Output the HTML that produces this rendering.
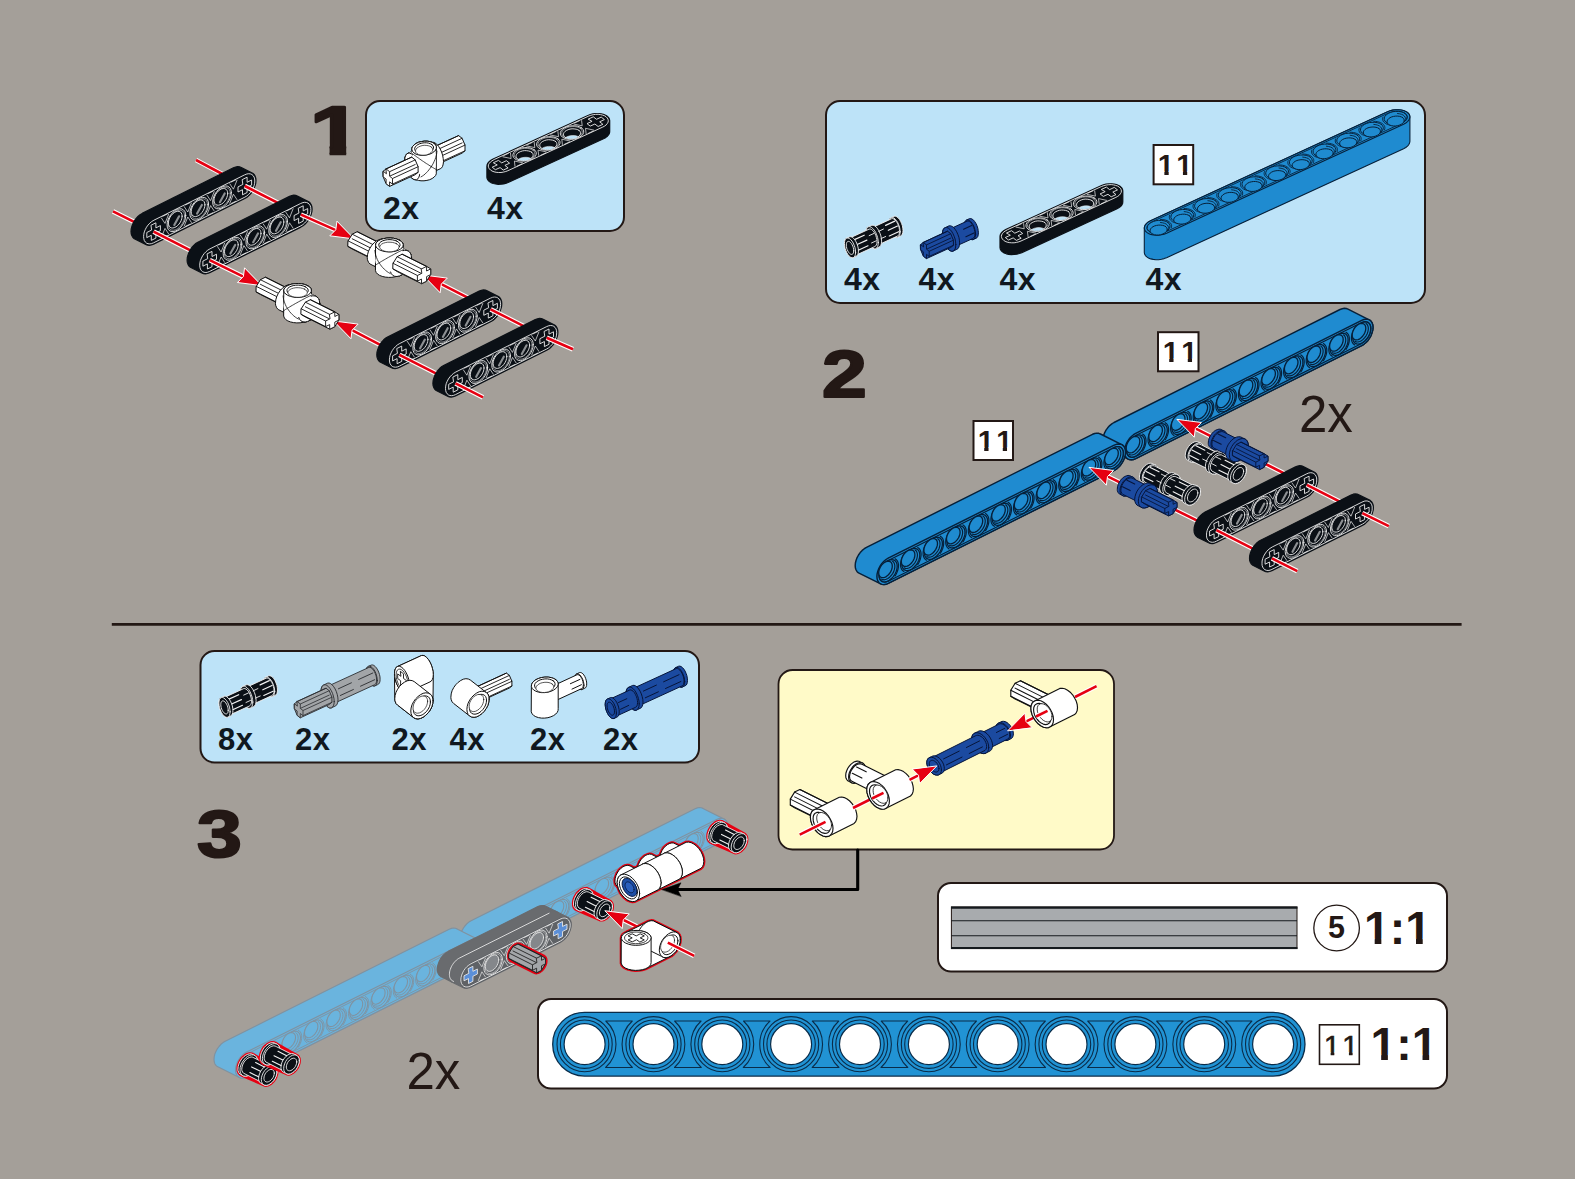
<!DOCTYPE html>
<html><head><meta charset="utf-8"><title>Building instructions</title>
<style>html,body{margin:0;padding:0;background:#a49f99;}svg{display:block}path{stroke-linejoin:round;stroke-linecap:round}</style></head>
<body><svg width="1575" height="1179" viewBox="0 0 1575 1179">
<rect width="1575" height="1179" fill="#a49f99"/>
<line x1="111.8" y1="624.4" x2="1461.6" y2="624.4" stroke="#231815" stroke-width="2.8"/>
<rect x="366" y="101" width="258" height="130" rx="14" ry="14" fill="#bde3f8" stroke="#231815" stroke-width="2"/>
<rect x="826" y="101" width="599" height="202" rx="14" ry="14" fill="#bde3f8" stroke="#231815" stroke-width="2"/>
<rect x="200.5" y="651" width="498.5" height="111.5" rx="14" ry="14" fill="#bde3f8" stroke="#231815" stroke-width="2"/>
<rect x="778.5" y="670" width="335.5" height="179.5" rx="14" ry="14" fill="#fffac8" stroke="#231815" stroke-width="1.8"/>
<rect x="938" y="883" width="509" height="88.5" rx="13" ry="13" fill="#ffffff" stroke="#231815" stroke-width="2"/>
<rect x="538" y="999" width="909" height="89.5" rx="13" ry="13" fill="#ffffff" stroke="#231815" stroke-width="2"/>
<line x1="113.0" y1="211.3" x2="153.6" y2="231.6" stroke="#fff" stroke-width="4.8"/><line x1="113.0" y1="211.3" x2="153.6" y2="231.6" stroke="#e60012" stroke-width="2.6"/>
<line x1="196.0" y1="160.0" x2="244.8" y2="186.0" stroke="#fff" stroke-width="4.8"/><line x1="196.0" y1="160.0" x2="244.8" y2="186.0" stroke="#e60012" stroke-width="2.6"/>
<path d="M131.0,231.5 L131.2,228.9 L131.9,226.3 L132.9,223.6 L134.3,221.0 L136.0,218.6 L137.9,216.5 L140.0,214.7 L142.2,213.4 L233.4,167.8 L235.6,167.0 L237.7,166.6 L239.6,166.8 L241.3,167.5 L252.7,173.2 L254.1,174.4 L255.1,176.1 L255.8,178.1 L256.0,180.4 L255.8,183.0 L255.1,185.6 L254.1,188.3 L252.7,190.9 L251.0,193.3 L249.1,195.4 L247.0,197.2 L244.8,198.5 L153.6,244.1 L151.4,244.9 L149.3,245.3 L147.4,245.1 L145.7,244.4 L134.3,238.7 L132.9,237.5 L131.9,235.8 L131.2,233.8Z" fill="#0b1016" stroke="#0b1016" stroke-width="1.2"/>
<path d="M153.6,220.4 L151.6,221.6 L149.8,223.2 L148.0,225.1 L146.5,227.2 L145.3,229.5 L144.3,231.9 L143.8,234.3 L143.6,236.6 L143.8,238.7 L144.3,240.5 L145.3,242.0 L146.5,243.1 L148.0,243.7 L149.8,243.9 L151.6,243.6 L153.6,242.8 L244.8,197.2 L246.8,196.0 L248.6,194.4 L250.4,192.5 L251.9,190.4 L253.1,188.1 L254.1,185.7 L254.6,183.3 L254.8,181.0 L254.6,178.9 L254.1,177.1 L253.1,175.6 L251.9,174.5 L250.4,173.9 L248.6,173.7 L246.8,174.0 L244.8,174.8Z" fill="none" stroke="#ececec" stroke-width="0.9"/>
<path d="M151.3,225.1 L155.9,222.8 L155.9,227.9 L160.4,225.6 L160.4,230.7 L155.9,233.0 L155.9,238.1 L151.3,240.4 L151.3,235.3 L146.8,237.6 L146.8,232.5 L151.3,230.2Z" fill="#0b1016" stroke="#ececec" stroke-width="0.9"/>
<path d="M185.7,215.5 L185.5,213.2 L184.7,211.2 L183.4,209.8 L181.7,208.9 L179.7,208.8 L177.5,209.3 L175.3,210.4 L173.1,212.1 L171.1,214.3 L169.4,216.8 L168.1,219.5 L167.3,222.2 L167.1,224.9 L167.3,227.2 L168.1,229.2 L169.4,230.6 L171.1,231.5 L173.1,231.6 L175.3,231.1 L177.5,230.0 L179.7,228.3 L181.7,226.1 L183.4,223.6 L184.7,220.9 L185.5,218.2 L185.7,215.5Z" fill="none" stroke="#ececec" stroke-width="0.9"/>
<path d="M184.6,216.1 L184.4,214.0 L183.7,212.3 L182.5,211.0 L181.1,210.3 L179.3,210.2 L177.4,210.6 L175.4,211.6 L173.5,213.1 L171.7,215.0 L170.3,217.2 L169.1,219.6 L168.4,222.0 L168.2,224.3 L168.4,226.4 L169.1,228.1 L170.3,229.4 L171.7,230.1 L173.5,230.2 L175.4,229.8 L177.4,228.8 L179.3,227.3 L181.1,225.4 L182.5,223.2 L183.7,220.8 L184.4,218.4 L184.6,216.1Z" fill="none" stroke="#ececec" stroke-width="0.54"/>
<path d="M182.1,216.2 L181.9,214.5 L181.3,213.0 L180.4,212.0 L179.1,211.4 L177.7,211.3 L176.1,211.6 L174.4,212.5 L172.8,213.7 L171.4,215.3 L170.1,217.1 L169.2,219.1 L168.6,221.1 L168.4,223.1 L168.6,224.8 L169.2,226.2 L170.1,227.3 L171.4,227.9 L172.8,228.0 L174.4,227.6 L176.1,226.8 L177.7,225.6 L179.1,224.0 L180.4,222.1 L181.3,220.2 L181.9,218.1 L182.1,216.2Z" fill="#0b1016" stroke="#ececec" stroke-width="0.9"/>
<path d="M174.3,225.0 L179.1,216.3" fill="none" stroke="#8d9093" stroke-width="2.16"/>
<path d="M208.5,204.1 L208.3,201.8 L207.5,199.8 L206.2,198.4 L204.5,197.5 L202.5,197.4 L200.3,197.9 L198.1,199.0 L195.9,200.7 L193.9,202.9 L192.2,205.4 L190.9,208.1 L190.1,210.8 L189.9,213.5 L190.1,215.8 L190.9,217.8 L192.2,219.2 L193.9,220.1 L195.9,220.2 L198.1,219.7 L200.3,218.6 L202.5,216.9 L204.5,214.7 L206.2,212.2 L207.5,209.5 L208.3,206.8 L208.5,204.1Z" fill="none" stroke="#ececec" stroke-width="0.9"/>
<path d="M207.4,204.7 L207.2,202.6 L206.5,200.9 L205.3,199.6 L203.9,198.9 L202.1,198.8 L200.2,199.2 L198.2,200.2 L196.3,201.7 L194.5,203.6 L193.1,205.8 L191.9,208.2 L191.2,210.6 L191.0,212.9 L191.2,215.0 L191.9,216.7 L193.1,218.0 L194.5,218.7 L196.3,218.8 L198.2,218.4 L200.2,217.4 L202.1,215.9 L203.9,214.0 L205.3,211.8 L206.5,209.4 L207.2,207.0 L207.4,204.7Z" fill="none" stroke="#ececec" stroke-width="0.54"/>
<path d="M204.9,204.8 L204.7,203.1 L204.1,201.6 L203.2,200.6 L201.9,200.0 L200.5,199.9 L198.9,200.2 L197.2,201.1 L195.6,202.3 L194.2,203.9 L192.9,205.7 L192.0,207.7 L191.4,209.7 L191.2,211.7 L191.4,213.4 L192.0,214.8 L192.9,215.9 L194.2,216.5 L195.6,216.6 L197.2,216.2 L198.9,215.4 L200.5,214.2 L201.9,212.6 L203.2,210.7 L204.1,208.8 L204.7,206.7 L204.9,204.8Z" fill="#0b1016" stroke="#ececec" stroke-width="0.9"/>
<path d="M197.1,213.6 L201.9,204.9" fill="none" stroke="#8d9093" stroke-width="2.16"/>
<path d="M231.3,192.7 L231.1,190.4 L230.3,188.4 L229.0,187.0 L227.3,186.1 L225.3,186.0 L223.1,186.5 L220.9,187.6 L218.7,189.3 L216.7,191.5 L215.0,194.0 L213.7,196.7 L212.9,199.4 L212.7,202.1 L212.9,204.4 L213.7,206.4 L215.0,207.8 L216.7,208.7 L218.7,208.8 L220.9,208.3 L223.1,207.2 L225.3,205.5 L227.3,203.3 L229.0,200.8 L230.3,198.1 L231.1,195.4 L231.3,192.7Z" fill="none" stroke="#ececec" stroke-width="0.9"/>
<path d="M230.2,193.3 L230.0,191.2 L229.3,189.5 L228.1,188.2 L226.7,187.5 L224.9,187.4 L223.0,187.8 L221.0,188.8 L219.1,190.3 L217.3,192.2 L215.9,194.4 L214.7,196.8 L214.0,199.2 L213.8,201.5 L214.0,203.6 L214.7,205.3 L215.9,206.6 L217.3,207.3 L219.1,207.4 L221.0,207.0 L223.0,206.0 L224.9,204.5 L226.7,202.6 L228.1,200.4 L229.3,198.0 L230.0,195.6 L230.2,193.3Z" fill="none" stroke="#ececec" stroke-width="0.54"/>
<path d="M227.7,193.4 L227.5,191.7 L226.9,190.2 L226.0,189.2 L224.7,188.6 L223.3,188.5 L221.7,188.8 L220.0,189.7 L218.4,190.9 L217.0,192.5 L215.7,194.3 L214.8,196.3 L214.2,198.3 L214.0,200.2 L214.2,202.0 L214.8,203.4 L215.7,204.5 L217.0,205.1 L218.4,205.2 L220.0,204.8 L221.7,204.0 L223.3,202.8 L224.7,201.2 L226.0,199.3 L226.9,197.4 L227.5,195.3 L227.7,193.4Z" fill="#0b1016" stroke="#ececec" stroke-width="0.9"/>
<path d="M219.9,202.2 L224.7,193.5" fill="none" stroke="#8d9093" stroke-width="2.16"/>
<path d="M242.5,179.5 L247.1,177.2 L247.1,182.3 L251.6,180.0 L251.6,185.1 L247.1,187.4 L247.1,192.5 L242.5,194.8 L242.5,189.7 L238.0,192.0 L238.0,186.9 L242.5,184.6Z" fill="#0b1016" stroke="#ececec" stroke-width="0.9"/>
<path d="M161.4,218.0 L165.0,223.4 L168.6,214.4" fill="none" stroke="#ececec" stroke-width="0.72"/>
<path d="M162.7,216.3 L167.3,214.1" fill="none" stroke="#ececec" stroke-width="0.72"/>
<path d="M161.4,237.4 L165.0,228.4 L168.6,233.8" fill="none" stroke="#ececec" stroke-width="0.72"/>
<path d="M162.7,237.7 L167.3,235.5" fill="none" stroke="#ececec" stroke-width="0.72"/>
<path d="M184.2,206.6 L187.8,212.0 L191.4,203.0" fill="none" stroke="#ececec" stroke-width="0.72"/>
<path d="M185.5,204.9 L190.1,202.7" fill="none" stroke="#ececec" stroke-width="0.72"/>
<path d="M184.2,226.0 L187.8,217.0 L191.4,222.4" fill="none" stroke="#ececec" stroke-width="0.72"/>
<path d="M185.5,226.3 L190.1,224.1" fill="none" stroke="#ececec" stroke-width="0.72"/>
<path d="M207.0,195.2 L210.6,200.6 L214.2,191.6" fill="none" stroke="#ececec" stroke-width="0.72"/>
<path d="M208.3,193.5 L212.9,191.3" fill="none" stroke="#ececec" stroke-width="0.72"/>
<path d="M207.0,214.6 L210.6,205.6 L214.2,211.0" fill="none" stroke="#ececec" stroke-width="0.72"/>
<path d="M208.3,214.9 L212.9,212.7" fill="none" stroke="#ececec" stroke-width="0.72"/>
<path d="M229.8,183.8 L233.4,189.2 L237.0,180.2" fill="none" stroke="#ececec" stroke-width="0.72"/>
<path d="M231.1,182.1 L235.7,179.9" fill="none" stroke="#ececec" stroke-width="0.72"/>
<path d="M229.8,203.2 L233.4,194.2 L237.0,199.6" fill="none" stroke="#ececec" stroke-width="0.72"/>
<path d="M231.1,203.5 L235.7,201.3" fill="none" stroke="#ececec" stroke-width="0.72"/>
<line x1="153.6" y1="231.6" x2="209.7" y2="260.2" stroke="#fff" stroke-width="4.8"/><line x1="153.6" y1="231.6" x2="209.7" y2="260.2" stroke="#e60012" stroke-width="2.6"/>
<line x1="244.8" y1="186.0" x2="300.9" y2="214.6" stroke="#fff" stroke-width="4.8"/><line x1="244.8" y1="186.0" x2="300.9" y2="214.6" stroke="#e60012" stroke-width="2.6"/>
<path d="M187.1,260.1 L187.3,257.5 L188.0,254.9 L189.0,252.2 L190.4,249.6 L192.1,247.2 L194.0,245.1 L196.1,243.3 L198.3,242.0 L289.5,196.4 L291.7,195.6 L293.8,195.2 L295.7,195.4 L297.4,196.1 L308.8,201.8 L310.2,203.0 L311.2,204.7 L311.9,206.7 L312.1,209.0 L311.9,211.6 L311.2,214.2 L310.2,216.9 L308.8,219.5 L307.1,221.9 L305.2,224.0 L303.1,225.8 L300.9,227.1 L209.7,272.7 L207.5,273.5 L205.4,273.9 L203.5,273.7 L201.8,273.0 L190.4,267.3 L189.0,266.1 L188.0,264.4 L187.3,262.4Z" fill="#0b1016" stroke="#0b1016" stroke-width="1.2"/>
<path d="M209.7,249.0 L207.7,250.2 L205.9,251.8 L204.1,253.7 L202.6,255.8 L201.4,258.1 L200.4,260.5 L199.9,262.9 L199.7,265.2 L199.9,267.3 L200.4,269.1 L201.4,270.6 L202.6,271.7 L204.1,272.3 L205.9,272.5 L207.7,272.2 L209.7,271.4 L300.9,225.8 L302.9,224.6 L304.7,223.0 L306.5,221.1 L308.0,219.0 L309.2,216.7 L310.2,214.3 L310.7,211.9 L310.9,209.6 L310.7,207.5 L310.2,205.7 L309.2,204.2 L308.0,203.1 L306.5,202.5 L304.7,202.3 L302.9,202.6 L300.9,203.4Z" fill="none" stroke="#ececec" stroke-width="0.9"/>
<path d="M207.4,253.7 L212.0,251.4 L212.0,256.5 L216.5,254.2 L216.5,259.3 L212.0,261.6 L212.0,266.7 L207.4,269.0 L207.4,263.9 L202.9,266.2 L202.9,261.1 L207.4,258.8Z" fill="#0b1016" stroke="#ececec" stroke-width="0.9"/>
<path d="M241.8,244.1 L241.6,241.8 L240.8,239.8 L239.5,238.4 L237.8,237.5 L235.8,237.4 L233.6,237.9 L231.4,239.0 L229.2,240.7 L227.2,242.9 L225.5,245.4 L224.2,248.1 L223.4,250.8 L223.2,253.5 L223.4,255.8 L224.2,257.8 L225.5,259.2 L227.2,260.1 L229.2,260.2 L231.4,259.7 L233.6,258.6 L235.8,256.9 L237.8,254.7 L239.5,252.2 L240.8,249.5 L241.6,246.8 L241.8,244.1Z" fill="none" stroke="#ececec" stroke-width="0.9"/>
<path d="M240.7,244.7 L240.5,242.6 L239.8,240.9 L238.6,239.6 L237.2,238.9 L235.4,238.8 L233.5,239.2 L231.5,240.2 L229.6,241.7 L227.8,243.6 L226.4,245.8 L225.2,248.2 L224.5,250.6 L224.3,252.9 L224.5,255.0 L225.2,256.7 L226.4,258.0 L227.8,258.7 L229.6,258.8 L231.5,258.4 L233.5,257.4 L235.4,255.9 L237.2,254.0 L238.6,251.8 L239.8,249.4 L240.5,247.0 L240.7,244.7Z" fill="none" stroke="#ececec" stroke-width="0.54"/>
<path d="M238.2,244.8 L238.0,243.1 L237.4,241.6 L236.5,240.6 L235.2,240.0 L233.8,239.9 L232.2,240.2 L230.5,241.1 L228.9,242.3 L227.5,243.9 L226.2,245.7 L225.3,247.7 L224.7,249.7 L224.5,251.6 L224.7,253.4 L225.3,254.8 L226.2,255.9 L227.5,256.5 L228.9,256.6 L230.5,256.2 L232.2,255.4 L233.8,254.2 L235.2,252.6 L236.5,250.7 L237.4,248.8 L238.0,246.7 L238.2,244.8Z" fill="#0b1016" stroke="#ececec" stroke-width="0.9"/>
<path d="M230.4,253.6 L235.2,244.9" fill="none" stroke="#8d9093" stroke-width="2.16"/>
<path d="M264.6,232.7 L264.4,230.4 L263.6,228.4 L262.3,227.0 L260.6,226.1 L258.6,226.0 L256.4,226.5 L254.2,227.6 L252.0,229.3 L250.0,231.5 L248.3,234.0 L247.0,236.7 L246.2,239.4 L246.0,242.1 L246.2,244.4 L247.0,246.4 L248.3,247.8 L250.0,248.7 L252.0,248.8 L254.2,248.3 L256.4,247.2 L258.6,245.5 L260.6,243.3 L262.3,240.8 L263.6,238.1 L264.4,235.4 L264.6,232.7Z" fill="none" stroke="#ececec" stroke-width="0.9"/>
<path d="M263.5,233.3 L263.3,231.2 L262.6,229.5 L261.4,228.2 L260.0,227.5 L258.2,227.4 L256.3,227.8 L254.3,228.8 L252.4,230.3 L250.6,232.2 L249.2,234.4 L248.0,236.8 L247.3,239.2 L247.1,241.5 L247.3,243.6 L248.0,245.3 L249.2,246.6 L250.6,247.3 L252.4,247.4 L254.3,247.0 L256.3,246.0 L258.2,244.5 L260.0,242.6 L261.4,240.4 L262.6,238.0 L263.3,235.6 L263.5,233.3Z" fill="none" stroke="#ececec" stroke-width="0.54"/>
<path d="M261.0,233.4 L260.8,231.7 L260.2,230.2 L259.3,229.2 L258.0,228.6 L256.6,228.5 L255.0,228.8 L253.3,229.7 L251.7,230.9 L250.3,232.5 L249.0,234.3 L248.1,236.3 L247.5,238.3 L247.3,240.2 L247.5,242.0 L248.1,243.4 L249.0,244.5 L250.3,245.1 L251.7,245.2 L253.3,244.8 L255.0,244.0 L256.6,242.8 L258.0,241.2 L259.3,239.3 L260.2,237.4 L260.8,235.3 L261.0,233.4Z" fill="#0b1016" stroke="#ececec" stroke-width="0.9"/>
<path d="M253.2,242.2 L258.0,233.5" fill="none" stroke="#8d9093" stroke-width="2.16"/>
<path d="M287.4,221.3 L287.2,219.0 L286.4,217.0 L285.1,215.6 L283.4,214.7 L281.4,214.6 L279.2,215.1 L277.0,216.2 L274.8,217.9 L272.8,220.1 L271.1,222.6 L269.8,225.3 L269.0,228.0 L268.8,230.7 L269.0,233.0 L269.8,235.0 L271.1,236.4 L272.8,237.3 L274.8,237.4 L277.0,236.9 L279.2,235.8 L281.4,234.1 L283.4,231.9 L285.1,229.4 L286.4,226.7 L287.2,224.0 L287.4,221.3Z" fill="none" stroke="#ececec" stroke-width="0.9"/>
<path d="M286.3,221.9 L286.1,219.8 L285.4,218.1 L284.2,216.8 L282.8,216.1 L281.0,216.0 L279.1,216.4 L277.1,217.4 L275.2,218.9 L273.4,220.8 L272.0,223.0 L270.8,225.4 L270.1,227.8 L269.9,230.1 L270.1,232.2 L270.8,233.9 L272.0,235.2 L273.4,235.9 L275.2,236.0 L277.1,235.6 L279.1,234.6 L281.0,233.1 L282.8,231.2 L284.2,229.0 L285.4,226.6 L286.1,224.2 L286.3,221.9Z" fill="none" stroke="#ececec" stroke-width="0.54"/>
<path d="M283.8,222.0 L283.6,220.3 L283.0,218.8 L282.1,217.8 L280.8,217.2 L279.4,217.1 L277.8,217.4 L276.1,218.3 L274.5,219.5 L273.1,221.1 L271.8,222.9 L270.9,224.9 L270.3,226.9 L270.1,228.8 L270.3,230.6 L270.9,232.0 L271.8,233.1 L273.1,233.7 L274.5,233.8 L276.1,233.4 L277.8,232.6 L279.4,231.4 L280.8,229.8 L282.1,227.9 L283.0,226.0 L283.6,223.9 L283.8,222.0Z" fill="#0b1016" stroke="#ececec" stroke-width="0.9"/>
<path d="M276.0,230.8 L280.8,222.1" fill="none" stroke="#8d9093" stroke-width="2.16"/>
<path d="M298.6,208.1 L303.2,205.8 L303.2,210.9 L307.7,208.6 L307.7,213.7 L303.2,216.0 L303.2,221.1 L298.6,223.4 L298.6,218.3 L294.1,220.6 L294.1,215.5 L298.6,213.2Z" fill="#0b1016" stroke="#ececec" stroke-width="0.9"/>
<path d="M217.5,246.6 L221.1,252.0 L224.7,243.0" fill="none" stroke="#ececec" stroke-width="0.72"/>
<path d="M218.8,244.9 L223.4,242.7" fill="none" stroke="#ececec" stroke-width="0.72"/>
<path d="M217.5,266.0 L221.1,257.0 L224.7,262.4" fill="none" stroke="#ececec" stroke-width="0.72"/>
<path d="M218.8,266.3 L223.4,264.1" fill="none" stroke="#ececec" stroke-width="0.72"/>
<path d="M240.3,235.2 L243.9,240.6 L247.5,231.6" fill="none" stroke="#ececec" stroke-width="0.72"/>
<path d="M241.6,233.5 L246.2,231.3" fill="none" stroke="#ececec" stroke-width="0.72"/>
<path d="M240.3,254.6 L243.9,245.6 L247.5,251.0" fill="none" stroke="#ececec" stroke-width="0.72"/>
<path d="M241.6,254.9 L246.2,252.7" fill="none" stroke="#ececec" stroke-width="0.72"/>
<path d="M263.1,223.8 L266.7,229.2 L270.3,220.2" fill="none" stroke="#ececec" stroke-width="0.72"/>
<path d="M264.4,222.1 L269.0,219.9" fill="none" stroke="#ececec" stroke-width="0.72"/>
<path d="M263.1,243.2 L266.7,234.2 L270.3,239.6" fill="none" stroke="#ececec" stroke-width="0.72"/>
<path d="M264.4,243.5 L269.0,241.3" fill="none" stroke="#ececec" stroke-width="0.72"/>
<path d="M285.9,212.4 L289.5,217.8 L293.1,208.8" fill="none" stroke="#ececec" stroke-width="0.72"/>
<path d="M287.2,210.7 L291.8,208.5" fill="none" stroke="#ececec" stroke-width="0.72"/>
<path d="M285.9,231.8 L289.5,222.8 L293.1,228.2" fill="none" stroke="#ececec" stroke-width="0.72"/>
<path d="M287.2,232.1 L291.8,229.9" fill="none" stroke="#ececec" stroke-width="0.72"/>
<line x1="300.9" y1="214.6" x2="340.2" y2="232.1" stroke="#fff" stroke-width="4.8"/><line x1="300.9" y1="214.6" x2="340.2" y2="232.1" stroke="#e60012" stroke-width="2.6"/>
<path d="M353.9,238.9 L329.8,235.8 L335.8,229.8 L336.9,221.5Z" fill="#e60012" stroke="#fff" stroke-width="1"/>
<line x1="209.7" y1="260.2" x2="247.8" y2="278.8" stroke="#fff" stroke-width="4.8"/><line x1="209.7" y1="260.2" x2="247.8" y2="278.8" stroke="#e60012" stroke-width="2.6"/>
<path d="M261.5,285.6 L237.4,282.5 L243.4,276.5 L244.5,268.2Z" fill="#e60012" stroke="#fff" stroke-width="1"/>
<line x1="436.9" y1="281.8" x2="490.6" y2="309.3" stroke="#fff" stroke-width="4.8"/><line x1="436.9" y1="281.8" x2="490.6" y2="309.3" stroke="#e60012" stroke-width="2.6"/>
<path d="M423.2,275.0 L447.3,278.1 L441.3,284.1 L440.2,292.4Z" fill="#e60012" stroke="#fff" stroke-width="1"/>
<line x1="347.7" y1="327.8" x2="399.4" y2="354.9" stroke="#fff" stroke-width="4.8"/><line x1="347.7" y1="327.8" x2="399.4" y2="354.9" stroke="#e60012" stroke-width="2.6"/>
<path d="M334.0,321.0 L358.1,324.1 L352.1,330.1 L351.0,338.4Z" fill="#e60012" stroke="#fff" stroke-width="1"/>
<path d="M348.1,240.9 L352.2,234.2 L357.2,231.7 L381.6,243.9 L385.8,246.5 L385.8,252.1 L381.6,258.7 L376.6,261.2 L352.2,249.0 L348.1,246.5Z" fill="#fff" stroke="#111" stroke-width="1"/><path d="M376.6,246.4 L352.2,234.2" fill="none" stroke="#111" stroke-width="0.9"/><path d="M381.6,243.9 L357.3,231.7" fill="none" stroke="#111" stroke-width="0.9"/><path d="M372.5,258.7 L348.1,246.5" fill="none" stroke="#111" stroke-width="0.9"/><path d="M372.5,253.1 L348.1,240.9" fill="none" stroke="#111" stroke-width="0.9"/><path d="M376.6,251.0 L352.2,238.8" fill="none" stroke="#111" stroke-width="0.9"/><path d="M376.6,246.4 L381.6,243.9 L381.6,248.5 L385.8,246.5 L385.8,252.1 L381.6,254.1 L381.6,258.7 L376.6,261.2 L376.6,256.6 L372.5,258.7 L372.5,253.1 L376.6,251.0Z" fill="#fff" stroke="#111" stroke-width="0.9"/><path d="M367.3,257.4 L367.6,254.3 L368.5,251.2 L370.0,248.1 L371.9,245.2 L374.2,242.7 L376.7,240.8 L379.3,239.5 L381.8,238.9 L384.1,239.1 L386.0,240.0 L408.8,251.4 L410.3,253.1 L411.2,255.3 L411.5,258.0 L411.2,261.1 L410.3,264.2 L408.8,267.3 L406.9,270.2 L404.6,272.7 L402.1,274.6 L399.5,275.9 L397.0,276.5 L394.7,276.3 L392.8,275.4 L370.0,264.0 L368.5,262.3 L367.6,260.1Z" fill="#fff" stroke="#111" stroke-width="1"/><path d="M411.5,258.0 L411.2,255.3 L410.3,253.1 L408.8,251.4 L406.9,250.5 L404.6,250.3 L402.1,250.9 L399.5,252.2 L397.0,254.1 L394.7,256.6 L392.8,259.5 L391.3,262.6 L390.4,265.7 L390.1,268.8 L390.4,271.5 L391.3,273.7 L392.8,275.4 L394.7,276.3 L397.0,276.5 L399.5,275.9 L402.1,274.6 L404.6,272.7 L406.9,270.2 L408.8,267.3 L410.3,264.2 L411.2,261.1 L411.5,258.0Z" fill="#fff" stroke="#111" stroke-width="1"/><path d="M375.6,245.4 L375.8,243.7 L376.8,242.1 L378.5,240.7 L380.9,239.5 L383.7,238.6 L386.9,238.1 L390.2,238.0 L393.5,238.3 L396.6,239.0 L399.2,240.1 L401.3,241.4 L402.6,242.9 L403.2,244.5 L403.2,270.0 L403.0,271.7 L402.0,273.3 L400.3,274.7 L397.9,275.9 L395.1,276.8 L391.9,277.3 L388.6,277.4 L385.3,277.1 L382.2,276.4 L379.6,275.4 L377.5,274.0 L376.2,272.5 L375.6,270.9Z" fill="#fff" stroke="#111" stroke-width="1"/><path d="M399.2,240.1 L401.3,241.4 L402.6,242.9 L403.2,244.5 L403.0,246.2 L402.0,247.8 L400.3,249.2 L398.0,250.4 L395.1,251.3 L391.9,251.8 L388.6,251.9 L385.3,251.6 L382.2,250.9 L379.6,249.9 L377.5,248.5 L376.2,247.0 L375.6,245.4 L375.8,243.7 L376.8,242.1 L378.5,240.7 L380.8,239.5 L383.7,238.6 L386.9,238.1 L390.2,238.0 L393.5,238.3 L396.6,239.0 L399.2,240.1Z" fill="#fff" stroke="#111" stroke-width="1"/><path d="M396.9,241.2 L398.5,242.2 L399.6,243.4 L400.0,244.6 L399.9,245.9 L399.1,247.1 L397.8,248.2 L396.0,249.1 L393.8,249.8 L391.3,250.2 L388.8,250.3 L386.2,250.0 L383.9,249.5 L381.9,248.7 L380.3,247.7 L379.2,246.5 L378.8,245.3 L378.9,244.0 L379.7,242.8 L381.0,241.7 L382.8,240.8 L385.0,240.1 L387.5,239.7 L390.0,239.6 L392.6,239.9 L394.9,240.4 L396.9,241.2Z" fill="#fff" stroke="#111" stroke-width="1"/><path d="M396.2,243.6 L397.7,244.5 L398.6,245.6 L399.1,246.7 L398.9,247.9 L398.2,249.0 L397.0,250.0 L395.4,250.8 L393.4,251.4 L391.1,251.8 L388.8,251.8 L386.5,251.6 L384.4,251.1 L382.6,250.4 L381.1,249.5 L380.2,248.4 L379.7,247.3 L379.9,246.1 L380.6,245.0 L381.8,244.0 L383.4,243.2 L385.4,242.6 L387.7,242.2 L390.0,242.2 L392.3,242.4 L394.4,242.9 L396.2,243.6Z" fill="#fff" stroke="#111" stroke-width="0.7"/><path d="M384.4,265.9 L384.7,262.9 L385.6,259.7 L387.1,256.6 L389.0,253.7 L391.3,251.2 L393.8,249.3 L396.4,248.0 L398.9,247.4 L401.2,247.7 L403.1,248.6 L408.8,251.4 L410.3,253.1 L411.2,255.3 L411.5,258.0 L411.2,261.1 L410.3,264.2 L408.8,267.3 L406.9,270.2 L404.6,272.7 L402.1,274.6 L399.5,275.9 L397.0,276.5 L394.7,276.3 L392.8,275.4 L387.1,272.5 L385.6,270.9 L384.7,268.6Z" fill="#fff" stroke="none" stroke-width="0"/><path d="M411.5,258.0 L411.2,255.3 L410.3,253.1 L408.8,251.4 L406.9,250.5 L404.6,250.3 L402.1,250.9 L399.5,252.2 L397.0,254.1 L394.7,256.6 L392.8,259.5 L391.3,262.6 L390.4,265.7 L390.1,268.8 L390.4,271.5 L391.3,273.7 L392.8,275.4 L394.7,276.3 L397.0,276.5 L399.5,275.9 L402.1,274.6 L404.6,272.7 L406.9,270.2 L408.8,267.3 L410.3,264.2 L411.2,261.1 L411.5,258.0Z" fill="#fff" stroke="#111" stroke-width="1"/><path d="M375.3,260.2 L375.6,257.5 L376.6,251.4 L377.5,249.9 L379.1,248.6 L383.7,245.4 L386.0,244.2 L388.2,243.8 L390.3,243.9 L398.6,248.0 L401.1,249.3 L402.4,250.8 L403.2,252.8 L403.5,255.2 L403.2,257.9 L402.2,264.0 L401.3,265.5 L399.7,266.8 L395.1,270.0 L392.8,271.1 L390.6,271.6 L388.5,271.5 L380.2,267.4 L377.7,266.1 L376.4,264.6 L375.6,262.6Z" fill="#fff" stroke="none" stroke-width="0"/><path d="M399.2,240.1 L401.3,241.4 L402.6,242.9 L403.2,244.5 L403.0,246.2 L402.0,247.8 L400.3,249.2 L398.0,250.4 L395.1,251.3 L391.9,251.8 L388.6,251.9 L385.3,251.6 L382.2,250.9 L379.6,249.9 L377.5,248.5 L376.2,247.0 L375.6,245.4 L375.8,243.7 L376.8,242.1 L378.5,240.7 L380.8,239.5 L383.7,238.6 L386.9,238.1 L390.2,238.0 L393.5,238.3 L396.6,239.0 L399.2,240.1Z" fill="#fff" stroke="#111" stroke-width="1"/><path d="M396.9,241.2 L398.5,242.2 L399.6,243.4 L400.0,244.6 L399.9,245.9 L399.1,247.1 L397.8,248.2 L396.0,249.1 L393.8,249.8 L391.3,250.2 L388.8,250.3 L386.2,250.0 L383.9,249.5 L381.9,248.7 L380.3,247.7 L379.2,246.5 L378.8,245.3 L378.9,244.0 L379.7,242.8 L381.0,241.7 L382.8,240.8 L385.0,240.1 L387.5,239.7 L390.0,239.6 L392.6,239.9 L394.9,240.4 L396.9,241.2Z" fill="#fff" stroke="#111" stroke-width="1"/><path d="M396.2,243.6 L397.7,244.5 L398.6,245.6 L399.1,246.7 L398.9,247.9 L398.2,249.0 L397.0,250.0 L395.4,250.8 L393.4,251.4 L391.1,251.8 L388.8,251.8 L386.5,251.6 L384.4,251.1 L382.6,250.4 L381.1,249.5 L380.2,248.4 L379.7,247.3 L379.9,246.1 L380.6,245.0 L381.8,244.0 L383.4,243.2 L385.4,242.6 L387.7,242.2 L390.0,242.2 L392.3,242.4 L394.4,242.9 L396.2,243.6Z" fill="#fff" stroke="#111" stroke-width="0.7"/><path d="M403.7,249.6 L403.4,249.6 L402.9,249.8 L402.3,250.1 L401.6,250.4 L400.7,250.9 L399.7,251.4 L398.5,251.9 L397.3,252.6 L396.0,253.3 L394.6,254.0 L393.2,254.8 L391.7,255.6 L390.2,256.4 L388.6,257.3 L387.1,258.1 L385.6,259.0 L384.2,259.8 L382.8,260.6 L381.5,261.4 L380.3,262.1 L379.1,262.8 L378.1,263.5 L377.2,264.0 L376.5,264.5 L375.9,265.0 L375.4,265.3 L375.1,265.6 L374.9,265.8" fill="none" stroke="#111" stroke-width="0.8"/><path d="M374.9,250.4 L375.1,252.1 L375.4,253.8 L375.9,255.6 L376.5,257.4 L377.2,259.3 L378.1,261.1 L379.1,262.8 L380.3,264.5 L381.5,266.2 L382.8,267.7 L384.2,269.1 L385.6,270.4 L387.1,271.6 L388.6,272.6 L390.2,273.5" fill="none" stroke="#111" stroke-width="0.8"/><path d="M393.1,263.3 L397.1,256.7 L402.2,254.2 L426.6,266.4 L430.7,268.9 L430.7,274.5 L426.6,281.2 L421.6,283.7 L397.1,271.5 L393.1,268.9Z" fill="#fff" stroke="#111" stroke-width="1"/><path d="M421.5,268.9 L397.2,256.7" fill="none" stroke="#111" stroke-width="0.9"/><path d="M426.6,266.4 L402.2,254.2" fill="none" stroke="#111" stroke-width="0.9"/><path d="M417.4,281.1 L393.0,268.9" fill="none" stroke="#111" stroke-width="0.9"/><path d="M417.4,275.5 L393.0,263.3" fill="none" stroke="#111" stroke-width="0.9"/><path d="M421.5,273.5 L397.2,261.3" fill="none" stroke="#111" stroke-width="0.9"/><path d="M421.5,268.9 L426.6,266.4 L426.6,271.0 L430.7,268.9 L430.7,274.5 L426.6,276.6 L426.6,281.2 L421.5,283.7 L421.5,279.1 L417.4,281.1 L417.4,275.5 L421.5,273.5Z" fill="#fff" stroke="#111" stroke-width="0.9"/>
<path d="M256.3,286.4 L260.4,279.7 L265.4,277.2 L289.9,289.4 L293.9,292.0 L293.9,297.6 L289.9,304.2 L284.8,306.7 L260.4,294.5 L256.3,292.0Z" fill="#fff" stroke="#111" stroke-width="1"/><path d="M284.8,291.9 L260.4,279.7" fill="none" stroke="#111" stroke-width="0.9"/><path d="M289.8,289.4 L265.5,277.2" fill="none" stroke="#111" stroke-width="0.9"/><path d="M280.7,304.2 L256.3,292.0" fill="none" stroke="#111" stroke-width="0.9"/><path d="M280.7,298.6 L256.3,286.4" fill="none" stroke="#111" stroke-width="0.9"/><path d="M284.8,296.5 L260.4,284.3" fill="none" stroke="#111" stroke-width="0.9"/><path d="M284.8,291.9 L289.8,289.4 L289.8,294.0 L294.0,292.0 L294.0,297.6 L289.8,299.6 L289.8,304.2 L284.8,306.7 L284.8,302.1 L280.7,304.2 L280.7,298.6 L284.8,296.5Z" fill="#fff" stroke="#111" stroke-width="0.9"/><path d="M275.5,302.9 L275.8,299.8 L276.7,296.7 L278.2,293.6 L280.1,290.7 L282.4,288.2 L284.9,286.2 L287.5,285.0 L290.0,284.4 L292.3,284.6 L294.2,285.5 L317.0,296.9 L318.5,298.6 L319.4,300.8 L319.7,303.5 L319.4,306.6 L318.5,309.7 L317.0,312.8 L315.1,315.7 L312.8,318.2 L310.3,320.1 L307.7,321.4 L305.2,322.0 L302.9,321.8 L301.0,320.9 L278.2,309.5 L276.7,307.8 L275.8,305.6Z" fill="#fff" stroke="#111" stroke-width="1"/><path d="M319.7,303.5 L319.4,300.8 L318.5,298.6 L317.0,296.9 L315.1,296.0 L312.8,295.8 L310.3,296.4 L307.7,297.7 L305.2,299.6 L302.9,302.1 L301.0,305.0 L299.5,308.1 L298.6,311.2 L298.3,314.3 L298.6,317.0 L299.5,319.2 L301.0,320.9 L302.9,321.8 L305.2,322.0 L307.7,321.4 L310.3,320.1 L312.8,318.2 L315.1,315.7 L317.0,312.8 L318.5,309.7 L319.4,306.6 L319.7,303.5Z" fill="#fff" stroke="#111" stroke-width="1"/><path d="M283.8,290.9 L284.0,289.2 L285.0,287.6 L286.7,286.2 L289.1,285.0 L291.9,284.1 L295.1,283.6 L298.4,283.5 L301.7,283.8 L304.8,284.5 L307.4,285.6 L309.5,286.9 L310.8,288.4 L311.4,290.0 L311.4,315.5 L311.2,317.2 L310.2,318.8 L308.5,320.2 L306.1,321.4 L303.3,322.3 L300.1,322.8 L296.8,322.9 L293.5,322.6 L290.4,321.9 L287.8,320.9 L285.7,319.5 L284.4,318.0 L283.8,316.4Z" fill="#fff" stroke="#111" stroke-width="1"/><path d="M307.4,285.6 L309.5,286.9 L310.8,288.4 L311.4,290.0 L311.2,291.7 L310.2,293.3 L308.5,294.7 L306.2,295.9 L303.3,296.8 L300.1,297.3 L296.8,297.4 L293.5,297.1 L290.4,296.4 L287.8,295.4 L285.7,294.0 L284.4,292.5 L283.8,290.9 L284.0,289.2 L285.0,287.6 L286.7,286.2 L289.0,285.0 L291.9,284.1 L295.1,283.6 L298.4,283.5 L301.7,283.8 L304.8,284.5 L307.4,285.6Z" fill="#fff" stroke="#111" stroke-width="1"/><path d="M305.1,286.7 L306.7,287.7 L307.8,288.9 L308.2,290.1 L308.1,291.4 L307.3,292.6 L306.0,293.7 L304.2,294.6 L302.0,295.3 L299.5,295.7 L297.0,295.8 L294.4,295.5 L292.1,295.0 L290.1,294.2 L288.5,293.2 L287.4,292.0 L287.0,290.8 L287.1,289.5 L287.9,288.3 L289.2,287.2 L291.0,286.3 L293.2,285.6 L295.7,285.2 L298.2,285.1 L300.8,285.4 L303.1,285.9 L305.1,286.7Z" fill="#fff" stroke="#111" stroke-width="1"/><path d="M304.4,289.1 L305.9,290.0 L306.8,291.1 L307.3,292.2 L307.1,293.4 L306.4,294.5 L305.2,295.5 L303.6,296.3 L301.6,296.9 L299.3,297.3 L297.0,297.3 L294.7,297.1 L292.6,296.6 L290.8,295.9 L289.3,295.0 L288.4,293.9 L287.9,292.8 L288.1,291.6 L288.8,290.5 L290.0,289.5 L291.6,288.7 L293.6,288.1 L295.9,287.7 L298.2,287.7 L300.5,287.9 L302.6,288.4 L304.4,289.1Z" fill="#fff" stroke="#111" stroke-width="0.7"/><path d="M292.6,311.4 L292.9,308.4 L293.8,305.2 L295.3,302.1 L297.2,299.2 L299.5,296.8 L302.0,294.8 L304.6,293.5 L307.1,292.9 L309.4,293.1 L311.3,294.1 L317.0,296.9 L318.5,298.6 L319.4,300.8 L319.7,303.5 L319.4,306.6 L318.5,309.7 L317.0,312.8 L315.1,315.7 L312.8,318.2 L310.3,320.1 L307.7,321.4 L305.2,322.0 L302.9,321.8 L301.0,320.9 L295.3,318.0 L293.8,316.4 L292.9,314.1Z" fill="#fff" stroke="none" stroke-width="0"/><path d="M319.7,303.5 L319.4,300.8 L318.5,298.6 L317.0,296.9 L315.1,296.0 L312.8,295.8 L310.3,296.4 L307.7,297.7 L305.2,299.6 L302.9,302.1 L301.0,305.0 L299.5,308.1 L298.6,311.2 L298.3,314.3 L298.6,317.0 L299.5,319.2 L301.0,320.9 L302.9,321.8 L305.2,322.0 L307.7,321.4 L310.3,320.1 L312.8,318.2 L315.1,315.7 L317.0,312.8 L318.5,309.7 L319.4,306.6 L319.7,303.5Z" fill="#fff" stroke="#111" stroke-width="1"/><path d="M283.5,305.7 L283.8,303.0 L284.8,296.9 L285.7,295.4 L287.3,294.1 L291.9,290.9 L294.2,289.8 L296.4,289.2 L298.5,289.4 L306.8,293.5 L309.3,294.8 L310.6,296.3 L311.4,298.3 L311.7,300.7 L311.4,303.4 L310.4,309.5 L309.5,311.0 L307.9,312.3 L303.3,315.5 L301.0,316.6 L298.8,317.1 L296.7,317.0 L288.4,312.9 L285.9,311.6 L284.6,310.1 L283.8,308.1Z" fill="#fff" stroke="none" stroke-width="0"/><path d="M307.4,285.6 L309.5,286.9 L310.8,288.4 L311.4,290.0 L311.2,291.7 L310.2,293.3 L308.5,294.7 L306.2,295.9 L303.3,296.8 L300.1,297.3 L296.8,297.4 L293.5,297.1 L290.4,296.4 L287.8,295.4 L285.7,294.0 L284.4,292.5 L283.8,290.9 L284.0,289.2 L285.0,287.6 L286.7,286.2 L289.0,285.0 L291.9,284.1 L295.1,283.6 L298.4,283.5 L301.7,283.8 L304.8,284.5 L307.4,285.6Z" fill="#fff" stroke="#111" stroke-width="1"/><path d="M305.1,286.7 L306.7,287.7 L307.8,288.9 L308.2,290.1 L308.1,291.4 L307.3,292.6 L306.0,293.7 L304.2,294.6 L302.0,295.3 L299.5,295.7 L297.0,295.8 L294.4,295.5 L292.1,295.0 L290.1,294.2 L288.5,293.2 L287.4,292.0 L287.0,290.8 L287.1,289.5 L287.9,288.3 L289.2,287.2 L291.0,286.3 L293.2,285.6 L295.7,285.2 L298.2,285.1 L300.8,285.4 L303.1,285.9 L305.1,286.7Z" fill="#fff" stroke="#111" stroke-width="1"/><path d="M304.4,289.1 L305.9,290.0 L306.8,291.1 L307.3,292.2 L307.1,293.4 L306.4,294.5 L305.2,295.5 L303.6,296.3 L301.6,296.9 L299.3,297.3 L297.0,297.3 L294.7,297.1 L292.6,296.6 L290.8,295.9 L289.3,295.0 L288.4,293.9 L287.9,292.8 L288.1,291.6 L288.8,290.5 L290.0,289.5 L291.6,288.7 L293.6,288.1 L295.9,287.7 L298.2,287.7 L300.5,287.9 L302.6,288.4 L304.4,289.1Z" fill="#fff" stroke="#111" stroke-width="0.7"/><path d="M311.9,295.1 L311.6,295.1 L311.1,295.3 L310.5,295.6 L309.8,295.9 L308.9,296.4 L307.9,296.9 L306.7,297.4 L305.5,298.1 L304.2,298.8 L302.8,299.5 L301.4,300.3 L299.9,301.1 L298.4,301.9 L296.8,302.8 L295.3,303.6 L293.8,304.5 L292.4,305.3 L291.0,306.1 L289.7,306.9 L288.5,307.6 L287.3,308.3 L286.3,309.0 L285.4,309.5 L284.7,310.0 L284.1,310.5 L283.6,310.8 L283.3,311.1 L283.1,311.3" fill="none" stroke="#111" stroke-width="0.8"/><path d="M283.1,295.9 L283.3,297.6 L283.6,299.3 L284.1,301.1 L284.7,302.9 L285.4,304.8 L286.3,306.6 L287.3,308.3 L288.5,310.0 L289.7,311.7 L291.0,313.2 L292.4,314.6 L293.8,315.9 L295.3,317.1 L296.8,318.1 L298.4,319.0" fill="none" stroke="#111" stroke-width="0.8"/><path d="M301.2,308.8 L305.4,302.2 L310.4,299.7 L334.8,311.9 L338.9,314.4 L338.9,320.0 L334.8,326.7 L329.8,329.2 L305.4,317.0 L301.2,314.4Z" fill="#fff" stroke="#111" stroke-width="1"/><path d="M329.7,314.4 L305.4,302.2" fill="none" stroke="#111" stroke-width="0.9"/><path d="M334.8,311.9 L310.4,299.7" fill="none" stroke="#111" stroke-width="0.9"/><path d="M325.6,326.6 L301.2,314.4" fill="none" stroke="#111" stroke-width="0.9"/><path d="M325.6,321.0 L301.2,308.8" fill="none" stroke="#111" stroke-width="0.9"/><path d="M329.7,319.0 L305.4,306.8" fill="none" stroke="#111" stroke-width="0.9"/><path d="M329.7,314.4 L334.8,311.9 L334.8,316.5 L338.9,314.4 L338.9,320.0 L334.8,322.1 L334.8,326.7 L329.7,329.2 L329.7,324.6 L325.6,326.6 L325.6,321.0 L329.7,319.0Z" fill="#fff" stroke="#111" stroke-width="0.9"/>
<path d="M376.8,354.8 L377.0,352.2 L377.7,349.6 L378.7,346.9 L380.1,344.3 L381.8,341.9 L383.7,339.8 L385.8,338.0 L388.0,336.7 L479.2,291.1 L481.4,290.3 L483.5,289.9 L485.4,290.1 L487.1,290.8 L498.5,296.5 L499.9,297.7 L500.9,299.4 L501.6,301.4 L501.8,303.7 L501.6,306.3 L500.9,308.9 L499.9,311.6 L498.5,314.2 L496.8,316.6 L494.9,318.7 L492.8,320.5 L490.6,321.8 L399.4,367.4 L397.2,368.2 L395.1,368.6 L393.2,368.4 L391.5,367.7 L380.1,362.0 L378.7,360.8 L377.7,359.1 L377.0,357.1Z" fill="#0b1016" stroke="#0b1016" stroke-width="1.2"/>
<path d="M399.4,343.7 L397.4,344.9 L395.6,346.5 L393.8,348.4 L392.3,350.5 L391.1,352.8 L390.1,355.2 L389.6,357.6 L389.4,359.9 L389.6,362.0 L390.1,363.8 L391.1,365.3 L392.3,366.4 L393.8,367.0 L395.6,367.2 L397.4,366.9 L399.4,366.1 L490.6,320.5 L492.6,319.3 L494.4,317.7 L496.2,315.8 L497.7,313.7 L498.9,311.4 L499.9,309.0 L500.4,306.6 L500.6,304.3 L500.4,302.2 L499.9,300.4 L498.9,298.9 L497.7,297.8 L496.2,297.2 L494.4,297.0 L492.6,297.3 L490.6,298.1Z" fill="none" stroke="#ececec" stroke-width="0.9"/>
<path d="M397.1,348.4 L401.7,346.1 L401.7,351.2 L406.2,348.9 L406.2,354.0 L401.7,356.3 L401.7,361.4 L397.1,363.7 L397.1,358.6 L392.6,360.9 L392.6,355.8 L397.1,353.5Z" fill="#0b1016" stroke="#ececec" stroke-width="0.9"/>
<path d="M431.5,338.8 L431.3,336.5 L430.5,334.5 L429.2,333.1 L427.5,332.2 L425.5,332.1 L423.3,332.6 L421.1,333.7 L418.9,335.4 L416.9,337.6 L415.2,340.1 L413.9,342.8 L413.1,345.5 L412.9,348.2 L413.1,350.5 L413.9,352.5 L415.2,353.9 L416.9,354.8 L418.9,354.9 L421.1,354.4 L423.3,353.3 L425.5,351.6 L427.5,349.4 L429.2,346.9 L430.5,344.2 L431.3,341.5 L431.5,338.8Z" fill="none" stroke="#ececec" stroke-width="0.9"/>
<path d="M430.4,339.4 L430.2,337.3 L429.5,335.6 L428.3,334.3 L426.9,333.6 L425.1,333.5 L423.2,333.9 L421.2,334.9 L419.3,336.4 L417.5,338.3 L416.1,340.5 L414.9,342.9 L414.2,345.3 L414.0,347.6 L414.2,349.7 L414.9,351.4 L416.1,352.7 L417.5,353.4 L419.3,353.5 L421.2,353.1 L423.2,352.1 L425.1,350.6 L426.9,348.7 L428.3,346.5 L429.5,344.1 L430.2,341.7 L430.4,339.4Z" fill="none" stroke="#ececec" stroke-width="0.54"/>
<path d="M427.9,339.5 L427.7,337.8 L427.1,336.3 L426.2,335.3 L424.9,334.7 L423.5,334.6 L421.9,334.9 L420.2,335.8 L418.6,337.0 L417.2,338.6 L415.9,340.4 L415.0,342.4 L414.4,344.4 L414.2,346.3 L414.4,348.1 L415.0,349.5 L415.9,350.6 L417.2,351.2 L418.6,351.3 L420.2,350.9 L421.9,350.1 L423.5,348.9 L424.9,347.3 L426.2,345.4 L427.1,343.5 L427.7,341.4 L427.9,339.5Z" fill="#0b1016" stroke="#ececec" stroke-width="0.9"/>
<path d="M420.1,348.3 L424.9,339.6" fill="none" stroke="#8d9093" stroke-width="2.16"/>
<path d="M454.3,327.4 L454.1,325.1 L453.3,323.1 L452.0,321.7 L450.3,320.8 L448.3,320.7 L446.1,321.2 L443.9,322.3 L441.7,324.0 L439.7,326.2 L438.0,328.7 L436.7,331.4 L435.9,334.1 L435.7,336.8 L435.9,339.1 L436.7,341.1 L438.0,342.5 L439.7,343.4 L441.7,343.5 L443.9,343.0 L446.1,341.9 L448.3,340.2 L450.3,338.0 L452.0,335.5 L453.3,332.8 L454.1,330.1 L454.3,327.4Z" fill="none" stroke="#ececec" stroke-width="0.9"/>
<path d="M453.2,328.0 L453.0,325.9 L452.3,324.2 L451.1,322.9 L449.7,322.2 L447.9,322.1 L446.0,322.5 L444.0,323.5 L442.1,325.0 L440.3,326.9 L438.9,329.1 L437.7,331.5 L437.0,333.9 L436.8,336.2 L437.0,338.3 L437.7,340.0 L438.9,341.3 L440.3,342.0 L442.1,342.1 L444.0,341.7 L446.0,340.7 L447.9,339.2 L449.7,337.3 L451.1,335.1 L452.3,332.7 L453.0,330.3 L453.2,328.0Z" fill="none" stroke="#ececec" stroke-width="0.54"/>
<path d="M450.7,328.1 L450.5,326.4 L449.9,324.9 L449.0,323.9 L447.7,323.3 L446.3,323.2 L444.7,323.5 L443.0,324.4 L441.4,325.6 L440.0,327.2 L438.7,329.0 L437.8,331.0 L437.2,333.0 L437.0,334.9 L437.2,336.7 L437.8,338.1 L438.7,339.2 L440.0,339.8 L441.4,339.9 L443.0,339.5 L444.7,338.7 L446.3,337.5 L447.7,335.9 L449.0,334.0 L449.9,332.1 L450.5,330.0 L450.7,328.1Z" fill="#0b1016" stroke="#ececec" stroke-width="0.9"/>
<path d="M442.9,336.9 L447.7,328.2" fill="none" stroke="#8d9093" stroke-width="2.16"/>
<path d="M477.1,316.0 L476.9,313.7 L476.1,311.7 L474.8,310.3 L473.1,309.4 L471.1,309.3 L468.9,309.8 L466.7,310.9 L464.5,312.6 L462.5,314.8 L460.8,317.3 L459.5,320.0 L458.7,322.7 L458.5,325.4 L458.7,327.7 L459.5,329.7 L460.8,331.1 L462.5,332.0 L464.5,332.1 L466.7,331.6 L468.9,330.5 L471.1,328.8 L473.1,326.6 L474.8,324.1 L476.1,321.4 L476.9,318.7 L477.1,316.0Z" fill="none" stroke="#ececec" stroke-width="0.9"/>
<path d="M476.0,316.6 L475.8,314.5 L475.1,312.8 L473.9,311.5 L472.5,310.8 L470.7,310.7 L468.8,311.1 L466.8,312.1 L464.9,313.6 L463.1,315.5 L461.7,317.7 L460.5,320.1 L459.8,322.5 L459.6,324.8 L459.8,326.9 L460.5,328.6 L461.7,329.9 L463.1,330.6 L464.9,330.7 L466.8,330.3 L468.8,329.3 L470.7,327.8 L472.5,325.9 L473.9,323.7 L475.1,321.3 L475.8,318.9 L476.0,316.6Z" fill="none" stroke="#ececec" stroke-width="0.54"/>
<path d="M473.5,316.7 L473.3,315.0 L472.7,313.5 L471.8,312.5 L470.5,311.9 L469.1,311.8 L467.5,312.1 L465.8,313.0 L464.2,314.2 L462.8,315.8 L461.5,317.6 L460.6,319.6 L460.0,321.6 L459.8,323.5 L460.0,325.3 L460.6,326.7 L461.5,327.8 L462.8,328.4 L464.2,328.5 L465.8,328.1 L467.5,327.3 L469.1,326.1 L470.5,324.5 L471.8,322.6 L472.7,320.7 L473.3,318.6 L473.5,316.7Z" fill="#0b1016" stroke="#ececec" stroke-width="0.9"/>
<path d="M465.7,325.5 L470.5,316.8" fill="none" stroke="#8d9093" stroke-width="2.16"/>
<path d="M488.3,302.8 L492.9,300.5 L492.9,305.6 L497.4,303.3 L497.4,308.4 L492.9,310.7 L492.9,315.8 L488.3,318.1 L488.3,313.0 L483.8,315.3 L483.8,310.2 L488.3,307.9Z" fill="#0b1016" stroke="#ececec" stroke-width="0.9"/>
<path d="M407.2,341.3 L410.8,346.7 L414.4,337.7" fill="none" stroke="#ececec" stroke-width="0.72"/>
<path d="M408.5,339.6 L413.1,337.4" fill="none" stroke="#ececec" stroke-width="0.72"/>
<path d="M407.2,360.7 L410.8,351.7 L414.4,357.1" fill="none" stroke="#ececec" stroke-width="0.72"/>
<path d="M408.5,361.0 L413.1,358.8" fill="none" stroke="#ececec" stroke-width="0.72"/>
<path d="M430.0,329.9 L433.6,335.3 L437.2,326.3" fill="none" stroke="#ececec" stroke-width="0.72"/>
<path d="M431.3,328.2 L435.9,326.0" fill="none" stroke="#ececec" stroke-width="0.72"/>
<path d="M430.0,349.3 L433.6,340.3 L437.2,345.7" fill="none" stroke="#ececec" stroke-width="0.72"/>
<path d="M431.3,349.6 L435.9,347.4" fill="none" stroke="#ececec" stroke-width="0.72"/>
<path d="M452.8,318.5 L456.4,323.9 L460.0,314.9" fill="none" stroke="#ececec" stroke-width="0.72"/>
<path d="M454.1,316.8 L458.7,314.6" fill="none" stroke="#ececec" stroke-width="0.72"/>
<path d="M452.8,337.9 L456.4,328.9 L460.0,334.3" fill="none" stroke="#ececec" stroke-width="0.72"/>
<path d="M454.1,338.2 L458.7,336.0" fill="none" stroke="#ececec" stroke-width="0.72"/>
<path d="M475.6,307.1 L479.2,312.5 L482.8,303.5" fill="none" stroke="#ececec" stroke-width="0.72"/>
<path d="M476.9,305.4 L481.5,303.2" fill="none" stroke="#ececec" stroke-width="0.72"/>
<path d="M475.6,326.5 L479.2,317.5 L482.8,322.9" fill="none" stroke="#ececec" stroke-width="0.72"/>
<path d="M476.9,326.8 L481.5,324.6" fill="none" stroke="#ececec" stroke-width="0.72"/>
<line x1="399.4" y1="354.9" x2="455.5" y2="383.4" stroke="#fff" stroke-width="4.8"/><line x1="399.4" y1="354.9" x2="455.5" y2="383.4" stroke="#e60012" stroke-width="2.6"/>
<line x1="490.6" y1="309.3" x2="546.7" y2="337.8" stroke="#fff" stroke-width="4.8"/><line x1="490.6" y1="309.3" x2="546.7" y2="337.8" stroke="#e60012" stroke-width="2.6"/>
<path d="M432.9,383.3 L433.1,380.7 L433.8,378.1 L434.8,375.4 L436.2,372.8 L437.9,370.4 L439.8,368.3 L441.9,366.5 L444.1,365.2 L535.3,319.6 L537.5,318.8 L539.6,318.4 L541.5,318.6 L543.2,319.3 L554.6,325.0 L556.0,326.2 L557.0,327.9 L557.7,329.9 L557.9,332.2 L557.7,334.8 L557.0,337.4 L556.0,340.1 L554.6,342.7 L552.9,345.1 L551.0,347.2 L548.9,349.0 L546.7,350.3 L455.5,395.9 L453.3,396.7 L451.2,397.1 L449.3,396.9 L447.6,396.2 L436.2,390.5 L434.8,389.3 L433.8,387.6 L433.1,385.6Z" fill="#0b1016" stroke="#0b1016" stroke-width="1.2"/>
<path d="M455.5,372.2 L453.5,373.4 L451.7,375.0 L449.9,376.9 L448.4,379.0 L447.2,381.3 L446.2,383.7 L445.7,386.1 L445.5,388.4 L445.7,390.5 L446.2,392.3 L447.2,393.8 L448.4,394.9 L449.9,395.5 L451.7,395.7 L453.5,395.4 L455.5,394.6 L546.7,349.0 L548.7,347.8 L550.5,346.2 L552.3,344.3 L553.8,342.2 L555.0,339.9 L556.0,337.5 L556.5,335.1 L556.7,332.8 L556.5,330.7 L556.0,328.9 L555.0,327.4 L553.8,326.3 L552.3,325.7 L550.5,325.5 L548.7,325.8 L546.7,326.6Z" fill="none" stroke="#ececec" stroke-width="0.9"/>
<path d="M453.2,376.9 L457.8,374.6 L457.8,379.7 L462.3,377.4 L462.3,382.5 L457.8,384.8 L457.8,389.9 L453.2,392.2 L453.2,387.1 L448.7,389.4 L448.7,384.3 L453.2,382.0Z" fill="#0b1016" stroke="#ececec" stroke-width="0.9"/>
<path d="M487.6,367.3 L487.4,365.0 L486.6,363.0 L485.3,361.6 L483.6,360.7 L481.6,360.6 L479.4,361.1 L477.2,362.2 L475.0,363.9 L473.0,366.1 L471.3,368.6 L470.0,371.3 L469.2,374.0 L469.0,376.7 L469.2,379.0 L470.0,381.0 L471.3,382.4 L473.0,383.3 L475.0,383.4 L477.2,382.9 L479.4,381.8 L481.6,380.1 L483.6,377.9 L485.3,375.4 L486.6,372.7 L487.4,370.0 L487.6,367.3Z" fill="none" stroke="#ececec" stroke-width="0.9"/>
<path d="M486.5,367.9 L486.3,365.8 L485.6,364.1 L484.4,362.8 L483.0,362.1 L481.2,362.0 L479.3,362.4 L477.3,363.4 L475.4,364.9 L473.6,366.8 L472.2,369.0 L471.0,371.4 L470.3,373.8 L470.1,376.1 L470.3,378.2 L471.0,379.9 L472.2,381.2 L473.6,381.9 L475.4,382.0 L477.3,381.6 L479.3,380.6 L481.2,379.1 L483.0,377.2 L484.4,375.0 L485.6,372.6 L486.3,370.2 L486.5,367.9Z" fill="none" stroke="#ececec" stroke-width="0.54"/>
<path d="M484.0,368.0 L483.8,366.3 L483.2,364.8 L482.3,363.8 L481.0,363.2 L479.6,363.1 L478.0,363.4 L476.3,364.3 L474.7,365.5 L473.3,367.1 L472.0,368.9 L471.1,370.9 L470.5,372.9 L470.3,374.8 L470.5,376.6 L471.1,378.0 L472.0,379.1 L473.3,379.7 L474.7,379.8 L476.3,379.4 L478.0,378.6 L479.6,377.4 L481.0,375.8 L482.3,373.9 L483.2,372.0 L483.8,369.9 L484.0,368.0Z" fill="#0b1016" stroke="#ececec" stroke-width="0.9"/>
<path d="M476.2,376.8 L481.0,368.1" fill="none" stroke="#8d9093" stroke-width="2.16"/>
<path d="M510.4,355.9 L510.2,353.6 L509.4,351.6 L508.1,350.2 L506.4,349.3 L504.4,349.2 L502.2,349.7 L500.0,350.8 L497.8,352.5 L495.8,354.7 L494.1,357.2 L492.8,359.9 L492.0,362.6 L491.8,365.3 L492.0,367.6 L492.8,369.6 L494.1,371.0 L495.8,371.9 L497.8,372.0 L500.0,371.5 L502.2,370.4 L504.4,368.7 L506.4,366.5 L508.1,364.0 L509.4,361.3 L510.2,358.6 L510.4,355.9Z" fill="none" stroke="#ececec" stroke-width="0.9"/>
<path d="M509.3,356.5 L509.1,354.4 L508.4,352.7 L507.2,351.4 L505.8,350.7 L504.0,350.6 L502.1,351.0 L500.1,352.0 L498.2,353.5 L496.4,355.4 L495.0,357.6 L493.8,360.0 L493.1,362.4 L492.9,364.7 L493.1,366.8 L493.8,368.5 L495.0,369.8 L496.4,370.5 L498.2,370.6 L500.1,370.2 L502.1,369.2 L504.0,367.7 L505.8,365.8 L507.2,363.6 L508.4,361.2 L509.1,358.8 L509.3,356.5Z" fill="none" stroke="#ececec" stroke-width="0.54"/>
<path d="M506.8,356.6 L506.6,354.9 L506.0,353.4 L505.1,352.4 L503.8,351.8 L502.4,351.7 L500.8,352.0 L499.1,352.9 L497.5,354.1 L496.1,355.7 L494.8,357.5 L493.9,359.5 L493.3,361.5 L493.1,363.4 L493.3,365.2 L493.9,366.6 L494.8,367.7 L496.1,368.3 L497.5,368.4 L499.1,368.0 L500.8,367.2 L502.4,366.0 L503.8,364.4 L505.1,362.5 L506.0,360.6 L506.6,358.5 L506.8,356.6Z" fill="#0b1016" stroke="#ececec" stroke-width="0.9"/>
<path d="M499.0,365.4 L503.8,356.7" fill="none" stroke="#8d9093" stroke-width="2.16"/>
<path d="M533.2,344.5 L533.0,342.2 L532.2,340.2 L530.9,338.8 L529.2,337.9 L527.2,337.8 L525.0,338.3 L522.8,339.4 L520.6,341.1 L518.6,343.3 L516.9,345.8 L515.6,348.5 L514.8,351.2 L514.6,353.9 L514.8,356.2 L515.6,358.2 L516.9,359.6 L518.6,360.5 L520.6,360.6 L522.8,360.1 L525.0,359.0 L527.2,357.3 L529.2,355.1 L530.9,352.6 L532.2,349.9 L533.0,347.2 L533.2,344.5Z" fill="none" stroke="#ececec" stroke-width="0.9"/>
<path d="M532.1,345.1 L531.9,343.0 L531.2,341.3 L530.0,340.0 L528.6,339.3 L526.8,339.2 L524.9,339.6 L522.9,340.6 L521.0,342.1 L519.2,344.0 L517.8,346.2 L516.6,348.6 L515.9,351.0 L515.7,353.3 L515.9,355.4 L516.6,357.1 L517.8,358.4 L519.2,359.1 L521.0,359.2 L522.9,358.8 L524.9,357.8 L526.8,356.3 L528.6,354.4 L530.0,352.2 L531.2,349.8 L531.9,347.4 L532.1,345.1Z" fill="none" stroke="#ececec" stroke-width="0.54"/>
<path d="M529.6,345.2 L529.4,343.5 L528.8,342.0 L527.9,341.0 L526.6,340.4 L525.2,340.3 L523.6,340.6 L521.9,341.5 L520.3,342.7 L518.9,344.3 L517.6,346.1 L516.7,348.1 L516.1,350.1 L515.9,352.0 L516.1,353.8 L516.7,355.2 L517.6,356.3 L518.9,356.9 L520.3,357.0 L521.9,356.6 L523.6,355.8 L525.2,354.6 L526.6,353.0 L527.9,351.1 L528.8,349.2 L529.4,347.1 L529.6,345.2Z" fill="#0b1016" stroke="#ececec" stroke-width="0.9"/>
<path d="M521.8,354.0 L526.6,345.3" fill="none" stroke="#8d9093" stroke-width="2.16"/>
<path d="M544.4,331.3 L549.0,329.0 L549.0,334.1 L553.5,331.8 L553.5,336.9 L549.0,339.2 L549.0,344.3 L544.4,346.6 L544.4,341.5 L539.9,343.8 L539.9,338.7 L544.4,336.4Z" fill="#0b1016" stroke="#ececec" stroke-width="0.9"/>
<path d="M463.3,369.8 L466.9,375.2 L470.5,366.2" fill="none" stroke="#ececec" stroke-width="0.72"/>
<path d="M464.6,368.1 L469.2,365.9" fill="none" stroke="#ececec" stroke-width="0.72"/>
<path d="M463.3,389.2 L466.9,380.2 L470.5,385.6" fill="none" stroke="#ececec" stroke-width="0.72"/>
<path d="M464.6,389.5 L469.2,387.3" fill="none" stroke="#ececec" stroke-width="0.72"/>
<path d="M486.1,358.4 L489.7,363.8 L493.3,354.8" fill="none" stroke="#ececec" stroke-width="0.72"/>
<path d="M487.4,356.7 L492.0,354.5" fill="none" stroke="#ececec" stroke-width="0.72"/>
<path d="M486.1,377.8 L489.7,368.8 L493.3,374.2" fill="none" stroke="#ececec" stroke-width="0.72"/>
<path d="M487.4,378.1 L492.0,375.9" fill="none" stroke="#ececec" stroke-width="0.72"/>
<path d="M508.9,347.0 L512.5,352.4 L516.1,343.4" fill="none" stroke="#ececec" stroke-width="0.72"/>
<path d="M510.2,345.3 L514.8,343.1" fill="none" stroke="#ececec" stroke-width="0.72"/>
<path d="M508.9,366.4 L512.5,357.4 L516.1,362.8" fill="none" stroke="#ececec" stroke-width="0.72"/>
<path d="M510.2,366.7 L514.8,364.5" fill="none" stroke="#ececec" stroke-width="0.72"/>
<path d="M531.7,335.6 L535.3,341.0 L538.9,332.0" fill="none" stroke="#ececec" stroke-width="0.72"/>
<path d="M533.0,333.9 L537.6,331.7" fill="none" stroke="#ececec" stroke-width="0.72"/>
<path d="M531.7,355.0 L535.3,346.0 L538.9,351.4" fill="none" stroke="#ececec" stroke-width="0.72"/>
<path d="M533.0,355.3 L537.6,353.1" fill="none" stroke="#ececec" stroke-width="0.72"/>
<line x1="455.5" y1="383.4" x2="483.0" y2="397.3" stroke="#fff" stroke-width="4.8"/><line x1="455.5" y1="383.4" x2="483.0" y2="397.3" stroke="#e60012" stroke-width="2.6"/>
<line x1="546.7" y1="337.8" x2="573.0" y2="349.3" stroke="#fff" stroke-width="4.8"/><line x1="546.7" y1="337.8" x2="573.0" y2="349.3" stroke="#e60012" stroke-width="2.6"/>
<path d="M1102.7,440.8 L1102.9,438.2 L1103.6,435.5 L1104.6,432.8 L1106.0,430.2 L1107.7,427.8 L1109.7,425.6 L1111.8,423.9 L1114.0,422.5 L1340.0,309.5 L1342.2,308.7 L1344.3,308.3 L1346.3,308.5 L1348.0,309.2 L1369.7,320.1 L1371.1,321.3 L1372.1,322.9 L1372.8,325.0 L1373.0,327.4 L1372.8,329.9 L1372.1,332.6 L1371.1,335.3 L1369.7,337.9 L1368.0,340.4 L1366.0,342.5 L1363.9,344.3 L1361.7,345.6 L1135.7,458.6 L1133.5,459.5 L1131.4,459.8 L1129.4,459.6 L1127.7,458.9 L1106.0,448.1 L1104.6,446.9 L1103.6,445.2 L1102.9,443.2Z" fill="#1f8bd0" stroke="#06203a" stroke-width="1.45"/>
<path d="M1135.7,433.4 L1133.5,434.7 L1131.4,436.5 L1129.4,438.6 L1127.7,441.1 L1126.3,443.7 L1125.3,446.4 L1124.6,449.1 L1124.4,451.6 L1124.6,454.0 L1125.3,456.1 L1126.3,457.7 L1127.7,458.9 L1129.4,459.6 L1131.4,459.8 L1133.5,459.5 L1135.7,458.6 L1361.7,345.6 L1363.9,344.3 L1366.0,342.5 L1368.0,340.4 L1369.7,337.9 L1371.1,335.3 L1372.1,332.6 L1372.8,329.9 L1373.0,327.4 L1372.8,325.0 L1372.1,322.9 L1371.1,321.3 L1369.7,320.1 L1368.0,319.4 L1366.0,319.2 L1363.9,319.5 L1361.7,320.4Z" fill="#1f8bd0" stroke="#06203a" stroke-width="1.45"/>
<path d="M1135.7,435.6 L1133.9,436.7 L1132.2,438.2 L1130.6,440.0 L1129.1,442.0 L1128.0,444.1 L1127.1,446.3 L1126.6,448.5 L1126.4,450.6 L1126.6,452.6 L1127.1,454.2 L1128.0,455.6 L1129.1,456.6 L1130.6,457.2 L1132.2,457.3 L1133.9,457.1 L1135.7,456.4 L1361.7,343.4 L1363.5,342.3 L1365.2,340.8 L1366.8,339.0 L1368.3,337.0 L1369.4,334.9 L1370.3,332.7 L1370.8,330.5 L1371.0,328.4 L1370.8,326.4 L1370.3,324.8 L1369.4,323.4 L1368.3,322.4 L1366.8,321.8 L1365.2,321.7 L1363.5,321.9 L1361.7,322.6Z" fill="none" stroke="#06203a" stroke-width="1.16"/>
<path d="M1142.6,451.1 L1143.6,449.5 L1144.4,447.7 L1145.1,446.0 L1145.6,444.2 L1145.9,442.5 L1146.0,440.9 L1145.9,439.3 L1145.6,437.9 L1145.1,436.6 L1144.4,435.5 L1143.6,434.7 L1142.6,434.0" fill="none" stroke="#06203a" stroke-width="1.16"/>
<path d="M1151.4,429.6 L1150.4,431.2 L1149.6,433.0 L1148.9,434.7 L1148.4,436.5 L1148.1,438.2 L1148.0,439.8 L1148.1,441.4 L1148.4,442.8 L1148.9,444.1 L1149.6,445.2 L1150.4,446.0 L1151.4,446.7" fill="none" stroke="#06203a" stroke-width="1.16"/>
<path d="M1165.2,439.8 L1166.2,438.2 L1167.0,436.4 L1167.7,434.7 L1168.2,432.9 L1168.5,431.2 L1168.6,429.6 L1168.5,428.0 L1168.2,426.6 L1167.7,425.3 L1167.0,424.2 L1166.2,423.4 L1165.2,422.7" fill="none" stroke="#06203a" stroke-width="1.16"/>
<path d="M1174.0,418.3 L1173.0,419.9 L1172.2,421.7 L1171.5,423.4 L1171.0,425.2 L1170.7,426.9 L1170.6,428.5 L1170.7,430.1 L1171.0,431.5 L1171.5,432.8 L1172.2,433.9 L1173.0,434.7 L1174.0,435.4" fill="none" stroke="#06203a" stroke-width="1.16"/>
<path d="M1187.8,428.5 L1188.8,426.9 L1189.6,425.1 L1190.3,423.4 L1190.8,421.6 L1191.1,419.9 L1191.2,418.3 L1191.1,416.7 L1190.8,415.3 L1190.3,414.0 L1189.6,412.9 L1188.8,412.1 L1187.8,411.4" fill="none" stroke="#06203a" stroke-width="1.16"/>
<path d="M1196.6,407.0 L1195.6,408.6 L1194.8,410.4 L1194.1,412.1 L1193.6,413.9 L1193.3,415.6 L1193.2,417.2 L1193.3,418.8 L1193.6,420.2 L1194.1,421.5 L1194.8,422.6 L1195.6,423.4 L1196.6,424.1" fill="none" stroke="#06203a" stroke-width="1.16"/>
<path d="M1210.4,417.2 L1211.4,415.6 L1212.2,413.8 L1212.9,412.1 L1213.4,410.3 L1213.7,408.6 L1213.8,407.0 L1213.7,405.4 L1213.4,404.0 L1212.9,402.7 L1212.2,401.6 L1211.4,400.8 L1210.4,400.1" fill="none" stroke="#06203a" stroke-width="1.16"/>
<path d="M1219.2,395.7 L1218.2,397.3 L1217.4,399.1 L1216.7,400.8 L1216.2,402.6 L1215.9,404.3 L1215.8,405.9 L1215.9,407.5 L1216.2,408.9 L1216.7,410.2 L1217.4,411.3 L1218.2,412.1 L1219.2,412.8" fill="none" stroke="#06203a" stroke-width="1.16"/>
<path d="M1233.0,405.9 L1234.0,404.3 L1234.8,402.5 L1235.5,400.8 L1236.0,399.0 L1236.3,397.3 L1236.4,395.7 L1236.3,394.1 L1236.0,392.7 L1235.5,391.4 L1234.8,390.3 L1234.0,389.5 L1233.0,388.8" fill="none" stroke="#06203a" stroke-width="1.16"/>
<path d="M1241.8,384.4 L1240.8,386.0 L1240.0,387.8 L1239.3,389.5 L1238.8,391.3 L1238.5,393.0 L1238.4,394.6 L1238.5,396.2 L1238.8,397.6 L1239.3,398.9 L1240.0,400.0 L1240.8,400.8 L1241.8,401.5" fill="none" stroke="#06203a" stroke-width="1.16"/>
<path d="M1255.6,394.6 L1256.6,393.0 L1257.4,391.2 L1258.1,389.5 L1258.6,387.7 L1258.9,386.0 L1259.0,384.4 L1258.9,382.8 L1258.6,381.4 L1258.1,380.1 L1257.4,379.0 L1256.6,378.2 L1255.6,377.5" fill="none" stroke="#06203a" stroke-width="1.16"/>
<path d="M1264.4,373.1 L1263.4,374.7 L1262.6,376.5 L1261.9,378.2 L1261.4,380.0 L1261.1,381.7 L1261.0,383.3 L1261.1,384.9 L1261.4,386.3 L1261.9,387.6 L1262.6,388.7 L1263.4,389.5 L1264.4,390.2" fill="none" stroke="#06203a" stroke-width="1.16"/>
<path d="M1278.2,383.3 L1279.2,381.7 L1280.0,379.9 L1280.7,378.2 L1281.2,376.4 L1281.5,374.7 L1281.6,373.1 L1281.5,371.5 L1281.2,370.1 L1280.7,368.8 L1280.0,367.7 L1279.2,366.9 L1278.2,366.2" fill="none" stroke="#06203a" stroke-width="1.16"/>
<path d="M1287.0,361.8 L1286.0,363.4 L1285.2,365.2 L1284.5,366.9 L1284.0,368.7 L1283.7,370.4 L1283.6,372.0 L1283.7,373.6 L1284.0,375.0 L1284.5,376.3 L1285.2,377.4 L1286.0,378.2 L1287.0,378.9" fill="none" stroke="#06203a" stroke-width="1.16"/>
<path d="M1300.8,372.0 L1301.8,370.4 L1302.6,368.6 L1303.3,366.9 L1303.8,365.1 L1304.1,363.4 L1304.2,361.8 L1304.1,360.2 L1303.8,358.8 L1303.3,357.5 L1302.6,356.4 L1301.8,355.6 L1300.8,354.9" fill="none" stroke="#06203a" stroke-width="1.16"/>
<path d="M1309.6,350.5 L1308.6,352.1 L1307.8,353.9 L1307.1,355.6 L1306.6,357.4 L1306.3,359.1 L1306.2,360.7 L1306.3,362.3 L1306.6,363.7 L1307.1,365.0 L1307.8,366.1 L1308.6,366.9 L1309.6,367.6" fill="none" stroke="#06203a" stroke-width="1.16"/>
<path d="M1323.4,360.7 L1324.4,359.1 L1325.2,357.3 L1325.9,355.6 L1326.4,353.8 L1326.7,352.1 L1326.8,350.5 L1326.7,348.9 L1326.4,347.5 L1325.9,346.2 L1325.2,345.1 L1324.4,344.3 L1323.4,343.6" fill="none" stroke="#06203a" stroke-width="1.16"/>
<path d="M1332.2,339.2 L1331.2,340.8 L1330.4,342.6 L1329.7,344.3 L1329.2,346.1 L1328.9,347.8 L1328.8,349.4 L1328.9,351.0 L1329.2,352.4 L1329.7,353.7 L1330.4,354.8 L1331.2,355.6 L1332.2,356.3" fill="none" stroke="#06203a" stroke-width="1.16"/>
<path d="M1346.0,349.4 L1347.0,347.8 L1347.8,346.0 L1348.5,344.3 L1349.0,342.5 L1349.3,340.8 L1349.4,339.2 L1349.3,337.6 L1349.0,336.2 L1348.5,334.9 L1347.8,333.8 L1347.0,333.0 L1346.0,332.3" fill="none" stroke="#06203a" stroke-width="1.16"/>
<path d="M1354.8,327.9 L1353.8,329.5 L1353.0,331.3 L1352.3,333.0 L1351.8,334.8 L1351.5,336.5 L1351.4,338.1 L1351.5,339.7 L1351.8,341.1 L1352.3,342.4 L1353.0,343.5 L1353.8,344.3 L1354.8,345.0" fill="none" stroke="#06203a" stroke-width="1.16"/>
<path d="M1144.7,441.5 L1144.5,439.2 L1143.7,437.3 L1142.5,435.9 L1140.8,435.1 L1138.9,434.9 L1136.8,435.4 L1134.6,436.5 L1132.5,438.2 L1130.6,440.2 L1128.9,442.7 L1127.7,445.3 L1126.9,448.0 L1126.7,450.5 L1126.9,452.8 L1127.7,454.7 L1128.9,456.1 L1130.6,456.9 L1132.5,457.1 L1134.6,456.6 L1136.8,455.5 L1138.9,453.8 L1140.8,451.8 L1142.5,449.3 L1143.7,446.7 L1144.5,444.0 L1144.7,441.5Z" fill="#1f8bd0" stroke="#06203a" stroke-width="1.3"/>
<path d="M1129.1,454.4 L1130.4,454.9 L1132.0,455.0 L1133.7,454.5 L1135.4,453.7 L1137.1,452.4 L1138.7,450.7 L1140.1,448.8 L1141.2,446.8 L1141.9,444.6 L1142.3,442.5 L1142.3,440.6 L1141.9,438.9 L1141.2,437.5 L1140.1,436.5" fill="none" stroke="#06203a" stroke-width="1.16"/>
<path d="M1139.8,441.3 L1139.6,439.5 L1139.0,438.1 L1138.1,437.1 L1136.8,436.5 L1135.4,436.4 L1133.8,436.7 L1132.2,437.5 L1130.6,438.8 L1129.1,440.3 L1127.9,442.2 L1127.0,444.1 L1126.4,446.1 L1126.2,448.0 L1126.4,449.7 L1127.0,451.2 L1127.9,452.2 L1129.1,452.8 L1130.6,452.9 L1132.2,452.6 L1133.8,451.8 L1135.4,450.5 L1136.8,449.0 L1138.1,447.1 L1139.0,445.2 L1139.6,443.2 L1139.8,441.3Z" fill="#1f8bd0" stroke="#06203a" stroke-width="1.3"/>
<path d="M1167.3,430.2 L1167.1,427.9 L1166.3,426.0 L1165.1,424.6 L1163.4,423.8 L1161.5,423.6 L1159.4,424.1 L1157.2,425.2 L1155.1,426.9 L1153.2,428.9 L1151.5,431.4 L1150.3,434.0 L1149.5,436.7 L1149.3,439.2 L1149.5,441.5 L1150.3,443.4 L1151.5,444.8 L1153.2,445.6 L1155.1,445.8 L1157.2,445.3 L1159.4,444.2 L1161.5,442.5 L1163.4,440.5 L1165.1,438.0 L1166.3,435.4 L1167.1,432.7 L1167.3,430.2Z" fill="#1f8bd0" stroke="#06203a" stroke-width="1.3"/>
<path d="M1151.7,443.1 L1153.0,443.6 L1154.6,443.7 L1156.3,443.2 L1158.0,442.4 L1159.7,441.1 L1161.3,439.4 L1162.7,437.5 L1163.8,435.5 L1164.5,433.3 L1164.9,431.2 L1164.9,429.3 L1164.5,427.6 L1163.8,426.2 L1162.7,425.2" fill="none" stroke="#06203a" stroke-width="1.16"/>
<path d="M1162.4,430.0 L1162.2,428.2 L1161.6,426.8 L1160.7,425.8 L1159.4,425.2 L1158.0,425.1 L1156.4,425.4 L1154.8,426.2 L1153.2,427.5 L1151.7,429.0 L1150.5,430.9 L1149.6,432.8 L1149.0,434.8 L1148.8,436.7 L1149.0,438.4 L1149.6,439.9 L1150.5,440.9 L1151.7,441.5 L1153.2,441.6 L1154.8,441.3 L1156.4,440.5 L1158.0,439.2 L1159.4,437.7 L1160.7,435.8 L1161.6,433.9 L1162.2,431.9 L1162.4,430.0Z" fill="#1f8bd0" stroke="#06203a" stroke-width="1.3"/>
<path d="M1189.9,418.9 L1189.7,416.6 L1188.9,414.7 L1187.7,413.3 L1186.0,412.5 L1184.1,412.3 L1182.0,412.8 L1179.8,413.9 L1177.7,415.6 L1175.8,417.6 L1174.1,420.1 L1172.9,422.7 L1172.1,425.4 L1171.9,427.9 L1172.1,430.2 L1172.9,432.1 L1174.1,433.5 L1175.8,434.3 L1177.7,434.5 L1179.8,434.0 L1182.0,432.9 L1184.1,431.2 L1186.0,429.2 L1187.7,426.7 L1188.9,424.1 L1189.7,421.4 L1189.9,418.9Z" fill="#1f8bd0" stroke="#06203a" stroke-width="1.3"/>
<path d="M1174.3,431.8 L1175.6,432.3 L1177.2,432.4 L1178.9,431.9 L1180.6,431.1 L1182.3,429.8 L1183.9,428.1 L1185.3,426.2 L1186.4,424.2 L1187.1,422.0 L1187.5,419.9 L1187.5,418.0 L1187.1,416.3 L1186.4,414.9 L1185.3,413.9" fill="none" stroke="#06203a" stroke-width="1.16"/>
<path d="M1185.0,418.7 L1184.8,416.9 L1184.2,415.5 L1183.3,414.5 L1182.0,413.9 L1180.6,413.8 L1179.0,414.1 L1177.4,414.9 L1175.8,416.2 L1174.3,417.7 L1173.1,419.6 L1172.2,421.5 L1171.6,423.5 L1171.4,425.4 L1171.6,427.1 L1172.2,428.6 L1173.1,429.6 L1174.3,430.2 L1175.8,430.3 L1177.4,430.0 L1179.0,429.2 L1180.6,427.9 L1182.0,426.4 L1183.3,424.5 L1184.2,422.6 L1184.8,420.6 L1185.0,418.7Z" fill="#1f8bd0" stroke="#06203a" stroke-width="1.3"/>
<path d="M1212.5,407.6 L1212.3,405.3 L1211.5,403.4 L1210.3,402.0 L1208.6,401.2 L1206.7,401.0 L1204.6,401.5 L1202.4,402.6 L1200.3,404.3 L1198.4,406.3 L1196.7,408.8 L1195.5,411.4 L1194.7,414.1 L1194.5,416.6 L1194.7,418.9 L1195.5,420.8 L1196.7,422.2 L1198.4,423.0 L1200.3,423.2 L1202.4,422.7 L1204.6,421.6 L1206.7,419.9 L1208.6,417.9 L1210.3,415.4 L1211.5,412.8 L1212.3,410.1 L1212.5,407.6Z" fill="#1f8bd0" stroke="#06203a" stroke-width="1.3"/>
<path d="M1196.9,420.5 L1198.2,421.0 L1199.8,421.1 L1201.5,420.6 L1203.2,419.8 L1204.9,418.5 L1206.5,416.8 L1207.9,414.9 L1209.0,412.9 L1209.7,410.7 L1210.1,408.6 L1210.1,406.7 L1209.7,405.0 L1209.0,403.6 L1207.9,402.6" fill="none" stroke="#06203a" stroke-width="1.16"/>
<path d="M1207.6,407.4 L1207.4,405.6 L1206.8,404.2 L1205.9,403.2 L1204.6,402.6 L1203.2,402.5 L1201.6,402.8 L1200.0,403.6 L1198.4,404.9 L1196.9,406.4 L1195.7,408.3 L1194.8,410.2 L1194.2,412.2 L1194.0,414.1 L1194.2,415.8 L1194.8,417.3 L1195.7,418.3 L1196.9,418.9 L1198.4,419.0 L1200.0,418.7 L1201.6,417.9 L1203.2,416.6 L1204.6,415.1 L1205.9,413.2 L1206.8,411.3 L1207.4,409.3 L1207.6,407.4Z" fill="#1f8bd0" stroke="#06203a" stroke-width="1.3"/>
<path d="M1235.1,396.3 L1234.9,394.0 L1234.1,392.1 L1232.9,390.7 L1231.2,389.9 L1229.3,389.7 L1227.2,390.2 L1225.0,391.3 L1222.9,393.0 L1221.0,395.0 L1219.3,397.5 L1218.1,400.1 L1217.3,402.8 L1217.1,405.3 L1217.3,407.6 L1218.1,409.5 L1219.3,410.9 L1221.0,411.7 L1222.9,411.9 L1225.0,411.4 L1227.2,410.3 L1229.3,408.6 L1231.2,406.6 L1232.9,404.1 L1234.1,401.5 L1234.9,398.8 L1235.1,396.3Z" fill="#1f8bd0" stroke="#06203a" stroke-width="1.3"/>
<path d="M1219.5,409.2 L1220.8,409.7 L1222.4,409.8 L1224.1,409.3 L1225.8,408.5 L1227.5,407.2 L1229.1,405.5 L1230.5,403.6 L1231.6,401.6 L1232.3,399.4 L1232.7,397.3 L1232.7,395.4 L1232.3,393.7 L1231.6,392.3 L1230.5,391.3" fill="none" stroke="#06203a" stroke-width="1.16"/>
<path d="M1230.2,396.1 L1230.0,394.3 L1229.4,392.9 L1228.5,391.9 L1227.2,391.3 L1225.8,391.2 L1224.2,391.5 L1222.6,392.3 L1221.0,393.6 L1219.5,395.1 L1218.3,397.0 L1217.4,398.9 L1216.8,400.9 L1216.6,402.8 L1216.8,404.5 L1217.4,406.0 L1218.3,407.0 L1219.5,407.6 L1221.0,407.7 L1222.6,407.4 L1224.2,406.6 L1225.8,405.3 L1227.2,403.8 L1228.5,401.9 L1229.4,400.0 L1230.0,398.0 L1230.2,396.1Z" fill="#1f8bd0" stroke="#06203a" stroke-width="1.3"/>
<path d="M1257.7,385.0 L1257.5,382.7 L1256.7,380.8 L1255.5,379.4 L1253.8,378.6 L1251.9,378.4 L1249.8,378.9 L1247.6,380.0 L1245.5,381.7 L1243.6,383.7 L1241.9,386.2 L1240.7,388.8 L1239.9,391.5 L1239.7,394.0 L1239.9,396.3 L1240.7,398.2 L1241.9,399.6 L1243.6,400.4 L1245.5,400.6 L1247.6,400.1 L1249.8,399.0 L1251.9,397.3 L1253.8,395.3 L1255.5,392.8 L1256.7,390.2 L1257.5,387.5 L1257.7,385.0Z" fill="#1f8bd0" stroke="#06203a" stroke-width="1.3"/>
<path d="M1242.1,397.9 L1243.4,398.4 L1245.0,398.5 L1246.7,398.0 L1248.4,397.2 L1250.1,395.9 L1251.7,394.2 L1253.1,392.3 L1254.2,390.3 L1254.9,388.1 L1255.3,386.0 L1255.3,384.1 L1254.9,382.4 L1254.2,381.0 L1253.1,380.0" fill="none" stroke="#06203a" stroke-width="1.16"/>
<path d="M1252.8,384.8 L1252.6,383.0 L1252.0,381.6 L1251.1,380.6 L1249.8,380.0 L1248.4,379.9 L1246.8,380.2 L1245.2,381.0 L1243.6,382.3 L1242.1,383.8 L1240.9,385.7 L1240.0,387.6 L1239.4,389.6 L1239.2,391.5 L1239.4,393.2 L1240.0,394.7 L1240.9,395.7 L1242.1,396.3 L1243.6,396.4 L1245.2,396.1 L1246.8,395.3 L1248.4,394.0 L1249.8,392.5 L1251.1,390.6 L1252.0,388.7 L1252.6,386.7 L1252.8,384.8Z" fill="#1f8bd0" stroke="#06203a" stroke-width="1.3"/>
<path d="M1280.3,373.7 L1280.1,371.4 L1279.3,369.5 L1278.1,368.1 L1276.4,367.3 L1274.5,367.1 L1272.4,367.6 L1270.2,368.7 L1268.1,370.4 L1266.2,372.4 L1264.5,374.9 L1263.3,377.5 L1262.5,380.2 L1262.3,382.7 L1262.5,385.0 L1263.3,386.9 L1264.5,388.3 L1266.2,389.1 L1268.1,389.3 L1270.2,388.8 L1272.4,387.7 L1274.5,386.0 L1276.4,384.0 L1278.1,381.5 L1279.3,378.9 L1280.1,376.2 L1280.3,373.7Z" fill="#1f8bd0" stroke="#06203a" stroke-width="1.3"/>
<path d="M1264.7,386.6 L1266.0,387.1 L1267.6,387.2 L1269.3,386.7 L1271.0,385.9 L1272.7,384.6 L1274.3,382.9 L1275.7,381.0 L1276.8,379.0 L1277.5,376.8 L1277.9,374.7 L1277.9,372.8 L1277.5,371.1 L1276.8,369.7 L1275.7,368.7" fill="none" stroke="#06203a" stroke-width="1.16"/>
<path d="M1275.4,373.5 L1275.2,371.7 L1274.6,370.3 L1273.7,369.3 L1272.4,368.7 L1271.0,368.6 L1269.4,368.9 L1267.8,369.7 L1266.2,371.0 L1264.7,372.5 L1263.5,374.4 L1262.6,376.3 L1262.0,378.3 L1261.8,380.2 L1262.0,381.9 L1262.6,383.4 L1263.5,384.4 L1264.7,385.0 L1266.2,385.1 L1267.8,384.8 L1269.4,384.0 L1271.0,382.7 L1272.4,381.2 L1273.7,379.3 L1274.6,377.4 L1275.2,375.4 L1275.4,373.5Z" fill="#1f8bd0" stroke="#06203a" stroke-width="1.3"/>
<path d="M1302.9,362.4 L1302.7,360.1 L1301.9,358.2 L1300.7,356.8 L1299.0,356.0 L1297.1,355.8 L1295.0,356.3 L1292.8,357.4 L1290.7,359.1 L1288.8,361.1 L1287.1,363.6 L1285.9,366.2 L1285.1,368.9 L1284.9,371.4 L1285.1,373.7 L1285.9,375.6 L1287.1,377.0 L1288.8,377.8 L1290.7,378.0 L1292.8,377.5 L1295.0,376.4 L1297.1,374.7 L1299.0,372.7 L1300.7,370.2 L1301.9,367.6 L1302.7,364.9 L1302.9,362.4Z" fill="#1f8bd0" stroke="#06203a" stroke-width="1.3"/>
<path d="M1287.3,375.3 L1288.6,375.8 L1290.2,375.9 L1291.9,375.4 L1293.6,374.6 L1295.3,373.3 L1296.9,371.6 L1298.3,369.7 L1299.4,367.7 L1300.1,365.5 L1300.5,363.4 L1300.5,361.5 L1300.1,359.8 L1299.4,358.4 L1298.3,357.4" fill="none" stroke="#06203a" stroke-width="1.16"/>
<path d="M1298.0,362.2 L1297.8,360.4 L1297.2,359.0 L1296.3,358.0 L1295.0,357.4 L1293.6,357.3 L1292.0,357.6 L1290.4,358.4 L1288.8,359.7 L1287.3,361.2 L1286.1,363.1 L1285.2,365.0 L1284.6,367.0 L1284.4,368.9 L1284.6,370.6 L1285.2,372.1 L1286.1,373.1 L1287.3,373.7 L1288.8,373.8 L1290.4,373.5 L1292.0,372.7 L1293.6,371.4 L1295.0,369.9 L1296.3,368.0 L1297.2,366.1 L1297.8,364.1 L1298.0,362.2Z" fill="#1f8bd0" stroke="#06203a" stroke-width="1.3"/>
<path d="M1325.5,351.1 L1325.3,348.8 L1324.5,346.9 L1323.3,345.5 L1321.6,344.7 L1319.7,344.5 L1317.6,345.0 L1315.4,346.1 L1313.3,347.8 L1311.4,349.8 L1309.7,352.3 L1308.5,354.9 L1307.7,357.6 L1307.5,360.1 L1307.7,362.4 L1308.5,364.3 L1309.7,365.7 L1311.4,366.5 L1313.3,366.7 L1315.4,366.2 L1317.6,365.1 L1319.7,363.4 L1321.6,361.4 L1323.3,358.9 L1324.5,356.3 L1325.3,353.6 L1325.5,351.1Z" fill="#1f8bd0" stroke="#06203a" stroke-width="1.3"/>
<path d="M1309.9,364.0 L1311.2,364.5 L1312.8,364.6 L1314.5,364.1 L1316.2,363.3 L1317.9,362.0 L1319.5,360.3 L1320.9,358.4 L1322.0,356.4 L1322.7,354.2 L1323.1,352.1 L1323.1,350.2 L1322.7,348.5 L1322.0,347.1 L1320.9,346.1" fill="none" stroke="#06203a" stroke-width="1.16"/>
<path d="M1320.6,350.9 L1320.4,349.1 L1319.8,347.7 L1318.9,346.7 L1317.6,346.1 L1316.2,346.0 L1314.6,346.3 L1313.0,347.1 L1311.4,348.4 L1309.9,349.9 L1308.7,351.8 L1307.8,353.7 L1307.2,355.7 L1307.0,357.6 L1307.2,359.3 L1307.8,360.8 L1308.7,361.8 L1309.9,362.4 L1311.4,362.5 L1313.0,362.2 L1314.6,361.4 L1316.2,360.1 L1317.6,358.6 L1318.9,356.7 L1319.8,354.8 L1320.4,352.8 L1320.6,350.9Z" fill="#1f8bd0" stroke="#06203a" stroke-width="1.3"/>
<path d="M1348.1,339.8 L1347.9,337.5 L1347.1,335.6 L1345.9,334.2 L1344.2,333.4 L1342.3,333.2 L1340.2,333.7 L1338.0,334.8 L1335.9,336.5 L1334.0,338.5 L1332.3,341.0 L1331.1,343.6 L1330.3,346.3 L1330.1,348.8 L1330.3,351.1 L1331.1,353.0 L1332.3,354.4 L1334.0,355.2 L1335.9,355.4 L1338.0,354.9 L1340.2,353.8 L1342.3,352.1 L1344.2,350.1 L1345.9,347.6 L1347.1,345.0 L1347.9,342.3 L1348.1,339.8Z" fill="#1f8bd0" stroke="#06203a" stroke-width="1.3"/>
<path d="M1332.5,352.7 L1333.8,353.2 L1335.4,353.3 L1337.1,352.8 L1338.8,352.0 L1340.5,350.7 L1342.1,349.0 L1343.5,347.1 L1344.6,345.1 L1345.3,342.9 L1345.7,340.8 L1345.7,338.9 L1345.3,337.2 L1344.6,335.8 L1343.5,334.8" fill="none" stroke="#06203a" stroke-width="1.16"/>
<path d="M1343.2,339.6 L1343.0,337.8 L1342.4,336.4 L1341.5,335.4 L1340.2,334.8 L1338.8,334.7 L1337.2,335.0 L1335.6,335.8 L1334.0,337.1 L1332.5,338.6 L1331.3,340.5 L1330.4,342.4 L1329.8,344.4 L1329.6,346.3 L1329.8,348.0 L1330.4,349.5 L1331.3,350.5 L1332.5,351.1 L1334.0,351.2 L1335.6,350.9 L1337.2,350.1 L1338.8,348.8 L1340.2,347.3 L1341.5,345.4 L1342.4,343.5 L1343.0,341.5 L1343.2,339.6Z" fill="#1f8bd0" stroke="#06203a" stroke-width="1.3"/>
<path d="M1370.7,328.5 L1370.5,326.2 L1369.7,324.3 L1368.5,322.9 L1366.8,322.1 L1364.9,321.9 L1362.8,322.4 L1360.6,323.5 L1358.5,325.2 L1356.6,327.2 L1354.9,329.7 L1353.7,332.3 L1352.9,335.0 L1352.7,337.5 L1352.9,339.8 L1353.7,341.7 L1354.9,343.1 L1356.6,343.9 L1358.5,344.1 L1360.6,343.6 L1362.8,342.5 L1364.9,340.8 L1366.8,338.8 L1368.5,336.3 L1369.7,333.7 L1370.5,331.0 L1370.7,328.5Z" fill="#1f8bd0" stroke="#06203a" stroke-width="1.3"/>
<path d="M1355.1,341.4 L1356.4,341.9 L1358.0,342.0 L1359.7,341.5 L1361.4,340.7 L1363.1,339.4 L1364.7,337.7 L1366.1,335.8 L1367.2,333.8 L1367.9,331.6 L1368.3,329.5 L1368.3,327.6 L1367.9,325.9 L1367.2,324.5 L1366.1,323.5" fill="none" stroke="#06203a" stroke-width="1.16"/>
<path d="M1365.8,328.3 L1365.6,326.5 L1365.0,325.1 L1364.1,324.1 L1362.8,323.5 L1361.4,323.4 L1359.8,323.7 L1358.2,324.5 L1356.6,325.8 L1355.1,327.3 L1353.9,329.2 L1353.0,331.1 L1352.4,333.1 L1352.2,335.0 L1352.4,336.7 L1353.0,338.2 L1353.9,339.2 L1355.1,339.8 L1356.6,339.9 L1358.2,339.6 L1359.8,338.8 L1361.4,337.5 L1362.8,336.0 L1364.1,334.1 L1365.0,332.2 L1365.6,330.2 L1365.8,328.3Z" fill="#1f8bd0" stroke="#06203a" stroke-width="1.3"/>
<path d="M855.2,565.6 L855.4,563.0 L856.1,560.3 L857.1,557.6 L858.5,555.0 L860.2,552.6 L862.2,550.4 L864.3,548.7 L866.5,547.3 L1092.5,434.3 L1094.7,433.5 L1096.8,433.1 L1098.8,433.3 L1100.5,434.0 L1122.2,444.9 L1123.6,446.1 L1124.6,447.8 L1125.3,449.8 L1125.5,452.1 L1125.3,454.7 L1124.6,457.4 L1123.6,460.1 L1122.2,462.7 L1120.5,465.2 L1118.5,467.3 L1116.4,469.1 L1114.2,470.4 L888.2,583.4 L886.0,584.3 L883.9,584.6 L881.9,584.4 L880.2,583.7 L858.5,572.9 L857.1,571.7 L856.1,570.0 L855.4,568.0Z" fill="#1f8bd0" stroke="#06203a" stroke-width="1.45"/>
<path d="M888.2,558.2 L886.0,559.5 L883.9,561.3 L881.9,563.4 L880.2,565.9 L878.8,568.5 L877.8,571.2 L877.1,573.9 L876.9,576.4 L877.1,578.8 L877.8,580.9 L878.8,582.5 L880.2,583.7 L881.9,584.4 L883.9,584.6 L886.0,584.3 L888.2,583.4 L1114.2,470.4 L1116.4,469.1 L1118.5,467.3 L1120.5,465.2 L1122.2,462.7 L1123.6,460.1 L1124.6,457.4 L1125.3,454.7 L1125.5,452.1 L1125.3,449.8 L1124.6,447.7 L1123.6,446.1 L1122.2,444.9 L1120.5,444.2 L1118.5,444.0 L1116.4,444.3 L1114.2,445.2Z" fill="#1f8bd0" stroke="#06203a" stroke-width="1.45"/>
<path d="M888.2,560.4 L886.4,561.5 L884.7,563.0 L883.1,564.8 L881.6,566.8 L880.5,568.9 L879.6,571.1 L879.1,573.3 L878.9,575.4 L879.1,577.4 L879.6,579.0 L880.5,580.4 L881.6,581.4 L883.1,582.0 L884.7,582.1 L886.4,581.9 L888.2,581.2 L1114.2,468.2 L1116.0,467.1 L1117.7,465.6 L1119.3,463.8 L1120.8,461.8 L1121.9,459.7 L1122.8,457.5 L1123.3,455.3 L1123.5,453.2 L1123.3,451.2 L1122.8,449.6 L1121.9,448.2 L1120.8,447.2 L1119.3,446.6 L1117.7,446.5 L1116.0,446.7 L1114.2,447.4Z" fill="none" stroke="#06203a" stroke-width="1.16"/>
<path d="M895.1,575.9 L896.1,574.3 L896.9,572.5 L897.6,570.8 L898.1,569.0 L898.4,567.3 L898.5,565.7 L898.4,564.1 L898.1,562.7 L897.6,561.4 L896.9,560.3 L896.1,559.5 L895.1,558.8" fill="none" stroke="#06203a" stroke-width="1.16"/>
<path d="M903.9,554.4 L902.9,556.0 L902.1,557.8 L901.4,559.5 L900.9,561.3 L900.6,563.0 L900.5,564.6 L900.6,566.2 L900.9,567.6 L901.4,568.9 L902.1,570.0 L902.9,570.8 L903.9,571.5" fill="none" stroke="#06203a" stroke-width="1.16"/>
<path d="M917.7,564.6 L918.7,563.0 L919.5,561.2 L920.2,559.5 L920.7,557.7 L921.0,556.0 L921.1,554.4 L921.0,552.8 L920.7,551.4 L920.2,550.1 L919.5,549.0 L918.7,548.2 L917.7,547.5" fill="none" stroke="#06203a" stroke-width="1.16"/>
<path d="M926.5,543.1 L925.5,544.7 L924.7,546.5 L924.0,548.2 L923.5,550.0 L923.2,551.7 L923.1,553.3 L923.2,554.9 L923.5,556.3 L924.0,557.6 L924.7,558.7 L925.5,559.5 L926.5,560.2" fill="none" stroke="#06203a" stroke-width="1.16"/>
<path d="M940.3,553.3 L941.3,551.7 L942.1,549.9 L942.8,548.2 L943.3,546.4 L943.6,544.7 L943.7,543.1 L943.6,541.5 L943.3,540.1 L942.8,538.8 L942.1,537.7 L941.3,536.9 L940.3,536.2" fill="none" stroke="#06203a" stroke-width="1.16"/>
<path d="M949.1,531.8 L948.1,533.4 L947.3,535.2 L946.6,536.9 L946.1,538.7 L945.8,540.4 L945.7,542.0 L945.8,543.6 L946.1,545.0 L946.6,546.3 L947.3,547.4 L948.1,548.2 L949.1,548.9" fill="none" stroke="#06203a" stroke-width="1.16"/>
<path d="M962.9,542.0 L963.9,540.4 L964.7,538.6 L965.4,536.9 L965.9,535.1 L966.2,533.4 L966.3,531.8 L966.2,530.2 L965.9,528.8 L965.4,527.5 L964.7,526.4 L963.9,525.6 L962.9,524.9" fill="none" stroke="#06203a" stroke-width="1.16"/>
<path d="M971.7,520.5 L970.7,522.1 L969.9,523.9 L969.2,525.6 L968.7,527.4 L968.4,529.1 L968.3,530.7 L968.4,532.3 L968.7,533.7 L969.2,535.0 L969.9,536.1 L970.7,536.9 L971.7,537.6" fill="none" stroke="#06203a" stroke-width="1.16"/>
<path d="M985.5,530.7 L986.5,529.1 L987.3,527.3 L988.0,525.6 L988.5,523.8 L988.8,522.1 L988.9,520.5 L988.8,518.9 L988.5,517.5 L988.0,516.2 L987.3,515.1 L986.5,514.3 L985.5,513.6" fill="none" stroke="#06203a" stroke-width="1.16"/>
<path d="M994.3,509.2 L993.3,510.8 L992.5,512.6 L991.8,514.3 L991.3,516.1 L991.0,517.8 L990.9,519.4 L991.0,521.0 L991.3,522.4 L991.8,523.7 L992.5,524.8 L993.3,525.6 L994.3,526.3" fill="none" stroke="#06203a" stroke-width="1.16"/>
<path d="M1008.1,519.4 L1009.1,517.8 L1009.9,516.0 L1010.6,514.3 L1011.1,512.5 L1011.4,510.8 L1011.5,509.2 L1011.4,507.6 L1011.1,506.2 L1010.6,504.9 L1009.9,503.8 L1009.1,503.0 L1008.1,502.3" fill="none" stroke="#06203a" stroke-width="1.16"/>
<path d="M1016.9,497.9 L1015.9,499.5 L1015.1,501.3 L1014.4,503.0 L1013.9,504.8 L1013.6,506.5 L1013.5,508.1 L1013.6,509.7 L1013.9,511.1 L1014.4,512.4 L1015.1,513.5 L1015.9,514.3 L1016.9,515.0" fill="none" stroke="#06203a" stroke-width="1.16"/>
<path d="M1030.7,508.1 L1031.7,506.5 L1032.5,504.7 L1033.2,503.0 L1033.7,501.2 L1034.0,499.5 L1034.1,497.9 L1034.0,496.3 L1033.7,494.9 L1033.2,493.6 L1032.5,492.5 L1031.7,491.7 L1030.7,491.0" fill="none" stroke="#06203a" stroke-width="1.16"/>
<path d="M1039.5,486.6 L1038.5,488.2 L1037.7,490.0 L1037.0,491.7 L1036.5,493.5 L1036.2,495.2 L1036.1,496.8 L1036.2,498.4 L1036.5,499.8 L1037.0,501.1 L1037.7,502.2 L1038.5,503.0 L1039.5,503.7" fill="none" stroke="#06203a" stroke-width="1.16"/>
<path d="M1053.3,496.8 L1054.3,495.2 L1055.1,493.4 L1055.8,491.7 L1056.3,489.9 L1056.6,488.2 L1056.7,486.6 L1056.6,485.0 L1056.3,483.6 L1055.8,482.3 L1055.1,481.2 L1054.3,480.4 L1053.3,479.7" fill="none" stroke="#06203a" stroke-width="1.16"/>
<path d="M1062.1,475.3 L1061.1,476.9 L1060.3,478.7 L1059.6,480.4 L1059.1,482.2 L1058.8,483.9 L1058.7,485.5 L1058.8,487.1 L1059.1,488.5 L1059.6,489.8 L1060.3,490.9 L1061.1,491.7 L1062.1,492.4" fill="none" stroke="#06203a" stroke-width="1.16"/>
<path d="M1075.9,485.5 L1076.9,483.9 L1077.7,482.1 L1078.4,480.4 L1078.9,478.6 L1079.2,476.9 L1079.3,475.3 L1079.2,473.7 L1078.9,472.3 L1078.4,471.0 L1077.7,469.9 L1076.9,469.1 L1075.9,468.4" fill="none" stroke="#06203a" stroke-width="1.16"/>
<path d="M1084.7,464.0 L1083.7,465.6 L1082.9,467.4 L1082.2,469.1 L1081.7,470.9 L1081.4,472.6 L1081.3,474.2 L1081.4,475.8 L1081.7,477.2 L1082.2,478.5 L1082.9,479.6 L1083.7,480.4 L1084.7,481.1" fill="none" stroke="#06203a" stroke-width="1.16"/>
<path d="M1098.5,474.2 L1099.5,472.6 L1100.3,470.8 L1101.0,469.1 L1101.5,467.3 L1101.8,465.6 L1101.9,464.0 L1101.8,462.4 L1101.5,461.0 L1101.0,459.7 L1100.3,458.6 L1099.5,457.8 L1098.5,457.1" fill="none" stroke="#06203a" stroke-width="1.16"/>
<path d="M1107.3,452.7 L1106.3,454.3 L1105.5,456.1 L1104.8,457.8 L1104.3,459.6 L1104.0,461.3 L1103.9,462.9 L1104.0,464.5 L1104.3,465.9 L1104.8,467.2 L1105.5,468.3 L1106.3,469.1 L1107.3,469.8" fill="none" stroke="#06203a" stroke-width="1.16"/>
<path d="M897.2,566.3 L897.0,564.0 L896.2,562.1 L895.0,560.7 L893.3,559.9 L891.4,559.7 L889.3,560.2 L887.1,561.3 L885.0,563.0 L883.1,565.0 L881.4,567.5 L880.2,570.1 L879.4,572.8 L879.2,575.3 L879.4,577.6 L880.2,579.5 L881.4,580.9 L883.1,581.7 L885.0,581.9 L887.1,581.4 L889.3,580.3 L891.4,578.6 L893.3,576.6 L895.0,574.1 L896.2,571.5 L897.0,568.8 L897.2,566.3Z" fill="#1f8bd0" stroke="#06203a" stroke-width="1.3"/>
<path d="M881.6,579.2 L882.9,579.7 L884.5,579.8 L886.2,579.3 L887.9,578.5 L889.6,577.2 L891.2,575.5 L892.6,573.6 L893.7,571.6 L894.4,569.4 L894.8,567.3 L894.8,565.4 L894.4,563.7 L893.7,562.3 L892.6,561.3" fill="none" stroke="#06203a" stroke-width="1.16"/>
<path d="M892.3,566.1 L892.1,564.3 L891.5,562.9 L890.6,561.9 L889.3,561.3 L887.9,561.2 L886.3,561.5 L884.7,562.3 L883.1,563.6 L881.6,565.1 L880.4,567.0 L879.5,568.9 L878.9,570.9 L878.7,572.8 L878.9,574.5 L879.5,576.0 L880.4,577.0 L881.6,577.6 L883.1,577.7 L884.7,577.4 L886.3,576.6 L887.9,575.3 L889.3,573.8 L890.6,571.9 L891.5,570.0 L892.1,568.0 L892.3,566.1Z" fill="#1f8bd0" stroke="#06203a" stroke-width="1.3"/>
<path d="M919.8,555.0 L919.6,552.7 L918.8,550.8 L917.6,549.4 L915.9,548.6 L914.0,548.4 L911.9,548.9 L909.7,550.0 L907.6,551.7 L905.7,553.7 L904.0,556.2 L902.8,558.8 L902.0,561.5 L901.8,564.0 L902.0,566.3 L902.8,568.2 L904.0,569.6 L905.7,570.4 L907.6,570.6 L909.7,570.1 L911.9,569.0 L914.0,567.3 L915.9,565.3 L917.6,562.8 L918.8,560.2 L919.6,557.5 L919.8,555.0Z" fill="#1f8bd0" stroke="#06203a" stroke-width="1.3"/>
<path d="M904.2,567.9 L905.5,568.4 L907.1,568.5 L908.8,568.0 L910.5,567.2 L912.2,565.9 L913.8,564.2 L915.2,562.3 L916.3,560.3 L917.0,558.1 L917.4,556.0 L917.4,554.1 L917.0,552.4 L916.3,551.0 L915.2,550.0" fill="none" stroke="#06203a" stroke-width="1.16"/>
<path d="M914.9,554.8 L914.7,553.0 L914.1,551.6 L913.2,550.6 L911.9,550.0 L910.5,549.9 L908.9,550.2 L907.3,551.0 L905.7,552.3 L904.2,553.8 L903.0,555.7 L902.1,557.6 L901.5,559.6 L901.3,561.5 L901.5,563.2 L902.1,564.7 L903.0,565.7 L904.2,566.3 L905.7,566.4 L907.3,566.1 L908.9,565.3 L910.5,564.0 L911.9,562.5 L913.2,560.6 L914.1,558.7 L914.7,556.7 L914.9,554.8Z" fill="#1f8bd0" stroke="#06203a" stroke-width="1.3"/>
<path d="M942.4,543.7 L942.2,541.4 L941.4,539.5 L940.2,538.1 L938.5,537.3 L936.6,537.1 L934.5,537.6 L932.3,538.7 L930.2,540.4 L928.3,542.4 L926.6,544.9 L925.4,547.5 L924.6,550.2 L924.4,552.7 L924.6,555.0 L925.4,556.9 L926.6,558.3 L928.3,559.1 L930.2,559.3 L932.3,558.8 L934.5,557.7 L936.6,556.0 L938.5,554.0 L940.2,551.5 L941.4,548.9 L942.2,546.2 L942.4,543.7Z" fill="#1f8bd0" stroke="#06203a" stroke-width="1.3"/>
<path d="M926.8,556.6 L928.1,557.1 L929.7,557.2 L931.4,556.7 L933.1,555.9 L934.8,554.6 L936.4,552.9 L937.8,551.0 L938.9,549.0 L939.6,546.8 L940.0,544.7 L940.0,542.8 L939.6,541.1 L938.9,539.7 L937.8,538.7" fill="none" stroke="#06203a" stroke-width="1.16"/>
<path d="M937.5,543.5 L937.3,541.7 L936.7,540.3 L935.8,539.3 L934.5,538.7 L933.1,538.6 L931.5,538.9 L929.9,539.7 L928.3,541.0 L926.8,542.5 L925.6,544.4 L924.7,546.3 L924.1,548.3 L923.9,550.2 L924.1,551.9 L924.7,553.4 L925.6,554.4 L926.8,555.0 L928.3,555.1 L929.9,554.8 L931.5,554.0 L933.1,552.7 L934.5,551.2 L935.8,549.3 L936.7,547.4 L937.3,545.4 L937.5,543.5Z" fill="#1f8bd0" stroke="#06203a" stroke-width="1.3"/>
<path d="M965.0,532.4 L964.8,530.1 L964.0,528.2 L962.8,526.8 L961.1,526.0 L959.2,525.8 L957.1,526.3 L954.9,527.4 L952.8,529.1 L950.9,531.1 L949.2,533.6 L948.0,536.2 L947.2,538.9 L947.0,541.4 L947.2,543.7 L948.0,545.6 L949.2,547.0 L950.9,547.8 L952.8,548.0 L954.9,547.5 L957.1,546.4 L959.2,544.7 L961.1,542.7 L962.8,540.2 L964.0,537.6 L964.8,534.9 L965.0,532.4Z" fill="#1f8bd0" stroke="#06203a" stroke-width="1.3"/>
<path d="M949.4,545.3 L950.7,545.8 L952.3,545.9 L954.0,545.4 L955.7,544.6 L957.4,543.3 L959.0,541.6 L960.4,539.7 L961.5,537.7 L962.2,535.5 L962.6,533.4 L962.6,531.5 L962.2,529.8 L961.5,528.4 L960.4,527.4" fill="none" stroke="#06203a" stroke-width="1.16"/>
<path d="M960.1,532.2 L959.9,530.4 L959.3,529.0 L958.4,528.0 L957.1,527.4 L955.7,527.3 L954.1,527.6 L952.5,528.4 L950.9,529.7 L949.4,531.2 L948.2,533.1 L947.3,535.0 L946.7,537.0 L946.5,538.9 L946.7,540.6 L947.3,542.1 L948.2,543.1 L949.4,543.7 L950.9,543.8 L952.5,543.5 L954.1,542.7 L955.7,541.4 L957.1,539.9 L958.4,538.0 L959.3,536.1 L959.9,534.1 L960.1,532.2Z" fill="#1f8bd0" stroke="#06203a" stroke-width="1.3"/>
<path d="M987.6,521.1 L987.4,518.8 L986.6,516.9 L985.4,515.5 L983.7,514.7 L981.8,514.5 L979.7,515.0 L977.5,516.1 L975.4,517.8 L973.5,519.8 L971.8,522.3 L970.6,524.9 L969.8,527.6 L969.6,530.1 L969.8,532.4 L970.6,534.3 L971.8,535.7 L973.5,536.5 L975.4,536.7 L977.5,536.2 L979.7,535.1 L981.8,533.4 L983.7,531.4 L985.4,528.9 L986.6,526.3 L987.4,523.6 L987.6,521.1Z" fill="#1f8bd0" stroke="#06203a" stroke-width="1.3"/>
<path d="M972.0,534.0 L973.3,534.5 L974.9,534.6 L976.6,534.1 L978.3,533.3 L980.0,532.0 L981.6,530.3 L983.0,528.4 L984.1,526.4 L984.8,524.2 L985.2,522.1 L985.2,520.2 L984.8,518.5 L984.1,517.1 L983.0,516.1" fill="none" stroke="#06203a" stroke-width="1.16"/>
<path d="M982.7,520.9 L982.5,519.1 L981.9,517.7 L981.0,516.7 L979.7,516.1 L978.3,516.0 L976.7,516.3 L975.1,517.1 L973.5,518.4 L972.0,519.9 L970.8,521.8 L969.9,523.7 L969.3,525.7 L969.1,527.6 L969.3,529.3 L969.9,530.8 L970.8,531.8 L972.0,532.4 L973.5,532.5 L975.1,532.2 L976.7,531.4 L978.3,530.1 L979.7,528.6 L981.0,526.7 L981.9,524.8 L982.5,522.8 L982.7,520.9Z" fill="#1f8bd0" stroke="#06203a" stroke-width="1.3"/>
<path d="M1010.2,509.8 L1010.0,507.5 L1009.2,505.6 L1008.0,504.2 L1006.3,503.4 L1004.4,503.2 L1002.3,503.7 L1000.1,504.8 L998.0,506.5 L996.1,508.5 L994.4,511.0 L993.2,513.6 L992.4,516.3 L992.2,518.8 L992.4,521.1 L993.2,523.0 L994.4,524.4 L996.1,525.2 L998.0,525.4 L1000.1,524.9 L1002.3,523.8 L1004.4,522.1 L1006.3,520.1 L1008.0,517.6 L1009.2,515.0 L1010.0,512.3 L1010.2,509.8Z" fill="#1f8bd0" stroke="#06203a" stroke-width="1.3"/>
<path d="M994.6,522.7 L995.9,523.2 L997.5,523.3 L999.2,522.8 L1000.9,522.0 L1002.6,520.7 L1004.2,519.0 L1005.6,517.1 L1006.7,515.1 L1007.4,512.9 L1007.8,510.8 L1007.8,508.9 L1007.4,507.2 L1006.7,505.8 L1005.6,504.8" fill="none" stroke="#06203a" stroke-width="1.16"/>
<path d="M1005.3,509.6 L1005.1,507.8 L1004.5,506.4 L1003.6,505.4 L1002.3,504.8 L1000.9,504.7 L999.3,505.0 L997.7,505.8 L996.1,507.1 L994.6,508.6 L993.4,510.5 L992.5,512.4 L991.9,514.4 L991.7,516.3 L991.9,518.0 L992.5,519.5 L993.4,520.5 L994.6,521.1 L996.1,521.2 L997.7,520.9 L999.3,520.1 L1000.9,518.8 L1002.3,517.3 L1003.6,515.4 L1004.5,513.5 L1005.1,511.5 L1005.3,509.6Z" fill="#1f8bd0" stroke="#06203a" stroke-width="1.3"/>
<path d="M1032.8,498.5 L1032.6,496.2 L1031.8,494.3 L1030.6,492.9 L1028.9,492.1 L1027.0,491.9 L1024.9,492.4 L1022.7,493.5 L1020.6,495.2 L1018.7,497.2 L1017.0,499.7 L1015.8,502.3 L1015.0,505.0 L1014.8,507.5 L1015.0,509.8 L1015.8,511.7 L1017.0,513.1 L1018.7,513.9 L1020.6,514.1 L1022.7,513.6 L1024.9,512.5 L1027.0,510.8 L1028.9,508.8 L1030.6,506.3 L1031.8,503.7 L1032.6,501.0 L1032.8,498.5Z" fill="#1f8bd0" stroke="#06203a" stroke-width="1.3"/>
<path d="M1017.2,511.4 L1018.5,511.9 L1020.1,512.0 L1021.8,511.5 L1023.5,510.7 L1025.2,509.4 L1026.8,507.7 L1028.2,505.8 L1029.3,503.8 L1030.0,501.6 L1030.4,499.5 L1030.4,497.6 L1030.0,495.9 L1029.3,494.5 L1028.2,493.5" fill="none" stroke="#06203a" stroke-width="1.16"/>
<path d="M1027.9,498.3 L1027.7,496.5 L1027.1,495.1 L1026.2,494.1 L1024.9,493.5 L1023.5,493.4 L1021.9,493.7 L1020.3,494.5 L1018.7,495.8 L1017.2,497.3 L1016.0,499.2 L1015.1,501.1 L1014.5,503.1 L1014.3,505.0 L1014.5,506.7 L1015.1,508.2 L1016.0,509.2 L1017.2,509.8 L1018.7,509.9 L1020.3,509.6 L1021.9,508.8 L1023.5,507.5 L1024.9,506.0 L1026.2,504.1 L1027.1,502.2 L1027.7,500.2 L1027.9,498.3Z" fill="#1f8bd0" stroke="#06203a" stroke-width="1.3"/>
<path d="M1055.4,487.2 L1055.2,484.9 L1054.4,483.0 L1053.2,481.6 L1051.5,480.8 L1049.6,480.6 L1047.5,481.1 L1045.3,482.2 L1043.2,483.9 L1041.3,485.9 L1039.6,488.4 L1038.4,491.0 L1037.6,493.7 L1037.4,496.2 L1037.6,498.5 L1038.4,500.4 L1039.6,501.8 L1041.3,502.6 L1043.2,502.8 L1045.3,502.3 L1047.5,501.2 L1049.6,499.5 L1051.5,497.5 L1053.2,495.0 L1054.4,492.4 L1055.2,489.7 L1055.4,487.2Z" fill="#1f8bd0" stroke="#06203a" stroke-width="1.3"/>
<path d="M1039.8,500.1 L1041.1,500.6 L1042.7,500.7 L1044.4,500.2 L1046.1,499.4 L1047.8,498.1 L1049.4,496.4 L1050.8,494.5 L1051.9,492.5 L1052.6,490.3 L1053.0,488.2 L1053.0,486.3 L1052.6,484.6 L1051.9,483.2 L1050.8,482.2" fill="none" stroke="#06203a" stroke-width="1.16"/>
<path d="M1050.5,487.0 L1050.3,485.2 L1049.7,483.8 L1048.8,482.8 L1047.5,482.2 L1046.1,482.1 L1044.5,482.4 L1042.9,483.2 L1041.3,484.5 L1039.8,486.0 L1038.6,487.9 L1037.7,489.8 L1037.1,491.8 L1036.9,493.7 L1037.1,495.4 L1037.7,496.9 L1038.6,497.9 L1039.8,498.5 L1041.3,498.6 L1042.9,498.3 L1044.5,497.5 L1046.1,496.2 L1047.5,494.7 L1048.8,492.8 L1049.7,490.9 L1050.3,488.9 L1050.5,487.0Z" fill="#1f8bd0" stroke="#06203a" stroke-width="1.3"/>
<path d="M1078.0,475.9 L1077.8,473.6 L1077.0,471.7 L1075.8,470.3 L1074.1,469.5 L1072.2,469.3 L1070.1,469.8 L1067.9,470.9 L1065.8,472.6 L1063.9,474.6 L1062.2,477.1 L1061.0,479.7 L1060.2,482.4 L1060.0,484.9 L1060.2,487.2 L1061.0,489.1 L1062.2,490.5 L1063.9,491.3 L1065.8,491.5 L1067.9,491.0 L1070.1,489.9 L1072.2,488.2 L1074.1,486.2 L1075.8,483.7 L1077.0,481.1 L1077.8,478.4 L1078.0,475.9Z" fill="#1f8bd0" stroke="#06203a" stroke-width="1.3"/>
<path d="M1062.4,488.8 L1063.7,489.3 L1065.3,489.4 L1067.0,488.9 L1068.7,488.1 L1070.4,486.8 L1072.0,485.1 L1073.4,483.2 L1074.5,481.2 L1075.2,479.0 L1075.6,476.9 L1075.6,475.0 L1075.2,473.3 L1074.5,471.9 L1073.4,470.9" fill="none" stroke="#06203a" stroke-width="1.16"/>
<path d="M1073.1,475.7 L1072.9,473.9 L1072.3,472.5 L1071.4,471.5 L1070.1,470.9 L1068.7,470.8 L1067.1,471.1 L1065.5,471.9 L1063.9,473.2 L1062.4,474.7 L1061.2,476.6 L1060.3,478.5 L1059.7,480.5 L1059.5,482.4 L1059.7,484.1 L1060.3,485.6 L1061.2,486.6 L1062.4,487.2 L1063.9,487.3 L1065.5,487.0 L1067.1,486.2 L1068.7,484.9 L1070.1,483.4 L1071.4,481.5 L1072.3,479.6 L1072.9,477.6 L1073.1,475.7Z" fill="#1f8bd0" stroke="#06203a" stroke-width="1.3"/>
<path d="M1100.6,464.6 L1100.4,462.3 L1099.6,460.4 L1098.4,459.0 L1096.7,458.2 L1094.8,458.0 L1092.7,458.5 L1090.5,459.6 L1088.4,461.3 L1086.5,463.3 L1084.8,465.8 L1083.6,468.4 L1082.8,471.1 L1082.6,473.6 L1082.8,475.9 L1083.6,477.8 L1084.8,479.2 L1086.5,480.0 L1088.4,480.2 L1090.5,479.7 L1092.7,478.6 L1094.8,476.9 L1096.7,474.9 L1098.4,472.4 L1099.6,469.8 L1100.4,467.1 L1100.6,464.6Z" fill="#1f8bd0" stroke="#06203a" stroke-width="1.3"/>
<path d="M1085.0,477.5 L1086.3,478.0 L1087.9,478.1 L1089.6,477.6 L1091.3,476.8 L1093.0,475.5 L1094.6,473.8 L1096.0,471.9 L1097.1,469.9 L1097.8,467.7 L1098.2,465.6 L1098.2,463.7 L1097.8,462.0 L1097.1,460.6 L1096.0,459.6" fill="none" stroke="#06203a" stroke-width="1.16"/>
<path d="M1095.7,464.4 L1095.5,462.6 L1094.9,461.2 L1094.0,460.2 L1092.7,459.6 L1091.3,459.5 L1089.7,459.8 L1088.1,460.6 L1086.5,461.9 L1085.0,463.4 L1083.8,465.3 L1082.9,467.2 L1082.3,469.2 L1082.1,471.1 L1082.3,472.8 L1082.9,474.3 L1083.8,475.3 L1085.0,475.9 L1086.5,476.0 L1088.1,475.7 L1089.7,474.9 L1091.3,473.6 L1092.7,472.1 L1094.0,470.2 L1094.9,468.3 L1095.5,466.3 L1095.7,464.4Z" fill="#1f8bd0" stroke="#06203a" stroke-width="1.3"/>
<path d="M1123.2,453.3 L1123.0,451.0 L1122.2,449.1 L1121.0,447.7 L1119.3,446.9 L1117.4,446.7 L1115.3,447.2 L1113.1,448.3 L1111.0,450.0 L1109.1,452.0 L1107.4,454.5 L1106.2,457.1 L1105.4,459.8 L1105.2,462.3 L1105.4,464.6 L1106.2,466.5 L1107.4,467.9 L1109.1,468.7 L1111.0,468.9 L1113.1,468.4 L1115.3,467.3 L1117.4,465.6 L1119.3,463.6 L1121.0,461.1 L1122.2,458.5 L1123.0,455.8 L1123.2,453.3Z" fill="#1f8bd0" stroke="#06203a" stroke-width="1.3"/>
<path d="M1107.6,466.2 L1108.9,466.7 L1110.5,466.8 L1112.2,466.3 L1113.9,465.5 L1115.6,464.2 L1117.2,462.5 L1118.6,460.6 L1119.7,458.6 L1120.4,456.4 L1120.8,454.3 L1120.8,452.4 L1120.4,450.7 L1119.7,449.3 L1118.6,448.3" fill="none" stroke="#06203a" stroke-width="1.16"/>
<path d="M1118.3,453.1 L1118.1,451.3 L1117.5,449.9 L1116.6,448.9 L1115.3,448.3 L1113.9,448.2 L1112.3,448.5 L1110.7,449.3 L1109.1,450.6 L1107.6,452.1 L1106.4,454.0 L1105.5,455.9 L1104.9,457.9 L1104.7,459.8 L1104.9,461.5 L1105.5,463.0 L1106.4,464.0 L1107.6,464.6 L1109.1,464.7 L1110.7,464.4 L1112.3,463.6 L1113.9,462.3 L1115.3,460.8 L1116.6,458.9 L1117.5,457.0 L1118.1,455.0 L1118.3,453.1Z" fill="#1f8bd0" stroke="#06203a" stroke-width="1.3"/>
<line x1="1190.9" y1="426.2" x2="1306.8" y2="484.9" stroke="#fff" stroke-width="4.8"/><line x1="1190.9" y1="426.2" x2="1306.8" y2="484.9" stroke="#e60012" stroke-width="2.6"/>
<path d="M1177.3,419.4 L1201.4,422.5 L1195.4,428.5 L1194.3,436.8Z" fill="#e60012" stroke="#fff" stroke-width="1"/>
<line x1="1103.0" y1="474.2" x2="1216.4" y2="530.1" stroke="#fff" stroke-width="4.8"/><line x1="1103.0" y1="474.2" x2="1216.4" y2="530.1" stroke="#e60012" stroke-width="2.6"/>
<path d="M1089.4,467.4 L1113.5,470.5 L1107.5,476.5 L1106.4,484.8Z" fill="#e60012" stroke="#fff" stroke-width="1"/>
<path d="M1185.3,455.2 L1185.5,453.0 L1186.2,450.7 L1187.3,448.4 L1188.7,446.3 L1190.4,444.4 L1192.2,443.0 L1194.2,442.0 L1196.0,441.6 L1197.7,441.8 L1199.1,442.5 L1201.8,443.8 L1202.9,445.0 L1203.6,446.7 L1203.8,448.7 L1203.6,450.9 L1202.9,453.3 L1201.8,455.6 L1200.4,457.7 L1198.7,459.5 L1196.9,461.0 L1195.0,461.9 L1193.1,462.3 L1191.4,462.2 L1190.0,461.5 L1187.3,460.1 L1186.2,458.9 L1185.5,457.3Z" fill="#0b1016" stroke="#f2f2f2" stroke-width="0.9"/>
<path d="M1203.8,448.7 L1203.6,446.7 L1202.9,445.0 L1201.8,443.8 L1200.4,443.1 L1198.7,443.0 L1196.9,443.4 L1195.0,444.4 L1193.1,445.8 L1191.4,447.6 L1190.0,449.8 L1188.9,452.0 L1188.2,454.4 L1188.0,456.6 L1188.2,458.6 L1188.9,460.3 L1190.0,461.5 L1191.4,462.2 L1193.1,462.3 L1195.0,461.9 L1196.9,461.0 L1198.7,459.5 L1200.4,457.7 L1201.8,455.6 L1202.9,453.3 L1203.6,450.9 L1203.8,448.7Z" fill="#0b1016" stroke="#f2f2f2" stroke-width="0.9"/>
<path d="M1188.9,456.2 L1189.1,454.2 L1189.7,452.1 L1190.7,450.1 L1191.9,448.2 L1193.4,446.6 L1195.1,445.3 L1196.8,444.5 L1198.4,444.1 L1199.9,444.2 L1201.2,444.8 L1219.5,454.0 L1220.4,455.1 L1221.0,456.5 L1221.2,458.3 L1221.0,460.3 L1220.4,462.4 L1219.5,464.4 L1218.2,466.3 L1216.7,467.9 L1215.1,469.2 L1213.4,470.0 L1211.7,470.4 L1210.2,470.2 L1209.0,469.6 L1190.7,460.5 L1189.7,459.4 L1189.1,457.9Z" fill="#0b1016" stroke="#f2f2f2" stroke-width="0.9"/>
<path d="M1221.2,458.3 L1221.0,456.5 L1220.4,455.1 L1219.5,454.0 L1218.2,453.4 L1216.7,453.2 L1215.1,453.6 L1213.4,454.5 L1211.7,455.7 L1210.2,457.4 L1209.0,459.2 L1208.0,461.3 L1207.4,463.3 L1207.2,465.3 L1207.4,467.1 L1208.0,468.6 L1209.0,469.6 L1210.2,470.2 L1211.7,470.4 L1213.4,470.0 L1215.1,469.2 L1216.7,467.9 L1218.2,466.3 L1219.5,464.4 L1220.4,462.3 L1221.0,460.3 L1221.2,458.3Z" fill="#0b1016" stroke="#f2f2f2" stroke-width="0.9"/>
<path d="M1205.4,466.2 L1205.7,463.7 L1206.4,461.1 L1207.6,458.6 L1209.2,456.2 L1211.1,454.2 L1213.2,452.6 L1215.3,451.5 L1217.3,451.0 L1219.2,451.2 L1220.8,452.0 L1224.0,453.6 L1225.2,454.9 L1225.9,456.8 L1226.2,459.0 L1225.9,461.5 L1225.2,464.1 L1224.0,466.6 L1222.4,469.0 L1220.5,471.0 L1218.4,472.6 L1216.3,473.7 L1214.3,474.2 L1212.4,474.0 L1210.8,473.2 L1207.6,471.6 L1206.4,470.3 L1205.7,468.4Z" fill="#0b1016" stroke="#f2f2f2" stroke-width="0.9"/>
<path d="M1226.2,459.0 L1225.9,456.8 L1225.2,454.9 L1224.0,453.6 L1222.4,452.8 L1220.5,452.6 L1218.4,453.1 L1216.3,454.1 L1214.3,455.7 L1212.4,457.8 L1210.8,460.2 L1209.6,462.7 L1208.8,465.3 L1208.6,467.8 L1208.8,470.0 L1209.6,471.9 L1210.8,473.2 L1212.4,474.0 L1214.3,474.2 L1216.3,473.7 L1218.4,472.6 L1220.5,471.0 L1222.4,469.0 L1224.0,466.6 L1225.2,464.1 L1225.9,461.5 L1226.2,459.0Z" fill="#0b1016" stroke="#f2f2f2" stroke-width="0.9"/>
<path d="M1210.4,466.9 L1210.6,464.9 L1211.2,462.9 L1212.1,460.8 L1213.4,458.9 L1214.9,457.3 L1216.5,456.0 L1218.2,455.2 L1219.9,454.8 L1221.4,454.9 L1222.6,455.6 L1240.9,464.7 L1241.9,465.8 L1242.5,467.3 L1242.7,469.0 L1242.5,471.0 L1241.9,473.1 L1240.9,475.1 L1239.7,477.0 L1238.2,478.6 L1236.5,479.9 L1234.8,480.7 L1233.2,481.1 L1231.7,481.0 L1230.4,480.4 L1212.1,471.2 L1211.2,470.1 L1210.6,468.7Z" fill="#0b1016" stroke="#f2f2f2" stroke-width="0.9"/>
<path d="M1242.7,469.0 L1242.5,467.3 L1241.9,465.8 L1240.9,464.7 L1239.7,464.1 L1238.2,464.0 L1236.5,464.3 L1234.8,465.2 L1233.2,466.5 L1231.7,468.1 L1230.4,470.0 L1229.5,472.0 L1228.9,474.1 L1228.7,476.0 L1228.9,477.8 L1229.5,479.3 L1230.4,480.4 L1231.7,481.0 L1233.2,481.1 L1234.8,480.7 L1236.5,479.9 L1238.2,478.6 L1239.7,477.0 L1240.9,475.1 L1241.9,473.1 L1242.5,471.0 L1242.7,469.0Z" fill="#0b1016" stroke="#f2f2f2" stroke-width="0.9"/>
<path d="M1227.8,476.5 L1228.0,474.3 L1228.7,471.9 L1229.8,469.6 L1231.2,467.5 L1232.9,465.7 L1234.7,464.2 L1236.6,463.3 L1238.5,462.9 L1240.2,463.0 L1241.6,463.7 L1244.3,465.1 L1245.4,466.3 L1246.1,467.9 L1246.3,469.9 L1246.1,472.2 L1245.4,474.5 L1244.3,476.8 L1242.9,478.9 L1241.2,480.8 L1239.3,482.2 L1237.5,483.2 L1235.6,483.6 L1233.9,483.4 L1232.5,482.7 L1229.8,481.4 L1228.7,480.2 L1228.0,478.5Z" fill="#0b1016" stroke="#f2f2f2" stroke-width="0.9"/>
<path d="M1246.3,469.9 L1246.1,467.9 L1245.4,466.3 L1244.3,465.1 L1242.9,464.4 L1241.2,464.2 L1239.4,464.6 L1237.4,465.6 L1235.6,467.0 L1233.9,468.9 L1232.5,471.0 L1231.4,473.3 L1230.7,475.6 L1230.5,477.9 L1230.7,479.9 L1231.4,481.5 L1232.5,482.7 L1233.9,483.4 L1235.6,483.6 L1237.4,483.2 L1239.4,482.2 L1241.2,480.8 L1242.9,478.9 L1244.3,476.8 L1245.4,474.5 L1246.1,472.2 L1246.3,469.9Z" fill="#0b1016" stroke="#f2f2f2" stroke-width="0.9"/>
<path d="M1243.6,471.3 L1243.4,470.0 L1243.0,468.9 L1242.3,468.1 L1241.4,467.6 L1240.2,467.5 L1239.0,467.8 L1237.8,468.4 L1236.6,469.4 L1235.4,470.6 L1234.5,472.0 L1233.8,473.5 L1233.4,475.0 L1233.2,476.5 L1233.4,477.8 L1233.8,478.9 L1234.5,479.7 L1235.4,480.2 L1236.6,480.3 L1237.8,480.0 L1239.0,479.4 L1240.2,478.4 L1241.4,477.2 L1242.3,475.8 L1243.0,474.3 L1243.4,472.8 L1243.6,471.3Z" fill="#0b1016" stroke="#f2f2f2" stroke-width="0.9"/>
<path d="M1204.8,450.2 L1196.0,445.8" fill="none" stroke="#f2f2f2" stroke-width="1.17"/>
<path d="M1200.7,454.5 L1191.9,450.0" fill="none" stroke="#f2f2f2" stroke-width="1.17"/>
<path d="M1198.7,460.0 L1189.9,455.6" fill="none" stroke="#f2f2f2" stroke-width="1.17"/>
<path d="M1225.1,460.3 L1233.9,464.7" fill="none" stroke="#f2f2f2" stroke-width="1.17"/>
<path d="M1221.0,464.6 L1229.8,469.0" fill="none" stroke="#f2f2f2" stroke-width="1.17"/>
<path d="M1219.0,470.2 L1227.8,474.6" fill="none" stroke="#f2f2f2" stroke-width="1.17"/>
<path d="M1207.2,452.6 L1211.7,454.8" fill="none" stroke="#f2f2f2" stroke-width="0.9"/>
<path d="M1216.2,457.1 L1220.8,459.3" fill="none" stroke="#f2f2f2" stroke-width="0.9"/>
<path d="M1202.7,459.1 L1207.2,461.3" fill="none" stroke="#f2f2f2" stroke-width="0.9"/>
<path d="M1211.7,463.6 L1216.2,465.9" fill="none" stroke="#f2f2f2" stroke-width="0.9"/>
<path d="M1139.5,476.9 L1139.7,474.6 L1140.4,472.3 L1141.5,470.0 L1142.9,467.9 L1144.6,466.0 L1146.5,464.6 L1148.3,463.6 L1150.2,463.2 L1151.9,463.4 L1153.3,464.1 L1156.0,465.4 L1157.1,466.6 L1157.8,468.3 L1158.0,470.3 L1157.8,472.5 L1157.1,474.9 L1156.0,477.2 L1154.6,479.3 L1152.9,481.1 L1151.1,482.6 L1149.2,483.5 L1147.3,483.9 L1145.6,483.8 L1144.2,483.1 L1141.5,481.7 L1140.4,480.5 L1139.7,478.9Z" fill="#0b1016" stroke="#f2f2f2" stroke-width="0.9"/>
<path d="M1158.0,470.3 L1157.8,468.3 L1157.1,466.6 L1156.0,465.4 L1154.6,464.7 L1152.9,464.6 L1151.1,465.0 L1149.2,466.0 L1147.3,467.4 L1145.6,469.2 L1144.2,471.4 L1143.1,473.6 L1142.4,476.0 L1142.2,478.2 L1142.4,480.2 L1143.1,481.9 L1144.2,483.1 L1145.6,483.8 L1147.3,483.9 L1149.2,483.5 L1151.1,482.6 L1152.9,481.1 L1154.6,479.3 L1156.0,477.2 L1157.1,474.9 L1157.8,472.5 L1158.0,470.3Z" fill="#0b1016" stroke="#f2f2f2" stroke-width="0.9"/>
<path d="M1143.1,477.8 L1143.3,475.8 L1143.9,473.7 L1144.9,471.7 L1146.1,469.8 L1147.6,468.2 L1149.3,466.9 L1151.0,466.1 L1152.6,465.7 L1154.1,465.8 L1155.4,466.4 L1173.7,475.6 L1174.6,476.7 L1175.2,478.1 L1175.4,479.9 L1175.2,481.9 L1174.6,483.9 L1173.7,486.0 L1172.4,487.9 L1170.9,489.5 L1169.3,490.8 L1167.6,491.6 L1165.9,492.0 L1164.4,491.9 L1163.2,491.2 L1144.9,482.1 L1143.9,481.0 L1143.3,479.5Z" fill="#0b1016" stroke="#f2f2f2" stroke-width="0.9"/>
<path d="M1175.4,479.9 L1175.2,478.1 L1174.6,476.7 L1173.7,475.6 L1172.4,475.0 L1170.9,474.8 L1169.3,475.2 L1167.6,476.1 L1165.9,477.3 L1164.4,479.0 L1163.2,480.8 L1162.2,482.9 L1161.6,484.9 L1161.4,486.9 L1161.6,488.7 L1162.2,490.2 L1163.2,491.2 L1164.4,491.8 L1165.9,492.0 L1167.6,491.6 L1169.3,490.8 L1170.9,489.5 L1172.4,487.9 L1173.7,486.0 L1174.6,483.9 L1175.2,481.9 L1175.4,479.9Z" fill="#0b1016" stroke="#f2f2f2" stroke-width="0.9"/>
<path d="M1159.6,487.8 L1159.9,485.3 L1160.6,482.7 L1161.8,480.2 L1163.4,477.8 L1165.3,475.8 L1167.4,474.2 L1169.5,473.1 L1171.5,472.6 L1173.4,472.8 L1175.0,473.6 L1178.2,475.2 L1179.4,476.5 L1180.1,478.4 L1180.4,480.6 L1180.1,483.1 L1179.4,485.7 L1178.2,488.2 L1176.6,490.6 L1174.7,492.6 L1172.6,494.2 L1170.5,495.3 L1168.5,495.8 L1166.6,495.6 L1165.0,494.8 L1161.8,493.2 L1160.6,491.9 L1159.9,490.1Z" fill="#0b1016" stroke="#f2f2f2" stroke-width="0.9"/>
<path d="M1180.4,480.6 L1180.1,478.4 L1179.4,476.5 L1178.2,475.2 L1176.6,474.4 L1174.7,474.2 L1172.6,474.7 L1170.5,475.7 L1168.5,477.3 L1166.6,479.4 L1165.0,481.8 L1163.8,484.3 L1163.0,486.9 L1162.8,489.4 L1163.0,491.6 L1163.8,493.5 L1165.0,494.8 L1166.6,495.6 L1168.5,495.8 L1170.5,495.3 L1172.6,494.2 L1174.7,492.6 L1176.6,490.6 L1178.2,488.2 L1179.4,485.7 L1180.1,483.1 L1180.4,480.6Z" fill="#0b1016" stroke="#f2f2f2" stroke-width="0.9"/>
<path d="M1164.6,488.5 L1164.8,486.5 L1165.4,484.4 L1166.3,482.4 L1167.6,480.5 L1169.1,478.9 L1170.7,477.6 L1172.4,476.8 L1174.1,476.4 L1175.6,476.6 L1176.8,477.2 L1195.1,486.3 L1196.1,487.4 L1196.7,488.9 L1196.9,490.6 L1196.7,492.6 L1196.1,494.7 L1195.1,496.7 L1193.9,498.6 L1192.4,500.2 L1190.7,501.5 L1189.0,502.3 L1187.4,502.7 L1185.9,502.6 L1184.6,502.0 L1166.3,492.8 L1165.4,491.7 L1164.8,490.3Z" fill="#0b1016" stroke="#f2f2f2" stroke-width="0.9"/>
<path d="M1196.9,490.6 L1196.7,488.9 L1196.1,487.4 L1195.1,486.3 L1193.9,485.7 L1192.4,485.6 L1190.7,485.9 L1189.0,486.8 L1187.4,488.1 L1185.9,489.7 L1184.6,491.6 L1183.7,493.6 L1183.1,495.7 L1182.9,497.6 L1183.1,499.4 L1183.7,500.9 L1184.6,502.0 L1185.9,502.6 L1187.4,502.7 L1189.0,502.3 L1190.7,501.5 L1192.4,500.2 L1193.9,498.6 L1195.1,496.7 L1196.1,494.7 L1196.7,492.6 L1196.9,490.6Z" fill="#0b1016" stroke="#f2f2f2" stroke-width="0.9"/>
<path d="M1182.0,498.1 L1182.2,495.9 L1182.9,493.5 L1184.0,491.2 L1185.4,489.1 L1187.1,487.3 L1188.9,485.8 L1190.8,484.9 L1192.7,484.5 L1194.4,484.6 L1195.8,485.3 L1198.5,486.7 L1199.6,487.9 L1200.3,489.5 L1200.5,491.6 L1200.3,493.8 L1199.6,496.1 L1198.5,498.4 L1197.1,500.5 L1195.4,502.4 L1193.5,503.8 L1191.7,504.8 L1189.8,505.2 L1188.1,505.0 L1186.7,504.3 L1184.0,503.0 L1182.9,501.8 L1182.2,500.1Z" fill="#0b1016" stroke="#f2f2f2" stroke-width="0.9"/>
<path d="M1200.5,491.5 L1200.3,489.5 L1199.6,487.9 L1198.5,486.7 L1197.1,486.0 L1195.4,485.8 L1193.6,486.2 L1191.6,487.2 L1189.8,488.6 L1188.1,490.5 L1186.7,492.6 L1185.6,494.9 L1184.9,497.2 L1184.7,499.5 L1184.9,501.5 L1185.6,503.1 L1186.7,504.3 L1188.1,505.0 L1189.8,505.2 L1191.6,504.8 L1193.6,503.8 L1195.4,502.4 L1197.1,500.5 L1198.5,498.4 L1199.6,496.1 L1200.3,493.8 L1200.5,491.5Z" fill="#0b1016" stroke="#f2f2f2" stroke-width="0.9"/>
<path d="M1197.8,492.9 L1197.6,491.6 L1197.2,490.5 L1196.5,489.7 L1195.6,489.2 L1194.4,489.1 L1193.2,489.4 L1192.0,490.0 L1190.8,491.0 L1189.6,492.2 L1188.7,493.6 L1188.0,495.1 L1187.6,496.6 L1187.4,498.1 L1187.6,499.4 L1188.0,500.5 L1188.7,501.3 L1189.6,501.8 L1190.8,501.9 L1192.0,501.6 L1193.2,501.0 L1194.4,500.0 L1195.6,498.8 L1196.5,497.4 L1197.2,495.9 L1197.6,494.4 L1197.8,492.9Z" fill="#0b1016" stroke="#f2f2f2" stroke-width="0.9"/>
<path d="M1159.0,471.8 L1150.2,467.4" fill="none" stroke="#f2f2f2" stroke-width="1.17"/>
<path d="M1154.9,476.1 L1146.1,471.6" fill="none" stroke="#f2f2f2" stroke-width="1.17"/>
<path d="M1152.9,481.6 L1144.1,477.2" fill="none" stroke="#f2f2f2" stroke-width="1.17"/>
<path d="M1179.3,481.9 L1188.1,486.3" fill="none" stroke="#f2f2f2" stroke-width="1.17"/>
<path d="M1175.2,486.2 L1184.0,490.6" fill="none" stroke="#f2f2f2" stroke-width="1.17"/>
<path d="M1173.2,491.8 L1182.0,496.2" fill="none" stroke="#f2f2f2" stroke-width="1.17"/>
<path d="M1161.4,474.2 L1165.9,476.4" fill="none" stroke="#f2f2f2" stroke-width="0.9"/>
<path d="M1170.4,478.7 L1175.0,480.9" fill="none" stroke="#f2f2f2" stroke-width="0.9"/>
<path d="M1156.9,480.7 L1161.4,482.9" fill="none" stroke="#f2f2f2" stroke-width="0.9"/>
<path d="M1165.9,485.2 L1170.4,487.5" fill="none" stroke="#f2f2f2" stroke-width="0.9"/>
<path d="M1208.3,442.8 L1208.5,440.5 L1209.2,438.2 L1210.3,435.9 L1211.7,433.8 L1213.4,431.9 L1215.2,430.5 L1217.2,429.6 L1219.0,429.1 L1220.7,429.3 L1222.1,430.0 L1224.8,431.3 L1225.9,432.6 L1226.6,434.2 L1226.8,436.2 L1226.6,438.4 L1225.9,440.8 L1224.8,443.1 L1223.4,445.2 L1221.7,447.0 L1219.9,448.5 L1218.0,449.4 L1216.1,449.8 L1214.4,449.7 L1213.0,449.0 L1210.3,447.6 L1209.2,446.4 L1208.5,444.8Z" fill="#1b4aa0" stroke="#06153a" stroke-width="1"/>
<path d="M1226.8,436.2 L1226.6,434.2 L1225.9,432.5 L1224.8,431.3 L1223.4,430.6 L1221.7,430.5 L1219.9,430.9 L1218.0,431.9 L1216.1,433.3 L1214.4,435.1 L1213.0,437.3 L1211.9,439.6 L1211.2,441.9 L1211.0,444.1 L1211.2,446.1 L1211.9,447.8 L1213.0,449.0 L1214.4,449.7 L1216.1,449.8 L1218.0,449.4 L1219.9,448.5 L1221.7,447.0 L1223.4,445.2 L1224.8,443.1 L1225.9,440.8 L1226.6,438.4 L1226.8,436.2Z" fill="#1b4aa0" stroke="#06153a" stroke-width="1"/>
<path d="M1211.9,443.7 L1212.1,441.7 L1212.7,439.6 L1213.7,437.6 L1214.9,435.7 L1216.4,434.1 L1218.1,432.8 L1219.8,432.0 L1221.4,431.6 L1222.9,431.7 L1224.2,432.3 L1240.4,440.5 L1241.4,441.6 L1242.0,443.0 L1242.2,444.8 L1242.0,446.8 L1241.4,448.8 L1240.4,450.9 L1239.2,452.8 L1237.7,454.4 L1236.0,455.6 L1234.3,456.5 L1232.7,456.9 L1231.2,456.7 L1230.0,456.1 L1213.7,448.0 L1212.7,446.9 L1212.1,445.4Z" fill="#1b4aa0" stroke="#06153a" stroke-width="1"/>
<path d="M1242.2,444.8 L1242.0,443.0 L1241.4,441.6 L1240.4,440.5 L1239.2,439.9 L1237.7,439.7 L1236.0,440.1 L1234.3,440.9 L1232.7,442.2 L1231.2,443.8 L1229.9,445.7 L1229.0,447.8 L1228.4,449.8 L1228.2,451.8 L1228.4,453.6 L1229.0,455.0 L1229.9,456.1 L1231.2,456.7 L1232.7,456.9 L1234.3,456.5 L1236.0,455.6 L1237.7,454.4 L1239.2,452.8 L1240.4,450.9 L1241.4,448.8 L1242.0,446.8 L1242.2,444.8Z" fill="#1b4aa0" stroke="#06153a" stroke-width="1"/>
<path d="M1225.7,453.0 L1226.0,450.4 L1226.8,447.6 L1228.1,444.8 L1229.8,442.3 L1231.8,440.1 L1234.0,438.3 L1236.3,437.2 L1238.6,436.7 L1240.6,436.9 L1242.3,437.7 L1245.9,439.5 L1247.2,441.0 L1248.0,443.0 L1248.3,445.4 L1248.0,448.0 L1247.2,450.8 L1245.9,453.6 L1244.2,456.1 L1242.2,458.3 L1240.0,460.1 L1237.7,461.2 L1235.4,461.7 L1233.4,461.5 L1231.7,460.7 L1228.1,458.9 L1226.8,457.4 L1226.0,455.4Z" fill="#1b4aa0" stroke="#06153a" stroke-width="1"/>
<path d="M1248.3,445.4 L1248.0,443.0 L1247.2,441.0 L1245.9,439.5 L1244.2,438.7 L1242.2,438.5 L1240.0,439.0 L1237.7,440.1 L1235.4,441.9 L1233.4,444.1 L1231.7,446.6 L1230.4,449.4 L1229.6,452.2 L1229.3,454.8 L1229.6,457.3 L1230.4,459.2 L1231.7,460.7 L1233.4,461.5 L1235.4,461.7 L1237.7,461.2 L1240.0,460.1 L1242.2,458.3 L1244.2,456.1 L1245.9,453.6 L1247.2,450.8 L1248.0,448.0 L1248.3,445.4Z" fill="#1b4aa0" stroke="#06153a" stroke-width="1"/><path d="M1218.0,434.0 L1225.7,437.8" fill="none" stroke="#06153a" stroke-width="1.1"/><path d="M1213.5,440.5 L1221.2,444.3" fill="none" stroke="#06153a" stroke-width="1.1"/>
<path d="M1232.7,450.6 L1236.5,444.4 L1241.1,442.1 L1264.1,453.7 L1268.0,456.1 L1268.0,461.1 L1264.1,467.3 L1259.6,469.6 L1236.5,458.1 L1232.7,455.7Z" fill="#1b4aa0" stroke="#06153a" stroke-width="1"/><path d="M1259.6,455.9 L1236.5,444.4" fill="none" stroke="#06153a" stroke-width="0.9"/><path d="M1264.1,453.7 L1241.1,442.2" fill="none" stroke="#06153a" stroke-width="0.9"/><path d="M1255.8,467.2 L1232.7,455.7" fill="none" stroke="#06153a" stroke-width="0.9"/><path d="M1255.8,462.2 L1232.7,450.6" fill="none" stroke="#06153a" stroke-width="0.9"/><path d="M1259.6,460.2 L1236.5,448.7" fill="none" stroke="#06153a" stroke-width="0.9"/><path d="M1259.6,455.9 L1264.1,453.7 L1264.1,458.0 L1268.0,456.1 L1268.0,461.1 L1264.1,463.0 L1264.1,467.3 L1259.6,469.6 L1259.6,465.3 L1255.8,467.2 L1255.8,462.2 L1259.6,460.2Z" fill="#1b4aa0" stroke="#06153a" stroke-width="0.9"/>
<path d="M1117.3,489.1 L1117.5,486.8 L1118.2,484.5 L1119.3,482.2 L1120.7,480.1 L1122.4,478.2 L1124.2,476.8 L1126.2,475.9 L1128.0,475.4 L1129.7,475.6 L1131.1,476.3 L1133.8,477.6 L1134.9,478.9 L1135.6,480.5 L1135.8,482.5 L1135.6,484.7 L1134.9,487.1 L1133.8,489.4 L1132.4,491.5 L1130.7,493.3 L1128.9,494.8 L1127.0,495.7 L1125.1,496.1 L1123.4,496.0 L1122.0,495.3 L1119.3,493.9 L1118.2,492.7 L1117.5,491.1Z" fill="#1b4aa0" stroke="#06153a" stroke-width="1"/>
<path d="M1135.8,482.5 L1135.6,480.5 L1134.9,478.8 L1133.8,477.6 L1132.4,476.9 L1130.7,476.8 L1128.9,477.2 L1127.0,478.2 L1125.1,479.6 L1123.4,481.4 L1122.0,483.6 L1120.9,485.9 L1120.2,488.2 L1120.0,490.4 L1120.2,492.4 L1120.9,494.1 L1122.0,495.3 L1123.4,496.0 L1125.1,496.1 L1127.0,495.7 L1128.9,494.8 L1130.7,493.3 L1132.4,491.5 L1133.8,489.4 L1134.9,487.1 L1135.6,484.7 L1135.8,482.5Z" fill="#1b4aa0" stroke="#06153a" stroke-width="1"/>
<path d="M1120.9,490.0 L1121.1,488.0 L1121.7,485.9 L1122.7,483.9 L1123.9,482.0 L1125.4,480.4 L1127.1,479.1 L1128.8,478.3 L1130.4,477.9 L1131.9,478.0 L1133.2,478.6 L1149.4,486.8 L1150.4,487.9 L1151.0,489.3 L1151.2,491.1 L1151.0,493.1 L1150.4,495.1 L1149.4,497.2 L1148.2,499.1 L1146.7,500.7 L1145.0,501.9 L1143.3,502.8 L1141.7,503.2 L1140.2,503.0 L1139.0,502.4 L1122.7,494.3 L1121.7,493.2 L1121.1,491.7Z" fill="#1b4aa0" stroke="#06153a" stroke-width="1"/>
<path d="M1151.2,491.1 L1151.0,489.3 L1150.4,487.9 L1149.4,486.8 L1148.2,486.2 L1146.7,486.0 L1145.0,486.4 L1143.3,487.2 L1141.7,488.5 L1140.2,490.1 L1138.9,492.0 L1138.0,494.1 L1137.4,496.1 L1137.2,498.1 L1137.4,499.9 L1138.0,501.3 L1138.9,502.4 L1140.2,503.0 L1141.7,503.2 L1143.3,502.8 L1145.0,501.9 L1146.7,500.7 L1148.2,499.1 L1149.4,497.2 L1150.4,495.1 L1151.0,493.1 L1151.2,491.1Z" fill="#1b4aa0" stroke="#06153a" stroke-width="1"/>
<path d="M1134.7,499.3 L1135.0,496.7 L1135.8,493.9 L1137.1,491.1 L1138.8,488.6 L1140.8,486.4 L1143.0,484.6 L1145.3,483.5 L1147.6,483.0 L1149.6,483.2 L1151.3,484.0 L1154.9,485.8 L1156.2,487.3 L1157.0,489.3 L1157.3,491.7 L1157.0,494.3 L1156.2,497.1 L1154.9,499.9 L1153.2,502.4 L1151.2,504.6 L1149.0,506.4 L1146.7,507.5 L1144.4,508.0 L1142.4,507.8 L1140.7,507.0 L1137.1,505.2 L1135.8,503.7 L1135.0,501.7Z" fill="#1b4aa0" stroke="#06153a" stroke-width="1"/>
<path d="M1157.3,491.7 L1157.0,489.3 L1156.2,487.3 L1154.9,485.8 L1153.2,485.0 L1151.2,484.8 L1149.0,485.3 L1146.7,486.4 L1144.4,488.2 L1142.4,490.4 L1140.7,492.9 L1139.4,495.7 L1138.6,498.5 L1138.3,501.1 L1138.6,503.6 L1139.4,505.5 L1140.7,507.0 L1142.4,507.8 L1144.4,508.0 L1146.7,507.5 L1149.0,506.4 L1151.2,504.6 L1153.2,502.4 L1154.9,499.9 L1156.2,497.1 L1157.0,494.3 L1157.3,491.7Z" fill="#1b4aa0" stroke="#06153a" stroke-width="1"/><path d="M1127.0,480.3 L1134.7,484.1" fill="none" stroke="#06153a" stroke-width="1.1"/><path d="M1122.5,486.8 L1130.2,490.6" fill="none" stroke="#06153a" stroke-width="1.1"/>
<path d="M1141.7,496.9 L1145.5,490.7 L1150.1,488.4 L1173.1,500.0 L1177.0,502.4 L1177.0,507.4 L1173.1,513.6 L1168.6,515.9 L1145.5,504.4 L1141.7,502.0Z" fill="#1b4aa0" stroke="#06153a" stroke-width="1"/><path d="M1168.6,502.2 L1145.5,490.7" fill="none" stroke="#06153a" stroke-width="0.9"/><path d="M1173.1,500.0 L1150.1,488.5" fill="none" stroke="#06153a" stroke-width="0.9"/><path d="M1164.8,513.5 L1141.7,502.0" fill="none" stroke="#06153a" stroke-width="0.9"/><path d="M1164.8,508.5 L1141.7,496.9" fill="none" stroke="#06153a" stroke-width="0.9"/><path d="M1168.6,506.5 L1145.5,495.0" fill="none" stroke="#06153a" stroke-width="0.9"/><path d="M1168.6,502.2 L1173.1,500.0 L1173.1,504.3 L1177.0,502.4 L1177.0,507.4 L1173.1,509.3 L1173.1,513.6 L1168.6,515.9 L1168.6,511.6 L1164.8,513.5 L1164.8,508.5 L1168.6,506.5Z" fill="#1b4aa0" stroke="#06153a" stroke-width="0.9"/>
<path d="M1194.0,530.0 L1194.2,527.5 L1194.9,524.8 L1195.9,522.2 L1197.3,519.6 L1199.0,517.2 L1200.9,515.1 L1202.9,513.4 L1205.1,512.1 L1295.5,466.9 L1297.7,466.0 L1299.7,465.7 L1301.7,465.9 L1303.3,466.6 L1314.6,472.2 L1316.0,473.4 L1317.0,475.1 L1317.7,477.1 L1317.9,479.4 L1317.7,481.9 L1317.0,484.5 L1316.0,487.2 L1314.6,489.7 L1313.0,492.1 L1311.0,494.2 L1309.0,496.0 L1306.8,497.3 L1216.4,542.5 L1214.2,543.3 L1212.2,543.7 L1210.2,543.5 L1208.6,542.8 L1197.3,537.1 L1195.9,535.9 L1194.9,534.3 L1194.2,532.3Z" fill="#0b1016" stroke="#0b1016" stroke-width="1.2"/>
<path d="M1216.4,519.0 L1214.5,520.2 L1212.6,521.7 L1210.9,523.6 L1209.4,525.8 L1208.1,528.1 L1207.2,530.4 L1206.6,532.8 L1206.5,535.1 L1206.6,537.1 L1207.2,538.9 L1208.1,540.4 L1209.4,541.5 L1210.9,542.1 L1212.6,542.3 L1214.5,542.0 L1216.4,541.2 L1306.8,496.0 L1308.7,494.8 L1310.6,493.3 L1312.3,491.4 L1313.8,489.2 L1315.1,486.9 L1316.0,484.6 L1316.6,482.2 L1316.7,479.9 L1316.6,477.9 L1316.0,476.1 L1315.1,474.6 L1313.8,473.5 L1312.3,472.9 L1310.6,472.7 L1308.7,473.0 L1306.8,473.8Z" fill="none" stroke="#ececec" stroke-width="0.9"/>
<path d="M1214.1,523.6 L1218.7,521.4 L1218.7,526.4 L1223.2,524.2 L1223.2,529.2 L1218.7,531.5 L1218.7,536.6 L1214.1,538.8 L1214.1,533.8 L1209.6,536.0 L1209.6,531.0 L1214.1,528.7Z" fill="#0b1016" stroke="#ececec" stroke-width="0.9"/>
<path d="M1248.3,514.2 L1248.0,511.8 L1247.2,509.9 L1245.9,508.5 L1244.3,507.6 L1242.3,507.5 L1240.1,508.0 L1237.9,509.1 L1235.7,510.8 L1233.7,512.9 L1232.1,515.4 L1230.8,518.1 L1230.0,520.8 L1229.7,523.4 L1230.0,525.8 L1230.8,527.7 L1232.1,529.1 L1233.7,530.0 L1235.7,530.1 L1237.9,529.6 L1240.1,528.5 L1242.3,526.8 L1244.3,524.7 L1245.9,522.2 L1247.2,519.5 L1248.0,516.8 L1248.3,514.2Z" fill="none" stroke="#ececec" stroke-width="0.9"/>
<path d="M1247.1,514.7 L1246.9,512.7 L1246.2,511.0 L1245.1,509.7 L1243.6,509.0 L1241.9,508.9 L1240.0,509.3 L1238.0,510.3 L1236.1,511.7 L1234.4,513.6 L1232.9,515.8 L1231.8,518.2 L1231.1,520.6 L1230.9,522.9 L1231.1,524.9 L1231.8,526.6 L1232.9,527.9 L1234.4,528.6 L1236.1,528.7 L1238.0,528.3 L1240.0,527.3 L1241.9,525.9 L1243.6,524.0 L1245.1,521.8 L1246.2,519.4 L1246.9,517.0 L1247.1,514.7Z" fill="none" stroke="#ececec" stroke-width="0.54"/>
<path d="M1244.7,514.8 L1244.5,513.1 L1243.9,511.7 L1242.9,510.7 L1241.7,510.1 L1240.3,509.9 L1238.7,510.3 L1237.1,511.1 L1235.5,512.3 L1234.0,513.9 L1232.8,515.7 L1231.9,517.7 L1231.3,519.7 L1231.1,521.6 L1231.3,523.3 L1231.9,524.8 L1232.8,525.8 L1234.0,526.4 L1235.5,526.5 L1237.1,526.2 L1238.7,525.4 L1240.3,524.1 L1241.7,522.5 L1242.9,520.7 L1243.9,518.8 L1244.5,516.8 L1244.7,514.8Z" fill="#0b1016" stroke="#ececec" stroke-width="0.9"/>
<path d="M1237.0,523.6 L1241.7,514.9" fill="none" stroke="#8d9093" stroke-width="2.16"/>
<path d="M1270.9,502.9 L1270.6,500.5 L1269.8,498.6 L1268.5,497.2 L1266.9,496.3 L1264.9,496.2 L1262.7,496.7 L1260.5,497.8 L1258.3,499.5 L1256.3,501.6 L1254.7,504.1 L1253.4,506.8 L1252.6,509.5 L1252.3,512.1 L1252.6,514.5 L1253.4,516.4 L1254.7,517.8 L1256.3,518.7 L1258.3,518.8 L1260.5,518.3 L1262.7,517.2 L1264.9,515.5 L1266.9,513.4 L1268.5,510.9 L1269.8,508.2 L1270.6,505.5 L1270.9,502.9Z" fill="none" stroke="#ececec" stroke-width="0.9"/>
<path d="M1269.7,503.4 L1269.5,501.4 L1268.8,499.7 L1267.7,498.4 L1266.2,497.7 L1264.5,497.6 L1262.6,498.0 L1260.6,499.0 L1258.7,500.4 L1257.0,502.3 L1255.5,504.5 L1254.4,506.9 L1253.7,509.3 L1253.5,511.6 L1253.7,513.6 L1254.4,515.3 L1255.5,516.6 L1257.0,517.3 L1258.7,517.4 L1260.6,517.0 L1262.6,516.0 L1264.5,514.6 L1266.2,512.7 L1267.7,510.5 L1268.8,508.1 L1269.5,505.7 L1269.7,503.4Z" fill="none" stroke="#ececec" stroke-width="0.54"/>
<path d="M1267.2,503.5 L1267.1,501.8 L1266.5,500.4 L1265.5,499.4 L1264.3,498.8 L1262.9,498.6 L1261.3,499.0 L1259.7,499.8 L1258.1,501.0 L1256.6,502.6 L1255.4,504.4 L1254.5,506.4 L1253.9,508.4 L1253.7,510.3 L1253.9,512.0 L1254.5,513.5 L1255.4,514.5 L1256.6,515.1 L1258.1,515.2 L1259.7,514.9 L1261.3,514.1 L1262.9,512.8 L1264.3,511.2 L1265.5,509.4 L1266.5,507.5 L1267.1,505.5 L1267.2,503.5Z" fill="#0b1016" stroke="#ececec" stroke-width="0.9"/>
<path d="M1259.6,512.3 L1264.3,503.6" fill="none" stroke="#8d9093" stroke-width="2.16"/>
<path d="M1293.5,491.6 L1293.2,489.2 L1292.4,487.3 L1291.1,485.9 L1289.5,485.0 L1287.5,484.9 L1285.3,485.4 L1283.1,486.5 L1280.9,488.2 L1278.9,490.3 L1277.3,492.8 L1276.0,495.5 L1275.2,498.2 L1274.9,500.8 L1275.2,503.2 L1276.0,505.1 L1277.3,506.5 L1278.9,507.4 L1280.9,507.5 L1283.1,507.0 L1285.3,505.9 L1287.5,504.2 L1289.5,502.1 L1291.1,499.6 L1292.4,496.9 L1293.2,494.2 L1293.5,491.6Z" fill="none" stroke="#ececec" stroke-width="0.9"/>
<path d="M1292.3,492.1 L1292.1,490.1 L1291.4,488.4 L1290.3,487.1 L1288.8,486.4 L1287.1,486.3 L1285.2,486.7 L1283.2,487.7 L1281.3,489.1 L1279.6,491.0 L1278.1,493.2 L1277.0,495.6 L1276.3,498.0 L1276.1,500.3 L1276.3,502.3 L1277.0,504.0 L1278.1,505.3 L1279.6,506.0 L1281.3,506.1 L1283.2,505.7 L1285.2,504.7 L1287.1,503.3 L1288.8,501.4 L1290.3,499.2 L1291.4,496.8 L1292.1,494.4 L1292.3,492.1Z" fill="none" stroke="#ececec" stroke-width="0.54"/>
<path d="M1289.8,492.2 L1289.7,490.5 L1289.1,489.1 L1288.1,488.1 L1286.9,487.5 L1285.5,487.3 L1283.9,487.7 L1282.3,488.5 L1280.7,489.7 L1279.2,491.3 L1278.0,493.1 L1277.1,495.1 L1276.5,497.1 L1276.3,499.0 L1276.5,500.7 L1277.1,502.2 L1278.0,503.2 L1279.2,503.8 L1280.7,503.9 L1282.3,503.6 L1283.9,502.8 L1285.5,501.5 L1286.9,499.9 L1288.1,498.1 L1289.1,496.2 L1289.7,494.2 L1289.8,492.2Z" fill="#0b1016" stroke="#ececec" stroke-width="0.9"/>
<path d="M1282.2,501.0 L1286.9,492.3" fill="none" stroke="#8d9093" stroke-width="2.16"/>
<path d="M1304.5,478.4 L1309.1,476.2 L1309.1,481.2 L1313.6,479.0 L1313.6,484.0 L1309.1,486.3 L1309.1,491.4 L1304.5,493.6 L1304.5,488.6 L1300.0,490.8 L1300.0,485.8 L1304.5,483.5Z" fill="#0b1016" stroke="#ececec" stroke-width="0.9"/>
<path d="M1224.1,516.7 L1227.7,521.9 L1231.3,513.0" fill="none" stroke="#ececec" stroke-width="0.72"/>
<path d="M1225.4,515.0 L1230.0,512.7" fill="none" stroke="#ececec" stroke-width="0.72"/>
<path d="M1224.1,535.9 L1227.7,527.0 L1231.3,532.2" fill="none" stroke="#ececec" stroke-width="0.72"/>
<path d="M1225.4,536.2 L1230.0,533.9" fill="none" stroke="#ececec" stroke-width="0.72"/>
<path d="M1246.7,505.4 L1250.3,510.6 L1253.9,501.7" fill="none" stroke="#ececec" stroke-width="0.72"/>
<path d="M1248.0,503.7 L1252.6,501.4" fill="none" stroke="#ececec" stroke-width="0.72"/>
<path d="M1246.7,524.6 L1250.3,515.7 L1253.9,520.9" fill="none" stroke="#ececec" stroke-width="0.72"/>
<path d="M1248.0,524.9 L1252.6,522.6" fill="none" stroke="#ececec" stroke-width="0.72"/>
<path d="M1269.3,494.1 L1272.9,499.3 L1276.5,490.4" fill="none" stroke="#ececec" stroke-width="0.72"/>
<path d="M1270.6,492.4 L1275.2,490.1" fill="none" stroke="#ececec" stroke-width="0.72"/>
<path d="M1269.3,513.3 L1272.9,504.4 L1276.5,509.6" fill="none" stroke="#ececec" stroke-width="0.72"/>
<path d="M1270.6,513.6 L1275.2,511.3" fill="none" stroke="#ececec" stroke-width="0.72"/>
<path d="M1291.9,482.8 L1295.5,488.0 L1299.1,479.1" fill="none" stroke="#ececec" stroke-width="0.72"/>
<path d="M1293.2,481.1 L1297.8,478.8" fill="none" stroke="#ececec" stroke-width="0.72"/>
<path d="M1291.9,502.0 L1295.5,493.1 L1299.1,498.3" fill="none" stroke="#ececec" stroke-width="0.72"/>
<path d="M1293.2,502.3 L1297.8,500.0" fill="none" stroke="#ececec" stroke-width="0.72"/>
<line x1="1216.4" y1="530.1" x2="1271.9" y2="558.3" stroke="#fff" stroke-width="4.8"/><line x1="1216.4" y1="530.1" x2="1271.9" y2="558.3" stroke="#e60012" stroke-width="2.6"/>
<line x1="1306.8" y1="484.9" x2="1362.3" y2="513.1" stroke="#fff" stroke-width="4.8"/><line x1="1306.8" y1="484.9" x2="1362.3" y2="513.1" stroke="#e60012" stroke-width="2.6"/>
<path d="M1249.5,558.2 L1249.7,555.7 L1250.4,553.0 L1251.4,550.4 L1252.8,547.8 L1254.5,545.4 L1256.4,543.3 L1258.4,541.6 L1260.6,540.3 L1351.0,495.1 L1353.2,494.2 L1355.2,493.9 L1357.2,494.1 L1358.8,494.8 L1370.1,500.4 L1371.5,501.6 L1372.5,503.2 L1373.2,505.2 L1373.4,507.6 L1373.2,510.1 L1372.5,512.7 L1371.5,515.4 L1370.1,517.9 L1368.5,520.3 L1366.5,522.4 L1364.5,524.2 L1362.3,525.5 L1271.9,570.7 L1269.7,571.5 L1267.7,571.9 L1265.8,571.7 L1264.1,571.0 L1252.8,565.3 L1251.4,564.1 L1250.4,562.5 L1249.7,560.5Z" fill="#0b1016" stroke="#0b1016" stroke-width="1.2"/>
<path d="M1271.9,547.2 L1270.0,548.4 L1268.1,549.9 L1266.4,551.8 L1264.9,554.0 L1263.6,556.3 L1262.7,558.6 L1262.1,561.0 L1262.0,563.3 L1262.1,565.3 L1262.7,567.1 L1263.6,568.6 L1264.9,569.7 L1266.4,570.3 L1268.1,570.5 L1270.0,570.2 L1271.9,569.4 L1362.3,524.2 L1364.2,523.0 L1366.1,521.5 L1367.8,519.6 L1369.3,517.4 L1370.6,515.1 L1371.5,512.8 L1372.1,510.4 L1372.2,508.1 L1372.1,506.1 L1371.5,504.3 L1370.6,502.8 L1369.3,501.7 L1367.8,501.1 L1366.1,500.9 L1364.2,501.2 L1362.3,502.0Z" fill="none" stroke="#ececec" stroke-width="0.9"/>
<path d="M1269.6,551.8 L1274.2,549.6 L1274.2,554.6 L1278.7,552.4 L1278.7,557.4 L1274.2,559.7 L1274.2,564.8 L1269.6,567.0 L1269.6,562.0 L1265.1,564.2 L1265.1,559.2 L1269.6,556.9Z" fill="#0b1016" stroke="#ececec" stroke-width="0.9"/>
<path d="M1303.8,542.4 L1303.5,540.0 L1302.7,538.1 L1301.4,536.7 L1299.8,535.8 L1297.8,535.7 L1295.6,536.2 L1293.4,537.3 L1291.2,539.0 L1289.2,541.1 L1287.6,543.6 L1286.3,546.3 L1285.5,549.0 L1285.2,551.6 L1285.5,554.0 L1286.3,555.9 L1287.6,557.3 L1289.2,558.2 L1291.2,558.3 L1293.4,557.8 L1295.6,556.7 L1297.8,555.0 L1299.8,552.9 L1301.4,550.4 L1302.7,547.7 L1303.5,545.0 L1303.8,542.4Z" fill="none" stroke="#ececec" stroke-width="0.9"/>
<path d="M1302.6,542.9 L1302.4,540.9 L1301.7,539.2 L1300.6,537.9 L1299.1,537.2 L1297.4,537.1 L1295.5,537.5 L1293.5,538.5 L1291.6,539.9 L1289.9,541.8 L1288.4,544.0 L1287.3,546.4 L1286.6,548.8 L1286.4,551.1 L1286.6,553.1 L1287.3,554.8 L1288.4,556.1 L1289.9,556.8 L1291.6,556.9 L1293.5,556.5 L1295.5,555.5 L1297.4,554.1 L1299.1,552.2 L1300.6,550.0 L1301.7,547.6 L1302.4,545.2 L1302.6,542.9Z" fill="none" stroke="#ececec" stroke-width="0.54"/>
<path d="M1300.2,543.0 L1300.0,541.3 L1299.4,539.9 L1298.4,538.9 L1297.2,538.3 L1295.8,538.1 L1294.2,538.5 L1292.6,539.3 L1291.0,540.5 L1289.5,542.1 L1288.3,543.9 L1287.4,545.9 L1286.8,547.9 L1286.6,549.8 L1286.8,551.5 L1287.4,553.0 L1288.3,554.0 L1289.5,554.6 L1291.0,554.7 L1292.6,554.4 L1294.2,553.6 L1295.8,552.3 L1297.2,550.7 L1298.4,548.9 L1299.4,547.0 L1300.0,545.0 L1300.2,543.0Z" fill="#0b1016" stroke="#ececec" stroke-width="0.9"/>
<path d="M1292.5,551.8 L1297.2,543.1" fill="none" stroke="#8d9093" stroke-width="2.16"/>
<path d="M1326.4,531.1 L1326.1,528.7 L1325.3,526.8 L1324.0,525.4 L1322.4,524.5 L1320.4,524.4 L1318.2,524.9 L1316.0,526.0 L1313.8,527.7 L1311.8,529.8 L1310.2,532.3 L1308.9,535.0 L1308.1,537.7 L1307.8,540.3 L1308.1,542.7 L1308.9,544.6 L1310.2,546.0 L1311.8,546.9 L1313.8,547.0 L1316.0,546.5 L1318.2,545.4 L1320.4,543.7 L1322.4,541.6 L1324.0,539.1 L1325.3,536.4 L1326.1,533.7 L1326.4,531.1Z" fill="none" stroke="#ececec" stroke-width="0.9"/>
<path d="M1325.2,531.6 L1325.0,529.6 L1324.3,527.9 L1323.2,526.6 L1321.7,525.9 L1320.0,525.8 L1318.1,526.2 L1316.1,527.2 L1314.2,528.6 L1312.5,530.5 L1311.0,532.7 L1309.9,535.1 L1309.2,537.5 L1309.0,539.8 L1309.2,541.8 L1309.9,543.5 L1311.0,544.8 L1312.5,545.5 L1314.2,545.6 L1316.1,545.2 L1318.1,544.2 L1320.0,542.8 L1321.7,540.9 L1323.2,538.7 L1324.3,536.3 L1325.0,533.9 L1325.2,531.6Z" fill="none" stroke="#ececec" stroke-width="0.54"/>
<path d="M1322.8,531.7 L1322.6,530.0 L1322.0,528.6 L1321.0,527.6 L1319.8,527.0 L1318.4,526.8 L1316.8,527.2 L1315.2,528.0 L1313.6,529.2 L1312.1,530.8 L1310.9,532.6 L1310.0,534.6 L1309.4,536.6 L1309.2,538.5 L1309.4,540.2 L1310.0,541.7 L1310.9,542.7 L1312.1,543.3 L1313.6,543.4 L1315.2,543.1 L1316.8,542.3 L1318.4,541.0 L1319.8,539.4 L1321.0,537.6 L1322.0,535.7 L1322.6,533.7 L1322.8,531.7Z" fill="#0b1016" stroke="#ececec" stroke-width="0.9"/>
<path d="M1315.1,540.5 L1319.8,531.8" fill="none" stroke="#8d9093" stroke-width="2.16"/>
<path d="M1349.0,519.8 L1348.7,517.4 L1347.9,515.5 L1346.6,514.1 L1345.0,513.2 L1343.0,513.1 L1340.8,513.6 L1338.6,514.7 L1336.4,516.4 L1334.4,518.5 L1332.8,521.0 L1331.5,523.7 L1330.7,526.4 L1330.4,529.0 L1330.7,531.4 L1331.5,533.3 L1332.8,534.7 L1334.4,535.6 L1336.4,535.7 L1338.6,535.2 L1340.8,534.1 L1343.0,532.4 L1345.0,530.3 L1346.6,527.8 L1347.9,525.1 L1348.7,522.4 L1349.0,519.8Z" fill="none" stroke="#ececec" stroke-width="0.9"/>
<path d="M1347.8,520.3 L1347.6,518.3 L1346.9,516.6 L1345.8,515.3 L1344.3,514.6 L1342.6,514.5 L1340.7,514.9 L1338.7,515.9 L1336.8,517.3 L1335.1,519.2 L1333.6,521.4 L1332.5,523.8 L1331.8,526.2 L1331.6,528.5 L1331.8,530.5 L1332.5,532.2 L1333.6,533.5 L1335.1,534.2 L1336.8,534.3 L1338.7,533.9 L1340.7,532.9 L1342.6,531.5 L1344.3,529.6 L1345.8,527.4 L1346.9,525.0 L1347.6,522.6 L1347.8,520.3Z" fill="none" stroke="#ececec" stroke-width="0.54"/>
<path d="M1345.3,520.4 L1345.2,518.7 L1344.6,517.3 L1343.6,516.3 L1342.4,515.7 L1341.0,515.5 L1339.4,515.9 L1337.8,516.7 L1336.2,517.9 L1334.7,519.5 L1333.5,521.3 L1332.6,523.3 L1332.0,525.3 L1331.8,527.2 L1332.0,528.9 L1332.6,530.4 L1333.5,531.4 L1334.7,532.0 L1336.2,532.1 L1337.8,531.8 L1339.4,531.0 L1341.0,529.7 L1342.4,528.1 L1343.6,526.3 L1344.6,524.4 L1345.2,522.4 L1345.3,520.4Z" fill="#0b1016" stroke="#ececec" stroke-width="0.9"/>
<path d="M1337.7,529.2 L1342.4,520.5" fill="none" stroke="#8d9093" stroke-width="2.16"/>
<path d="M1360.0,506.6 L1364.6,504.4 L1364.6,509.4 L1369.1,507.2 L1369.1,512.2 L1364.6,514.5 L1364.6,519.6 L1360.0,521.8 L1360.0,516.8 L1355.5,519.0 L1355.5,514.0 L1360.0,511.7Z" fill="#0b1016" stroke="#ececec" stroke-width="0.9"/>
<path d="M1279.6,544.9 L1283.2,550.1 L1286.8,541.2" fill="none" stroke="#ececec" stroke-width="0.72"/>
<path d="M1280.9,543.2 L1285.5,540.9" fill="none" stroke="#ececec" stroke-width="0.72"/>
<path d="M1279.6,564.1 L1283.2,555.2 L1286.8,560.4" fill="none" stroke="#ececec" stroke-width="0.72"/>
<path d="M1280.9,564.4 L1285.5,562.1" fill="none" stroke="#ececec" stroke-width="0.72"/>
<path d="M1302.2,533.6 L1305.8,538.8 L1309.4,529.9" fill="none" stroke="#ececec" stroke-width="0.72"/>
<path d="M1303.5,531.9 L1308.1,529.6" fill="none" stroke="#ececec" stroke-width="0.72"/>
<path d="M1302.2,552.8 L1305.8,543.9 L1309.4,549.1" fill="none" stroke="#ececec" stroke-width="0.72"/>
<path d="M1303.5,553.1 L1308.1,550.8" fill="none" stroke="#ececec" stroke-width="0.72"/>
<path d="M1324.8,522.3 L1328.4,527.5 L1332.0,518.6" fill="none" stroke="#ececec" stroke-width="0.72"/>
<path d="M1326.1,520.6 L1330.7,518.3" fill="none" stroke="#ececec" stroke-width="0.72"/>
<path d="M1324.8,541.5 L1328.4,532.6 L1332.0,537.8" fill="none" stroke="#ececec" stroke-width="0.72"/>
<path d="M1326.1,541.8 L1330.7,539.5" fill="none" stroke="#ececec" stroke-width="0.72"/>
<path d="M1347.4,511.0 L1351.0,516.2 L1354.6,507.3" fill="none" stroke="#ececec" stroke-width="0.72"/>
<path d="M1348.7,509.3 L1353.3,507.0" fill="none" stroke="#ececec" stroke-width="0.72"/>
<path d="M1347.4,530.2 L1351.0,521.3 L1354.6,526.5" fill="none" stroke="#ececec" stroke-width="0.72"/>
<path d="M1348.7,530.5 L1353.3,528.2" fill="none" stroke="#ececec" stroke-width="0.72"/>
<line x1="1271.9" y1="558.3" x2="1297.3" y2="571.2" stroke="#fff" stroke-width="4.8"/><line x1="1271.9" y1="558.3" x2="1297.3" y2="571.2" stroke="#e60012" stroke-width="2.6"/>
<line x1="1362.3" y1="513.1" x2="1388.8" y2="526.2" stroke="#fff" stroke-width="4.8"/><line x1="1362.3" y1="513.1" x2="1388.8" y2="526.2" stroke="#e60012" stroke-width="2.6"/>
<text x="383" y="218.5" font-family='"Liberation Sans", sans-serif' font-size="32" font-weight="bold" fill="#10181f" text-anchor="start" letter-spacing="0.4">2x</text>
<text x="487" y="218.5" font-family='"Liberation Sans", sans-serif' font-size="32" font-weight="bold" fill="#10181f" text-anchor="start" letter-spacing="0.4">4x</text>
<text x="844" y="290.3" font-family='"Liberation Sans", sans-serif' font-size="32" font-weight="bold" fill="#10181f" text-anchor="start" letter-spacing="0.4">4x</text>
<text x="918.5" y="290.3" font-family='"Liberation Sans", sans-serif' font-size="32" font-weight="bold" fill="#10181f" text-anchor="start" letter-spacing="0.4">4x</text>
<text x="999.5" y="290.3" font-family='"Liberation Sans", sans-serif' font-size="32" font-weight="bold" fill="#10181f" text-anchor="start" letter-spacing="0.4">4x</text>
<text x="1145.5" y="290.3" font-family='"Liberation Sans", sans-serif' font-size="32" font-weight="bold" fill="#10181f" text-anchor="start" letter-spacing="0.4">4x</text>
<rect x="951.4" y="907" width="345.6" height="41.6" fill="#a8abae" stroke="#231815" stroke-width="1"/>
<line x1="951" y1="907.6" x2="1297.4" y2="907.6" stroke="#14191d" stroke-width="2.2"/>
<line x1="951" y1="948" x2="1297.4" y2="948" stroke="#14191d" stroke-width="2.2"/>
<line x1="951.4" y1="920.8" x2="1297" y2="920.8" stroke="#14191d" stroke-width="1.1"/>
<line x1="951.4" y1="935.8" x2="1297" y2="935.8" stroke="#14191d" stroke-width="1.1"/>
<circle cx="1336.6" cy="928" r="22.8" fill="#fff" stroke="#231815" stroke-width="1.3"/>
<text x="1336.6" y="938.3" font-family='"Liberation Sans", sans-serif' font-size="30.5" font-weight="bold" fill="#231815" text-anchor="middle" >5</text>
<clipPath id="t1"><path d="M1358.00,897.80h79.21v40.86h-79.21zM1374.68,938.06H1381.36V946.30H1374.68zM1389.86,938.06h15.49v18.60h-15.49zM1416.03,938.06H1422.70V946.30H1416.03z"/></clipPath><text x="1364.00" y="944.3" clip-path="url(#t1)" font-family='"Liberation Sans", sans-serif' font-size="46.5" font-weight="bold" fill="#231815" style="font-kerning:none" >1:1</text>
<rect x="552.7" y="1012.3" width="752.3" height="63.8" rx="31.9" ry="31.9" fill="#2193d4" stroke="#0a2c49" stroke-width="1.3"/>
<path d="M605.8,1021.0 L632.3,1021.0 A31.4,31.4 0 0 0 632.4,1067.5 L605.6,1067.5 A31.4,31.4 0 0 0 605.8,1021.0Z" fill="#2193d4" stroke="#0a2c49" stroke-width="1.1"/>
<path d="M674.6,1021.0 L701.1,1021.0 A31.4,31.4 0 0 0 701.3,1067.5 L674.5,1067.5 A31.4,31.4 0 0 0 674.6,1021.0Z" fill="#2193d4" stroke="#0a2c49" stroke-width="1.1"/>
<path d="M743.5,1021.0 L770.0,1021.0 A31.4,31.4 0 0 0 770.1,1067.5 L743.3,1067.5 A31.4,31.4 0 0 0 743.5,1021.0Z" fill="#2193d4" stroke="#0a2c49" stroke-width="1.1"/>
<path d="M812.3,1021.0 L838.8,1021.0 A31.4,31.4 0 0 0 839.0,1067.5 L812.2,1067.5 A31.4,31.4 0 0 0 812.3,1021.0Z" fill="#2193d4" stroke="#0a2c49" stroke-width="1.1"/>
<path d="M881.2,1021.0 L907.7,1021.0 A31.4,31.4 0 0 0 907.8,1067.5 L881.0,1067.5 A31.4,31.4 0 0 0 881.2,1021.0Z" fill="#2193d4" stroke="#0a2c49" stroke-width="1.1"/>
<path d="M950.0,1021.0 L976.5,1021.0 A31.4,31.4 0 0 0 976.7,1067.5 L949.9,1067.5 A31.4,31.4 0 0 0 950.0,1021.0Z" fill="#2193d4" stroke="#0a2c49" stroke-width="1.1"/>
<path d="M1018.9,1021.0 L1045.4,1021.0 A31.4,31.4 0 0 0 1045.5,1067.5 L1018.7,1067.5 A31.4,31.4 0 0 0 1018.9,1021.0Z" fill="#2193d4" stroke="#0a2c49" stroke-width="1.1"/>
<path d="M1087.7,1021.0 L1114.2,1021.0 A31.4,31.4 0 0 0 1114.4,1067.5 L1087.6,1067.5 A31.4,31.4 0 0 0 1087.7,1021.0Z" fill="#2193d4" stroke="#0a2c49" stroke-width="1.1"/>
<path d="M1156.6,1021.0 L1183.1,1021.0 A31.4,31.4 0 0 0 1183.2,1067.5 L1156.4,1067.5 A31.4,31.4 0 0 0 1156.6,1021.0Z" fill="#2193d4" stroke="#0a2c49" stroke-width="1.1"/>
<path d="M1225.4,1021.0 L1251.9,1021.0 A31.4,31.4 0 0 0 1252.1,1067.5 L1225.3,1067.5 A31.4,31.4 0 0 0 1225.4,1021.0Z" fill="#2193d4" stroke="#0a2c49" stroke-width="1.1"/>
<circle cx="584.6" cy="1044.2" r="27.6" fill="#2193d4" stroke="#0a2c49" stroke-width="1.1"/>
<circle cx="584.6" cy="1044.2" r="24.2" fill="none" stroke="#0a2c49" stroke-width="1.1"/>
<circle cx="584.6" cy="1044.2" r="20.5" fill="#fff" stroke="#0a2c49" stroke-width="1.2"/>
<circle cx="653.5" cy="1044.2" r="27.6" fill="#2193d4" stroke="#0a2c49" stroke-width="1.1"/>
<circle cx="653.5" cy="1044.2" r="24.2" fill="none" stroke="#0a2c49" stroke-width="1.1"/>
<circle cx="653.5" cy="1044.2" r="20.5" fill="#fff" stroke="#0a2c49" stroke-width="1.2"/>
<circle cx="722.3" cy="1044.2" r="27.6" fill="#2193d4" stroke="#0a2c49" stroke-width="1.1"/>
<circle cx="722.3" cy="1044.2" r="24.2" fill="none" stroke="#0a2c49" stroke-width="1.1"/>
<circle cx="722.3" cy="1044.2" r="20.5" fill="#fff" stroke="#0a2c49" stroke-width="1.2"/>
<circle cx="791.1" cy="1044.2" r="27.6" fill="#2193d4" stroke="#0a2c49" stroke-width="1.1"/>
<circle cx="791.1" cy="1044.2" r="24.2" fill="none" stroke="#0a2c49" stroke-width="1.1"/>
<circle cx="791.1" cy="1044.2" r="20.5" fill="#fff" stroke="#0a2c49" stroke-width="1.2"/>
<circle cx="860.0" cy="1044.2" r="27.6" fill="#2193d4" stroke="#0a2c49" stroke-width="1.1"/>
<circle cx="860.0" cy="1044.2" r="24.2" fill="none" stroke="#0a2c49" stroke-width="1.1"/>
<circle cx="860.0" cy="1044.2" r="20.5" fill="#fff" stroke="#0a2c49" stroke-width="1.2"/>
<circle cx="928.9" cy="1044.2" r="27.6" fill="#2193d4" stroke="#0a2c49" stroke-width="1.1"/>
<circle cx="928.9" cy="1044.2" r="24.2" fill="none" stroke="#0a2c49" stroke-width="1.1"/>
<circle cx="928.9" cy="1044.2" r="20.5" fill="#fff" stroke="#0a2c49" stroke-width="1.2"/>
<circle cx="997.7" cy="1044.2" r="27.6" fill="#2193d4" stroke="#0a2c49" stroke-width="1.1"/>
<circle cx="997.7" cy="1044.2" r="24.2" fill="none" stroke="#0a2c49" stroke-width="1.1"/>
<circle cx="997.7" cy="1044.2" r="20.5" fill="#fff" stroke="#0a2c49" stroke-width="1.2"/>
<circle cx="1066.5" cy="1044.2" r="27.6" fill="#2193d4" stroke="#0a2c49" stroke-width="1.1"/>
<circle cx="1066.5" cy="1044.2" r="24.2" fill="none" stroke="#0a2c49" stroke-width="1.1"/>
<circle cx="1066.5" cy="1044.2" r="20.5" fill="#fff" stroke="#0a2c49" stroke-width="1.2"/>
<circle cx="1135.4" cy="1044.2" r="27.6" fill="#2193d4" stroke="#0a2c49" stroke-width="1.1"/>
<circle cx="1135.4" cy="1044.2" r="24.2" fill="none" stroke="#0a2c49" stroke-width="1.1"/>
<circle cx="1135.4" cy="1044.2" r="20.5" fill="#fff" stroke="#0a2c49" stroke-width="1.2"/>
<circle cx="1204.2" cy="1044.2" r="27.6" fill="#2193d4" stroke="#0a2c49" stroke-width="1.1"/>
<circle cx="1204.2" cy="1044.2" r="24.2" fill="none" stroke="#0a2c49" stroke-width="1.1"/>
<circle cx="1204.2" cy="1044.2" r="20.5" fill="#fff" stroke="#0a2c49" stroke-width="1.2"/>
<circle cx="1273.1" cy="1044.2" r="27.6" fill="#2193d4" stroke="#0a2c49" stroke-width="1.1"/>
<circle cx="1273.1" cy="1044.2" r="24.2" fill="none" stroke="#0a2c49" stroke-width="1.1"/>
<circle cx="1273.1" cy="1044.2" r="20.5" fill="#fff" stroke="#0a2c49" stroke-width="1.2"/>
<rect x="1319.5" y="1024.8" width="39.799999999999955" height="39.5" fill="#fff" stroke="#231815" stroke-width="1.6"/>
<clipPath id="t2"><path d="M1318.08,1026.90h48.50v25.09h-48.50zM1330.68,1051.39H1334.29V1057.80H1330.68zM1348.93,1051.39H1352.54V1057.80H1348.93z"/></clipPath><text x="1324.08" y="1055.4" clip-path="url(#t2)" font-family='"Liberation Sans", sans-serif' font-size="28.5" font-weight="normal" fill="#231815" letter-spacing="2.4" style="font-kerning:none" stroke="#231815" stroke-width="0.7">11</text>
<clipPath id="t3"><path d="M1364.50,1013.80h79.21v40.86h-79.21zM1381.18,1054.06H1387.86V1062.30H1381.18zM1396.36,1054.06h15.49v18.60h-15.49zM1422.53,1054.06H1429.20V1062.30H1422.53z"/></clipPath><text x="1370.50" y="1060.3" clip-path="url(#t3)" font-family='"Liberation Sans", sans-serif' font-size="46.5" font-weight="bold" fill="#231815" style="font-kerning:none" >1:1</text>
<rect x="1153.6" y="145" width="39.600000000000136" height="39.30000000000001" fill="#fff" stroke="#231815" stroke-width="2"/>
<clipPath id="t4"><path d="M1151.79,146.20h49.06v25.14h-49.06zM1164.39,170.74H1168.67V177.20H1164.39zM1182.92,170.74H1187.20V177.20H1182.92z"/></clipPath><text x="1157.79" y="175.2" clip-path="url(#t4)" font-family='"Liberation Sans", sans-serif' font-size="29" font-weight="bold" fill="#231815" letter-spacing="2.4" style="font-kerning:none" >11</text>
<rect x="1158" y="332.2" width="40.5" height="39.10000000000002" fill="#fff" stroke="#231815" stroke-width="2"/>
<clipPath id="t5"><path d="M1156.64,333.40h49.06v25.14h-49.06zM1169.24,357.94H1173.52V364.40H1169.24zM1187.77,357.94H1192.05V364.40H1187.77z"/></clipPath><text x="1162.64" y="362.4" clip-path="url(#t5)" font-family='"Liberation Sans", sans-serif' font-size="29" font-weight="bold" fill="#231815" letter-spacing="2.4" style="font-kerning:none" >11</text>
<rect x="973.5" y="421" width="39.5" height="39" fill="#fff" stroke="#231815" stroke-width="2"/>
<clipPath id="t6"><path d="M971.64,422.00h49.06v25.14h-49.06zM984.24,446.54H988.52V453.00H984.24zM1002.77,446.54H1007.05V453.00H1002.77z"/></clipPath><text x="977.64" y="451" clip-path="url(#t6)" font-family='"Liberation Sans", sans-serif' font-size="29" font-weight="bold" fill="#231815" letter-spacing="2.4" style="font-kerning:none" >11</text>
<text x="1299" y="432.4" font-family='"Liberation Sans", sans-serif' font-size="51" font-weight="normal" fill="#231815" text-anchor="start" >2x</text>
<text x="406.5" y="1089" font-family='"Liberation Sans", sans-serif' font-size="51" font-weight="normal" fill="#231815" text-anchor="start" >2x</text>
<text transform="translate(822,397.2) scale(1.22,1)" font-family='"Liberation Sans", sans-serif' font-size="66" font-weight="bold" fill="#231815" stroke="#231815" stroke-width="2.2" stroke-linejoin="round">2</text>
<text transform="translate(197,856.8) scale(1.22,1)" font-family='"Liberation Sans", sans-serif' font-size="66" font-weight="bold" fill="#231815" stroke="#231815" stroke-width="2.2" stroke-linejoin="round">3</text>
<text x="218" y="750" font-family='"Liberation Sans", sans-serif' font-size="31" font-weight="bold" fill="#10181f" text-anchor="start" letter-spacing="0.4">8x</text>
<text x="295" y="750" font-family='"Liberation Sans", sans-serif' font-size="31" font-weight="bold" fill="#10181f" text-anchor="start" letter-spacing="0.4">2x</text>
<text x="391.5" y="750" font-family='"Liberation Sans", sans-serif' font-size="31" font-weight="bold" fill="#10181f" text-anchor="start" letter-spacing="0.4">2x</text>
<text x="449.5" y="750" font-family='"Liberation Sans", sans-serif' font-size="31" font-weight="bold" fill="#10181f" text-anchor="start" letter-spacing="0.4">4x</text>
<text x="530" y="750" font-family='"Liberation Sans", sans-serif' font-size="31" font-weight="bold" fill="#10181f" text-anchor="start" letter-spacing="0.4">2x</text>
<text x="603" y="750" font-family='"Liberation Sans", sans-serif' font-size="31" font-weight="bold" fill="#10181f" text-anchor="start" letter-spacing="0.4">2x</text>
<path d="M430.1,149.7 L433.0,147.3 L458.6,135.6 L462.1,138.3 L465.0,145.1 L465.0,150.8 L462.1,153.1 L436.5,164.9 L433.0,162.1 L430.1,155.3Z" fill="#fff" stroke="#111" stroke-width="1"/><path d="M433.0,147.3 L458.6,135.6" fill="none" stroke="#111" stroke-width="0.9"/><path d="M436.5,150.1 L462.1,138.3" fill="none" stroke="#111" stroke-width="0.9"/><path d="M436.5,154.7 L462.1,142.9" fill="none" stroke="#111" stroke-width="0.9"/><path d="M439.4,156.9 L465.0,145.1" fill="none" stroke="#111" stroke-width="0.9"/><path d="M439.4,162.5 L465.0,150.8" fill="none" stroke="#111" stroke-width="0.9"/><path d="M433.0,147.3 L436.5,150.1 L436.5,154.7 L439.4,156.9 L439.4,162.5 L436.5,160.3 L436.5,164.9 L433.0,162.1 L433.0,157.5 L430.1,155.3 L430.1,149.7 L433.0,151.9Z" fill="#fff" stroke="#111" stroke-width="0.9"/><path d="M404.7,160.6 L404.9,157.9 L405.6,155.7 L406.6,154.1 L408.0,153.2 L431.7,142.3 L433.3,142.3 L435.0,142.9 L436.9,144.4 L438.6,146.4 L440.2,149.0 L441.6,152.0 L442.6,155.2 L443.2,158.4 L443.5,161.4 L443.2,164.1 L442.6,166.3 L441.6,167.9 L440.2,168.8 L416.5,179.7 L414.9,179.7 L413.2,179.1 L411.3,177.6 L409.6,175.6 L408.0,173.0 L406.6,170.0 L405.6,166.8 L404.9,163.6Z" fill="#fff" stroke="#111" stroke-width="1"/><path d="M419.8,172.3 L419.6,169.3 L418.9,166.1 L417.9,162.9 L416.5,159.9 L414.9,157.3 L413.2,155.3 L411.3,153.8 L409.6,153.2 L408.0,153.2 L406.6,154.1 L405.6,155.7 L404.9,157.9 L404.7,160.6 L404.9,163.6 L405.6,166.8 L406.6,170.0 L408.0,173.0 L409.6,175.6 L411.3,177.6 L413.2,179.1 L414.9,179.7 L416.5,179.7 L417.9,178.8 L418.9,177.2 L419.6,175.0 L419.8,172.3Z" fill="#fff" stroke="#111" stroke-width="1"/><path d="M411.9,149.9 L411.9,148.2 L412.6,146.5 L414.1,144.9 L416.0,143.5 L418.5,142.3 L421.3,141.6 L424.2,141.2 L427.2,141.2 L429.9,141.6 L432.4,142.4 L434.3,143.6 L435.6,145.0 L436.3,146.6 L436.3,172.1 L436.3,173.8 L435.6,175.5 L434.1,177.1 L432.2,178.5 L429.7,179.7 L426.9,180.4 L424.0,180.8 L421.0,180.8 L418.3,180.4 L415.9,179.6 L413.9,178.4 L412.6,177.0 L411.9,175.4Z" fill="#fff" stroke="#111" stroke-width="1"/><path d="M434.3,143.6 L435.6,145.0 L436.3,146.6 L436.3,148.3 L435.6,150.0 L434.1,151.6 L432.2,153.0 L429.7,154.2 L426.9,154.9 L424.0,155.3 L421.0,155.3 L418.3,154.9 L415.9,154.1 L413.9,152.9 L412.6,151.5 L411.9,149.9 L411.9,148.2 L412.6,146.5 L414.1,144.9 L416.0,143.5 L418.5,142.3 L421.3,141.6 L424.2,141.2 L427.2,141.2 L429.9,141.6 L432.3,142.4 L434.3,143.6Z" fill="#fff" stroke="#111" stroke-width="1"/><path d="M431.9,144.7 L433.0,145.7 L433.5,147.0 L433.5,148.3 L432.9,149.6 L431.8,150.8 L430.3,151.9 L428.4,152.8 L426.3,153.4 L424.0,153.7 L421.7,153.7 L419.6,153.4 L417.8,152.7 L416.3,151.8 L415.2,150.8 L414.7,149.5 L414.7,148.2 L415.3,146.9 L416.4,145.7 L417.9,144.6 L419.8,143.7 L421.9,143.1 L424.2,142.8 L426.5,142.8 L428.6,143.1 L430.4,143.8 L431.9,144.7Z" fill="#fff" stroke="#111" stroke-width="1"/><path d="M431.2,147.0 L432.2,148.0 L432.6,149.1 L432.6,150.3 L432.1,151.5 L431.1,152.6 L429.7,153.6 L428.0,154.4 L426.1,155.0 L424.0,155.2 L422.0,155.2 L420.0,154.9 L418.3,154.4 L417.0,153.6 L416.0,152.6 L415.6,151.4 L415.6,150.3 L416.1,149.1 L417.1,147.9 L418.5,147.0 L420.2,146.2 L422.1,145.6 L424.2,145.3 L426.2,145.4 L428.2,145.7 L429.9,146.2 L431.2,147.0Z" fill="#fff" stroke="#111" stroke-width="0.7"/><path d="M404.7,160.6 L404.9,157.9 L405.6,155.7 L406.6,154.1 L408.0,153.2 L413.9,150.5 L415.5,150.4 L417.3,151.1 L419.1,152.5 L420.8,154.6 L422.4,157.2 L423.8,160.2 L424.8,163.4 L425.5,166.6 L425.7,169.6 L425.5,172.3 L424.8,174.5 L423.8,176.1 L422.4,176.9 L416.5,179.7 L414.9,179.7 L413.2,179.1 L411.3,177.6 L409.6,175.6 L408.0,173.0 L406.6,170.0 L405.6,166.8 L404.9,163.6Z" fill="#fff" stroke="none" stroke-width="0"/><path d="M419.8,172.3 L419.6,169.3 L418.9,166.1 L417.9,162.9 L416.5,159.9 L414.9,157.3 L413.2,155.3 L411.3,153.8 L409.6,153.2 L408.0,153.2 L406.6,154.1 L405.6,155.7 L404.9,157.9 L404.7,160.6 L404.9,163.6 L405.6,166.8 L406.6,170.0 L408.0,173.0 L409.6,175.6 L411.3,177.6 L413.2,179.1 L414.9,179.7 L416.5,179.7 L417.9,178.8 L418.9,177.2 L419.6,175.0 L419.8,172.3Z" fill="#fff" stroke="#111" stroke-width="1"/><path d="M412.6,157.5 L412.6,155.8 L413.4,153.6 L414.4,152.2 L415.6,151.4 L425.0,147.1 L426.5,147.0 L428.0,147.6 L433.7,151.5 L435.0,152.8 L435.6,154.3 L435.6,164.5 L435.6,166.2 L434.8,168.4 L433.9,169.8 L432.6,170.6 L423.2,174.9 L421.7,175.0 L420.2,174.4 L414.5,170.5 L413.2,169.2 L412.6,167.7Z" fill="#fff" stroke="none" stroke-width="0"/><path d="M434.3,143.6 L435.6,145.0 L436.3,146.6 L436.3,148.3 L435.6,150.0 L434.1,151.6 L432.2,153.0 L429.7,154.2 L426.9,154.9 L424.0,155.3 L421.0,155.3 L418.3,154.9 L415.9,154.1 L413.9,152.9 L412.6,151.5 L411.9,149.9 L411.9,148.2 L412.6,146.5 L414.1,144.9 L416.0,143.5 L418.5,142.3 L421.3,141.6 L424.2,141.2 L427.2,141.2 L429.9,141.6 L432.3,142.4 L434.3,143.6Z" fill="#fff" stroke="#111" stroke-width="1"/><path d="M431.9,144.7 L433.0,145.7 L433.5,147.0 L433.5,148.3 L432.9,149.6 L431.8,150.8 L430.3,151.9 L428.4,152.8 L426.3,153.4 L424.0,153.7 L421.7,153.7 L419.6,153.4 L417.8,152.7 L416.3,151.8 L415.2,150.8 L414.7,149.5 L414.7,148.2 L415.3,146.9 L416.4,145.7 L417.9,144.6 L419.8,143.7 L421.9,143.1 L424.2,142.8 L426.5,142.8 L428.6,143.1 L430.4,143.8 L431.9,144.7Z" fill="#fff" stroke="#111" stroke-width="1"/><path d="M431.2,147.0 L432.2,148.0 L432.6,149.1 L432.6,150.3 L432.1,151.5 L431.1,152.6 L429.7,153.6 L428.0,154.4 L426.1,155.0 L424.0,155.2 L422.0,155.2 L420.0,154.9 L418.3,154.4 L417.0,153.6 L416.0,152.6 L415.6,151.4 L415.6,150.3 L416.1,149.1 L417.1,147.9 L418.5,147.0 L420.2,146.2 L422.1,145.6 L424.2,145.3 L426.2,145.4 L428.2,145.7 L429.9,146.2 L431.2,147.0Z" fill="#fff" stroke="#111" stroke-width="0.7"/><path d="M431.3,166.6 L432.4,164.9 L433.4,163.1 L434.2,161.3 L435.0,159.5 L435.7,157.7 L436.2,155.9 L436.6,154.2 L436.8,152.6 L437.0,151.1" fill="none" stroke="#111" stroke-width="0.8"/><path d="M421.0,176.9 L422.3,176.1 L423.7,175.2 L425.0,174.1 L426.3,172.8 L427.7,171.4 L428.9,169.9 L430.1,168.3 L431.3,166.6" fill="none" stroke="#111" stroke-width="0.8"/><path d="M431.3,166.6 L430.1,165.9 L428.9,165.1 L427.7,164.3 L426.3,163.5 L425.0,162.6 L423.7,161.7 L422.3,160.8 L421.0,159.9 L419.7,159.0 L418.5,158.1 L417.3,157.3 L416.2,156.5 L415.2,155.7 L414.2,155.1 L413.4,154.4 L412.7,153.9 L412.2,153.4 L411.7,153.0 L411.4,152.7 L411.3,152.5" fill="none" stroke="#111" stroke-width="0.8"/><path d="M436.8,169.6 L436.6,169.6 L436.2,169.4 L435.7,169.2 L435.0,168.8 L434.2,168.4 L433.4,167.9 L432.4,167.3 L431.3,166.6" fill="none" stroke="#111" stroke-width="0.8"/><path d="M383.2,171.2 L386.1,168.9 L411.7,157.1 L415.2,159.9 L418.1,166.7 L418.1,172.3 L415.2,174.7 L389.6,186.4 L386.1,183.7 L383.2,176.9Z" fill="#fff" stroke="#111" stroke-width="1"/><path d="M386.1,168.9 L411.7,157.1" fill="none" stroke="#111" stroke-width="0.9"/><path d="M389.6,171.7 L415.2,159.9" fill="none" stroke="#111" stroke-width="0.9"/><path d="M389.6,176.2 L415.2,164.5" fill="none" stroke="#111" stroke-width="0.9"/><path d="M392.5,178.5 L418.1,166.7" fill="none" stroke="#111" stroke-width="0.9"/><path d="M392.5,184.1 L418.1,172.3" fill="none" stroke="#111" stroke-width="0.9"/><path d="M386.1,168.9 L389.6,171.7 L389.6,176.2 L392.5,178.5 L392.5,184.1 L389.6,181.9 L389.6,186.4 L386.1,183.7 L386.1,179.1 L383.2,176.9 L383.2,171.2 L386.1,173.5Z" fill="#fff" stroke="#111" stroke-width="0.9"/>
<path d="M486.9,166.3 L487.1,164.7 L487.9,163.1 L489.2,161.6 L490.9,160.2 L493.1,159.1 L587.9,115.5 L590.3,114.6 L592.9,113.9 L595.6,113.6 L598.4,113.5 L601.0,113.8 L603.4,114.3 L605.6,115.2 L607.3,116.3 L608.6,117.6 L609.4,119.0 L609.7,120.6 L609.7,131.5 L609.5,133.1 L608.7,134.7 L607.4,136.2 L605.6,137.6 L603.5,138.7 L508.7,182.3 L506.3,183.2 L503.7,183.9 L501.0,184.2 L498.2,184.3 L495.6,184.0 L493.2,183.5 L491.0,182.6 L489.3,181.5 L488.0,180.2 L487.2,178.8 L486.9,177.2Z" fill="#0b1016" stroke="#0b1016" stroke-width="1.2"/>
<path d="M493.9,159.7 L492.0,160.8 L490.4,162.0 L489.3,163.3 L488.5,164.7 L488.3,166.1 L488.6,167.5 L489.3,168.8 L490.5,170.0 L492.0,171.0 L494.0,171.8 L496.1,172.3 L498.5,172.5 L501.0,172.5 L503.4,172.1 L505.8,171.5 L507.9,170.7 L602.7,127.1 L604.6,126.1 L606.2,124.9 L607.3,123.5 L608.1,122.1 L608.3,120.7 L608.0,119.3 L607.3,118.0 L606.1,116.8 L604.6,115.8 L602.6,115.1 L600.5,114.6 L598.1,114.3 L595.6,114.4 L593.2,114.7 L590.8,115.3 L588.7,116.1Z" fill="none" stroke="#ececec" stroke-width="0.9"/>
<path d="M493.7,162.6 L498.5,160.4 L501.7,162.9 L506.4,160.7 L509.6,163.2 L504.9,165.4 L508.1,167.9 L503.3,170.1 L500.1,167.6 L495.4,169.7 L492.2,167.2 L496.9,165.1Z" fill="#0b1016" stroke="#ececec" stroke-width="0.9"/>
<path d="M534.3,149.8 L532.5,148.8 L530.2,148.0 L527.5,147.6 L524.7,147.6 L521.9,147.9 L519.3,148.7 L516.9,149.8 L515.0,151.1 L513.7,152.6 L513.0,154.3 L512.9,155.9 L513.6,157.4 L514.9,158.8 L516.7,159.9 L519.0,160.7 L521.7,161.1 L524.5,161.1 L527.3,160.7 L529.9,159.9 L532.3,158.9 L534.2,157.5 L535.5,156.0 L536.2,154.4 L536.3,152.7 L535.6,151.2 L534.3,149.8Z" fill="none" stroke="#ececec" stroke-width="0.9"/>
<path d="M533.1,150.4 L531.5,149.4 L529.5,148.8 L527.2,148.4 L524.7,148.4 L522.2,148.7 L519.9,149.4 L517.9,150.3 L516.2,151.5 L515.0,152.8 L514.4,154.3 L514.4,155.7 L514.9,157.1 L516.1,158.2 L517.7,159.2 L519.7,159.9 L522.0,160.2 L524.5,160.3 L527.0,159.9 L529.3,159.3 L531.3,158.3 L533.0,157.1 L534.2,155.8 L534.8,154.4 L534.8,152.9 L534.3,151.6 L533.1,150.4Z" fill="none" stroke="#ececec" stroke-width="0.54"/>
<path d="M531.7,152.3 L530.4,151.5 L528.7,151.0 L526.7,150.7 L524.7,150.6 L522.6,150.9 L520.7,151.5 L519.0,152.3 L517.6,153.2 L516.6,154.4 L516.1,155.6 L516.1,156.7 L516.5,157.9 L517.5,158.9 L518.8,159.7 L520.5,160.2 L522.5,160.5 L524.5,160.5 L526.6,160.3 L528.5,159.7 L530.2,158.9 L531.6,157.9 L532.6,156.8 L533.1,155.6 L533.1,154.4 L532.7,153.3 L531.7,152.3Z" fill="#0b1016" stroke="#ececec" stroke-width="0.9"/>
<clipPath id="c1"><path d="M531.7,152.3 L530.4,151.5 L528.7,151.0 L526.7,150.7 L524.7,150.6 L522.6,150.9 L520.7,151.5 L519.0,152.3 L517.6,153.2 L516.6,154.4 L516.1,155.6 L516.1,156.7 L516.5,157.9 L517.5,158.9 L518.8,159.7 L520.5,160.2 L522.5,160.5 L524.5,160.5 L526.6,160.3 L528.5,159.7 L530.2,158.9 L531.6,157.9 L532.6,156.8 L533.1,155.6 L533.1,154.4 L532.7,153.3 L531.7,152.3Z"/></clipPath><g clip-path="url(#c1)"><path d="M531.7,159.0 L530.4,158.2 L528.7,157.6 L526.7,157.3 L524.7,157.3 L522.6,157.6 L520.7,158.1 L519.0,158.9 L517.6,159.9 L516.6,161.0 L516.1,162.2 L516.1,163.4 L516.5,164.5 L517.5,165.5 L518.8,166.3 L520.5,166.9 L522.5,167.2 L524.5,167.2 L526.6,166.9 L528.5,166.3 L530.2,165.6 L531.6,164.6 L532.6,163.5 L533.1,162.3 L533.1,161.1 L532.7,159.9 L531.7,159.0Z" fill="#bde3f8" stroke="#ececec" stroke-width="0.54"/></g>
<path d="M558.0,138.9 L556.2,137.9 L553.9,137.1 L551.2,136.7 L548.4,136.7 L545.6,137.0 L543.0,137.8 L540.6,138.9 L538.7,140.2 L537.4,141.7 L536.7,143.4 L536.6,145.0 L537.3,146.5 L538.6,147.9 L540.4,149.0 L542.7,149.8 L545.4,150.2 L548.2,150.2 L551.0,149.8 L553.6,149.0 L556.0,148.0 L557.9,146.6 L559.2,145.1 L559.9,143.5 L560.0,141.8 L559.3,140.3 L558.0,138.9Z" fill="none" stroke="#ececec" stroke-width="0.9"/>
<path d="M556.8,139.5 L555.2,138.5 L553.2,137.9 L550.9,137.5 L548.4,137.5 L545.9,137.8 L543.6,138.5 L541.6,139.4 L539.9,140.6 L538.7,141.9 L538.1,143.4 L538.1,144.8 L538.6,146.2 L539.8,147.3 L541.4,148.3 L543.4,149.0 L545.7,149.3 L548.2,149.4 L550.7,149.0 L553.0,148.4 L555.0,147.4 L556.7,146.2 L557.9,144.9 L558.5,143.5 L558.5,142.0 L558.0,140.7 L556.8,139.5Z" fill="none" stroke="#ececec" stroke-width="0.54"/>
<path d="M555.4,141.4 L554.1,140.6 L552.4,140.1 L550.4,139.8 L548.4,139.7 L546.3,140.0 L544.4,140.6 L542.7,141.4 L541.3,142.3 L540.3,143.5 L539.8,144.7 L539.8,145.8 L540.2,147.0 L541.2,148.0 L542.5,148.8 L544.2,149.3 L546.2,149.6 L548.2,149.6 L550.3,149.4 L552.2,148.8 L553.9,148.0 L555.3,147.0 L556.3,145.9 L556.8,144.7 L556.8,143.5 L556.4,142.4 L555.4,141.4Z" fill="#0b1016" stroke="#ececec" stroke-width="0.9"/>
<clipPath id="c2"><path d="M555.4,141.4 L554.1,140.6 L552.4,140.1 L550.4,139.8 L548.4,139.7 L546.3,140.0 L544.4,140.6 L542.7,141.4 L541.3,142.3 L540.3,143.5 L539.8,144.7 L539.8,145.8 L540.2,147.0 L541.2,148.0 L542.5,148.8 L544.2,149.3 L546.2,149.6 L548.2,149.6 L550.3,149.4 L552.2,148.8 L553.9,148.0 L555.3,147.0 L556.3,145.9 L556.8,144.7 L556.8,143.5 L556.4,142.4 L555.4,141.4Z"/></clipPath><g clip-path="url(#c2)"><path d="M555.4,148.1 L554.1,147.3 L552.4,146.7 L550.4,146.4 L548.4,146.4 L546.3,146.7 L544.4,147.2 L542.7,148.0 L541.3,149.0 L540.3,150.1 L539.8,151.3 L539.8,152.5 L540.2,153.6 L541.2,154.6 L542.5,155.4 L544.2,156.0 L546.2,156.3 L548.2,156.3 L550.3,156.0 L552.2,155.4 L553.9,154.7 L555.3,153.7 L556.3,152.6 L556.8,151.4 L556.8,150.2 L556.4,149.0 L555.4,148.1Z" fill="#bde3f8" stroke="#ececec" stroke-width="0.54"/></g>
<path d="M581.7,128.0 L579.9,127.0 L577.6,126.2 L574.9,125.8 L572.1,125.8 L569.3,126.1 L566.7,126.9 L564.3,128.0 L562.4,129.3 L561.1,130.8 L560.4,132.5 L560.3,134.1 L561.0,135.6 L562.3,137.0 L564.1,138.1 L566.4,138.9 L569.1,139.3 L571.9,139.3 L574.7,138.9 L577.3,138.1 L579.7,137.1 L581.6,135.7 L582.9,134.2 L583.6,132.6 L583.7,130.9 L583.0,129.4 L581.7,128.0Z" fill="none" stroke="#ececec" stroke-width="0.9"/>
<path d="M580.5,128.6 L578.9,127.6 L576.9,127.0 L574.6,126.6 L572.1,126.6 L569.6,126.9 L567.3,127.6 L565.3,128.5 L563.6,129.7 L562.4,131.0 L561.8,132.5 L561.8,133.9 L562.3,135.3 L563.5,136.4 L565.1,137.4 L567.1,138.1 L569.4,138.4 L571.9,138.5 L574.4,138.1 L576.7,137.5 L578.7,136.5 L580.4,135.3 L581.6,134.0 L582.2,132.6 L582.2,131.1 L581.7,129.8 L580.5,128.6Z" fill="none" stroke="#ececec" stroke-width="0.54"/>
<path d="M579.1,130.5 L577.8,129.7 L576.1,129.2 L574.1,128.9 L572.1,128.8 L570.0,129.1 L568.1,129.7 L566.4,130.5 L565.0,131.4 L564.0,132.6 L563.5,133.8 L563.5,134.9 L563.9,136.1 L564.9,137.1 L566.2,137.9 L567.9,138.4 L569.9,138.7 L571.9,138.7 L574.0,138.5 L575.9,137.9 L577.6,137.1 L579.0,136.1 L580.0,135.0 L580.5,133.8 L580.5,132.6 L580.1,131.5 L579.1,130.5Z" fill="#0b1016" stroke="#ececec" stroke-width="0.9"/>
<clipPath id="c3"><path d="M579.1,130.5 L577.8,129.7 L576.1,129.2 L574.1,128.9 L572.1,128.8 L570.0,129.1 L568.1,129.7 L566.4,130.5 L565.0,131.4 L564.0,132.6 L563.5,133.8 L563.5,134.9 L563.9,136.1 L564.9,137.1 L566.2,137.9 L567.9,138.4 L569.9,138.7 L571.9,138.7 L574.0,138.5 L575.9,137.9 L577.6,137.1 L579.0,136.1 L580.0,135.0 L580.5,133.8 L580.5,132.6 L580.1,131.5 L579.1,130.5Z"/></clipPath><g clip-path="url(#c3)"><path d="M579.1,137.2 L577.8,136.4 L576.1,135.8 L574.1,135.5 L572.1,135.5 L570.0,135.8 L568.1,136.3 L566.4,137.1 L565.0,138.1 L564.0,139.2 L563.5,140.4 L563.5,141.6 L563.9,142.7 L564.9,143.7 L566.2,144.5 L567.9,145.1 L569.9,145.4 L571.9,145.4 L574.0,145.1 L575.9,144.5 L577.6,143.8 L579.0,142.8 L580.0,141.7 L580.5,140.5 L580.5,139.3 L580.1,138.1 L579.1,137.2Z" fill="#bde3f8" stroke="#ececec" stroke-width="0.54"/></g>
<path d="M588.5,119.0 L593.3,116.8 L596.5,119.3 L601.2,117.1 L604.4,119.6 L599.7,121.8 L602.9,124.3 L598.1,126.5 L594.9,124.0 L590.2,126.1 L587.0,123.6 L591.7,121.5Z" fill="#0b1016" stroke="#ececec" stroke-width="0.9"/>
<path d="M502.9,156.8 L511.1,158.5 L510.5,153.3" fill="none" stroke="#ececec" stroke-width="0.72"/>
<path d="M503.7,155.6 L508.4,153.4" fill="none" stroke="#ececec" stroke-width="0.72"/>
<path d="M515.0,166.3 L514.4,161.0 L522.6,162.8" fill="none" stroke="#ececec" stroke-width="0.72"/>
<path d="M517.1,166.1 L521.8,163.9" fill="none" stroke="#ececec" stroke-width="0.72"/>
<path d="M526.6,145.9 L534.8,147.6 L534.2,142.4" fill="none" stroke="#ececec" stroke-width="0.72"/>
<path d="M527.4,144.7 L532.1,142.5" fill="none" stroke="#ececec" stroke-width="0.72"/>
<path d="M538.7,155.4 L538.0,150.1 L546.3,151.9" fill="none" stroke="#ececec" stroke-width="0.72"/>
<path d="M540.8,155.2 L545.5,153.0" fill="none" stroke="#ececec" stroke-width="0.72"/>
<path d="M550.3,135.0 L558.5,136.7 L557.9,131.5" fill="none" stroke="#ececec" stroke-width="0.72"/>
<path d="M551.1,133.8 L555.8,131.6" fill="none" stroke="#ececec" stroke-width="0.72"/>
<path d="M562.4,144.5 L561.8,139.2 L570.0,141.0" fill="none" stroke="#ececec" stroke-width="0.72"/>
<path d="M564.5,144.3 L569.2,142.1" fill="none" stroke="#ececec" stroke-width="0.72"/>
<path d="M574.0,124.1 L582.2,125.8 L581.6,120.6" fill="none" stroke="#ececec" stroke-width="0.72"/>
<path d="M574.8,122.9 L579.5,120.7" fill="none" stroke="#ececec" stroke-width="0.72"/>
<path d="M586.1,133.6 L585.5,128.3 L593.7,130.1" fill="none" stroke="#ececec" stroke-width="0.72"/>
<path d="M588.2,133.4 L592.9,131.2" fill="none" stroke="#ececec" stroke-width="0.72"/>
<path d="M889.0,223.0 L889.1,221.0 L889.6,219.4 L890.4,218.2 L891.4,217.6 L894.2,216.3 L895.4,216.2 L896.7,216.7 L898.1,217.8 L899.4,219.3 L900.6,221.2 L901.6,223.5 L902.4,225.8 L902.8,228.2 L903.0,230.5 L902.8,232.5 L902.4,234.1 L901.6,235.3 L900.6,235.9 L897.7,237.2 L896.5,237.3 L895.2,236.8 L893.9,235.7 L892.6,234.2 L891.4,232.3 L890.4,230.1 L889.6,227.7 L889.1,225.3Z" fill="#0b1016" stroke="#f2f2f2" stroke-width="0.9"/>
<path d="M900.2,231.8 L900.0,229.5 L899.5,227.1 L898.7,224.8 L897.7,222.5 L896.5,220.6 L895.2,219.1 L893.9,218.0 L892.6,217.5 L891.4,217.6 L890.4,218.2 L889.6,219.4 L889.1,221.0 L889.0,223.0 L889.1,225.3 L889.6,227.7 L890.4,230.1 L891.4,232.3 L892.6,234.2 L893.9,235.7 L895.2,236.8 L896.5,237.3 L897.7,237.2 L898.7,236.6 L899.5,235.4 L900.0,233.8 L900.2,231.8Z" fill="#0b1016" stroke="#f2f2f2" stroke-width="0.9"/>
<path d="M870.4,232.4 L870.5,230.6 L871.0,229.1 L871.6,228.1 L872.5,227.5 L891.7,218.7 L892.8,218.6 L894.0,219.1 L895.1,220.0 L896.3,221.4 L897.4,223.1 L898.3,225.1 L899.0,227.2 L899.4,229.3 L899.5,231.3 L899.4,233.1 L899.0,234.5 L898.3,235.6 L897.4,236.1 L878.2,244.9 L877.1,245.0 L876.0,244.6 L874.8,243.6 L873.6,242.2 L872.5,240.5 L871.6,238.6 L871.0,236.5 L870.5,234.4Z" fill="#0b1016" stroke="#f2f2f2" stroke-width="0.9"/>
<path d="M880.3,240.1 L880.2,238.1 L879.8,236.0 L879.1,233.9 L878.2,231.9 L877.1,230.2 L876.0,228.9 L874.8,227.9 L873.6,227.5 L872.5,227.5 L871.6,228.1 L871.0,229.1 L870.5,230.6 L870.4,232.4 L870.5,234.4 L871.0,236.5 L871.6,238.6 L872.5,240.5 L873.6,242.3 L874.8,243.6 L876.0,244.6 L877.1,245.0 L878.2,244.9 L879.1,244.4 L879.8,243.3 L880.2,241.9 L880.3,240.1Z" fill="#0b1016" stroke="#f2f2f2" stroke-width="0.9"/>
<path d="M865.8,232.9 L866.0,230.7 L866.5,228.8 L867.4,227.5 L868.5,226.8 L871.8,225.3 L873.1,225.2 L874.6,225.8 L876.1,226.9 L877.6,228.7 L878.9,230.8 L880.0,233.3 L880.9,235.9 L881.4,238.6 L881.6,241.1 L881.4,243.3 L880.9,245.2 L880.0,246.5 L878.9,247.2 L875.6,248.7 L874.2,248.8 L872.8,248.2 L871.3,247.1 L869.8,245.3 L868.5,243.2 L867.4,240.7 L866.5,238.1 L866.0,235.4Z" fill="#0b1016" stroke="#f2f2f2" stroke-width="0.9"/>
<path d="M878.3,242.6 L878.1,240.1 L877.6,237.5 L876.7,234.8 L875.6,232.3 L874.3,230.2 L872.8,228.5 L871.3,227.3 L869.8,226.7 L868.5,226.8 L867.4,227.5 L866.5,228.8 L866.0,230.6 L865.8,232.9 L866.0,235.4 L866.5,238.1 L867.4,240.7 L868.5,243.2 L869.8,245.3 L871.3,247.0 L872.8,248.2 L874.3,248.8 L875.6,248.7 L876.7,248.0 L877.6,246.7 L878.1,244.9 L878.3,242.6Z" fill="#0b1016" stroke="#f2f2f2" stroke-width="0.9"/>
<path d="M847.9,242.7 L848.0,240.9 L848.5,239.5 L849.1,238.4 L850.0,237.9 L869.2,229.1 L870.3,229.0 L871.4,229.4 L872.6,230.4 L873.8,231.8 L874.9,233.5 L875.8,235.4 L876.4,237.5 L876.9,239.6 L877.0,241.6 L876.9,243.4 L876.4,244.9 L875.8,245.9 L874.9,246.5 L855.7,255.3 L854.6,255.4 L853.4,254.9 L852.2,254.0 L851.1,252.6 L850.0,250.9 L849.1,248.9 L848.5,246.8 L848.0,244.7Z" fill="#0b1016" stroke="#f2f2f2" stroke-width="0.9"/>
<path d="M857.8,250.5 L857.7,248.5 L857.2,246.3 L856.6,244.3 L855.7,242.3 L854.6,240.6 L853.4,239.2 L852.2,238.3 L851.1,237.8 L850.0,237.9 L849.1,238.4 L848.5,239.5 L848.0,240.9 L847.9,242.7 L848.0,244.7 L848.5,246.8 L849.1,248.9 L850.0,250.9 L851.1,252.6 L852.2,254.0 L853.4,254.9 L854.6,255.4 L855.7,255.3 L856.6,254.7 L857.2,253.7 L857.7,252.2 L857.8,250.5Z" fill="#0b1016" stroke="#f2f2f2" stroke-width="0.9"/>
<path d="M844.4,243.5 L844.6,241.5 L845.0,239.9 L845.8,238.7 L846.8,238.1 L849.7,236.8 L850.9,236.7 L852.2,237.2 L853.5,238.3 L854.8,239.8 L856.0,241.7 L857.0,243.9 L857.8,246.3 L858.3,248.7 L858.4,251.0 L858.3,253.0 L857.8,254.6 L857.0,255.8 L856.0,256.4 L853.2,257.7 L852.0,257.8 L850.7,257.3 L849.3,256.2 L848.0,254.7 L846.8,252.8 L845.8,250.5 L845.0,248.2 L844.6,245.8Z" fill="#0b1016" stroke="#f2f2f2" stroke-width="0.9"/>
<path d="M855.6,252.3 L855.4,250.0 L855.0,247.6 L854.2,245.3 L853.2,243.0 L852.0,241.1 L850.7,239.6 L849.3,238.5 L848.0,238.0 L846.8,238.1 L845.8,238.7 L845.0,239.9 L844.6,241.5 L844.4,243.5 L844.6,245.8 L845.0,248.2 L845.8,250.5 L846.8,252.8 L848.0,254.7 L849.3,256.2 L850.7,257.3 L852.0,257.8 L853.2,257.7 L854.2,257.1 L855.0,255.9 L855.4,254.3 L855.6,252.3Z" fill="#0b1016" stroke="#f2f2f2" stroke-width="0.9"/>
<path d="M853.7,250.8 L853.6,249.3 L853.3,247.7 L852.8,246.2 L852.1,244.7 L851.3,243.4 L850.4,242.4 L849.6,241.7 L848.7,241.4 L847.9,241.4 L847.2,241.9 L846.7,242.6 L846.4,243.7 L846.3,245.0 L846.4,246.5 L846.7,248.1 L847.2,249.6 L847.9,251.1 L848.7,252.4 L849.6,253.4 L850.4,254.1 L851.3,254.4 L852.1,254.4 L852.8,253.9 L853.3,253.2 L853.6,252.1 L853.7,250.8Z" fill="#0b1016" stroke="#f2f2f2" stroke-width="0.9"/>
<path d="M868.0,245.8 L858.8,250.0" fill="none" stroke="#f2f2f2" stroke-width="1.17"/>
<path d="M866.9,240.1 L857.7,244.3" fill="none" stroke="#f2f2f2" stroke-width="1.17"/>
<path d="M864.2,235.2 L855.0,239.4" fill="none" stroke="#f2f2f2" stroke-width="1.17"/>
<path d="M889.3,236.0 L898.6,231.7" fill="none" stroke="#f2f2f2" stroke-width="1.17"/>
<path d="M888.3,230.3 L897.5,226.0" fill="none" stroke="#f2f2f2" stroke-width="1.17"/>
<path d="M885.6,225.4 L894.8,221.1" fill="none" stroke="#f2f2f2" stroke-width="1.17"/>
<path d="M871.5,243.0 L876.2,240.8" fill="none" stroke="#f2f2f2" stroke-width="0.9"/>
<path d="M881.0,238.6 L885.7,236.5" fill="none" stroke="#f2f2f2" stroke-width="0.9"/>
<path d="M869.2,235.6 L874.0,233.4" fill="none" stroke="#f2f2f2" stroke-width="0.9"/>
<path d="M878.7,231.3 L883.4,229.1" fill="none" stroke="#f2f2f2" stroke-width="0.9"/>
<path d="M964.4,225.4 L964.5,223.4 L965.0,221.8 L965.8,220.6 L966.8,219.9 L969.6,218.6 L970.8,218.6 L972.1,219.1 L973.5,220.1 L974.8,221.7 L976.0,223.6 L977.0,225.8 L977.8,228.2 L978.2,230.6 L978.4,232.8 L978.2,234.9 L977.8,236.5 L977.0,237.7 L976.0,238.3 L973.1,239.6 L972.0,239.7 L970.6,239.2 L969.3,238.1 L968.0,236.6 L966.8,234.6 L965.8,232.4 L965.0,230.1 L964.5,227.7Z" fill="#1b4aa0" stroke="#06153a" stroke-width="1"/>
<path d="M975.6,234.2 L975.4,231.9 L974.9,229.5 L974.2,227.1 L973.1,224.9 L971.9,223.0 L970.6,221.4 L969.3,220.4 L968.0,219.9 L966.8,219.9 L965.8,220.6 L965.0,221.8 L964.5,223.4 L964.4,225.4 L964.5,227.7 L965.0,230.1 L965.8,232.4 L966.8,234.6 L968.0,236.6 L969.3,238.1 L970.6,239.2 L971.9,239.7 L973.1,239.6 L974.2,239.0 L974.9,237.8 L975.4,236.2 L975.6,234.2Z" fill="#1b4aa0" stroke="#06153a" stroke-width="1"/>
<path d="M947.9,233.8 L948.1,232.0 L948.5,230.5 L949.2,229.5 L950.1,228.9 L967.1,221.1 L968.2,221.0 L969.4,221.5 L970.6,222.4 L971.7,223.8 L972.8,225.5 L973.7,227.4 L974.4,229.5 L974.8,231.7 L974.9,233.7 L974.8,235.4 L974.4,236.9 L973.7,237.9 L972.8,238.5 L955.7,246.3 L954.6,246.4 L953.5,245.9 L952.3,245.0 L951.1,243.7 L950.1,241.9 L949.2,240.0 L948.5,237.9 L948.1,235.8Z" fill="#1b4aa0" stroke="#06153a" stroke-width="1"/>
<path d="M957.9,241.5 L957.7,239.5 L957.3,237.4 L956.6,235.3 L955.7,233.3 L954.7,231.6 L953.5,230.2 L952.3,229.3 L951.1,228.9 L950.1,228.9 L949.2,229.5 L948.5,230.5 L948.1,232.0 L947.9,233.8 L948.1,235.8 L948.5,237.9 L949.2,240.0 L950.1,241.9 L951.1,243.6 L952.3,245.0 L953.5,245.9 L954.7,246.4 L955.7,246.3 L956.6,245.8 L957.3,244.7 L957.7,243.3 L957.9,241.5Z" fill="#1b4aa0" stroke="#06153a" stroke-width="1"/>
<path d="M942.4,234.1 L942.6,231.7 L943.1,229.8 L944.1,228.3 L945.3,227.6 L949.1,225.8 L950.5,225.8 L952.1,226.4 L953.7,227.6 L955.3,229.5 L956.7,231.8 L957.9,234.5 L958.9,237.3 L959.4,240.2 L959.6,242.9 L959.4,245.3 L958.9,247.2 L957.9,248.7 L956.7,249.4 L952.9,251.2 L951.5,251.2 L949.9,250.6 L948.3,249.4 L946.7,247.5 L945.3,245.2 L944.1,242.5 L943.1,239.7 L942.6,236.8Z" fill="#1b4aa0" stroke="#06153a" stroke-width="1"/>
<path d="M955.8,244.6 L955.6,241.9 L955.1,239.0 L954.1,236.2 L952.9,233.5 L951.5,231.2 L949.9,229.4 L948.3,228.1 L946.7,227.5 L945.3,227.6 L944.1,228.3 L943.2,229.7 L942.6,231.7 L942.4,234.1 L942.6,236.8 L943.2,239.7 L944.1,242.5 L945.3,245.2 L946.7,247.5 L948.3,249.4 L949.9,250.6 L951.5,251.2 L952.9,251.2 L954.1,250.4 L955.1,249.0 L955.6,247.0 L955.8,244.6Z" fill="#1b4aa0" stroke="#06153a" stroke-width="1"/><path d="M965.9,236.7 L973.9,233.0" fill="none" stroke="#06153a" stroke-width="1.1"/><path d="M963.6,229.3 L971.6,225.6" fill="none" stroke="#06153a" stroke-width="1.1"/>
<path d="M920.6,244.6 L923.3,242.4 L947.5,231.2 L950.7,233.7 L953.4,240.2 L953.4,245.3 L950.7,247.5 L926.5,258.6 L923.3,256.1 L920.6,249.7Z" fill="#1b4aa0" stroke="#06153a" stroke-width="1"/><path d="M923.3,242.4 L947.5,231.2" fill="none" stroke="#06153a" stroke-width="0.9"/><path d="M926.5,244.9 L950.7,233.7" fill="none" stroke="#06153a" stroke-width="0.9"/><path d="M926.5,249.2 L950.7,238.1" fill="none" stroke="#06153a" stroke-width="0.9"/><path d="M929.2,251.3 L953.4,240.2" fill="none" stroke="#06153a" stroke-width="0.9"/><path d="M929.2,256.4 L953.4,245.3" fill="none" stroke="#06153a" stroke-width="0.9"/><path d="M923.3,242.4 L926.5,244.9 L926.5,249.2 L929.2,251.3 L929.2,256.4 L926.5,254.3 L926.5,258.6 L923.3,256.1 L923.3,251.8 L920.6,249.7 L920.6,244.6 L923.3,246.7Z" fill="#1b4aa0" stroke="#06153a" stroke-width="0.9"/>
<path d="M1000.0,236.6 L1000.2,235.0 L1001.0,233.4 L1002.3,231.9 L1004.0,230.6 L1006.2,229.4 L1101.0,185.8 L1103.4,184.9 L1106.0,184.2 L1108.7,183.9 L1111.5,183.8 L1114.1,184.1 L1116.5,184.6 L1118.7,185.5 L1120.4,186.6 L1121.7,187.9 L1122.5,189.3 L1122.8,190.9 L1122.8,201.8 L1122.6,203.4 L1121.8,205.0 L1120.5,206.5 L1118.8,207.8 L1116.6,209.0 L1021.8,252.6 L1019.4,253.5 L1016.8,254.2 L1014.1,254.5 L1011.3,254.6 L1008.7,254.3 L1006.3,253.8 L1004.1,252.9 L1002.4,251.8 L1001.1,250.5 L1000.3,249.1 L1000.0,247.5Z" fill="#0b1016" stroke="#0b1016" stroke-width="1.2"/>
<path d="M1007.0,230.0 L1005.1,231.1 L1003.5,232.3 L1002.4,233.6 L1001.6,235.0 L1001.4,236.4 L1001.7,237.8 L1002.4,239.1 L1003.6,240.3 L1005.1,241.3 L1007.1,242.1 L1009.2,242.6 L1011.6,242.8 L1014.1,242.8 L1016.5,242.4 L1018.9,241.8 L1021.0,241.0 L1115.8,197.4 L1117.7,196.4 L1119.3,195.2 L1120.4,193.8 L1121.2,192.4 L1121.4,191.0 L1121.1,189.6 L1120.4,188.3 L1119.2,187.1 L1117.7,186.1 L1115.7,185.4 L1113.6,184.9 L1111.2,184.6 L1108.7,184.7 L1106.3,185.0 L1103.9,185.6 L1101.8,186.4Z" fill="none" stroke="#ececec" stroke-width="0.9"/>
<path d="M1006.8,232.9 L1011.6,230.7 L1014.8,233.2 L1019.5,231.0 L1022.7,233.5 L1018.0,235.7 L1021.2,238.2 L1016.4,240.4 L1013.2,237.9 L1008.5,240.0 L1005.3,237.5 L1010.0,235.4Z" fill="#0b1016" stroke="#ececec" stroke-width="0.9"/>
<path d="M1047.4,220.1 L1045.6,219.1 L1043.3,218.3 L1040.6,217.9 L1037.8,217.9 L1035.0,218.2 L1032.4,219.0 L1030.0,220.1 L1028.1,221.4 L1026.8,222.9 L1026.1,224.6 L1026.0,226.2 L1026.7,227.7 L1028.0,229.1 L1029.8,230.2 L1032.1,231.0 L1034.8,231.4 L1037.6,231.4 L1040.4,231.0 L1043.0,230.2 L1045.4,229.2 L1047.3,227.8 L1048.6,226.3 L1049.3,224.7 L1049.4,223.0 L1048.7,221.5 L1047.4,220.1Z" fill="none" stroke="#ececec" stroke-width="0.9"/>
<path d="M1046.2,220.7 L1044.6,219.7 L1042.6,219.1 L1040.3,218.7 L1037.8,218.7 L1035.3,219.0 L1033.0,219.7 L1031.0,220.6 L1029.3,221.8 L1028.1,223.1 L1027.5,224.6 L1027.5,226.0 L1028.0,227.4 L1029.2,228.5 L1030.8,229.5 L1032.8,230.2 L1035.1,230.5 L1037.6,230.6 L1040.1,230.2 L1042.4,229.6 L1044.4,228.6 L1046.1,227.4 L1047.3,226.1 L1047.9,224.7 L1047.9,223.2 L1047.4,221.9 L1046.2,220.7Z" fill="none" stroke="#ececec" stroke-width="0.54"/>
<path d="M1044.8,222.6 L1043.5,221.8 L1041.8,221.3 L1039.8,221.0 L1037.8,220.9 L1035.7,221.2 L1033.8,221.8 L1032.1,222.6 L1030.7,223.5 L1029.7,224.7 L1029.2,225.9 L1029.2,227.0 L1029.6,228.2 L1030.6,229.2 L1031.9,230.0 L1033.6,230.5 L1035.6,230.8 L1037.6,230.8 L1039.7,230.6 L1041.6,230.0 L1043.3,229.2 L1044.7,228.2 L1045.7,227.1 L1046.2,225.9 L1046.2,224.7 L1045.8,223.6 L1044.8,222.6Z" fill="#0b1016" stroke="#ececec" stroke-width="0.9"/>
<clipPath id="c4"><path d="M1044.8,222.6 L1043.5,221.8 L1041.8,221.3 L1039.8,221.0 L1037.8,220.9 L1035.7,221.2 L1033.8,221.8 L1032.1,222.6 L1030.7,223.5 L1029.7,224.7 L1029.2,225.9 L1029.2,227.0 L1029.6,228.2 L1030.6,229.2 L1031.9,230.0 L1033.6,230.5 L1035.6,230.8 L1037.6,230.8 L1039.7,230.6 L1041.6,230.0 L1043.3,229.2 L1044.7,228.2 L1045.7,227.1 L1046.2,225.9 L1046.2,224.7 L1045.8,223.6 L1044.8,222.6Z"/></clipPath><g clip-path="url(#c4)"><path d="M1044.8,229.3 L1043.5,228.5 L1041.8,227.9 L1039.8,227.6 L1037.8,227.6 L1035.7,227.9 L1033.8,228.4 L1032.1,229.2 L1030.7,230.2 L1029.7,231.3 L1029.2,232.5 L1029.2,233.7 L1029.6,234.8 L1030.6,235.8 L1031.9,236.6 L1033.6,237.2 L1035.6,237.5 L1037.6,237.5 L1039.7,237.2 L1041.6,236.6 L1043.3,235.9 L1044.7,234.9 L1045.7,233.8 L1046.2,232.6 L1046.2,231.4 L1045.8,230.2 L1044.8,229.3Z" fill="#bde3f8" stroke="#ececec" stroke-width="0.54"/></g>
<path d="M1071.1,209.2 L1069.3,208.2 L1067.0,207.4 L1064.3,207.0 L1061.5,207.0 L1058.7,207.3 L1056.1,208.1 L1053.7,209.2 L1051.8,210.5 L1050.5,212.0 L1049.8,213.7 L1049.7,215.3 L1050.4,216.8 L1051.7,218.2 L1053.5,219.3 L1055.8,220.1 L1058.5,220.5 L1061.3,220.5 L1064.1,220.1 L1066.7,219.3 L1069.1,218.3 L1071.0,216.9 L1072.3,215.4 L1073.0,213.8 L1073.1,212.1 L1072.4,210.6 L1071.1,209.2Z" fill="none" stroke="#ececec" stroke-width="0.9"/>
<path d="M1069.9,209.8 L1068.3,208.8 L1066.3,208.2 L1064.0,207.8 L1061.5,207.8 L1059.0,208.1 L1056.7,208.8 L1054.7,209.7 L1053.0,210.9 L1051.8,212.2 L1051.2,213.7 L1051.2,215.1 L1051.7,216.5 L1052.9,217.6 L1054.5,218.6 L1056.5,219.3 L1058.8,219.6 L1061.3,219.7 L1063.8,219.3 L1066.1,218.7 L1068.1,217.7 L1069.8,216.5 L1071.0,215.2 L1071.6,213.8 L1071.6,212.3 L1071.1,211.0 L1069.9,209.8Z" fill="none" stroke="#ececec" stroke-width="0.54"/>
<path d="M1068.5,211.7 L1067.2,210.9 L1065.5,210.4 L1063.5,210.1 L1061.5,210.0 L1059.4,210.3 L1057.5,210.9 L1055.8,211.7 L1054.4,212.6 L1053.4,213.8 L1052.9,215.0 L1052.9,216.1 L1053.3,217.3 L1054.3,218.3 L1055.6,219.1 L1057.3,219.6 L1059.3,219.9 L1061.3,219.9 L1063.4,219.7 L1065.3,219.1 L1067.0,218.3 L1068.4,217.3 L1069.4,216.2 L1069.9,215.0 L1069.9,213.8 L1069.5,212.7 L1068.5,211.7Z" fill="#0b1016" stroke="#ececec" stroke-width="0.9"/>
<clipPath id="c5"><path d="M1068.5,211.7 L1067.2,210.9 L1065.5,210.4 L1063.5,210.1 L1061.5,210.0 L1059.4,210.3 L1057.5,210.9 L1055.8,211.7 L1054.4,212.6 L1053.4,213.8 L1052.9,215.0 L1052.9,216.1 L1053.3,217.3 L1054.3,218.3 L1055.6,219.1 L1057.3,219.6 L1059.3,219.9 L1061.3,219.9 L1063.4,219.7 L1065.3,219.1 L1067.0,218.3 L1068.4,217.3 L1069.4,216.2 L1069.9,215.0 L1069.9,213.8 L1069.5,212.7 L1068.5,211.7Z"/></clipPath><g clip-path="url(#c5)"><path d="M1068.5,218.4 L1067.2,217.6 L1065.5,217.0 L1063.5,216.7 L1061.5,216.7 L1059.4,217.0 L1057.5,217.5 L1055.8,218.3 L1054.4,219.3 L1053.4,220.4 L1052.9,221.6 L1052.9,222.8 L1053.3,223.9 L1054.3,224.9 L1055.6,225.7 L1057.3,226.3 L1059.3,226.6 L1061.3,226.6 L1063.4,226.3 L1065.3,225.7 L1067.0,225.0 L1068.4,224.0 L1069.4,222.9 L1069.9,221.7 L1069.9,220.5 L1069.5,219.3 L1068.5,218.4Z" fill="#bde3f8" stroke="#ececec" stroke-width="0.54"/></g>
<path d="M1094.8,198.3 L1093.0,197.3 L1090.7,196.5 L1088.0,196.1 L1085.2,196.1 L1082.4,196.4 L1079.8,197.2 L1077.4,198.3 L1075.5,199.6 L1074.2,201.1 L1073.5,202.8 L1073.4,204.4 L1074.1,205.9 L1075.4,207.3 L1077.2,208.4 L1079.5,209.2 L1082.2,209.6 L1085.0,209.6 L1087.8,209.2 L1090.4,208.4 L1092.8,207.4 L1094.7,206.0 L1096.0,204.5 L1096.7,202.9 L1096.8,201.2 L1096.1,199.7 L1094.8,198.3Z" fill="none" stroke="#ececec" stroke-width="0.9"/>
<path d="M1093.6,198.9 L1092.0,197.9 L1090.0,197.3 L1087.7,196.9 L1085.2,196.9 L1082.7,197.2 L1080.4,197.9 L1078.4,198.8 L1076.7,200.0 L1075.5,201.3 L1074.9,202.8 L1074.9,204.2 L1075.4,205.6 L1076.6,206.7 L1078.2,207.7 L1080.2,208.4 L1082.5,208.7 L1085.0,208.8 L1087.5,208.4 L1089.8,207.8 L1091.8,206.8 L1093.5,205.6 L1094.7,204.3 L1095.3,202.9 L1095.3,201.4 L1094.8,200.1 L1093.6,198.9Z" fill="none" stroke="#ececec" stroke-width="0.54"/>
<path d="M1092.2,200.8 L1090.9,200.0 L1089.2,199.5 L1087.2,199.2 L1085.2,199.1 L1083.1,199.4 L1081.2,200.0 L1079.5,200.8 L1078.1,201.7 L1077.1,202.9 L1076.6,204.1 L1076.6,205.2 L1077.0,206.4 L1078.0,207.4 L1079.3,208.2 L1081.0,208.7 L1083.0,209.0 L1085.0,209.0 L1087.1,208.8 L1089.0,208.2 L1090.7,207.4 L1092.1,206.4 L1093.1,205.3 L1093.6,204.1 L1093.6,202.9 L1093.2,201.8 L1092.2,200.8Z" fill="#0b1016" stroke="#ececec" stroke-width="0.9"/>
<clipPath id="c6"><path d="M1092.2,200.8 L1090.9,200.0 L1089.2,199.5 L1087.2,199.2 L1085.2,199.1 L1083.1,199.4 L1081.2,200.0 L1079.5,200.8 L1078.1,201.7 L1077.1,202.9 L1076.6,204.1 L1076.6,205.2 L1077.0,206.4 L1078.0,207.4 L1079.3,208.2 L1081.0,208.7 L1083.0,209.0 L1085.0,209.0 L1087.1,208.8 L1089.0,208.2 L1090.7,207.4 L1092.1,206.4 L1093.1,205.3 L1093.6,204.1 L1093.6,202.9 L1093.2,201.8 L1092.2,200.8Z"/></clipPath><g clip-path="url(#c6)"><path d="M1092.2,207.5 L1090.9,206.7 L1089.2,206.1 L1087.2,205.8 L1085.2,205.8 L1083.1,206.1 L1081.2,206.6 L1079.5,207.4 L1078.1,208.4 L1077.1,209.5 L1076.6,210.7 L1076.6,211.9 L1077.0,213.0 L1078.0,214.0 L1079.3,214.8 L1081.0,215.4 L1083.0,215.7 L1085.0,215.7 L1087.1,215.4 L1089.0,214.8 L1090.7,214.1 L1092.1,213.1 L1093.1,212.0 L1093.6,210.8 L1093.6,209.6 L1093.2,208.4 L1092.2,207.5Z" fill="#bde3f8" stroke="#ececec" stroke-width="0.54"/></g>
<path d="M1101.6,189.3 L1106.4,187.1 L1109.6,189.6 L1114.3,187.4 L1117.5,189.9 L1112.8,192.1 L1116.0,194.6 L1111.2,196.8 L1108.0,194.3 L1103.3,196.4 L1100.1,193.9 L1104.8,191.8Z" fill="#0b1016" stroke="#ececec" stroke-width="0.9"/>
<path d="M1016.0,227.1 L1024.2,228.8 L1023.6,223.6" fill="none" stroke="#ececec" stroke-width="0.72"/>
<path d="M1016.8,225.9 L1021.5,223.7" fill="none" stroke="#ececec" stroke-width="0.72"/>
<path d="M1028.1,236.6 L1027.4,231.3 L1035.7,233.1" fill="none" stroke="#ececec" stroke-width="0.72"/>
<path d="M1030.2,236.4 L1034.9,234.2" fill="none" stroke="#ececec" stroke-width="0.72"/>
<path d="M1039.7,216.2 L1048.0,217.9 L1047.3,212.7" fill="none" stroke="#ececec" stroke-width="0.72"/>
<path d="M1040.5,215.0 L1045.2,212.8" fill="none" stroke="#ececec" stroke-width="0.72"/>
<path d="M1051.8,225.7 L1051.1,220.4 L1059.4,222.2" fill="none" stroke="#ececec" stroke-width="0.72"/>
<path d="M1053.9,225.5 L1058.6,223.3" fill="none" stroke="#ececec" stroke-width="0.72"/>
<path d="M1063.4,205.3 L1071.7,207.0 L1071.0,201.8" fill="none" stroke="#ececec" stroke-width="0.72"/>
<path d="M1064.2,204.1 L1068.9,201.9" fill="none" stroke="#ececec" stroke-width="0.72"/>
<path d="M1075.5,214.8 L1074.8,209.5 L1083.1,211.3" fill="none" stroke="#ececec" stroke-width="0.72"/>
<path d="M1077.6,214.6 L1082.3,212.4" fill="none" stroke="#ececec" stroke-width="0.72"/>
<path d="M1087.1,194.4 L1095.4,196.1 L1094.7,190.9" fill="none" stroke="#ececec" stroke-width="0.72"/>
<path d="M1087.9,193.2 L1092.6,191.0" fill="none" stroke="#ececec" stroke-width="0.72"/>
<path d="M1099.2,203.9 L1098.5,198.6 L1106.8,200.4" fill="none" stroke="#ececec" stroke-width="0.72"/>
<path d="M1101.3,203.7 L1106.0,201.5" fill="none" stroke="#ececec" stroke-width="0.72"/>
<path d="M1144.3,228.0 L1144.6,226.4 L1145.4,224.8 L1146.7,223.3 L1148.4,221.9 L1150.6,220.7 L1387.6,111.7 L1390.1,110.8 L1392.7,110.1 L1395.5,109.7 L1398.3,109.7 L1401.0,110.0 L1403.5,110.5 L1405.7,111.4 L1407.5,112.5 L1408.8,113.8 L1409.6,115.3 L1409.9,116.9 L1409.9,141.4 L1409.6,143.0 L1408.8,144.6 L1407.5,146.1 L1405.8,147.5 L1403.6,148.7 L1166.6,257.7 L1164.1,258.6 L1161.5,259.3 L1158.7,259.7 L1155.9,259.7 L1153.2,259.4 L1150.7,258.9 L1148.5,258.0 L1146.8,256.9 L1145.4,255.6 L1144.6,254.1 L1144.3,252.5Z" fill="#1f8bd0" stroke="#06203a" stroke-width="1.1"/>
<path d="M1150.6,220.7 L1148.4,221.9 L1146.7,223.3 L1145.4,224.8 L1144.6,226.4 L1144.3,228.0 L1144.6,229.6 L1145.4,231.1 L1146.8,232.4 L1148.5,233.5 L1150.7,234.4 L1153.2,235.0 L1155.9,235.2 L1158.7,235.2 L1161.5,234.8 L1164.1,234.2 L1166.6,233.2 L1403.6,124.2 L1405.8,123.0 L1407.5,121.6 L1408.8,120.1 L1409.6,118.5 L1409.9,116.9 L1409.6,115.3 L1408.8,113.8 L1407.4,112.5 L1405.7,111.4 L1403.5,110.5 L1401.0,110.0 L1398.3,109.7 L1395.5,109.7 L1392.7,110.1 L1390.1,110.8 L1387.6,111.7Z" fill="#1f8bd0" stroke="#06203a" stroke-width="1.1"/>
<path d="M1152.0,221.8 L1150.3,222.8 L1148.8,223.9 L1147.7,225.2 L1147.1,226.5 L1146.9,227.8 L1147.1,229.1 L1147.8,230.3 L1148.9,231.4 L1150.3,232.3 L1152.1,233.1 L1154.2,233.5 L1156.4,233.7 L1158.7,233.7 L1160.9,233.4 L1163.1,232.9 L1165.2,232.1 L1402.2,123.1 L1403.9,122.1 L1405.4,121.0 L1406.5,119.7 L1407.1,118.4 L1407.3,117.1 L1407.1,115.8 L1406.4,114.6 L1405.3,113.5 L1403.9,112.6 L1402.1,111.9 L1400.0,111.4 L1397.8,111.2 L1395.5,111.2 L1393.3,111.5 L1391.1,112.1 L1389.0,112.8Z" fill="none" stroke="#06203a" stroke-width="0.88"/>
<path d="M1171.2,227.9 L1171.5,226.8 L1171.6,225.8 L1171.4,224.7 L1171.0,223.8 L1170.3,222.8 L1169.4,222.0 L1168.3,221.3 L1167.0,220.6 L1165.5,220.1 L1163.9,219.7 L1162.2,219.5 L1160.4,219.4" fill="none" stroke="#06203a" stroke-width="0.88"/>
<path d="M1169.7,215.2 L1169.4,216.2 L1169.3,217.3 L1169.5,218.3 L1169.9,219.3 L1170.6,220.2 L1171.5,221.0 L1172.6,221.8 L1173.9,222.4 L1175.4,222.9 L1177.0,223.3 L1178.7,223.5 L1180.5,223.6" fill="none" stroke="#06203a" stroke-width="0.88"/>
<path d="M1194.9,217.0 L1195.2,215.9 L1195.3,214.9 L1195.1,213.8 L1194.7,212.9 L1194.0,211.9 L1193.1,211.1 L1192.0,210.4 L1190.7,209.7 L1189.2,209.2 L1187.6,208.8 L1185.9,208.6 L1184.1,208.5" fill="none" stroke="#06203a" stroke-width="0.88"/>
<path d="M1193.4,204.3 L1193.1,205.3 L1193.0,206.4 L1193.2,207.4 L1193.6,208.4 L1194.3,209.3 L1195.2,210.1 L1196.3,210.9 L1197.6,211.5 L1199.1,212.0 L1200.7,212.4 L1202.4,212.6 L1204.2,212.7" fill="none" stroke="#06203a" stroke-width="0.88"/>
<path d="M1218.6,206.1 L1218.9,205.0 L1219.0,204.0 L1218.8,202.9 L1218.4,202.0 L1217.7,201.0 L1216.8,200.2 L1215.7,199.5 L1214.4,198.8 L1212.9,198.3 L1211.3,197.9 L1209.6,197.7 L1207.8,197.6" fill="none" stroke="#06203a" stroke-width="0.88"/>
<path d="M1217.1,193.4 L1216.8,194.4 L1216.7,195.5 L1216.9,196.5 L1217.3,197.5 L1218.0,198.4 L1218.9,199.2 L1220.0,200.0 L1221.3,200.6 L1222.8,201.1 L1224.4,201.5 L1226.1,201.7 L1227.9,201.8" fill="none" stroke="#06203a" stroke-width="0.88"/>
<path d="M1242.3,195.2 L1242.6,194.1 L1242.7,193.1 L1242.5,192.0 L1242.1,191.1 L1241.4,190.1 L1240.5,189.3 L1239.4,188.6 L1238.1,187.9 L1236.6,187.4 L1235.0,187.0 L1233.3,186.8 L1231.5,186.7" fill="none" stroke="#06203a" stroke-width="0.88"/>
<path d="M1240.8,182.5 L1240.5,183.5 L1240.4,184.6 L1240.6,185.6 L1241.0,186.6 L1241.7,187.5 L1242.6,188.3 L1243.7,189.1 L1245.0,189.7 L1246.5,190.2 L1248.1,190.6 L1249.8,190.8 L1251.6,190.9" fill="none" stroke="#06203a" stroke-width="0.88"/>
<path d="M1266.0,184.3 L1266.3,183.2 L1266.4,182.2 L1266.2,181.1 L1265.8,180.2 L1265.1,179.2 L1264.2,178.4 L1263.1,177.7 L1261.8,177.0 L1260.3,176.5 L1258.7,176.1 L1257.0,175.9 L1255.2,175.8" fill="none" stroke="#06203a" stroke-width="0.88"/>
<path d="M1264.5,171.6 L1264.2,172.6 L1264.1,173.7 L1264.3,174.7 L1264.7,175.7 L1265.4,176.6 L1266.3,177.4 L1267.4,178.2 L1268.7,178.8 L1270.2,179.3 L1271.8,179.7 L1273.5,179.9 L1275.3,180.0" fill="none" stroke="#06203a" stroke-width="0.88"/>
<path d="M1289.7,173.4 L1290.0,172.3 L1290.1,171.3 L1289.9,170.2 L1289.5,169.3 L1288.8,168.3 L1287.9,167.5 L1286.8,166.8 L1285.5,166.1 L1284.0,165.6 L1282.4,165.2 L1280.7,165.0 L1278.9,164.9" fill="none" stroke="#06203a" stroke-width="0.88"/>
<path d="M1288.2,160.7 L1287.9,161.7 L1287.8,162.8 L1288.0,163.8 L1288.4,164.8 L1289.1,165.7 L1290.0,166.5 L1291.1,167.3 L1292.4,167.9 L1293.9,168.4 L1295.5,168.8 L1297.2,169.0 L1299.0,169.1" fill="none" stroke="#06203a" stroke-width="0.88"/>
<path d="M1313.4,162.5 L1313.7,161.4 L1313.8,160.4 L1313.6,159.3 L1313.2,158.4 L1312.5,157.4 L1311.6,156.6 L1310.5,155.9 L1309.2,155.2 L1307.7,154.7 L1306.1,154.3 L1304.4,154.1 L1302.6,154.0" fill="none" stroke="#06203a" stroke-width="0.88"/>
<path d="M1311.9,149.8 L1311.6,150.8 L1311.5,151.9 L1311.7,152.9 L1312.1,153.9 L1312.8,154.8 L1313.7,155.6 L1314.8,156.4 L1316.1,157.0 L1317.6,157.5 L1319.2,157.9 L1320.9,158.1 L1322.7,158.2" fill="none" stroke="#06203a" stroke-width="0.88"/>
<path d="M1337.1,151.6 L1337.4,150.5 L1337.5,149.5 L1337.3,148.4 L1336.9,147.5 L1336.2,146.5 L1335.3,145.7 L1334.2,145.0 L1332.9,144.3 L1331.4,143.8 L1329.8,143.4 L1328.1,143.2 L1326.3,143.1" fill="none" stroke="#06203a" stroke-width="0.88"/>
<path d="M1335.6,138.9 L1335.3,139.9 L1335.2,141.0 L1335.4,142.0 L1335.8,143.0 L1336.5,143.9 L1337.4,144.7 L1338.5,145.5 L1339.8,146.1 L1341.3,146.6 L1342.9,147.0 L1344.6,147.2 L1346.4,147.3" fill="none" stroke="#06203a" stroke-width="0.88"/>
<path d="M1360.8,140.7 L1361.1,139.6 L1361.2,138.6 L1361.0,137.5 L1360.6,136.6 L1359.9,135.6 L1359.0,134.8 L1357.9,134.1 L1356.6,133.4 L1355.1,132.9 L1353.5,132.5 L1351.8,132.3 L1350.0,132.2" fill="none" stroke="#06203a" stroke-width="0.88"/>
<path d="M1359.3,128.0 L1359.0,129.0 L1358.9,130.1 L1359.1,131.1 L1359.5,132.1 L1360.2,133.0 L1361.1,133.8 L1362.2,134.6 L1363.5,135.2 L1365.0,135.7 L1366.6,136.1 L1368.3,136.3 L1370.1,136.4" fill="none" stroke="#06203a" stroke-width="0.88"/>
<path d="M1384.5,129.8 L1384.8,128.7 L1384.9,127.7 L1384.7,126.6 L1384.3,125.7 L1383.6,124.7 L1382.7,123.9 L1381.6,123.2 L1380.3,122.5 L1378.8,122.0 L1377.2,121.6 L1375.5,121.4 L1373.7,121.3" fill="none" stroke="#06203a" stroke-width="0.88"/>
<path d="M1383.0,117.1 L1382.7,118.1 L1382.6,119.2 L1382.8,120.2 L1383.2,121.2 L1383.9,122.1 L1384.8,122.9 L1385.9,123.7 L1387.2,124.3 L1388.7,124.8 L1390.3,125.2 L1392.0,125.4 L1393.8,125.5" fill="none" stroke="#06203a" stroke-width="0.88"/>
<path d="M1168.1,222.6 L1166.3,221.5 L1164.0,220.8 L1161.5,220.4 L1158.7,220.4 L1156.0,220.7 L1153.4,221.5 L1151.1,222.5 L1149.3,223.8 L1147.9,225.3 L1147.3,226.9 L1147.2,228.5 L1147.9,230.0 L1149.1,231.3 L1150.9,232.4 L1153.2,233.1 L1155.7,233.5 L1158.5,233.6 L1161.2,233.2 L1163.8,232.4 L1166.1,231.4 L1167.9,230.1 L1169.3,228.6 L1169.9,227.0 L1170.0,225.4 L1169.3,223.9 L1168.1,222.6Z" fill="#1f8bd0" stroke="#06203a" stroke-width="0.99"/>
<path d="M1156.7,233.9 L1158.9,233.9 L1161.1,233.5 L1163.2,232.9 L1165.0,232.1 L1166.5,231.1 L1167.6,229.9 L1168.3,228.6 L1168.5,227.3 L1168.1,226.1 L1167.3,225.0 L1166.1,224.0 L1164.5,223.3 L1162.6,222.8 L1160.5,222.5" fill="none" stroke="#06203a" stroke-width="0.88"/>
<path d="M1165.7,226.7 L1164.4,225.9 L1162.7,225.4 L1160.7,225.1 L1158.7,225.1 L1156.6,225.4 L1154.7,225.9 L1153.0,226.7 L1151.6,227.7 L1150.6,228.8 L1150.1,230.0 L1150.1,231.2 L1150.5,232.3 L1151.5,233.3 L1152.8,234.1 L1154.5,234.7 L1156.5,235.0 L1158.5,235.0 L1160.6,234.7 L1162.5,234.1 L1164.2,233.3 L1165.6,232.4 L1166.6,231.2 L1167.1,230.1 L1167.1,228.9 L1166.7,227.7 L1165.7,226.7Z" fill="#1f8bd0" stroke="#06203a" stroke-width="0.99"/>
<path d="M1191.8,211.7 L1190.0,210.6 L1187.7,209.9 L1185.2,209.5 L1182.4,209.5 L1179.7,209.8 L1177.1,210.6 L1174.8,211.6 L1173.0,212.9 L1171.6,214.4 L1171.0,216.0 L1170.9,217.6 L1171.6,219.1 L1172.8,220.4 L1174.6,221.5 L1176.9,222.2 L1179.4,222.6 L1182.2,222.7 L1184.9,222.3 L1187.5,221.5 L1189.8,220.5 L1191.6,219.2 L1193.0,217.7 L1193.6,216.1 L1193.7,214.5 L1193.0,213.0 L1191.8,211.7Z" fill="#1f8bd0" stroke="#06203a" stroke-width="0.99"/>
<path d="M1180.4,223.0 L1182.6,223.0 L1184.8,222.6 L1186.9,222.0 L1188.7,221.2 L1190.2,220.2 L1191.3,219.0 L1192.0,217.7 L1192.2,216.4 L1191.8,215.2 L1191.0,214.1 L1189.8,213.1 L1188.2,212.4 L1186.3,211.9 L1184.2,211.6" fill="none" stroke="#06203a" stroke-width="0.88"/>
<path d="M1189.4,215.8 L1188.1,215.0 L1186.4,214.5 L1184.4,214.2 L1182.4,214.2 L1180.3,214.5 L1178.4,215.0 L1176.7,215.8 L1175.3,216.8 L1174.3,217.9 L1173.8,219.1 L1173.8,220.3 L1174.2,221.4 L1175.2,222.4 L1176.5,223.2 L1178.2,223.8 L1180.2,224.1 L1182.2,224.1 L1184.3,223.8 L1186.2,223.2 L1187.9,222.4 L1189.3,221.5 L1190.3,220.3 L1190.8,219.2 L1190.8,218.0 L1190.4,216.8 L1189.4,215.8Z" fill="#1f8bd0" stroke="#06203a" stroke-width="0.99"/>
<path d="M1215.5,200.8 L1213.7,199.7 L1211.4,199.0 L1208.9,198.6 L1206.1,198.6 L1203.4,198.9 L1200.8,199.7 L1198.5,200.7 L1196.7,202.0 L1195.3,203.5 L1194.7,205.1 L1194.6,206.7 L1195.3,208.2 L1196.5,209.5 L1198.3,210.6 L1200.6,211.3 L1203.1,211.7 L1205.9,211.8 L1208.6,211.4 L1211.2,210.6 L1213.5,209.6 L1215.3,208.3 L1216.7,206.8 L1217.3,205.2 L1217.4,203.6 L1216.7,202.1 L1215.5,200.8Z" fill="#1f8bd0" stroke="#06203a" stroke-width="0.99"/>
<path d="M1204.1,212.1 L1206.3,212.1 L1208.5,211.7 L1210.6,211.1 L1212.4,210.3 L1213.9,209.3 L1215.0,208.1 L1215.7,206.8 L1215.9,205.5 L1215.5,204.3 L1214.7,203.2 L1213.5,202.2 L1211.9,201.5 L1210.0,201.0 L1207.9,200.7" fill="none" stroke="#06203a" stroke-width="0.88"/>
<path d="M1213.1,204.9 L1211.8,204.1 L1210.1,203.6 L1208.1,203.3 L1206.1,203.3 L1204.0,203.6 L1202.1,204.1 L1200.4,204.9 L1199.0,205.9 L1198.0,207.0 L1197.5,208.2 L1197.5,209.4 L1197.9,210.5 L1198.9,211.5 L1200.2,212.3 L1201.9,212.9 L1203.9,213.2 L1205.9,213.2 L1208.0,212.9 L1209.9,212.3 L1211.6,211.5 L1213.0,210.6 L1214.0,209.4 L1214.5,208.3 L1214.5,207.1 L1214.1,205.9 L1213.1,204.9Z" fill="#1f8bd0" stroke="#06203a" stroke-width="0.99"/>
<path d="M1239.2,189.9 L1237.4,188.8 L1235.1,188.1 L1232.6,187.7 L1229.8,187.7 L1227.1,188.0 L1224.5,188.8 L1222.2,189.8 L1220.4,191.1 L1219.0,192.6 L1218.4,194.2 L1218.3,195.8 L1219.0,197.3 L1220.2,198.6 L1222.0,199.7 L1224.3,200.4 L1226.8,200.8 L1229.6,200.9 L1232.3,200.5 L1234.9,199.7 L1237.2,198.7 L1239.0,197.4 L1240.4,195.9 L1241.0,194.3 L1241.1,192.7 L1240.4,191.2 L1239.2,189.9Z" fill="#1f8bd0" stroke="#06203a" stroke-width="0.99"/>
<path d="M1227.8,201.2 L1230.0,201.2 L1232.2,200.8 L1234.3,200.2 L1236.1,199.4 L1237.6,198.4 L1238.7,197.2 L1239.4,195.9 L1239.6,194.6 L1239.2,193.4 L1238.4,192.3 L1237.2,191.3 L1235.6,190.6 L1233.7,190.1 L1231.6,189.8" fill="none" stroke="#06203a" stroke-width="0.88"/>
<path d="M1236.8,194.0 L1235.5,193.2 L1233.8,192.7 L1231.8,192.4 L1229.8,192.4 L1227.7,192.7 L1225.8,193.2 L1224.1,194.0 L1222.7,195.0 L1221.7,196.1 L1221.2,197.3 L1221.2,198.5 L1221.6,199.6 L1222.6,200.6 L1223.9,201.4 L1225.6,202.0 L1227.6,202.3 L1229.6,202.3 L1231.7,202.0 L1233.6,201.4 L1235.3,200.6 L1236.7,199.7 L1237.7,198.5 L1238.2,197.4 L1238.2,196.2 L1237.8,195.0 L1236.8,194.0Z" fill="#1f8bd0" stroke="#06203a" stroke-width="0.99"/>
<path d="M1262.9,179.0 L1261.1,177.9 L1258.8,177.2 L1256.3,176.8 L1253.5,176.8 L1250.8,177.1 L1248.2,177.9 L1245.9,178.9 L1244.1,180.2 L1242.7,181.7 L1242.1,183.3 L1242.0,184.9 L1242.7,186.4 L1243.9,187.7 L1245.7,188.8 L1248.0,189.5 L1250.5,189.9 L1253.3,190.0 L1256.0,189.6 L1258.6,188.8 L1260.9,187.8 L1262.7,186.5 L1264.1,185.0 L1264.7,183.4 L1264.8,181.8 L1264.1,180.3 L1262.9,179.0Z" fill="#1f8bd0" stroke="#06203a" stroke-width="0.99"/>
<path d="M1251.5,190.3 L1253.7,190.3 L1255.9,189.9 L1258.0,189.3 L1259.8,188.5 L1261.3,187.5 L1262.4,186.3 L1263.1,185.0 L1263.3,183.7 L1262.9,182.5 L1262.1,181.4 L1260.9,180.4 L1259.3,179.7 L1257.4,179.2 L1255.3,178.9" fill="none" stroke="#06203a" stroke-width="0.88"/>
<path d="M1260.5,183.1 L1259.2,182.3 L1257.5,181.8 L1255.5,181.5 L1253.5,181.5 L1251.4,181.8 L1249.5,182.3 L1247.8,183.1 L1246.4,184.1 L1245.4,185.2 L1244.9,186.4 L1244.9,187.6 L1245.3,188.7 L1246.3,189.7 L1247.6,190.5 L1249.3,191.1 L1251.3,191.4 L1253.3,191.4 L1255.4,191.1 L1257.3,190.5 L1259.0,189.7 L1260.4,188.8 L1261.4,187.6 L1261.9,186.5 L1261.9,185.3 L1261.5,184.1 L1260.5,183.1Z" fill="#1f8bd0" stroke="#06203a" stroke-width="0.99"/>
<path d="M1286.6,168.1 L1284.8,167.0 L1282.5,166.3 L1280.0,165.9 L1277.2,165.9 L1274.5,166.2 L1271.9,167.0 L1269.6,168.0 L1267.8,169.3 L1266.4,170.8 L1265.8,172.4 L1265.7,174.0 L1266.4,175.5 L1267.6,176.8 L1269.4,177.9 L1271.7,178.6 L1274.2,179.0 L1277.0,179.1 L1279.7,178.7 L1282.3,177.9 L1284.6,176.9 L1286.4,175.6 L1287.8,174.1 L1288.4,172.5 L1288.5,170.9 L1287.8,169.4 L1286.6,168.1Z" fill="#1f8bd0" stroke="#06203a" stroke-width="0.99"/>
<path d="M1275.2,179.4 L1277.4,179.4 L1279.6,179.0 L1281.7,178.4 L1283.5,177.6 L1285.0,176.6 L1286.1,175.4 L1286.8,174.1 L1287.0,172.8 L1286.6,171.6 L1285.8,170.5 L1284.6,169.5 L1283.0,168.8 L1281.1,168.3 L1279.0,168.0" fill="none" stroke="#06203a" stroke-width="0.88"/>
<path d="M1284.2,172.2 L1282.9,171.4 L1281.2,170.9 L1279.2,170.6 L1277.2,170.6 L1275.1,170.9 L1273.2,171.4 L1271.5,172.2 L1270.1,173.2 L1269.1,174.3 L1268.6,175.5 L1268.6,176.7 L1269.0,177.8 L1270.0,178.8 L1271.3,179.6 L1273.0,180.2 L1275.0,180.5 L1277.0,180.5 L1279.1,180.2 L1281.0,179.6 L1282.7,178.8 L1284.1,177.9 L1285.1,176.7 L1285.6,175.6 L1285.6,174.4 L1285.2,173.2 L1284.2,172.2Z" fill="#1f8bd0" stroke="#06203a" stroke-width="0.99"/>
<path d="M1310.3,157.2 L1308.5,156.1 L1306.2,155.4 L1303.7,155.0 L1300.9,155.0 L1298.2,155.3 L1295.6,156.1 L1293.3,157.1 L1291.5,158.4 L1290.1,159.9 L1289.5,161.5 L1289.4,163.1 L1290.1,164.6 L1291.3,165.9 L1293.1,167.0 L1295.4,167.7 L1297.9,168.1 L1300.7,168.2 L1303.4,167.8 L1306.0,167.0 L1308.3,166.0 L1310.1,164.7 L1311.5,163.2 L1312.1,161.6 L1312.2,160.0 L1311.5,158.5 L1310.3,157.2Z" fill="#1f8bd0" stroke="#06203a" stroke-width="0.99"/>
<path d="M1298.9,168.5 L1301.1,168.5 L1303.3,168.1 L1305.4,167.5 L1307.2,166.7 L1308.7,165.7 L1309.8,164.5 L1310.5,163.2 L1310.7,161.9 L1310.3,160.7 L1309.5,159.6 L1308.3,158.6 L1306.7,157.9 L1304.8,157.4 L1302.7,157.1" fill="none" stroke="#06203a" stroke-width="0.88"/>
<path d="M1307.9,161.3 L1306.6,160.5 L1304.9,160.0 L1302.9,159.7 L1300.9,159.7 L1298.8,160.0 L1296.9,160.5 L1295.2,161.3 L1293.8,162.3 L1292.8,163.4 L1292.3,164.6 L1292.3,165.8 L1292.7,166.9 L1293.7,167.9 L1295.0,168.7 L1296.7,169.3 L1298.7,169.6 L1300.7,169.6 L1302.8,169.3 L1304.7,168.7 L1306.4,167.9 L1307.8,167.0 L1308.8,165.8 L1309.3,164.7 L1309.3,163.5 L1308.9,162.3 L1307.9,161.3Z" fill="#1f8bd0" stroke="#06203a" stroke-width="0.99"/>
<path d="M1334.0,146.3 L1332.2,145.2 L1329.9,144.5 L1327.4,144.1 L1324.6,144.1 L1321.9,144.4 L1319.3,145.2 L1317.0,146.2 L1315.2,147.5 L1313.8,149.0 L1313.2,150.6 L1313.1,152.2 L1313.8,153.7 L1315.0,155.0 L1316.8,156.1 L1319.1,156.8 L1321.6,157.2 L1324.4,157.3 L1327.1,156.9 L1329.7,156.1 L1332.0,155.1 L1333.8,153.8 L1335.2,152.3 L1335.8,150.7 L1335.9,149.1 L1335.2,147.6 L1334.0,146.3Z" fill="#1f8bd0" stroke="#06203a" stroke-width="0.99"/>
<path d="M1322.6,157.6 L1324.8,157.6 L1327.0,157.2 L1329.1,156.6 L1330.9,155.8 L1332.4,154.8 L1333.5,153.6 L1334.2,152.3 L1334.4,151.0 L1334.0,149.8 L1333.2,148.7 L1332.0,147.7 L1330.4,147.0 L1328.5,146.5 L1326.4,146.2" fill="none" stroke="#06203a" stroke-width="0.88"/>
<path d="M1331.6,150.4 L1330.3,149.6 L1328.6,149.1 L1326.6,148.8 L1324.6,148.8 L1322.5,149.1 L1320.6,149.6 L1318.9,150.4 L1317.5,151.4 L1316.5,152.5 L1316.0,153.7 L1316.0,154.9 L1316.4,156.0 L1317.4,157.0 L1318.7,157.8 L1320.4,158.4 L1322.4,158.7 L1324.4,158.7 L1326.5,158.4 L1328.4,157.8 L1330.1,157.0 L1331.5,156.1 L1332.5,154.9 L1333.0,153.8 L1333.0,152.6 L1332.6,151.4 L1331.6,150.4Z" fill="#1f8bd0" stroke="#06203a" stroke-width="0.99"/>
<path d="M1357.7,135.4 L1355.9,134.3 L1353.6,133.6 L1351.1,133.2 L1348.3,133.2 L1345.6,133.5 L1343.0,134.3 L1340.7,135.3 L1338.9,136.6 L1337.5,138.1 L1336.9,139.7 L1336.8,141.3 L1337.5,142.8 L1338.7,144.1 L1340.5,145.2 L1342.8,145.9 L1345.3,146.3 L1348.1,146.4 L1350.8,146.0 L1353.4,145.2 L1355.7,144.2 L1357.5,142.9 L1358.9,141.4 L1359.5,139.8 L1359.6,138.2 L1358.9,136.7 L1357.7,135.4Z" fill="#1f8bd0" stroke="#06203a" stroke-width="0.99"/>
<path d="M1346.3,146.7 L1348.5,146.7 L1350.7,146.3 L1352.8,145.7 L1354.6,144.9 L1356.1,143.9 L1357.2,142.7 L1357.9,141.4 L1358.1,140.1 L1357.7,138.9 L1356.9,137.8 L1355.7,136.8 L1354.1,136.1 L1352.2,135.6 L1350.1,135.3" fill="none" stroke="#06203a" stroke-width="0.88"/>
<path d="M1355.3,139.5 L1354.0,138.7 L1352.3,138.2 L1350.3,137.9 L1348.3,137.9 L1346.2,138.2 L1344.3,138.7 L1342.6,139.5 L1341.2,140.5 L1340.2,141.6 L1339.7,142.8 L1339.7,144.0 L1340.1,145.1 L1341.1,146.1 L1342.4,146.9 L1344.1,147.5 L1346.1,147.8 L1348.1,147.8 L1350.2,147.5 L1352.1,146.9 L1353.8,146.1 L1355.2,145.2 L1356.2,144.0 L1356.7,142.9 L1356.7,141.7 L1356.3,140.5 L1355.3,139.5Z" fill="#1f8bd0" stroke="#06203a" stroke-width="0.99"/>
<path d="M1381.4,124.5 L1379.6,123.4 L1377.3,122.7 L1374.8,122.3 L1372.0,122.3 L1369.3,122.6 L1366.7,123.4 L1364.4,124.4 L1362.6,125.7 L1361.2,127.2 L1360.6,128.8 L1360.5,130.4 L1361.2,131.9 L1362.4,133.2 L1364.2,134.3 L1366.5,135.0 L1369.0,135.4 L1371.8,135.5 L1374.5,135.1 L1377.1,134.3 L1379.4,133.3 L1381.2,132.0 L1382.6,130.5 L1383.2,128.9 L1383.3,127.3 L1382.6,125.8 L1381.4,124.5Z" fill="#1f8bd0" stroke="#06203a" stroke-width="0.99"/>
<path d="M1370.0,135.8 L1372.2,135.8 L1374.4,135.4 L1376.5,134.8 L1378.3,134.0 L1379.8,133.0 L1380.9,131.8 L1381.6,130.5 L1381.8,129.2 L1381.4,128.0 L1380.6,126.9 L1379.4,125.9 L1377.8,125.2 L1375.9,124.7 L1373.8,124.4" fill="none" stroke="#06203a" stroke-width="0.88"/>
<path d="M1379.0,128.6 L1377.7,127.8 L1376.0,127.3 L1374.0,127.0 L1372.0,127.0 L1369.9,127.3 L1368.0,127.8 L1366.3,128.6 L1364.9,129.6 L1363.9,130.7 L1363.4,131.9 L1363.4,133.1 L1363.8,134.2 L1364.8,135.2 L1366.1,136.0 L1367.8,136.6 L1369.8,136.9 L1371.8,136.9 L1373.9,136.6 L1375.8,136.0 L1377.5,135.2 L1378.9,134.3 L1379.9,133.1 L1380.4,132.0 L1380.4,130.8 L1380.0,129.6 L1379.0,128.6Z" fill="#1f8bd0" stroke="#06203a" stroke-width="0.99"/>
<path d="M1405.1,113.6 L1403.3,112.5 L1401.0,111.8 L1398.5,111.4 L1395.7,111.4 L1393.0,111.7 L1390.4,112.5 L1388.1,113.5 L1386.3,114.8 L1384.9,116.3 L1384.3,117.9 L1384.2,119.5 L1384.9,121.0 L1386.1,122.3 L1387.9,123.4 L1390.2,124.1 L1392.7,124.5 L1395.5,124.6 L1398.2,124.2 L1400.8,123.4 L1403.1,122.4 L1404.9,121.1 L1406.3,119.6 L1406.9,118.0 L1407.0,116.4 L1406.3,114.9 L1405.1,113.6Z" fill="#1f8bd0" stroke="#06203a" stroke-width="0.99"/>
<path d="M1393.7,124.9 L1395.9,124.9 L1398.1,124.5 L1400.2,123.9 L1402.0,123.1 L1403.5,122.1 L1404.6,120.9 L1405.3,119.6 L1405.5,118.3 L1405.1,117.1 L1404.3,116.0 L1403.1,115.0 L1401.5,114.3 L1399.6,113.8 L1397.5,113.5" fill="none" stroke="#06203a" stroke-width="0.88"/>
<path d="M1402.7,117.7 L1401.4,116.9 L1399.7,116.4 L1397.7,116.1 L1395.7,116.1 L1393.6,116.4 L1391.7,116.9 L1390.0,117.7 L1388.6,118.7 L1387.6,119.8 L1387.1,121.0 L1387.1,122.2 L1387.5,123.3 L1388.5,124.3 L1389.8,125.1 L1391.5,125.7 L1393.5,126.0 L1395.5,126.0 L1397.6,125.7 L1399.5,125.1 L1401.2,124.3 L1402.6,123.4 L1403.6,122.2 L1404.1,121.1 L1404.1,119.9 L1403.7,118.7 L1402.7,117.7Z" fill="#1f8bd0" stroke="#06203a" stroke-width="0.99"/>
<path d="M263.5,682.5 L263.6,680.5 L264.1,678.9 L264.9,677.7 L265.9,677.1 L268.7,675.8 L269.9,675.7 L271.2,676.2 L272.6,677.3 L273.9,678.8 L275.1,680.7 L276.1,683.0 L276.9,685.3 L277.3,687.7 L277.5,690.0 L277.3,692.0 L276.9,693.6 L276.1,694.8 L275.1,695.4 L272.2,696.7 L271.0,696.8 L269.7,696.3 L268.4,695.2 L267.1,693.7 L265.9,691.8 L264.9,689.5 L264.1,687.2 L263.6,684.8Z" fill="#0b1016" stroke="#f2f2f2" stroke-width="0.9"/>
<path d="M274.7,691.3 L274.5,689.0 L274.0,686.6 L273.2,684.3 L272.2,682.0 L271.0,680.1 L269.7,678.6 L268.4,677.5 L267.1,677.0 L265.9,677.1 L264.9,677.7 L264.1,678.9 L263.6,680.5 L263.5,682.5 L263.6,684.8 L264.1,687.2 L264.9,689.6 L265.9,691.8 L267.1,693.7 L268.4,695.2 L269.7,696.3 L271.0,696.8 L272.2,696.7 L273.2,696.1 L274.0,694.9 L274.5,693.3 L274.7,691.3Z" fill="#0b1016" stroke="#f2f2f2" stroke-width="0.9"/>
<path d="M244.9,691.9 L245.0,690.1 L245.5,688.6 L246.2,687.6 L247.0,687.0 L266.2,678.2 L267.3,678.1 L268.5,678.6 L269.6,679.5 L270.8,680.9 L271.9,682.6 L272.8,684.6 L273.4,686.7 L273.9,688.8 L274.0,690.8 L273.9,692.6 L273.4,694.0 L272.8,695.0 L271.9,695.6 L252.7,704.4 L251.6,704.5 L250.5,704.0 L249.3,703.1 L248.1,701.8 L247.0,700.0 L246.2,698.1 L245.5,696.0 L245.0,693.9Z" fill="#0b1016" stroke="#f2f2f2" stroke-width="0.9"/>
<path d="M254.8,699.6 L254.7,697.6 L254.3,695.5 L253.6,693.4 L252.7,691.4 L251.6,689.7 L250.5,688.4 L249.3,687.4 L248.1,687.0 L247.0,687.0 L246.1,687.6 L245.5,688.6 L245.0,690.1 L244.9,691.9 L245.0,693.9 L245.5,696.0 L246.1,698.1 L247.0,700.0 L248.1,701.8 L249.3,703.1 L250.5,704.1 L251.6,704.5 L252.7,704.4 L253.6,703.9 L254.3,702.8 L254.7,701.4 L254.8,699.6Z" fill="#0b1016" stroke="#f2f2f2" stroke-width="0.9"/>
<path d="M240.3,692.4 L240.5,690.1 L241.0,688.3 L241.9,687.0 L243.0,686.3 L246.3,684.8 L247.7,684.7 L249.1,685.3 L250.6,686.5 L252.1,688.2 L253.4,690.3 L254.5,692.8 L255.4,695.4 L255.9,698.1 L256.1,700.6 L255.9,702.9 L255.4,704.7 L254.5,706.0 L253.4,706.7 L250.1,708.2 L248.8,708.3 L247.3,707.7 L245.8,706.5 L244.3,704.8 L243.0,702.7 L241.9,700.2 L241.0,697.6 L240.5,694.9Z" fill="#0b1016" stroke="#f2f2f2" stroke-width="0.9"/>
<path d="M252.8,702.1 L252.6,699.6 L252.1,697.0 L251.2,694.3 L250.1,691.8 L248.8,689.7 L247.3,688.0 L245.8,686.8 L244.3,686.2 L243.0,686.3 L241.9,687.0 L241.0,688.3 L240.5,690.1 L240.3,692.4 L240.5,694.9 L241.0,697.6 L241.9,700.2 L243.0,702.7 L244.3,704.8 L245.8,706.5 L247.3,707.7 L248.8,708.3 L250.1,708.2 L251.2,707.5 L252.1,706.2 L252.6,704.4 L252.8,702.1Z" fill="#0b1016" stroke="#f2f2f2" stroke-width="0.9"/>
<path d="M222.4,702.2 L222.5,700.4 L222.9,699.0 L223.6,698.0 L224.5,697.4 L243.7,688.6 L244.8,688.5 L245.9,689.0 L247.1,689.9 L248.3,691.2 L249.4,693.0 L250.2,694.9 L250.9,697.0 L251.4,699.1 L251.5,701.1 L251.4,702.9 L250.9,704.4 L250.2,705.4 L249.4,706.0 L230.2,714.8 L229.1,714.9 L227.9,714.4 L226.8,713.5 L225.6,712.1 L224.5,710.4 L223.6,708.4 L222.9,706.3 L222.5,704.2Z" fill="#0b1016" stroke="#f2f2f2" stroke-width="0.9"/>
<path d="M232.3,710.0 L232.2,708.0 L231.7,705.8 L231.1,703.8 L230.2,701.8 L229.1,700.1 L227.9,698.7 L226.7,697.8 L225.6,697.3 L224.5,697.4 L223.6,697.9 L223.0,699.0 L222.5,700.4 L222.4,702.2 L222.5,704.2 L223.0,706.3 L223.6,708.4 L224.5,710.4 L225.6,712.1 L226.7,713.5 L227.9,714.4 L229.1,714.9 L230.2,714.8 L231.1,714.2 L231.7,713.2 L232.2,711.7 L232.3,710.0Z" fill="#0b1016" stroke="#f2f2f2" stroke-width="0.9"/>
<path d="M218.9,703.0 L219.1,701.0 L219.5,699.4 L220.3,698.2 L221.3,697.6 L224.2,696.3 L225.4,696.2 L226.7,696.7 L228.0,697.8 L229.3,699.3 L230.5,701.2 L231.5,703.5 L232.3,705.8 L232.8,708.2 L232.9,710.5 L232.8,712.5 L232.3,714.1 L231.5,715.3 L230.5,715.9 L227.7,717.2 L226.5,717.3 L225.2,716.8 L223.8,715.7 L222.5,714.2 L221.3,712.3 L220.3,710.0 L219.5,707.7 L219.1,705.3Z" fill="#0b1016" stroke="#f2f2f2" stroke-width="0.9"/>
<path d="M230.1,711.8 L229.9,709.5 L229.5,707.1 L228.7,704.8 L227.7,702.5 L226.5,700.6 L225.2,699.1 L223.8,698.0 L222.5,697.5 L221.3,697.6 L220.3,698.2 L219.5,699.4 L219.1,701.0 L218.9,703.0 L219.1,705.3 L219.5,707.7 L220.3,710.0 L221.3,712.3 L222.5,714.2 L223.8,715.7 L225.2,716.8 L226.5,717.3 L227.7,717.2 L228.7,716.6 L229.5,715.4 L229.9,713.8 L230.1,711.8Z" fill="#0b1016" stroke="#f2f2f2" stroke-width="0.9"/>
<path d="M228.2,710.3 L228.1,708.8 L227.8,707.2 L227.3,705.7 L226.6,704.2 L225.8,702.9 L224.9,701.9 L224.1,701.2 L223.2,700.9 L222.4,700.9 L221.7,701.4 L221.2,702.1 L220.9,703.2 L220.8,704.5 L220.9,706.0 L221.2,707.6 L221.7,709.1 L222.4,710.6 L223.2,711.9 L224.1,712.9 L224.9,713.6 L225.8,713.9 L226.6,713.9 L227.3,713.4 L227.8,712.7 L228.1,711.6 L228.2,710.3Z" fill="#0b1016" stroke="#f2f2f2" stroke-width="0.9"/>
<path d="M242.5,705.3 L233.3,709.5" fill="none" stroke="#f2f2f2" stroke-width="1.17"/>
<path d="M241.4,699.6 L232.2,703.8" fill="none" stroke="#f2f2f2" stroke-width="1.17"/>
<path d="M238.7,694.7 L229.5,698.9" fill="none" stroke="#f2f2f2" stroke-width="1.17"/>
<path d="M263.8,695.5 L273.1,691.2" fill="none" stroke="#f2f2f2" stroke-width="1.17"/>
<path d="M262.8,689.8 L272.0,685.5" fill="none" stroke="#f2f2f2" stroke-width="1.17"/>
<path d="M260.1,684.9 L269.3,680.6" fill="none" stroke="#f2f2f2" stroke-width="1.17"/>
<path d="M246.0,702.5 L250.7,700.3" fill="none" stroke="#f2f2f2" stroke-width="0.9"/>
<path d="M255.5,698.1 L260.2,696.0" fill="none" stroke="#f2f2f2" stroke-width="0.9"/>
<path d="M243.7,695.1 L248.5,692.9" fill="none" stroke="#f2f2f2" stroke-width="0.9"/>
<path d="M253.2,690.8 L257.9,688.6" fill="none" stroke="#f2f2f2" stroke-width="0.9"/>
<path d="M366.1,671.7 L366.2,669.7 L366.7,668.1 L367.5,666.9 L368.5,666.3 L371.4,665.0 L372.5,664.9 L373.9,665.4 L375.2,666.5 L376.5,668.0 L377.7,669.9 L378.7,672.1 L379.5,674.5 L380.0,676.9 L380.1,679.2 L380.0,681.2 L379.5,682.8 L378.7,684.0 L377.7,684.6 L374.9,685.9 L373.7,686.0 L372.4,685.5 L371.0,684.4 L369.7,682.9 L368.5,681.0 L367.5,678.7 L366.7,676.4 L366.2,674.0Z" fill="#a2a5a8" stroke="#2a2d30" stroke-width="0.9"/>
<path d="M377.3,680.5 L377.1,678.2 L376.6,675.8 L375.9,673.5 L374.9,671.2 L373.7,669.3 L372.4,667.8 L371.0,666.7 L369.7,666.2 L368.5,666.3 L367.5,666.9 L366.7,668.1 L366.2,669.7 L366.1,671.7 L366.2,674.0 L366.7,676.4 L367.5,678.7 L368.5,681.0 L369.7,682.9 L371.0,684.4 L372.4,685.5 L373.7,686.0 L374.9,685.9 L375.9,685.3 L376.6,684.1 L377.1,682.5 L377.3,680.5Z" fill="#a2a5a8" stroke="#2a2d30" stroke-width="0.9"/>
<path d="M326.4,690.8 L326.6,689.0 L327.0,687.5 L327.7,686.5 L328.6,685.9 L368.9,667.4 L369.9,667.3 L371.1,667.8 L372.3,668.7 L373.4,670.1 L374.5,671.8 L375.4,673.8 L376.1,675.9 L376.5,678.0 L376.6,680.0 L376.5,681.8 L376.1,683.2 L375.4,684.2 L374.5,684.8 L334.2,703.3 L333.1,703.4 L332.0,702.9 L330.8,702.0 L329.6,700.6 L328.6,698.9 L327.7,697.0 L327.0,694.9 L326.6,692.8Z" fill="#a2a5a8" stroke="#2a2d30" stroke-width="0.9"/>
<path d="M336.4,698.5 L336.2,696.5 L335.8,694.4 L335.1,692.3 L334.2,690.3 L333.2,688.6 L332.0,687.2 L330.8,686.3 L329.6,685.9 L328.6,685.9 L327.7,686.5 L327.0,687.5 L326.6,689.0 L326.4,690.8 L326.6,692.8 L327.0,694.9 L327.7,697.0 L328.6,698.9 L329.6,700.6 L330.8,702.0 L332.0,702.9 L333.2,703.4 L334.2,703.3 L335.1,702.8 L335.8,701.7 L336.2,700.3 L336.4,698.5Z" fill="#a2a5a8" stroke="#2a2d30" stroke-width="0.9"/>
<path d="M321.0,691.2 L321.2,688.9 L321.8,687.0 L322.7,685.6 L323.9,684.9 L327.7,683.1 L329.1,683.0 L330.6,683.6 L332.2,684.9 L333.7,686.7 L335.1,688.9 L336.3,691.5 L337.2,694.3 L337.8,697.1 L338.0,699.8 L337.8,702.1 L337.2,704.0 L336.3,705.4 L335.1,706.1 L331.3,707.9 L329.9,708.0 L328.4,707.4 L326.8,706.1 L325.3,704.3 L323.9,702.1 L322.7,699.5 L321.8,696.7 L321.2,693.9Z" fill="#a2a5a8" stroke="#2a2d30" stroke-width="0.9"/>
<path d="M334.2,701.5 L334.0,698.8 L333.4,696.1 L332.5,693.3 L331.3,690.7 L329.9,688.4 L328.4,686.6 L326.8,685.4 L325.3,684.8 L323.9,684.9 L322.7,685.6 L321.8,687.0 L321.2,688.9 L321.0,691.2 L321.2,693.9 L321.8,696.7 L322.7,699.5 L323.9,702.1 L325.3,704.3 L326.8,706.1 L328.4,707.4 L329.9,708.0 L331.3,707.9 L332.5,707.1 L333.4,705.8 L334.0,703.9 L334.2,701.5Z" fill="#a2a5a8" stroke="#2a2d30" stroke-width="0.9"/><path d="M340.3,695.5 L353.4,689.5" fill="none" stroke="#2a2d30" stroke-width="0.9"/><path d="M338.4,688.8 L351.4,682.8" fill="none" stroke="#2a2d30" stroke-width="0.9"/><path d="M360.5,686.2 L374.7,679.7" fill="none" stroke="#2a2d30" stroke-width="0.9"/><path d="M358.6,679.5 L372.8,673.0" fill="none" stroke="#2a2d30" stroke-width="0.9"/><path d="M294.4,703.8 L297.1,701.5 L326.0,688.2 L329.2,690.7 L331.9,697.2 L331.9,702.3 L329.2,704.5 L300.3,717.8 L297.1,715.3 L294.4,708.8Z" fill="#a2a5a8" stroke="#2a2d30" stroke-width="0.9"/><path d="M297.1,701.5 L326.0,688.2" fill="none" stroke="#2a2d30" stroke-width="0.81"/><path d="M300.3,704.0 L329.2,690.7" fill="none" stroke="#2a2d30" stroke-width="0.81"/><path d="M300.3,708.4 L329.2,695.1" fill="none" stroke="#2a2d30" stroke-width="0.81"/><path d="M303.0,710.5 L331.9,697.2" fill="none" stroke="#2a2d30" stroke-width="0.81"/><path d="M303.0,715.6 L331.9,702.3" fill="none" stroke="#2a2d30" stroke-width="0.81"/><path d="M297.1,701.5 L300.3,704.0 L300.3,708.4 L303.0,710.5 L303.0,715.6 L300.3,713.5 L300.3,717.8 L297.1,715.3 L297.1,711.0 L294.4,708.8 L294.4,703.7 L297.1,705.9Z" fill="#a2a5a8" stroke="#2a2d30" stroke-width="0.81"/>
<path d="M394.5,673.7 L394.8,671.0 L395.4,668.8 L396.4,667.2 L397.8,666.4 L421.5,655.5 L423.1,655.4 L424.8,656.0 L426.7,657.5 L428.4,659.5 L430.0,662.1 L431.4,665.1 L432.4,668.3 L433.1,671.5 L433.3,674.5 L433.0,700.7 L432.7,703.7 L431.8,706.9 L430.2,710.0 L428.2,712.8 L425.9,715.2 L423.2,717.1 L420.6,718.4 L417.9,718.9 L415.6,718.6 L413.6,717.6 L397.6,705.1 L396.0,703.5 L395.1,701.2 L394.8,698.5Z" fill="#fff" stroke="#111" stroke-width="1"/><path d="M394.5,673.7 L394.8,671.0 L395.4,668.8 L396.4,667.2 L397.8,666.4 L421.5,655.5 L423.1,655.4 L424.8,656.0 L426.7,657.5 L428.4,659.5 L430.0,662.1 L431.4,665.1 L432.4,668.3 L433.1,671.5 L433.3,674.5 L433.1,677.2 L432.4,679.4 L431.4,681.0 L430.0,681.9 L406.3,692.8 L404.7,692.8 L403.0,692.2 L401.1,690.7 L399.4,688.7 L397.8,686.1 L396.4,683.1 L395.4,679.9 L394.8,676.7Z" fill="#fff" stroke="#111" stroke-width="1"/><path d="M409.6,685.4 L409.4,682.4 L408.7,679.2 L407.7,676.0 L406.3,673.0 L404.7,670.4 L403.0,668.4 L401.1,666.9 L399.4,666.3 L397.8,666.3 L396.4,667.2 L395.4,668.8 L394.7,671.0 L394.5,673.7 L394.7,676.7 L395.4,679.9 L396.4,683.1 L397.8,686.1 L399.4,688.7 L401.1,690.7 L403.0,692.2 L404.7,692.8 L406.3,692.8 L407.7,691.9 L408.7,690.3 L409.4,688.1 L409.6,685.4Z" fill="#fff" stroke="#111" stroke-width="1"/><path d="M408.0,684.2 L407.8,681.8 L407.3,679.3 L406.5,676.8 L405.4,674.4 L404.1,672.4 L402.8,670.7 L401.3,669.6 L400.0,669.1 L398.7,669.2 L397.6,669.8 L396.8,671.1 L396.3,672.8 L396.1,674.9 L396.3,677.3 L396.8,679.8 L397.6,682.3 L398.7,684.7 L400.0,686.7 L401.3,688.4 L402.8,689.5 L404.1,690.0 L405.4,689.9 L406.5,689.3 L407.3,688.0 L407.8,686.3 L408.0,684.2Z" fill="#fff" stroke="#111" stroke-width="0.8"/><path d="M400.6,671.5 L403.5,673.8 L403.5,678.4 L406.4,680.6 L406.4,685.2 L403.5,683.0 L403.5,687.6 L400.6,685.3 L400.6,680.7 L397.7,678.5 L397.7,673.9 L400.6,676.1Z" fill="#fff" stroke="#111" stroke-width="0.9"/><path d="M394.8,698.5 L395.1,695.5 L396.0,692.3 L397.6,689.2 L399.6,686.4 L401.9,684.0 L404.6,682.1 L407.2,680.8 L409.9,680.3 L412.2,680.6 L414.2,681.6 L430.2,694.1 L431.8,695.7 L432.7,698.0 L433.0,700.7 L432.7,703.7 L431.8,706.9 L430.2,710.0 L428.2,712.8 L425.9,715.2 L423.2,717.1 L420.6,718.4 L417.9,718.9 L415.6,718.6 L413.6,717.6 L397.6,705.1 L396.0,703.5 L395.1,701.2Z" fill="#fff" stroke="#111" stroke-width="1"/><path d="M433.0,700.7 L432.7,698.0 L431.8,695.7 L430.2,694.1 L428.2,693.1 L425.8,692.8 L423.2,693.3 L420.6,694.6 L418.0,696.5 L415.6,698.9 L413.6,701.7 L412.0,704.8 L411.1,708.0 L410.8,711.0 L411.1,713.7 L412.0,716.0 L413.6,717.6 L415.6,718.6 L418.0,718.9 L420.6,718.4 L423.2,717.1 L425.8,715.2 L428.2,712.8 L430.2,710.0 L431.8,706.9 L432.7,703.7 L433.0,700.7Z" fill="#fff" stroke="#111" stroke-width="1"/><path d="M430.4,701.9 L430.2,699.8 L429.5,698.1 L428.3,696.8 L426.7,696.1 L424.9,695.9 L422.9,696.3 L420.9,697.2 L418.9,698.7 L417.1,700.5 L415.5,702.7 L414.3,705.1 L413.6,707.5 L413.4,709.8 L413.6,711.9 L414.3,713.6 L415.5,714.9 L417.1,715.6 L418.9,715.8 L420.9,715.4 L422.9,714.5 L424.9,713.0 L426.7,711.2 L428.3,709.0 L429.5,706.6 L430.2,704.2 L430.4,701.9Z" fill="#fff" stroke="#111" stroke-width="1"/><path d="M427.6,701.2 L427.4,699.4 L426.8,697.9 L425.8,696.8 L424.5,696.2 L422.9,696.0 L421.2,696.3 L419.4,697.2 L417.7,698.4 L416.1,700.0 L414.8,701.9 L413.8,703.9 L413.2,706.0 L413.0,708.0 L413.2,709.8 L413.8,711.3 L414.8,712.4 L416.1,713.0 L417.7,713.2 L419.4,712.9 L421.2,712.0 L422.9,710.8 L424.5,709.2 L425.8,707.3 L426.8,705.3 L427.4,703.2 L427.6,701.2Z" fill="#fff" stroke="#111" stroke-width="0.7"/>
<path d="M473.2,689.3 L475.6,687.3 L506.4,673.1 L509.4,675.4 L511.9,681.3 L511.9,686.0 L509.4,688.0 L478.6,702.2 L475.6,699.9 L473.2,694.0Z" fill="#fff" stroke="#111" stroke-width="1"/><path d="M475.6,687.3 L506.4,673.1" fill="none" stroke="#111" stroke-width="0.9"/><path d="M478.6,689.6 L509.4,675.4" fill="none" stroke="#111" stroke-width="0.9"/><path d="M478.6,693.5 L509.4,679.3" fill="none" stroke="#111" stroke-width="0.9"/><path d="M481.1,695.4 L511.9,681.3" fill="none" stroke="#111" stroke-width="0.9"/><path d="M481.1,700.2 L511.9,686.0" fill="none" stroke="#111" stroke-width="0.9"/><path d="M475.6,687.3 L478.6,689.6 L478.6,693.5 L481.1,695.4 L481.1,700.2 L478.6,698.3 L478.6,702.2 L475.6,699.8 L475.6,695.9 L473.2,694.0 L473.2,689.3 L475.6,691.2Z" fill="#fff" stroke="#111" stroke-width="0.9"/><path d="M450.9,696.9 L451.2,693.9 L452.1,690.7 L453.7,687.6 L455.7,684.8 L458.1,682.4 L460.7,680.5 L463.3,679.2 L465.9,678.7 L468.3,679.0 L470.3,680.0 L486.3,692.5 L487.9,694.1 L488.8,696.4 L489.1,699.1 L488.8,702.1 L487.9,705.3 L486.3,708.4 L484.3,711.2 L481.9,713.6 L479.3,715.5 L476.7,716.8 L474.1,717.3 L471.7,717.0 L469.7,716.0 L453.7,703.5 L452.1,701.9 L451.2,699.6Z" fill="#fff" stroke="#111" stroke-width="1"/><path d="M489.1,699.1 L488.8,696.4 L487.9,694.1 L486.3,692.5 L484.3,691.5 L481.9,691.2 L479.3,691.7 L476.7,693.0 L474.1,694.9 L471.7,697.3 L469.7,700.1 L468.1,703.2 L467.2,706.4 L466.9,709.4 L467.2,712.1 L468.1,714.4 L469.7,716.0 L471.7,717.0 L474.1,717.3 L476.7,716.8 L479.3,715.5 L481.9,713.6 L484.3,711.2 L486.3,708.4 L487.9,705.3 L488.8,702.1 L489.1,699.1Z" fill="#fff" stroke="#111" stroke-width="1"/><path d="M486.5,700.3 L486.3,698.2 L485.6,696.5 L484.4,695.2 L482.8,694.5 L481.0,694.3 L479.0,694.7 L477.0,695.6 L475.0,697.1 L473.2,698.9 L471.6,701.1 L470.4,703.5 L469.7,705.9 L469.5,708.2 L469.7,710.3 L470.4,712.0 L471.6,713.3 L473.2,714.0 L475.0,714.2 L477.0,713.8 L479.0,712.9 L481.0,711.4 L482.8,709.6 L484.4,707.4 L485.6,705.0 L486.3,702.6 L486.5,700.3Z" fill="#fff" stroke="#111" stroke-width="1"/><path d="M483.7,699.6 L483.5,697.8 L482.9,696.3 L481.9,695.2 L480.6,694.6 L479.0,694.4 L477.3,694.7 L475.5,695.6 L473.8,696.8 L472.2,698.4 L470.9,700.3 L469.9,702.3 L469.3,704.4 L469.1,706.4 L469.3,708.2 L469.9,709.7 L470.9,710.8 L472.2,711.4 L473.8,711.6 L475.5,711.3 L477.3,710.4 L479.0,709.2 L480.6,707.6 L481.9,705.7 L482.9,703.7 L483.5,701.6 L483.7,699.6Z" fill="#fff" stroke="#111" stroke-width="0.7"/>
<path d="M574.9,678.2 L575.0,676.6 L575.4,675.3 L576.0,674.3 L576.9,673.8 L579.7,672.5 L580.7,672.5 L581.7,672.9 L582.8,673.7 L583.8,674.9 L584.8,676.5 L585.6,678.3 L586.2,680.2 L586.6,682.1 L586.7,683.9 L586.6,685.5 L586.2,686.8 L585.6,687.7 L584.8,688.2 L582.0,689.5 L581.0,689.6 L579.9,689.2 L578.9,688.4 L577.8,687.1 L576.9,685.6 L576.0,683.8 L575.4,681.9 L575.0,680.0Z" fill="#fff" stroke="#111" stroke-width="1"/><path d="M583.9,685.2 L583.8,683.4 L583.4,681.5 L582.8,679.6 L581.9,677.8 L581.0,676.3 L579.9,675.0 L578.9,674.2 L577.8,673.8 L576.9,673.8 L576.0,674.3 L575.4,675.3 L575.1,676.6 L574.9,678.2 L575.1,680.0 L575.4,681.9 L576.0,683.8 L576.9,685.6 L577.8,687.1 L578.9,688.4 L579.9,689.2 L581.0,689.6 L581.9,689.6 L582.8,689.0 L583.4,688.1 L583.8,686.8 L583.9,685.2Z" fill="#fff" stroke="#111" stroke-width="1"/><path d="M547.9,691.2 L548.1,689.8 L548.4,688.6 L548.9,687.8 L549.7,687.4 L577.1,674.7 L578.0,674.7 L578.9,675.0 L579.9,675.8 L580.8,676.9 L581.7,678.2 L582.4,679.8 L582.9,681.5 L583.2,683.2 L583.4,684.8 L583.2,686.2 L582.9,687.4 L582.4,688.2 L581.7,688.6 L554.2,701.3 L553.3,701.3 L552.4,701.0 L551.4,700.2 L550.5,699.1 L549.7,697.8 L548.9,696.2 L548.4,694.5 L548.1,692.8Z" fill="#fff" stroke="#111" stroke-width="1"/><path d="M555.9,697.4 L555.8,695.8 L555.4,694.1 L554.9,692.5 L554.2,690.9 L553.3,689.5 L552.4,688.4 L551.4,687.7 L550.5,687.3 L549.7,687.4 L548.9,687.8 L548.4,688.6 L548.1,689.8 L547.9,691.2 L548.1,692.8 L548.4,694.5 L548.9,696.2 L549.7,697.8 L550.5,699.1 L551.4,700.2 L552.4,701.0 L553.3,701.3 L554.2,701.3 L554.9,700.8 L555.4,700.0 L555.8,698.9 L555.9,697.4Z" fill="#fff" stroke="#111" stroke-width="1"/><path d="M572.0,689.1 L581.4,684.7" fill="none" stroke="#111" stroke-width="1"/><path d="M570.4,683.7 L579.9,679.4" fill="none" stroke="#111" stroke-width="1"/><path d="M531.4,686.7 L531.5,684.8 L532.3,682.9 L533.8,681.2 L536.0,679.6 L538.7,678.4 L541.7,677.5 L544.9,677.1 L548.1,677.1 L551.2,677.6 L553.8,678.5 L555.9,679.7 L557.4,681.3 L558.2,683.0 L558.2,708.5 L558.1,710.4 L557.3,712.3 L555.8,714.0 L553.6,715.6 L550.9,716.8 L547.9,717.7 L544.7,718.1 L541.5,718.1 L538.4,717.6 L535.8,716.7 L533.7,715.5 L532.2,713.9 L531.4,712.2Z" fill="#fff" stroke="#111" stroke-width="1"/><path d="M555.9,679.7 L557.4,681.3 L558.2,683.0 L558.1,684.9 L557.3,686.8 L555.8,688.5 L553.6,690.1 L550.9,691.3 L547.9,692.2 L544.7,692.6 L541.4,692.6 L538.4,692.1 L535.8,691.2 L533.7,690.0 L532.2,688.4 L531.4,686.7 L531.5,684.8 L532.3,682.9 L533.8,681.2 L536.0,679.6 L538.7,678.4 L541.7,677.5 L544.9,677.1 L548.2,677.1 L551.2,677.6 L553.8,678.5 L555.9,679.7Z" fill="#fff" stroke="#111" stroke-width="1"/><path d="M553.3,680.9 L554.5,682.1 L555.0,683.5 L555.0,684.9 L554.4,686.3 L553.2,687.7 L551.5,688.8 L549.5,689.8 L547.2,690.4 L544.7,690.8 L542.2,690.8 L539.9,690.4 L537.9,689.7 L536.3,688.8 L535.1,687.6 L534.6,686.2 L534.6,684.8 L535.2,683.4 L536.4,682.0 L538.1,680.9 L540.1,679.9 L542.4,679.3 L544.9,678.9 L547.4,678.9 L549.7,679.3 L551.7,680.0 L553.3,680.9Z" fill="#fff" stroke="#111" stroke-width="1"/><path d="M552.1,684.0 L553.1,685.0 L553.6,686.2 L553.6,687.4 L553.1,688.7 L552.0,689.8 L550.6,690.8 L548.8,691.7 L546.8,692.2 L544.7,692.5 L542.6,692.5 L540.6,692.2 L538.9,691.6 L537.5,690.8 L536.5,689.8 L536.0,688.6 L536.0,687.4 L536.5,686.1 L537.6,685.0 L539.0,684.0 L540.8,683.1 L542.8,682.6 L544.9,682.3 L547.0,682.3 L549.0,682.6 L550.7,683.2 L552.1,684.0Z" fill="#fff" stroke="#111" stroke-width="0.7"/>
<path d="M673.5,672.9 L673.6,670.9 L674.1,669.3 L674.9,668.1 L675.9,667.5 L678.7,666.2 L679.9,666.1 L681.2,666.6 L682.6,667.7 L683.9,669.2 L685.1,671.1 L686.1,673.4 L686.9,675.7 L687.3,678.1 L687.5,680.4 L687.3,682.4 L686.9,684.0 L686.1,685.2 L685.1,685.8 L682.2,687.1 L681.0,687.2 L679.7,686.7 L678.4,685.6 L677.1,684.1 L675.9,682.2 L674.9,680.0 L674.1,677.6 L673.6,675.2Z" fill="#1b4aa0" stroke="#06153a" stroke-width="1"/>
<path d="M684.7,681.7 L684.5,679.4 L684.0,677.0 L683.2,674.7 L682.2,672.4 L681.0,670.5 L679.7,669.0 L678.4,667.9 L677.1,667.4 L675.9,667.5 L674.9,668.1 L674.1,669.3 L673.6,670.9 L673.5,672.9 L673.6,675.2 L674.1,677.6 L674.9,680.0 L675.9,682.2 L677.1,684.1 L678.4,685.6 L679.7,686.7 L681.0,687.2 L682.2,687.1 L683.2,686.5 L684.0,685.3 L684.5,683.7 L684.7,681.7Z" fill="#1b4aa0" stroke="#06153a" stroke-width="1"/>
<path d="M631.4,693.0 L631.6,691.3 L632.0,689.8 L632.7,688.8 L633.6,688.2 L676.2,668.6 L677.3,668.5 L678.5,669.0 L679.6,669.9 L680.8,671.3 L681.9,673.0 L682.8,675.0 L683.5,677.1 L683.9,679.2 L684.0,681.2 L683.9,683.0 L683.5,684.4 L682.8,685.5 L681.9,686.0 L639.2,705.6 L638.1,705.7 L637.0,705.2 L635.8,704.3 L634.6,703.0 L633.6,701.2 L632.7,699.3 L632.0,697.2 L631.6,695.1Z" fill="#1b4aa0" stroke="#06153a" stroke-width="1"/>
<path d="M641.4,700.8 L641.2,698.8 L640.8,696.7 L640.1,694.6 L639.2,692.6 L638.2,690.9 L637.0,689.5 L635.8,688.6 L634.6,688.2 L633.6,688.2 L632.7,688.8 L632.0,689.8 L631.6,691.3 L631.4,693.1 L631.6,695.1 L632.0,697.2 L632.7,699.3 L633.6,701.2 L634.6,702.9 L635.8,704.3 L637.0,705.2 L638.2,705.7 L639.2,705.6 L640.1,705.1 L640.8,704.0 L641.2,702.6 L641.4,700.8Z" fill="#1b4aa0" stroke="#06153a" stroke-width="1"/>
<path d="M626.0,693.5 L626.2,691.2 L626.8,689.3 L627.7,687.9 L628.9,687.2 L632.7,685.4 L634.1,685.3 L635.6,685.9 L637.2,687.2 L638.7,689.0 L640.1,691.2 L641.3,693.8 L642.2,696.6 L642.8,699.4 L643.0,702.0 L642.8,704.4 L642.2,706.3 L641.3,707.7 L640.1,708.4 L636.3,710.2 L634.9,710.3 L633.4,709.7 L631.8,708.4 L630.3,706.6 L628.9,704.4 L627.7,701.8 L626.8,699.0 L626.2,696.2Z" fill="#1b4aa0" stroke="#06153a" stroke-width="1"/>
<path d="M639.2,703.8 L639.0,701.1 L638.4,698.4 L637.5,695.6 L636.3,693.0 L634.9,690.7 L633.4,688.9 L631.8,687.7 L630.3,687.1 L628.9,687.2 L627.7,687.9 L626.8,689.3 L626.2,691.2 L626.0,693.5 L626.2,696.2 L626.8,699.0 L627.7,701.8 L628.9,704.4 L630.3,706.6 L631.8,708.4 L633.4,709.7 L634.9,710.3 L636.3,710.2 L637.5,709.4 L638.4,708.1 L639.0,706.2 L639.2,703.8Z" fill="#1b4aa0" stroke="#06153a" stroke-width="1"/>
<path d="M608.7,703.5 L608.8,701.7 L609.2,700.3 L609.9,699.2 L610.8,698.7 L629.8,690.0 L630.9,689.9 L632.0,690.4 L633.2,691.3 L634.4,692.6 L635.4,694.4 L636.3,696.3 L637.0,698.4 L637.4,700.5 L637.6,702.5 L637.4,704.3 L637.0,705.8 L636.3,706.8 L635.4,707.4 L616.5,716.1 L615.4,716.2 L614.2,715.7 L613.0,714.8 L611.9,713.4 L610.8,711.7 L609.9,709.7 L609.2,707.6 L608.8,705.5Z" fill="#1b4aa0" stroke="#06153a" stroke-width="1"/>
<path d="M618.6,711.3 L618.5,709.3 L618.0,707.1 L617.4,705.1 L616.5,703.1 L615.4,701.4 L614.2,700.0 L613.0,699.1 L611.9,698.6 L610.8,698.7 L609.9,699.2 L609.3,700.3 L608.8,701.7 L608.7,703.5 L608.8,705.5 L609.3,707.6 L609.9,709.7 L610.8,711.7 L611.9,713.4 L613.0,714.8 L614.2,715.7 L615.4,716.2 L616.5,716.1 L617.4,715.5 L618.0,714.5 L618.5,713.0 L618.6,711.3Z" fill="#1b4aa0" stroke="#06153a" stroke-width="1"/>
<path d="M605.2,704.3 L605.4,702.3 L605.8,700.7 L606.6,699.5 L607.6,698.9 L610.5,697.6 L611.7,697.5 L613.0,698.0 L614.3,699.1 L615.6,700.6 L616.8,702.5 L617.8,704.8 L618.6,707.1 L619.1,709.5 L619.2,711.8 L619.1,713.8 L618.6,715.4 L617.8,716.6 L616.8,717.2 L614.0,718.5 L612.8,718.6 L611.5,718.1 L610.1,717.0 L608.8,715.5 L607.6,713.6 L606.6,711.3 L605.8,709.0 L605.4,706.6Z" fill="#1b4aa0" stroke="#06153a" stroke-width="1"/>
<path d="M616.4,713.1 L616.2,710.8 L615.8,708.4 L615.0,706.1 L614.0,703.8 L612.8,701.9 L611.5,700.4 L610.1,699.3 L608.8,698.8 L607.6,698.9 L606.6,699.5 L605.8,700.7 L605.4,702.3 L605.2,704.3 L605.4,706.6 L605.8,709.0 L606.6,711.3 L607.6,713.6 L608.8,715.5 L610.1,717.0 L611.5,718.1 L612.8,718.6 L614.0,718.5 L615.0,717.9 L615.8,716.7 L616.2,715.1 L616.4,713.1Z" fill="#1b4aa0" stroke="#06153a" stroke-width="1"/><path d="M614.5,711.6 L614.4,710.1 L614.1,708.5 L613.6,707.0 L612.9,705.5 L612.1,704.2 L611.2,703.2 L610.4,702.5 L609.5,702.2 L608.7,702.2 L608.0,702.7 L607.5,703.4 L607.2,704.5 L607.1,705.8 L607.2,707.3 L607.5,708.9 L608.0,710.4 L608.7,711.9 L609.5,713.2 L610.4,714.2 L611.2,714.9 L612.1,715.2 L612.9,715.2 L613.6,714.7 L614.1,714.0 L614.4,712.9 L614.5,711.6Z" fill="#1b4aa0" stroke="#06153a" stroke-width="1"/><path d="M620.5,709.3 L628.7,705.4" fill="none" stroke="#06153a" stroke-width="1"/><path d="M618.5,702.5 L626.8,698.7" fill="none" stroke="#06153a" stroke-width="1"/><path d="M645.3,697.8 L658.4,691.8" fill="none" stroke="#06153a" stroke-width="1"/><path d="M643.4,691.1 L656.4,685.1" fill="none" stroke="#06153a" stroke-width="1"/><path d="M665.5,688.5 L680.9,681.5" fill="none" stroke="#06153a" stroke-width="1"/><path d="M663.6,681.8 L679.0,674.7" fill="none" stroke="#06153a" stroke-width="1"/>
<path d="M459.9,938.9 L460.1,936.3 L460.8,933.6 L461.8,931.0 L463.2,928.4 L464.9,926.0 L466.8,923.8 L468.9,922.1 L471.1,920.7 L695.1,808.7 L697.3,807.9 L699.4,807.5 L701.3,807.7 L703.0,808.4 L724.5,819.2 L725.9,820.4 L727.0,822.0 L727.6,824.1 L727.8,826.4 L727.6,829.0 L727.0,831.6 L725.9,834.3 L724.5,836.9 L722.8,839.3 L720.9,841.4 L718.8,843.2 L716.6,844.5 L492.6,956.5 L490.4,957.4 L488.3,957.7 L486.4,957.5 L484.7,956.8 L463.2,946.1 L461.8,944.9 L460.8,943.2 L460.1,941.2Z" fill="#6ab4de" stroke="#8092a0" stroke-width="1.15"/>
<path d="M492.6,931.5 L490.4,932.8 L488.3,934.6 L486.4,936.7 L484.7,939.1 L483.3,941.7 L482.3,944.4 L481.6,947.0 L481.4,949.6 L481.6,951.9 L482.3,954.0 L483.3,955.6 L484.7,956.8 L486.4,957.5 L488.3,957.7 L490.4,957.4 L492.6,956.5 L716.6,844.5 L718.8,843.2 L720.9,841.4 L722.8,839.3 L724.5,836.9 L725.9,834.3 L726.9,831.6 L727.6,829.0 L727.8,826.4 L727.6,824.1 L726.9,822.0 L725.9,820.4 L724.5,819.2 L722.8,818.5 L720.9,818.3 L718.8,818.6 L716.6,819.5Z" fill="#6ab4de" stroke="#8092a0" stroke-width="1.15"/>
<path d="M492.6,933.7 L490.8,934.8 L489.1,936.3 L487.5,938.0 L486.1,940.0 L485.0,942.1 L484.1,944.3 L483.6,946.5 L483.4,948.6 L483.6,950.5 L484.1,952.2 L485.0,953.5 L486.1,954.5 L487.5,955.1 L489.1,955.2 L490.8,955.0 L492.6,954.3 L716.6,842.3 L718.4,841.2 L720.1,839.7 L721.7,838.0 L723.1,836.0 L724.2,833.9 L725.1,831.7 L725.6,829.5 L725.8,827.4 L725.6,825.5 L725.1,823.8 L724.2,822.5 L723.1,821.5 L721.7,820.9 L720.1,820.8 L718.4,821.0 L716.6,821.7Z" fill="none" stroke="#8092a0" stroke-width="0.92"/>
<path d="M499.4,949.1 L500.4,947.4 L501.2,945.7 L501.9,944.0 L502.4,942.2 L502.7,940.5 L502.8,938.9 L502.7,937.4 L502.4,936.0 L501.9,934.7 L501.2,933.6 L500.4,932.8 L499.4,932.1" fill="none" stroke="#8092a0" stroke-width="0.92"/>
<path d="M508.2,927.7 L507.2,929.4 L506.4,931.1 L505.7,932.8 L505.2,934.6 L504.9,936.3 L504.8,937.9 L504.9,939.4 L505.2,940.8 L505.7,942.1 L506.4,943.2 L507.2,944.0 L508.2,944.7" fill="none" stroke="#8092a0" stroke-width="0.92"/>
<path d="M521.8,937.9 L522.8,936.2 L523.6,934.5 L524.3,932.8 L524.8,931.0 L525.1,929.3 L525.2,927.7 L525.1,926.2 L524.8,924.8 L524.3,923.5 L523.6,922.4 L522.8,921.6 L521.8,920.9" fill="none" stroke="#8092a0" stroke-width="0.92"/>
<path d="M530.6,916.5 L529.6,918.2 L528.8,919.9 L528.1,921.6 L527.6,923.4 L527.3,925.1 L527.2,926.7 L527.3,928.2 L527.6,929.6 L528.1,930.9 L528.8,932.0 L529.6,932.8 L530.6,933.5" fill="none" stroke="#8092a0" stroke-width="0.92"/>
<path d="M544.2,926.7 L545.2,925.0 L546.0,923.3 L546.7,921.6 L547.2,919.8 L547.5,918.1 L547.6,916.5 L547.5,915.0 L547.2,913.6 L546.7,912.3 L546.0,911.2 L545.2,910.4 L544.2,909.7" fill="none" stroke="#8092a0" stroke-width="0.92"/>
<path d="M553.0,905.3 L552.0,907.0 L551.2,908.7 L550.5,910.4 L550.0,912.2 L549.7,913.9 L549.6,915.5 L549.7,917.0 L550.0,918.4 L550.5,919.7 L551.2,920.8 L552.0,921.6 L553.0,922.3" fill="none" stroke="#8092a0" stroke-width="0.92"/>
<path d="M566.6,915.5 L567.6,913.8 L568.4,912.1 L569.1,910.4 L569.6,908.6 L569.9,906.9 L570.0,905.3 L569.9,903.8 L569.6,902.4 L569.1,901.1 L568.4,900.0 L567.6,899.2 L566.6,898.5" fill="none" stroke="#8092a0" stroke-width="0.92"/>
<path d="M575.4,894.1 L574.4,895.8 L573.6,897.5 L572.9,899.2 L572.4,901.0 L572.1,902.7 L572.0,904.3 L572.1,905.8 L572.4,907.2 L572.9,908.5 L573.6,909.6 L574.4,910.4 L575.4,911.1" fill="none" stroke="#8092a0" stroke-width="0.92"/>
<path d="M589.0,904.3 L590.0,902.6 L590.8,900.9 L591.5,899.2 L592.0,897.4 L592.3,895.7 L592.4,894.1 L592.3,892.6 L592.0,891.2 L591.5,889.9 L590.8,888.8 L590.0,888.0 L589.0,887.3" fill="none" stroke="#8092a0" stroke-width="0.92"/>
<path d="M597.8,882.9 L596.8,884.6 L596.0,886.3 L595.3,888.0 L594.8,889.8 L594.5,891.5 L594.4,893.1 L594.5,894.6 L594.8,896.0 L595.3,897.3 L596.0,898.4 L596.8,899.2 L597.8,899.9" fill="none" stroke="#8092a0" stroke-width="0.92"/>
<path d="M611.4,893.1 L612.4,891.4 L613.2,889.7 L613.9,888.0 L614.4,886.2 L614.7,884.5 L614.8,882.9 L614.7,881.4 L614.4,880.0 L613.9,878.7 L613.2,877.6 L612.4,876.8 L611.4,876.1" fill="none" stroke="#8092a0" stroke-width="0.92"/>
<path d="M620.2,871.7 L619.2,873.4 L618.4,875.1 L617.7,876.8 L617.2,878.6 L616.9,880.3 L616.8,881.9 L616.9,883.4 L617.2,884.8 L617.7,886.1 L618.4,887.2 L619.2,888.0 L620.2,888.7" fill="none" stroke="#8092a0" stroke-width="0.92"/>
<path d="M633.8,881.9 L634.8,880.2 L635.6,878.5 L636.3,876.8 L636.8,875.0 L637.1,873.3 L637.2,871.7 L637.1,870.2 L636.8,868.8 L636.3,867.5 L635.6,866.4 L634.8,865.6 L633.8,864.9" fill="none" stroke="#8092a0" stroke-width="0.92"/>
<path d="M642.6,860.5 L641.6,862.2 L640.8,863.9 L640.1,865.6 L639.6,867.4 L639.3,869.1 L639.2,870.7 L639.3,872.2 L639.6,873.6 L640.1,874.9 L640.8,876.0 L641.6,876.8 L642.6,877.5" fill="none" stroke="#8092a0" stroke-width="0.92"/>
<path d="M656.2,870.7 L657.2,869.0 L658.0,867.3 L658.7,865.6 L659.2,863.8 L659.5,862.1 L659.6,860.5 L659.5,859.0 L659.2,857.6 L658.7,856.3 L658.0,855.2 L657.2,854.4 L656.2,853.7" fill="none" stroke="#8092a0" stroke-width="0.92"/>
<path d="M665.0,849.3 L664.0,851.0 L663.2,852.7 L662.5,854.4 L662.0,856.2 L661.7,857.9 L661.6,859.5 L661.7,861.0 L662.0,862.4 L662.5,863.7 L663.2,864.8 L664.0,865.6 L665.0,866.3" fill="none" stroke="#8092a0" stroke-width="0.92"/>
<path d="M678.6,859.5 L679.6,857.8 L680.4,856.1 L681.1,854.4 L681.6,852.6 L681.9,850.9 L682.0,849.3 L681.9,847.8 L681.6,846.4 L681.1,845.1 L680.4,844.0 L679.6,843.2 L678.6,842.5" fill="none" stroke="#8092a0" stroke-width="0.92"/>
<path d="M687.4,838.1 L686.4,839.8 L685.6,841.5 L684.9,843.2 L684.4,845.0 L684.1,846.7 L684.0,848.3 L684.1,849.8 L684.4,851.2 L684.9,852.5 L685.6,853.6 L686.4,854.4 L687.4,855.1" fill="none" stroke="#8092a0" stroke-width="0.92"/>
<path d="M701.0,848.3 L702.0,846.6 L702.8,844.9 L703.5,843.2 L704.0,841.4 L704.3,839.7 L704.4,838.1 L704.3,836.6 L704.0,835.2 L703.5,833.9 L702.8,832.8 L702.0,832.0 L701.0,831.3" fill="none" stroke="#8092a0" stroke-width="0.92"/>
<path d="M709.8,826.9 L708.8,828.6 L708.0,830.3 L707.3,832.0 L706.8,833.8 L706.5,835.5 L706.4,837.1 L706.5,838.6 L706.8,840.0 L707.3,841.3 L708.0,842.4 L708.8,843.2 L709.8,843.9" fill="none" stroke="#8092a0" stroke-width="0.92"/>
<path d="M501.6,939.5 L501.3,937.3 L500.5,935.4 L499.3,934.0 L497.7,933.2 L495.8,933.0 L493.7,933.5 L491.5,934.6 L489.4,936.2 L487.5,938.3 L485.9,940.7 L484.7,943.3 L483.9,946.0 L483.6,948.5 L483.9,950.7 L484.7,952.6 L485.9,954.0 L487.5,954.8 L489.4,955.0 L491.5,954.5 L493.7,953.4 L495.8,951.8 L497.7,949.7 L499.3,947.3 L500.5,944.7 L501.3,942.0 L501.6,939.5Z" fill="#6ab4de" stroke="#8092a0" stroke-width="1.03"/>
<path d="M486.0,952.3 L487.4,952.8 L488.9,952.9 L490.6,952.5 L492.3,951.6 L494.0,950.3 L495.6,948.7 L496.9,946.8 L498.0,944.8 L498.8,942.6 L499.2,940.6 L499.2,938.6 L498.8,936.9 L498.0,935.6 L496.9,934.6" fill="none" stroke="#8092a0" stroke-width="0.92"/>
<path d="M496.6,939.3 L496.4,937.6 L495.9,936.2 L494.9,935.2 L493.7,934.6 L492.3,934.4 L490.7,934.8 L489.1,935.6 L487.5,936.8 L486.1,938.4 L484.9,940.2 L484.0,942.1 L483.4,944.1 L483.2,946.0 L483.4,947.7 L484.0,949.1 L484.9,950.2 L486.1,950.7 L487.5,950.9 L489.1,950.5 L490.7,949.7 L492.3,948.5 L493.7,946.9 L494.9,945.1 L495.9,943.2 L496.4,941.2 L496.6,939.3Z" fill="#6ab4de" stroke="#8092a0" stroke-width="1.03"/>
<path d="M524.0,928.3 L523.7,926.1 L522.9,924.2 L521.7,922.8 L520.1,922.0 L518.2,921.8 L516.1,922.3 L513.9,923.4 L511.8,925.0 L509.9,927.1 L508.3,929.5 L507.1,932.1 L506.3,934.8 L506.0,937.3 L506.3,939.5 L507.1,941.4 L508.3,942.8 L509.9,943.6 L511.8,943.8 L513.9,943.3 L516.1,942.2 L518.2,940.6 L520.1,938.5 L521.7,936.1 L522.9,933.5 L523.7,930.8 L524.0,928.3Z" fill="#6ab4de" stroke="#8092a0" stroke-width="1.03"/>
<path d="M508.4,941.1 L509.8,941.6 L511.3,941.7 L513.0,941.3 L514.7,940.4 L516.4,939.1 L518.0,937.5 L519.3,935.6 L520.4,933.6 L521.2,931.4 L521.6,929.4 L521.6,927.4 L521.2,925.7 L520.4,924.4 L519.3,923.4" fill="none" stroke="#8092a0" stroke-width="0.92"/>
<path d="M519.0,928.1 L518.8,926.4 L518.3,925.0 L517.3,924.0 L516.1,923.4 L514.7,923.2 L513.1,923.6 L511.5,924.4 L509.9,925.6 L508.5,927.2 L507.3,929.0 L506.4,930.9 L505.8,932.9 L505.6,934.8 L505.8,936.5 L506.4,937.9 L507.3,939.0 L508.5,939.5 L509.9,939.7 L511.5,939.3 L513.1,938.5 L514.7,937.3 L516.1,935.7 L517.3,933.9 L518.3,932.0 L518.8,930.0 L519.0,928.1Z" fill="#6ab4de" stroke="#8092a0" stroke-width="1.03"/>
<path d="M546.4,917.1 L546.1,914.9 L545.3,913.0 L544.1,911.6 L542.5,910.8 L540.6,910.6 L538.5,911.1 L536.3,912.2 L534.2,913.8 L532.3,915.9 L530.7,918.3 L529.5,920.9 L528.7,923.6 L528.4,926.1 L528.7,928.3 L529.5,930.2 L530.7,931.6 L532.3,932.4 L534.2,932.6 L536.3,932.1 L538.5,931.0 L540.6,929.4 L542.5,927.3 L544.1,924.9 L545.3,922.3 L546.1,919.6 L546.4,917.1Z" fill="#6ab4de" stroke="#8092a0" stroke-width="1.03"/>
<path d="M530.8,929.9 L532.2,930.4 L533.7,930.5 L535.4,930.1 L537.1,929.2 L538.8,927.9 L540.4,926.3 L541.7,924.4 L542.8,922.4 L543.6,920.2 L544.0,918.2 L544.0,916.2 L543.6,914.5 L542.8,913.2 L541.7,912.2" fill="none" stroke="#8092a0" stroke-width="0.92"/>
<path d="M541.4,916.9 L541.2,915.2 L540.7,913.8 L539.7,912.8 L538.5,912.2 L537.1,912.0 L535.5,912.4 L533.9,913.2 L532.3,914.4 L530.9,916.0 L529.7,917.8 L528.8,919.7 L528.2,921.7 L528.0,923.6 L528.2,925.3 L528.8,926.7 L529.7,927.8 L530.9,928.3 L532.3,928.5 L533.9,928.1 L535.5,927.3 L537.1,926.1 L538.5,924.5 L539.7,922.7 L540.7,920.8 L541.2,918.8 L541.4,916.9Z" fill="#6ab4de" stroke="#8092a0" stroke-width="1.03"/>
<path d="M568.8,905.9 L568.5,903.7 L567.7,901.8 L566.5,900.4 L564.9,899.6 L563.0,899.4 L560.9,899.9 L558.7,901.0 L556.6,902.6 L554.7,904.7 L553.1,907.1 L551.9,909.7 L551.1,912.4 L550.8,914.9 L551.1,917.1 L551.9,919.0 L553.1,920.4 L554.7,921.2 L556.6,921.4 L558.7,920.9 L560.9,919.8 L563.0,918.2 L564.9,916.1 L566.5,913.7 L567.7,911.1 L568.5,908.4 L568.8,905.9Z" fill="#6ab4de" stroke="#8092a0" stroke-width="1.03"/>
<path d="M553.2,918.7 L554.6,919.2 L556.1,919.3 L557.8,918.9 L559.5,918.0 L561.2,916.7 L562.8,915.1 L564.1,913.2 L565.2,911.2 L566.0,909.0 L566.4,907.0 L566.4,905.0 L566.0,903.3 L565.2,902.0 L564.1,901.0" fill="none" stroke="#8092a0" stroke-width="0.92"/>
<path d="M563.8,905.7 L563.6,904.0 L563.1,902.6 L562.1,901.6 L560.9,901.0 L559.5,900.8 L557.9,901.2 L556.3,902.0 L554.7,903.2 L553.3,904.8 L552.1,906.6 L551.2,908.5 L550.6,910.5 L550.4,912.4 L550.6,914.1 L551.2,915.5 L552.1,916.6 L553.3,917.1 L554.7,917.3 L556.3,916.9 L557.9,916.1 L559.5,914.9 L560.9,913.3 L562.1,911.5 L563.1,909.6 L563.6,907.6 L563.8,905.7Z" fill="#6ab4de" stroke="#8092a0" stroke-width="1.03"/>
<path d="M591.2,894.7 L590.9,892.5 L590.1,890.6 L588.9,889.2 L587.3,888.4 L585.4,888.2 L583.3,888.7 L581.1,889.8 L579.0,891.4 L577.1,893.5 L575.5,895.9 L574.3,898.5 L573.5,901.2 L573.2,903.7 L573.5,905.9 L574.3,907.8 L575.5,909.2 L577.1,910.0 L579.0,910.2 L581.1,909.7 L583.3,908.6 L585.4,907.0 L587.3,904.9 L588.9,902.5 L590.1,899.9 L590.9,897.2 L591.2,894.7Z" fill="#6ab4de" stroke="#8092a0" stroke-width="1.03"/>
<path d="M575.6,907.5 L577.0,908.0 L578.5,908.1 L580.2,907.7 L581.9,906.8 L583.6,905.5 L585.2,903.9 L586.5,902.0 L587.6,900.0 L588.4,897.8 L588.8,895.8 L588.8,893.8 L588.4,892.1 L587.6,890.8 L586.5,889.8" fill="none" stroke="#8092a0" stroke-width="0.92"/>
<path d="M586.2,894.5 L586.0,892.8 L585.5,891.4 L584.5,890.4 L583.3,889.8 L581.9,889.6 L580.3,890.0 L578.7,890.8 L577.1,892.0 L575.7,893.6 L574.5,895.4 L573.6,897.3 L573.0,899.3 L572.8,901.2 L573.0,902.9 L573.6,904.3 L574.5,905.4 L575.7,905.9 L577.1,906.1 L578.7,905.7 L580.3,904.9 L581.9,903.7 L583.3,902.1 L584.5,900.3 L585.5,898.4 L586.0,896.4 L586.2,894.5Z" fill="#6ab4de" stroke="#8092a0" stroke-width="1.03"/>
<path d="M613.6,883.5 L613.3,881.3 L612.5,879.4 L611.3,878.0 L609.7,877.2 L607.8,877.0 L605.7,877.5 L603.5,878.6 L601.4,880.2 L599.5,882.3 L597.9,884.7 L596.7,887.3 L595.9,890.0 L595.6,892.5 L595.9,894.7 L596.7,896.6 L597.9,898.0 L599.5,898.8 L601.4,899.0 L603.5,898.5 L605.7,897.4 L607.8,895.8 L609.7,893.7 L611.3,891.3 L612.5,888.7 L613.3,886.0 L613.6,883.5Z" fill="#6ab4de" stroke="#8092a0" stroke-width="1.03"/>
<path d="M598.0,896.3 L599.4,896.8 L600.9,896.9 L602.6,896.5 L604.3,895.6 L606.0,894.3 L607.6,892.7 L608.9,890.8 L610.0,888.8 L610.8,886.6 L611.2,884.6 L611.2,882.6 L610.8,880.9 L610.0,879.6 L608.9,878.6" fill="none" stroke="#8092a0" stroke-width="0.92"/>
<path d="M608.6,883.3 L608.4,881.6 L607.9,880.2 L606.9,879.2 L605.7,878.6 L604.3,878.4 L602.7,878.8 L601.1,879.6 L599.5,880.8 L598.1,882.4 L596.9,884.2 L596.0,886.1 L595.4,888.1 L595.2,890.0 L595.4,891.7 L596.0,893.1 L596.9,894.2 L598.1,894.7 L599.5,894.9 L601.1,894.5 L602.7,893.7 L604.3,892.5 L605.7,890.9 L606.9,889.1 L607.9,887.2 L608.4,885.2 L608.6,883.3Z" fill="#6ab4de" stroke="#8092a0" stroke-width="1.03"/>
<path d="M636.0,872.3 L635.7,870.1 L634.9,868.2 L633.7,866.8 L632.1,866.0 L630.2,865.8 L628.1,866.3 L625.9,867.4 L623.8,869.0 L621.9,871.1 L620.3,873.5 L619.1,876.1 L618.3,878.8 L618.0,881.3 L618.3,883.5 L619.1,885.4 L620.3,886.8 L621.9,887.6 L623.8,887.8 L625.9,887.3 L628.1,886.2 L630.2,884.6 L632.1,882.5 L633.7,880.1 L634.9,877.5 L635.7,874.8 L636.0,872.3Z" fill="#6ab4de" stroke="#8092a0" stroke-width="1.03"/>
<path d="M620.4,885.1 L621.8,885.6 L623.3,885.7 L625.0,885.3 L626.7,884.4 L628.4,883.1 L630.0,881.5 L631.3,879.6 L632.4,877.6 L633.2,875.4 L633.6,873.4 L633.6,871.4 L633.2,869.7 L632.4,868.4 L631.3,867.4" fill="none" stroke="#8092a0" stroke-width="0.92"/>
<path d="M631.0,872.1 L630.8,870.4 L630.3,869.0 L629.3,868.0 L628.1,867.4 L626.7,867.2 L625.1,867.6 L623.5,868.4 L621.9,869.6 L620.5,871.2 L619.3,873.0 L618.4,874.9 L617.8,876.9 L617.6,878.8 L617.8,880.5 L618.4,881.9 L619.3,883.0 L620.5,883.5 L621.9,883.7 L623.5,883.3 L625.1,882.5 L626.7,881.3 L628.1,879.7 L629.3,877.9 L630.3,876.0 L630.8,874.0 L631.0,872.1Z" fill="#6ab4de" stroke="#8092a0" stroke-width="1.03"/>
<path d="M658.4,861.1 L658.1,858.9 L657.3,857.0 L656.1,855.6 L654.5,854.8 L652.6,854.6 L650.5,855.1 L648.3,856.2 L646.2,857.8 L644.3,859.9 L642.7,862.3 L641.5,864.9 L640.7,867.6 L640.4,870.1 L640.7,872.3 L641.5,874.2 L642.7,875.6 L644.3,876.4 L646.2,876.6 L648.3,876.1 L650.5,875.0 L652.6,873.4 L654.5,871.3 L656.1,868.9 L657.3,866.3 L658.1,863.6 L658.4,861.1Z" fill="#6ab4de" stroke="#8092a0" stroke-width="1.03"/>
<path d="M642.8,873.9 L644.2,874.4 L645.7,874.5 L647.4,874.1 L649.1,873.2 L650.8,871.9 L652.4,870.3 L653.7,868.4 L654.8,866.4 L655.6,864.2 L656.0,862.2 L656.0,860.2 L655.6,858.5 L654.8,857.2 L653.7,856.2" fill="none" stroke="#8092a0" stroke-width="0.92"/>
<path d="M653.4,860.9 L653.2,859.2 L652.7,857.8 L651.7,856.8 L650.5,856.2 L649.1,856.0 L647.5,856.4 L645.9,857.2 L644.3,858.4 L642.9,860.0 L641.7,861.8 L640.8,863.7 L640.2,865.7 L640.0,867.6 L640.2,869.3 L640.8,870.7 L641.7,871.8 L642.9,872.3 L644.3,872.5 L645.9,872.1 L647.5,871.3 L649.1,870.1 L650.5,868.5 L651.7,866.7 L652.7,864.8 L653.2,862.8 L653.4,860.9Z" fill="#6ab4de" stroke="#8092a0" stroke-width="1.03"/>
<path d="M680.8,849.9 L680.5,847.7 L679.7,845.8 L678.5,844.4 L676.9,843.6 L675.0,843.4 L672.9,843.9 L670.7,845.0 L668.6,846.6 L666.7,848.7 L665.1,851.1 L663.9,853.7 L663.1,856.4 L662.8,858.9 L663.1,861.1 L663.9,863.0 L665.1,864.4 L666.7,865.2 L668.6,865.4 L670.7,864.9 L672.9,863.8 L675.0,862.2 L676.9,860.1 L678.5,857.7 L679.7,855.1 L680.5,852.4 L680.8,849.9Z" fill="#6ab4de" stroke="#8092a0" stroke-width="1.03"/>
<path d="M665.2,862.7 L666.6,863.2 L668.1,863.3 L669.8,862.9 L671.5,862.0 L673.2,860.7 L674.8,859.1 L676.1,857.2 L677.2,855.2 L678.0,853.0 L678.4,851.0 L678.4,849.0 L678.0,847.3 L677.2,846.0 L676.1,845.0" fill="none" stroke="#8092a0" stroke-width="0.92"/>
<path d="M675.8,849.7 L675.6,848.0 L675.1,846.6 L674.1,845.6 L672.9,845.0 L671.5,844.8 L669.9,845.2 L668.3,846.0 L666.7,847.2 L665.3,848.8 L664.1,850.6 L663.2,852.5 L662.6,854.5 L662.4,856.4 L662.6,858.1 L663.2,859.5 L664.1,860.6 L665.3,861.1 L666.7,861.3 L668.3,860.9 L669.9,860.1 L671.5,858.9 L672.9,857.3 L674.1,855.5 L675.1,853.6 L675.6,851.6 L675.8,849.7Z" fill="#6ab4de" stroke="#8092a0" stroke-width="1.03"/>
<path d="M703.2,838.7 L702.9,836.5 L702.1,834.6 L700.9,833.2 L699.3,832.4 L697.4,832.2 L695.3,832.7 L693.1,833.8 L691.0,835.4 L689.1,837.5 L687.5,839.9 L686.3,842.5 L685.5,845.2 L685.2,847.7 L685.5,849.9 L686.3,851.8 L687.5,853.2 L689.1,854.0 L691.0,854.2 L693.1,853.7 L695.3,852.6 L697.4,851.0 L699.3,848.9 L700.9,846.5 L702.1,843.9 L702.9,841.2 L703.2,838.7Z" fill="#6ab4de" stroke="#8092a0" stroke-width="1.03"/>
<path d="M687.6,851.5 L689.0,852.0 L690.5,852.1 L692.2,851.7 L693.9,850.8 L695.6,849.5 L697.2,847.9 L698.5,846.0 L699.6,844.0 L700.4,841.8 L700.8,839.8 L700.8,837.8 L700.4,836.1 L699.6,834.8 L698.5,833.8" fill="none" stroke="#8092a0" stroke-width="0.92"/>
<path d="M698.2,838.5 L698.0,836.8 L697.5,835.4 L696.5,834.4 L695.3,833.8 L693.9,833.6 L692.3,834.0 L690.7,834.8 L689.1,836.0 L687.7,837.6 L686.5,839.4 L685.6,841.3 L685.0,843.3 L684.8,845.2 L685.0,846.9 L685.6,848.3 L686.5,849.4 L687.7,849.9 L689.1,850.1 L690.7,849.7 L692.3,848.9 L693.9,847.7 L695.3,846.1 L696.5,844.3 L697.5,842.4 L698.0,840.4 L698.2,838.5Z" fill="#6ab4de" stroke="#8092a0" stroke-width="1.03"/>
<path d="M725.6,827.5 L725.3,825.3 L724.5,823.4 L723.3,822.0 L721.7,821.2 L719.8,821.0 L717.7,821.5 L715.5,822.6 L713.4,824.2 L711.5,826.3 L709.9,828.7 L708.7,831.3 L707.9,834.0 L707.6,836.5 L707.9,838.7 L708.7,840.6 L709.9,842.0 L711.5,842.8 L713.4,843.0 L715.5,842.5 L717.7,841.4 L719.8,839.8 L721.7,837.7 L723.3,835.3 L724.5,832.7 L725.3,830.0 L725.6,827.5Z" fill="#6ab4de" stroke="#8092a0" stroke-width="1.03"/>
<path d="M710.0,840.3 L711.4,840.8 L712.9,840.9 L714.6,840.5 L716.3,839.6 L718.0,838.3 L719.6,836.7 L720.9,834.8 L722.0,832.8 L722.8,830.6 L723.2,828.6 L723.2,826.6 L722.8,824.9 L722.0,823.6 L720.9,822.6" fill="none" stroke="#8092a0" stroke-width="0.92"/>
<path d="M720.6,827.3 L720.4,825.6 L719.9,824.2 L718.9,823.2 L717.7,822.6 L716.3,822.4 L714.7,822.8 L713.1,823.6 L711.5,824.8 L710.1,826.4 L708.9,828.2 L708.0,830.1 L707.4,832.1 L707.2,834.0 L707.4,835.7 L708.0,837.1 L708.9,838.2 L710.1,838.7 L711.5,838.9 L713.1,838.5 L714.7,837.7 L716.3,836.5 L717.7,834.9 L718.9,833.1 L719.9,831.2 L720.4,829.2 L720.6,827.3Z" fill="#6ab4de" stroke="#8092a0" stroke-width="1.03"/>
<path d="M214.0,1059.3 L214.2,1056.8 L214.8,1054.1 L215.9,1051.5 L217.3,1048.8 L219.0,1046.5 L220.9,1044.3 L223.0,1042.6 L225.2,1041.2 L449.2,929.2 L451.4,928.4 L453.5,928.0 L455.4,928.2 L457.1,928.9 L478.6,939.7 L480.0,940.9 L481.1,942.5 L481.7,944.6 L481.9,946.9 L481.7,949.5 L481.1,952.1 L480.0,954.8 L478.6,957.4 L476.9,959.8 L475.0,961.9 L472.9,963.7 L470.7,965.0 L246.7,1077.0 L244.5,1077.9 L242.4,1078.2 L240.5,1078.0 L238.8,1077.3 L217.3,1066.6 L215.9,1065.4 L214.8,1063.7 L214.2,1061.7Z" fill="#6ab4de" stroke="#8092a0" stroke-width="1.15"/>
<path d="M246.7,1052.0 L244.5,1053.3 L242.4,1055.1 L240.5,1057.2 L238.8,1059.6 L237.4,1062.2 L236.4,1064.9 L235.7,1067.5 L235.5,1070.1 L235.7,1072.4 L236.4,1074.5 L237.4,1076.1 L238.8,1077.3 L240.5,1078.0 L242.4,1078.2 L244.5,1077.9 L246.7,1077.0 L470.7,965.0 L472.9,963.7 L475.0,961.9 L476.9,959.8 L478.6,957.4 L480.0,954.8 L481.0,952.1 L481.7,949.5 L481.9,946.9 L481.7,944.6 L481.0,942.5 L480.0,940.9 L478.6,939.7 L476.9,939.0 L475.0,938.8 L472.9,939.1 L470.7,940.0Z" fill="#6ab4de" stroke="#8092a0" stroke-width="1.15"/>
<path d="M246.7,1054.2 L244.9,1055.3 L243.2,1056.8 L241.6,1058.5 L240.2,1060.5 L239.1,1062.6 L238.2,1064.8 L237.7,1067.0 L237.5,1069.1 L237.7,1071.0 L238.2,1072.7 L239.1,1074.0 L240.2,1075.0 L241.6,1075.6 L243.2,1075.7 L244.9,1075.5 L246.7,1074.8 L470.7,962.8 L472.5,961.7 L474.2,960.2 L475.8,958.5 L477.2,956.5 L478.3,954.4 L479.2,952.2 L479.7,950.0 L479.9,947.9 L479.7,946.0 L479.2,944.3 L478.3,943.0 L477.2,942.0 L475.8,941.4 L474.2,941.3 L472.5,941.5 L470.7,942.2Z" fill="none" stroke="#8092a0" stroke-width="0.92"/>
<path d="M253.5,1069.6 L254.5,1067.9 L255.3,1066.2 L256.0,1064.5 L256.5,1062.7 L256.8,1061.0 L256.9,1059.4 L256.8,1057.9 L256.5,1056.5 L256.0,1055.2 L255.3,1054.1 L254.5,1053.3 L253.5,1052.6" fill="none" stroke="#8092a0" stroke-width="0.92"/>
<path d="M262.3,1048.2 L261.3,1049.9 L260.5,1051.6 L259.8,1053.3 L259.3,1055.1 L259.0,1056.8 L258.9,1058.4 L259.0,1059.9 L259.3,1061.3 L259.8,1062.6 L260.5,1063.7 L261.3,1064.5 L262.3,1065.2" fill="none" stroke="#8092a0" stroke-width="0.92"/>
<path d="M275.9,1058.4 L276.9,1056.7 L277.7,1055.0 L278.4,1053.3 L278.9,1051.5 L279.2,1049.8 L279.3,1048.2 L279.2,1046.7 L278.9,1045.3 L278.4,1044.0 L277.7,1042.9 L276.9,1042.1 L275.9,1041.4" fill="none" stroke="#8092a0" stroke-width="0.92"/>
<path d="M284.7,1037.0 L283.7,1038.7 L282.9,1040.4 L282.2,1042.1 L281.7,1043.9 L281.4,1045.6 L281.3,1047.2 L281.4,1048.7 L281.7,1050.1 L282.2,1051.4 L282.9,1052.5 L283.7,1053.3 L284.7,1054.0" fill="none" stroke="#8092a0" stroke-width="0.92"/>
<path d="M298.3,1047.2 L299.3,1045.5 L300.1,1043.8 L300.8,1042.1 L301.3,1040.3 L301.6,1038.6 L301.7,1037.0 L301.6,1035.5 L301.3,1034.1 L300.8,1032.8 L300.1,1031.7 L299.3,1030.9 L298.3,1030.2" fill="none" stroke="#8092a0" stroke-width="0.92"/>
<path d="M307.1,1025.8 L306.1,1027.5 L305.3,1029.2 L304.6,1030.9 L304.1,1032.7 L303.8,1034.4 L303.7,1036.0 L303.8,1037.5 L304.1,1038.9 L304.6,1040.2 L305.3,1041.3 L306.1,1042.1 L307.1,1042.8" fill="none" stroke="#8092a0" stroke-width="0.92"/>
<path d="M320.7,1036.0 L321.7,1034.3 L322.5,1032.6 L323.2,1030.9 L323.7,1029.1 L324.0,1027.4 L324.1,1025.8 L324.0,1024.3 L323.7,1022.9 L323.2,1021.6 L322.5,1020.5 L321.7,1019.7 L320.7,1019.0" fill="none" stroke="#8092a0" stroke-width="0.92"/>
<path d="M329.5,1014.6 L328.5,1016.3 L327.7,1018.0 L327.0,1019.7 L326.5,1021.5 L326.2,1023.2 L326.1,1024.8 L326.2,1026.3 L326.5,1027.7 L327.0,1029.0 L327.7,1030.1 L328.5,1030.9 L329.5,1031.6" fill="none" stroke="#8092a0" stroke-width="0.92"/>
<path d="M343.1,1024.8 L344.1,1023.1 L344.9,1021.4 L345.6,1019.7 L346.1,1017.9 L346.4,1016.2 L346.5,1014.6 L346.4,1013.1 L346.1,1011.7 L345.6,1010.4 L344.9,1009.3 L344.1,1008.5 L343.1,1007.8" fill="none" stroke="#8092a0" stroke-width="0.92"/>
<path d="M351.9,1003.4 L350.9,1005.1 L350.1,1006.8 L349.4,1008.5 L348.9,1010.3 L348.6,1012.0 L348.5,1013.6 L348.6,1015.1 L348.9,1016.5 L349.4,1017.8 L350.1,1018.9 L350.9,1019.7 L351.9,1020.4" fill="none" stroke="#8092a0" stroke-width="0.92"/>
<path d="M365.5,1013.6 L366.5,1011.9 L367.3,1010.2 L368.0,1008.5 L368.5,1006.7 L368.8,1005.0 L368.9,1003.4 L368.8,1001.9 L368.5,1000.5 L368.0,999.2 L367.3,998.1 L366.5,997.3 L365.5,996.6" fill="none" stroke="#8092a0" stroke-width="0.92"/>
<path d="M374.3,992.2 L373.3,993.9 L372.5,995.6 L371.8,997.3 L371.3,999.1 L371.0,1000.8 L370.9,1002.4 L371.0,1003.9 L371.3,1005.3 L371.8,1006.6 L372.5,1007.7 L373.3,1008.5 L374.3,1009.2" fill="none" stroke="#8092a0" stroke-width="0.92"/>
<path d="M387.9,1002.4 L388.9,1000.7 L389.7,999.0 L390.4,997.3 L390.9,995.5 L391.2,993.8 L391.3,992.2 L391.2,990.7 L390.9,989.3 L390.4,988.0 L389.7,986.9 L388.9,986.1 L387.9,985.4" fill="none" stroke="#8092a0" stroke-width="0.92"/>
<path d="M396.7,981.0 L395.7,982.7 L394.9,984.4 L394.2,986.1 L393.7,987.9 L393.4,989.6 L393.3,991.2 L393.4,992.7 L393.7,994.1 L394.2,995.4 L394.9,996.5 L395.7,997.3 L396.7,998.0" fill="none" stroke="#8092a0" stroke-width="0.92"/>
<path d="M410.3,991.2 L411.3,989.5 L412.1,987.8 L412.8,986.1 L413.3,984.3 L413.6,982.6 L413.7,981.0 L413.6,979.5 L413.3,978.1 L412.8,976.8 L412.1,975.7 L411.3,974.9 L410.3,974.2" fill="none" stroke="#8092a0" stroke-width="0.92"/>
<path d="M419.1,969.8 L418.1,971.5 L417.3,973.2 L416.6,974.9 L416.1,976.7 L415.8,978.4 L415.7,980.0 L415.8,981.5 L416.1,982.9 L416.6,984.2 L417.3,985.3 L418.1,986.1 L419.1,986.8" fill="none" stroke="#8092a0" stroke-width="0.92"/>
<path d="M432.7,980.0 L433.7,978.3 L434.5,976.6 L435.2,974.9 L435.7,973.1 L436.0,971.4 L436.1,969.8 L436.0,968.3 L435.7,966.9 L435.2,965.6 L434.5,964.5 L433.7,963.7 L432.7,963.0" fill="none" stroke="#8092a0" stroke-width="0.92"/>
<path d="M441.5,958.6 L440.5,960.3 L439.7,962.0 L439.0,963.7 L438.5,965.5 L438.2,967.2 L438.1,968.8 L438.2,970.3 L438.5,971.7 L439.0,973.0 L439.7,974.1 L440.5,974.9 L441.5,975.6" fill="none" stroke="#8092a0" stroke-width="0.92"/>
<path d="M455.1,968.8 L456.1,967.1 L456.9,965.4 L457.6,963.7 L458.1,961.9 L458.4,960.2 L458.5,958.6 L458.4,957.1 L458.1,955.7 L457.6,954.4 L456.9,953.3 L456.1,952.5 L455.1,951.8" fill="none" stroke="#8092a0" stroke-width="0.92"/>
<path d="M463.9,947.4 L462.9,949.1 L462.1,950.8 L461.4,952.5 L460.9,954.3 L460.6,956.0 L460.5,957.6 L460.6,959.1 L460.9,960.5 L461.4,961.8 L462.1,962.9 L462.9,963.7 L463.9,964.4" fill="none" stroke="#8092a0" stroke-width="0.92"/>
<path d="M255.7,1060.0 L255.4,1057.8 L254.6,1055.9 L253.4,1054.5 L251.8,1053.7 L249.9,1053.5 L247.8,1054.0 L245.6,1055.1 L243.5,1056.7 L241.6,1058.8 L240.0,1061.2 L238.8,1063.8 L238.0,1066.5 L237.7,1069.0 L238.0,1071.2 L238.8,1073.1 L240.0,1074.5 L241.6,1075.3 L243.5,1075.5 L245.6,1075.0 L247.8,1073.9 L249.9,1072.3 L251.8,1070.2 L253.4,1067.8 L254.6,1065.2 L255.4,1062.5 L255.7,1060.0Z" fill="#6ab4de" stroke="#8092a0" stroke-width="1.03"/>
<path d="M240.1,1072.8 L241.5,1073.3 L243.0,1073.4 L244.7,1073.0 L246.4,1072.1 L248.1,1070.8 L249.7,1069.2 L251.0,1067.3 L252.1,1065.3 L252.9,1063.1 L253.3,1061.1 L253.3,1059.1 L252.9,1057.4 L252.1,1056.1 L251.0,1055.1" fill="none" stroke="#8092a0" stroke-width="0.92"/>
<path d="M250.7,1059.8 L250.5,1058.1 L250.0,1056.7 L249.0,1055.7 L247.8,1055.1 L246.4,1054.9 L244.8,1055.3 L243.2,1056.1 L241.6,1057.3 L240.2,1058.9 L239.0,1060.7 L238.1,1062.6 L237.5,1064.6 L237.3,1066.5 L237.5,1068.2 L238.1,1069.6 L239.0,1070.7 L240.2,1071.2 L241.6,1071.4 L243.2,1071.0 L244.8,1070.2 L246.4,1069.0 L247.8,1067.4 L249.0,1065.6 L250.0,1063.7 L250.5,1061.7 L250.7,1059.8Z" fill="#6ab4de" stroke="#8092a0" stroke-width="1.03"/>
<path d="M278.1,1048.8 L277.8,1046.6 L277.0,1044.7 L275.8,1043.3 L274.2,1042.5 L272.3,1042.3 L270.2,1042.8 L268.0,1043.9 L265.9,1045.5 L264.0,1047.6 L262.4,1050.0 L261.2,1052.6 L260.4,1055.3 L260.1,1057.8 L260.4,1060.0 L261.2,1061.9 L262.4,1063.3 L264.0,1064.1 L265.9,1064.3 L268.0,1063.8 L270.2,1062.7 L272.3,1061.1 L274.2,1059.0 L275.8,1056.6 L277.0,1054.0 L277.8,1051.3 L278.1,1048.8Z" fill="#6ab4de" stroke="#8092a0" stroke-width="1.03"/>
<path d="M262.5,1061.6 L263.9,1062.1 L265.4,1062.2 L267.1,1061.8 L268.8,1060.9 L270.5,1059.6 L272.1,1058.0 L273.4,1056.1 L274.5,1054.1 L275.3,1051.9 L275.7,1049.9 L275.7,1047.9 L275.3,1046.2 L274.5,1044.9 L273.4,1043.9" fill="none" stroke="#8092a0" stroke-width="0.92"/>
<path d="M273.1,1048.6 L272.9,1046.9 L272.4,1045.5 L271.4,1044.5 L270.2,1043.9 L268.8,1043.7 L267.2,1044.1 L265.6,1044.9 L264.0,1046.1 L262.6,1047.7 L261.4,1049.5 L260.5,1051.4 L259.9,1053.4 L259.7,1055.3 L259.9,1057.0 L260.5,1058.4 L261.4,1059.5 L262.6,1060.0 L264.0,1060.2 L265.6,1059.8 L267.2,1059.0 L268.8,1057.8 L270.2,1056.2 L271.4,1054.4 L272.4,1052.5 L272.9,1050.5 L273.1,1048.6Z" fill="#6ab4de" stroke="#8092a0" stroke-width="1.03"/>
<path d="M300.5,1037.6 L300.2,1035.4 L299.4,1033.5 L298.2,1032.1 L296.6,1031.3 L294.7,1031.1 L292.6,1031.6 L290.4,1032.7 L288.3,1034.3 L286.4,1036.4 L284.8,1038.8 L283.6,1041.4 L282.8,1044.1 L282.5,1046.6 L282.8,1048.8 L283.6,1050.7 L284.8,1052.1 L286.4,1052.9 L288.3,1053.1 L290.4,1052.6 L292.6,1051.5 L294.7,1049.9 L296.6,1047.8 L298.2,1045.4 L299.4,1042.8 L300.2,1040.1 L300.5,1037.6Z" fill="#6ab4de" stroke="#8092a0" stroke-width="1.03"/>
<path d="M284.9,1050.4 L286.3,1050.9 L287.8,1051.0 L289.5,1050.6 L291.2,1049.7 L292.9,1048.4 L294.5,1046.8 L295.8,1044.9 L296.9,1042.9 L297.7,1040.7 L298.1,1038.7 L298.1,1036.7 L297.7,1035.0 L296.9,1033.7 L295.8,1032.7" fill="none" stroke="#8092a0" stroke-width="0.92"/>
<path d="M295.5,1037.4 L295.3,1035.7 L294.8,1034.3 L293.8,1033.3 L292.6,1032.7 L291.2,1032.5 L289.6,1032.9 L288.0,1033.7 L286.4,1034.9 L285.0,1036.5 L283.8,1038.3 L282.9,1040.2 L282.3,1042.2 L282.1,1044.1 L282.3,1045.8 L282.9,1047.2 L283.8,1048.3 L285.0,1048.8 L286.4,1049.0 L288.0,1048.6 L289.6,1047.8 L291.2,1046.6 L292.6,1045.0 L293.8,1043.2 L294.8,1041.3 L295.3,1039.3 L295.5,1037.4Z" fill="#6ab4de" stroke="#8092a0" stroke-width="1.03"/>
<path d="M322.9,1026.4 L322.6,1024.2 L321.8,1022.3 L320.6,1020.9 L319.0,1020.1 L317.1,1019.9 L315.0,1020.4 L312.8,1021.5 L310.7,1023.1 L308.8,1025.2 L307.2,1027.6 L306.0,1030.2 L305.2,1032.9 L304.9,1035.4 L305.2,1037.6 L306.0,1039.5 L307.2,1040.9 L308.8,1041.7 L310.7,1041.9 L312.8,1041.4 L315.0,1040.3 L317.1,1038.7 L319.0,1036.6 L320.6,1034.2 L321.8,1031.6 L322.6,1028.9 L322.9,1026.4Z" fill="#6ab4de" stroke="#8092a0" stroke-width="1.03"/>
<path d="M307.3,1039.2 L308.7,1039.7 L310.2,1039.8 L311.9,1039.4 L313.6,1038.5 L315.3,1037.2 L316.9,1035.6 L318.2,1033.7 L319.3,1031.7 L320.1,1029.5 L320.5,1027.5 L320.5,1025.5 L320.1,1023.8 L319.3,1022.5 L318.2,1021.5" fill="none" stroke="#8092a0" stroke-width="0.92"/>
<path d="M317.9,1026.2 L317.7,1024.5 L317.2,1023.1 L316.2,1022.1 L315.0,1021.5 L313.6,1021.3 L312.0,1021.7 L310.4,1022.5 L308.8,1023.7 L307.4,1025.3 L306.2,1027.1 L305.3,1029.0 L304.7,1031.0 L304.5,1032.9 L304.7,1034.6 L305.3,1036.0 L306.2,1037.1 L307.4,1037.6 L308.8,1037.8 L310.4,1037.4 L312.0,1036.6 L313.6,1035.4 L315.0,1033.8 L316.2,1032.0 L317.2,1030.1 L317.7,1028.1 L317.9,1026.2Z" fill="#6ab4de" stroke="#8092a0" stroke-width="1.03"/>
<path d="M345.3,1015.2 L345.0,1013.0 L344.2,1011.1 L343.0,1009.7 L341.4,1008.9 L339.5,1008.7 L337.4,1009.2 L335.2,1010.3 L333.1,1011.9 L331.2,1014.0 L329.6,1016.4 L328.4,1019.0 L327.6,1021.7 L327.3,1024.2 L327.6,1026.4 L328.4,1028.3 L329.6,1029.7 L331.2,1030.5 L333.1,1030.7 L335.2,1030.2 L337.4,1029.1 L339.5,1027.5 L341.4,1025.4 L343.0,1023.0 L344.2,1020.4 L345.0,1017.7 L345.3,1015.2Z" fill="#6ab4de" stroke="#8092a0" stroke-width="1.03"/>
<path d="M329.7,1028.0 L331.1,1028.5 L332.6,1028.6 L334.3,1028.2 L336.0,1027.3 L337.7,1026.0 L339.3,1024.4 L340.6,1022.5 L341.7,1020.5 L342.5,1018.3 L342.9,1016.3 L342.9,1014.3 L342.5,1012.6 L341.7,1011.3 L340.6,1010.3" fill="none" stroke="#8092a0" stroke-width="0.92"/>
<path d="M340.3,1015.0 L340.1,1013.3 L339.6,1011.9 L338.6,1010.9 L337.4,1010.3 L336.0,1010.1 L334.4,1010.5 L332.8,1011.3 L331.2,1012.5 L329.8,1014.1 L328.6,1015.9 L327.7,1017.8 L327.1,1019.8 L326.9,1021.7 L327.1,1023.4 L327.7,1024.8 L328.6,1025.9 L329.8,1026.4 L331.2,1026.6 L332.8,1026.2 L334.4,1025.4 L336.0,1024.2 L337.4,1022.6 L338.6,1020.8 L339.6,1018.9 L340.1,1016.9 L340.3,1015.0Z" fill="#6ab4de" stroke="#8092a0" stroke-width="1.03"/>
<path d="M367.7,1004.0 L367.4,1001.8 L366.6,999.9 L365.4,998.5 L363.8,997.7 L361.9,997.5 L359.8,998.0 L357.6,999.1 L355.5,1000.7 L353.6,1002.8 L352.0,1005.2 L350.8,1007.8 L350.0,1010.5 L349.7,1013.0 L350.0,1015.2 L350.8,1017.1 L352.0,1018.5 L353.6,1019.3 L355.5,1019.5 L357.6,1019.0 L359.8,1017.9 L361.9,1016.3 L363.8,1014.2 L365.4,1011.8 L366.6,1009.2 L367.4,1006.5 L367.7,1004.0Z" fill="#6ab4de" stroke="#8092a0" stroke-width="1.03"/>
<path d="M352.1,1016.8 L353.5,1017.3 L355.0,1017.4 L356.7,1017.0 L358.4,1016.1 L360.1,1014.8 L361.7,1013.2 L363.0,1011.3 L364.1,1009.3 L364.9,1007.1 L365.3,1005.1 L365.3,1003.1 L364.9,1001.4 L364.1,1000.1 L363.0,999.1" fill="none" stroke="#8092a0" stroke-width="0.92"/>
<path d="M362.7,1003.8 L362.5,1002.1 L362.0,1000.7 L361.0,999.7 L359.8,999.1 L358.4,998.9 L356.8,999.3 L355.2,1000.1 L353.6,1001.3 L352.2,1002.9 L351.0,1004.7 L350.1,1006.6 L349.5,1008.6 L349.3,1010.5 L349.5,1012.2 L350.1,1013.6 L351.0,1014.7 L352.2,1015.2 L353.6,1015.4 L355.2,1015.0 L356.8,1014.2 L358.4,1013.0 L359.8,1011.4 L361.0,1009.6 L362.0,1007.7 L362.5,1005.7 L362.7,1003.8Z" fill="#6ab4de" stroke="#8092a0" stroke-width="1.03"/>
<path d="M390.1,992.8 L389.8,990.6 L389.0,988.7 L387.8,987.3 L386.2,986.5 L384.3,986.3 L382.2,986.8 L380.0,987.9 L377.9,989.5 L376.0,991.6 L374.4,994.0 L373.2,996.6 L372.4,999.3 L372.1,1001.8 L372.4,1004.0 L373.2,1005.9 L374.4,1007.3 L376.0,1008.1 L377.9,1008.3 L380.0,1007.8 L382.2,1006.7 L384.3,1005.1 L386.2,1003.0 L387.8,1000.6 L389.0,998.0 L389.8,995.3 L390.1,992.8Z" fill="#6ab4de" stroke="#8092a0" stroke-width="1.03"/>
<path d="M374.5,1005.6 L375.9,1006.1 L377.4,1006.2 L379.1,1005.8 L380.8,1004.9 L382.5,1003.6 L384.1,1002.0 L385.4,1000.1 L386.5,998.1 L387.3,995.9 L387.7,993.9 L387.7,991.9 L387.3,990.2 L386.5,988.9 L385.4,987.9" fill="none" stroke="#8092a0" stroke-width="0.92"/>
<path d="M385.1,992.6 L384.9,990.9 L384.4,989.5 L383.4,988.5 L382.2,987.9 L380.8,987.7 L379.2,988.1 L377.6,988.9 L376.0,990.1 L374.6,991.7 L373.4,993.5 L372.5,995.4 L371.9,997.4 L371.7,999.3 L371.9,1001.0 L372.5,1002.4 L373.4,1003.5 L374.6,1004.0 L376.0,1004.2 L377.6,1003.8 L379.2,1003.0 L380.8,1001.8 L382.2,1000.2 L383.4,998.4 L384.4,996.5 L384.9,994.5 L385.1,992.6Z" fill="#6ab4de" stroke="#8092a0" stroke-width="1.03"/>
<path d="M412.5,981.6 L412.2,979.4 L411.4,977.5 L410.2,976.1 L408.6,975.3 L406.7,975.1 L404.6,975.6 L402.4,976.7 L400.3,978.3 L398.4,980.4 L396.8,982.8 L395.6,985.4 L394.8,988.1 L394.5,990.6 L394.8,992.8 L395.6,994.7 L396.8,996.1 L398.4,996.9 L400.3,997.1 L402.4,996.6 L404.6,995.5 L406.7,993.9 L408.6,991.8 L410.2,989.4 L411.4,986.8 L412.2,984.1 L412.5,981.6Z" fill="#6ab4de" stroke="#8092a0" stroke-width="1.03"/>
<path d="M396.9,994.4 L398.3,994.9 L399.8,995.0 L401.5,994.6 L403.2,993.7 L404.9,992.4 L406.5,990.8 L407.8,988.9 L408.9,986.9 L409.7,984.7 L410.1,982.7 L410.1,980.7 L409.7,979.0 L408.9,977.7 L407.8,976.7" fill="none" stroke="#8092a0" stroke-width="0.92"/>
<path d="M407.5,981.4 L407.3,979.7 L406.8,978.3 L405.8,977.3 L404.6,976.7 L403.2,976.5 L401.6,976.9 L400.0,977.7 L398.4,978.9 L397.0,980.5 L395.8,982.3 L394.9,984.2 L394.3,986.2 L394.1,988.1 L394.3,989.8 L394.9,991.2 L395.8,992.3 L397.0,992.8 L398.4,993.0 L400.0,992.6 L401.6,991.8 L403.2,990.6 L404.6,989.0 L405.8,987.2 L406.8,985.3 L407.3,983.3 L407.5,981.4Z" fill="#6ab4de" stroke="#8092a0" stroke-width="1.03"/>
<path d="M434.9,970.4 L434.6,968.2 L433.8,966.3 L432.6,964.9 L431.0,964.1 L429.1,963.9 L427.0,964.4 L424.8,965.5 L422.7,967.1 L420.8,969.2 L419.2,971.6 L418.0,974.2 L417.2,976.9 L416.9,979.4 L417.2,981.6 L418.0,983.5 L419.2,984.9 L420.8,985.7 L422.7,985.9 L424.8,985.4 L427.0,984.3 L429.1,982.7 L431.0,980.6 L432.6,978.2 L433.8,975.6 L434.6,972.9 L434.9,970.4Z" fill="#6ab4de" stroke="#8092a0" stroke-width="1.03"/>
<path d="M419.3,983.2 L420.7,983.7 L422.2,983.8 L423.9,983.4 L425.6,982.5 L427.3,981.2 L428.9,979.6 L430.2,977.7 L431.3,975.7 L432.1,973.5 L432.5,971.5 L432.5,969.5 L432.1,967.8 L431.3,966.5 L430.2,965.5" fill="none" stroke="#8092a0" stroke-width="0.92"/>
<path d="M429.9,970.2 L429.7,968.5 L429.2,967.1 L428.2,966.1 L427.0,965.5 L425.6,965.3 L424.0,965.7 L422.4,966.5 L420.8,967.7 L419.4,969.3 L418.2,971.1 L417.3,973.0 L416.7,975.0 L416.5,976.9 L416.7,978.6 L417.3,980.0 L418.2,981.1 L419.4,981.6 L420.8,981.8 L422.4,981.4 L424.0,980.6 L425.6,979.4 L427.0,977.8 L428.2,976.0 L429.2,974.1 L429.7,972.1 L429.9,970.2Z" fill="#6ab4de" stroke="#8092a0" stroke-width="1.03"/>
<path d="M457.3,959.2 L457.0,957.0 L456.2,955.1 L455.0,953.7 L453.4,952.9 L451.5,952.7 L449.4,953.2 L447.2,954.3 L445.1,955.9 L443.2,958.0 L441.6,960.4 L440.4,963.0 L439.6,965.7 L439.3,968.2 L439.6,970.4 L440.4,972.3 L441.6,973.7 L443.2,974.5 L445.1,974.7 L447.2,974.2 L449.4,973.1 L451.5,971.5 L453.4,969.4 L455.0,967.0 L456.2,964.4 L457.0,961.7 L457.3,959.2Z" fill="#6ab4de" stroke="#8092a0" stroke-width="1.03"/>
<path d="M441.7,972.0 L443.1,972.5 L444.6,972.6 L446.3,972.2 L448.0,971.3 L449.7,970.0 L451.3,968.4 L452.6,966.5 L453.7,964.5 L454.5,962.3 L454.9,960.3 L454.9,958.3 L454.5,956.6 L453.7,955.3 L452.6,954.3" fill="none" stroke="#8092a0" stroke-width="0.92"/>
<path d="M452.3,959.0 L452.1,957.3 L451.6,955.9 L450.6,954.9 L449.4,954.3 L448.0,954.1 L446.4,954.5 L444.8,955.3 L443.2,956.5 L441.8,958.1 L440.6,959.9 L439.7,961.8 L439.1,963.8 L438.9,965.7 L439.1,967.4 L439.7,968.8 L440.6,969.9 L441.8,970.4 L443.2,970.6 L444.8,970.2 L446.4,969.4 L448.0,968.2 L449.4,966.6 L450.6,964.8 L451.6,962.9 L452.1,960.9 L452.3,959.0Z" fill="#6ab4de" stroke="#8092a0" stroke-width="1.03"/>
<path d="M479.7,948.0 L479.4,945.8 L478.6,943.9 L477.4,942.5 L475.8,941.7 L473.9,941.5 L471.8,942.0 L469.6,943.1 L467.5,944.7 L465.6,946.8 L464.0,949.2 L462.8,951.8 L462.0,954.5 L461.7,957.0 L462.0,959.2 L462.8,961.1 L464.0,962.5 L465.6,963.3 L467.5,963.5 L469.6,963.0 L471.8,961.9 L473.9,960.3 L475.8,958.2 L477.4,955.8 L478.6,953.2 L479.4,950.5 L479.7,948.0Z" fill="#6ab4de" stroke="#8092a0" stroke-width="1.03"/>
<path d="M464.1,960.8 L465.5,961.3 L467.0,961.4 L468.7,961.0 L470.4,960.1 L472.1,958.8 L473.7,957.2 L475.0,955.3 L476.1,953.3 L476.9,951.1 L477.3,949.1 L477.3,947.1 L476.9,945.4 L476.1,944.1 L475.0,943.1" fill="none" stroke="#8092a0" stroke-width="0.92"/>
<path d="M474.7,947.8 L474.5,946.1 L474.0,944.7 L473.0,943.7 L471.8,943.1 L470.4,942.9 L468.8,943.3 L467.2,944.1 L465.6,945.3 L464.2,946.9 L463.0,948.7 L462.1,950.6 L461.5,952.6 L461.3,954.5 L461.5,956.2 L462.1,957.6 L463.0,958.7 L464.2,959.2 L465.6,959.4 L467.2,959.0 L468.8,958.2 L470.4,957.0 L471.8,955.4 L473.0,953.6 L474.0,951.7 L474.5,949.7 L474.7,947.8Z" fill="#6ab4de" stroke="#8092a0" stroke-width="1.03"/>
<path d="M437.3,969.2 L437.5,966.7 L438.2,964.1 L439.2,961.5 L440.5,958.9 L442.2,956.5 L444.1,954.5 L446.2,952.7 L448.3,951.4 L537.9,906.6 L540.0,905.8 L542.1,905.5 L544.0,905.6 L545.7,906.3 L556.9,911.9 L558.2,913.1 L559.2,914.7 L559.9,916.7 L560.1,919.0 L559.9,921.5 L559.2,924.1 L558.2,926.8 L556.9,929.3 L555.2,931.6 L553.3,933.7 L551.2,935.5 L549.1,936.8 L459.5,981.6 L457.4,982.4 L455.3,982.7 L453.4,982.5 L451.7,981.9 L440.5,976.3 L439.2,975.1 L438.2,973.5 L437.5,971.5Z" fill="#696b6e" stroke="#696b6e" stroke-width="1.2"/>
<path d="M459.5,957.0 L457.4,958.3 L455.3,960.1 L453.4,962.1 L451.7,964.5 L450.4,967.0 L449.4,969.7 L448.7,972.3 L448.5,974.8 L448.7,977.1 L449.4,979.1 L450.4,980.7 L451.7,981.9 L453.4,982.6 L455.3,982.7 L457.4,982.4 L459.5,981.6 L549.1,936.8 L551.2,935.5 L553.3,933.7 L555.2,931.7 L556.9,929.3 L558.2,926.8 L559.2,924.1 L559.9,921.5 L560.1,919.0 L559.9,916.7 L559.2,914.7 L558.2,913.1 L556.9,911.9 L555.2,911.2 L553.3,911.1 L551.2,911.4 L549.1,912.2Z" fill="#5f6266" stroke="none" stroke-width="0"/>
<path d="M459.5,958.3 L457.6,959.5 L455.7,961.0 L454.0,962.9 L452.5,965.0 L451.3,967.3 L450.4,969.6 L449.8,972.0 L449.6,974.2 L449.8,976.3 L450.4,978.1 L451.3,979.5 L452.5,980.6 L454.0,981.2 L455.7,981.4 L457.6,981.1 L459.5,980.3 L549.1,935.5 L551.0,934.3 L552.9,932.8 L554.6,930.9 L556.1,928.8 L557.3,926.5 L558.2,924.2 L558.8,921.8 L559.0,919.6 L558.8,917.5 L558.2,915.7 L557.3,914.3 L556.1,913.2 L554.6,912.6 L552.9,912.4 L551.0,912.7 L549.1,913.5Z" fill="none" stroke="#e4e4e4" stroke-width="0.9"/>
<path d="M457.3,962.9 L461.7,960.7 L461.7,965.7 L466.2,963.4 L466.2,968.4 L461.7,970.7 L461.7,975.7 L457.3,977.9 L457.3,972.9 L452.8,975.2 L452.8,970.2 L457.3,967.9Z" fill="#5f6266" stroke="#e4e4e4" stroke-width="0.9"/>
<path d="M491.1,953.5 L490.8,951.2 L490.0,949.3 L488.8,947.9 L487.1,947.0 L485.2,946.9 L483.0,947.4 L480.8,948.5 L478.6,950.1 L476.7,952.3 L475.0,954.7 L473.8,957.4 L473.0,960.1 L472.7,962.7 L473.0,965.0 L473.8,966.9 L475.0,968.3 L476.7,969.2 L478.6,969.3 L480.8,968.8 L483.0,967.7 L485.2,966.1 L487.1,963.9 L488.8,961.5 L490.0,958.8 L490.8,956.1 L491.1,953.5Z" fill="none" stroke="#e4e4e4" stroke-width="0.9"/>
<path d="M490.0,954.1 L489.7,952.0 L489.0,950.3 L487.9,949.1 L486.5,948.4 L484.8,948.2 L482.9,948.7 L480.9,949.6 L479.0,951.1 L477.3,953.0 L475.9,955.1 L474.8,957.5 L474.1,959.9 L473.8,962.1 L474.1,964.2 L474.8,965.9 L475.9,967.1 L477.3,967.8 L479.0,968.0 L480.9,967.5 L482.9,966.6 L484.8,965.1 L486.5,963.2 L487.9,961.1 L489.0,958.7 L489.7,956.3 L490.0,954.1Z" fill="none" stroke="#e4e4e4" stroke-width="0.54"/>
<path d="M487.5,954.2 L487.3,952.5 L486.7,951.1 L485.8,950.0 L484.6,949.4 L483.2,949.3 L481.6,949.7 L480.0,950.5 L478.4,951.7 L477.0,953.3 L475.8,955.1 L474.8,957.0 L474.3,959.0 L474.1,960.9 L474.3,962.6 L474.8,964.0 L475.8,965.0 L477.0,965.6 L478.4,965.8 L480.0,965.4 L481.6,964.6 L483.2,963.4 L484.6,961.8 L485.8,960.0 L486.7,958.1 L487.3,956.1 L487.5,954.2Z" fill="#696b6e" stroke="#e4e4e4" stroke-width="0.9"/>
<path d="M513.5,942.3 L513.2,940.0 L512.4,938.1 L511.2,936.7 L509.5,935.8 L507.6,935.7 L505.4,936.2 L503.2,937.3 L501.0,938.9 L499.1,941.1 L497.4,943.5 L496.2,946.2 L495.4,948.9 L495.1,951.5 L495.4,953.8 L496.2,955.7 L497.4,957.1 L499.1,958.0 L501.0,958.1 L503.2,957.6 L505.4,956.5 L507.6,954.9 L509.5,952.7 L511.2,950.3 L512.4,947.6 L513.2,944.9 L513.5,942.3Z" fill="none" stroke="#e4e4e4" stroke-width="0.9"/>
<path d="M512.4,942.9 L512.1,940.8 L511.4,939.1 L510.3,937.9 L508.9,937.2 L507.2,937.0 L505.3,937.5 L503.3,938.4 L501.4,939.9 L499.7,941.8 L498.3,943.9 L497.2,946.3 L496.5,948.7 L496.2,950.9 L496.5,953.0 L497.2,954.7 L498.3,955.9 L499.7,956.6 L501.4,956.8 L503.3,956.3 L505.3,955.4 L507.2,953.9 L508.9,952.0 L510.3,949.9 L511.4,947.5 L512.1,945.1 L512.4,942.9Z" fill="none" stroke="#e4e4e4" stroke-width="0.54"/>
<path d="M509.9,943.0 L509.7,941.3 L509.1,939.9 L508.2,938.8 L507.0,938.2 L505.6,938.1 L504.0,938.5 L502.4,939.3 L500.8,940.5 L499.4,942.1 L498.2,943.9 L497.2,945.8 L496.7,947.8 L496.5,949.7 L496.7,951.4 L497.2,952.8 L498.2,953.8 L499.4,954.4 L500.8,954.6 L502.4,954.2 L504.0,953.4 L505.6,952.2 L507.0,950.6 L508.2,948.8 L509.1,946.9 L509.7,944.9 L509.9,943.0Z" fill="#696b6e" stroke="#e4e4e4" stroke-width="0.9"/>
<path d="M535.9,931.1 L535.6,928.8 L534.8,926.9 L533.6,925.5 L531.9,924.6 L530.0,924.5 L527.8,925.0 L525.6,926.1 L523.4,927.7 L521.5,929.9 L519.8,932.3 L518.6,935.0 L517.8,937.7 L517.5,940.3 L517.8,942.6 L518.6,944.5 L519.8,945.9 L521.5,946.8 L523.4,946.9 L525.6,946.4 L527.8,945.3 L530.0,943.7 L531.9,941.5 L533.6,939.1 L534.8,936.4 L535.6,933.7 L535.9,931.1Z" fill="none" stroke="#e4e4e4" stroke-width="0.9"/>
<path d="M534.8,931.7 L534.5,929.6 L533.8,927.9 L532.7,926.7 L531.3,926.0 L529.6,925.8 L527.7,926.3 L525.7,927.2 L523.8,928.7 L522.1,930.6 L520.7,932.7 L519.6,935.1 L518.9,937.5 L518.6,939.7 L518.9,941.8 L519.6,943.5 L520.7,944.7 L522.1,945.4 L523.8,945.6 L525.7,945.1 L527.7,944.2 L529.6,942.7 L531.3,940.8 L532.7,938.7 L533.8,936.3 L534.5,933.9 L534.8,931.7Z" fill="none" stroke="#e4e4e4" stroke-width="0.54"/>
<path d="M532.3,931.8 L532.1,930.1 L531.5,928.7 L530.6,927.6 L529.4,927.0 L528.0,926.9 L526.4,927.3 L524.8,928.1 L523.2,929.3 L521.8,930.9 L520.6,932.7 L519.6,934.6 L519.1,936.6 L518.9,938.5 L519.1,940.2 L519.6,941.6 L520.6,942.6 L521.8,943.2 L523.2,943.4 L524.8,943.0 L526.4,942.2 L528.0,941.0 L529.4,939.4 L530.6,937.6 L531.5,935.7 L532.1,933.7 L532.3,931.8Z" fill="#696b6e" stroke="#e4e4e4" stroke-width="0.9"/>
<path d="M546.9,918.1 L551.3,915.9 L551.3,920.9 L555.8,918.6 L555.8,923.6 L551.3,925.9 L551.3,930.9 L546.9,933.1 L546.9,928.1 L542.4,930.4 L542.4,925.4 L546.9,923.1Z" fill="#5f6266" stroke="#e4e4e4" stroke-width="0.9"/>
<path d="M467.1,956.0 L470.7,961.2 L474.3,952.4" fill="none" stroke="#e4e4e4" stroke-width="0.72"/>
<path d="M468.5,954.3 L472.9,952.1" fill="none" stroke="#e4e4e4" stroke-width="0.72"/>
<path d="M467.1,975.0 L470.7,966.2 L474.3,971.4" fill="none" stroke="#e4e4e4" stroke-width="0.72"/>
<path d="M468.5,975.3 L472.9,973.1" fill="none" stroke="#e4e4e4" stroke-width="0.72"/>
<path d="M489.5,944.8 L493.1,950.0 L496.7,941.2" fill="none" stroke="#e4e4e4" stroke-width="0.72"/>
<path d="M490.9,943.1 L495.3,940.9" fill="none" stroke="#e4e4e4" stroke-width="0.72"/>
<path d="M489.5,963.8 L493.1,955.0 L496.7,960.2" fill="none" stroke="#e4e4e4" stroke-width="0.72"/>
<path d="M490.9,964.1 L495.3,961.9" fill="none" stroke="#e4e4e4" stroke-width="0.72"/>
<path d="M511.9,933.6 L515.5,938.8 L519.1,930.0" fill="none" stroke="#e4e4e4" stroke-width="0.72"/>
<path d="M513.3,931.9 L517.7,929.7" fill="none" stroke="#e4e4e4" stroke-width="0.72"/>
<path d="M511.9,952.6 L515.5,943.8 L519.1,949.0" fill="none" stroke="#e4e4e4" stroke-width="0.72"/>
<path d="M513.3,952.9 L517.7,950.7" fill="none" stroke="#e4e4e4" stroke-width="0.72"/>
<path d="M534.3,922.4 L537.9,927.6 L541.5,918.8" fill="none" stroke="#e4e4e4" stroke-width="0.72"/>
<path d="M535.7,920.7 L540.1,918.5" fill="none" stroke="#e4e4e4" stroke-width="0.72"/>
<path d="M534.3,941.4 L537.9,932.6 L541.5,937.8" fill="none" stroke="#e4e4e4" stroke-width="0.72"/>
<path d="M535.7,941.7 L540.1,939.5" fill="none" stroke="#e4e4e4" stroke-width="0.72"/>
<path d="M448.5,974.8 L448.7,972.3 L449.4,969.7 L450.4,967.0 L451.7,964.5 L453.4,962.1 L455.3,960.1 L457.4,958.3 L459.5,957.0 L549.1,912.2 L551.2,911.4 L553.3,911.1 L555.2,911.2 L556.9,911.9 L568.1,917.5 L569.4,918.7 L570.4,920.3 L571.1,922.3 L571.3,924.6 L571.1,927.1 L570.4,929.7 L569.4,932.4 L568.1,934.9 L566.4,937.2 L564.5,939.3 L562.4,941.1 L560.3,942.4 L470.7,987.2 L468.6,988.0 L466.5,988.3 L464.6,988.1 L462.9,987.5 L451.7,981.9 L450.4,980.7 L449.4,979.1 L448.7,977.1Z" fill="#696b6e" stroke="#696b6e" stroke-width="1.2"/>
<path d="M470.7,962.6 L468.6,963.9 L466.5,965.7 L464.6,967.7 L462.9,970.1 L461.6,972.6 L460.6,975.3 L459.9,977.9 L459.7,980.4 L459.9,982.7 L460.6,984.7 L461.6,986.3 L462.9,987.5 L464.6,988.2 L466.5,988.3 L468.6,988.0 L470.7,987.2 L560.3,942.4 L562.4,941.1 L564.5,939.3 L566.4,937.3 L568.1,934.9 L569.4,932.4 L570.4,929.7 L571.1,927.1 L571.3,924.6 L571.1,922.3 L570.4,920.3 L569.4,918.7 L568.1,917.5 L566.4,916.8 L564.5,916.7 L562.4,917.0 L560.3,917.8Z" fill="#5f6266" stroke="none" stroke-width="0"/>
<path d="M549.1,913.2 L459.5,958.0 L458.4,958.6 L457.4,959.3 L456.4,960.1 L455.4,961.1 L454.5,962.1 L453.6,963.1 L452.8,964.3 L452.0,965.5 L451.3,966.8 L450.8,968.0 L450.3,969.3 L449.9,970.6 L449.6,971.9 L449.5,973.1 L449.4,974.3 L449.5,975.5 L449.6,976.6 L449.9,977.6 L450.3,978.5 L450.8,979.3 L451.3,980.0 L452.0,980.6 L452.8,981.0 L453.6,981.4" fill="none" stroke="#e4e4e4" stroke-width="0.9"/>
<path d="M470.7,963.9 L468.8,965.1 L466.9,966.6 L465.2,968.5 L463.7,970.6 L462.5,972.9 L461.6,975.2 L461.0,977.6 L460.8,979.8 L461.0,981.9 L461.6,983.7 L462.5,985.1 L463.7,986.2 L465.2,986.8 L466.9,987.0 L468.8,986.7 L470.7,985.9 L560.3,941.1 L562.2,939.9 L564.1,938.4 L565.8,936.5 L567.3,934.4 L568.5,932.1 L569.4,929.8 L570.0,927.4 L570.2,925.2 L570.0,923.1 L569.4,921.3 L568.5,919.9 L567.3,918.8 L565.8,918.2 L564.1,918.0 L562.2,918.3 L560.3,919.1Z" fill="none" stroke="#e4e4e4" stroke-width="0.9"/>
<path d="M468.5,968.5 L472.9,966.3 L472.9,971.3 L477.4,969.0 L477.4,974.0 L472.9,976.3 L472.9,981.3 L468.5,983.5 L468.5,978.5 L464.0,980.8 L464.0,975.8 L468.5,973.5Z" fill="#5b8fd8" stroke="#e4e4e4" stroke-width="0.9"/>
<path d="M502.3,959.1 L502.0,956.8 L501.2,954.9 L500.0,953.5 L498.3,952.6 L496.4,952.5 L494.2,953.0 L492.0,954.1 L489.8,955.7 L487.9,957.9 L486.2,960.3 L485.0,963.0 L484.2,965.7 L483.9,968.3 L484.2,970.6 L485.0,972.5 L486.2,973.9 L487.9,974.8 L489.8,974.9 L492.0,974.4 L494.2,973.3 L496.4,971.7 L498.3,969.5 L500.0,967.1 L501.2,964.4 L502.0,961.7 L502.3,959.1Z" fill="none" stroke="#e4e4e4" stroke-width="0.9"/>
<path d="M501.2,959.7 L500.9,957.6 L500.2,955.9 L499.1,954.7 L497.7,954.0 L496.0,953.8 L494.1,954.3 L492.1,955.2 L490.2,956.7 L488.5,958.6 L487.1,960.7 L486.0,963.1 L485.3,965.5 L485.0,967.7 L485.3,969.8 L486.0,971.5 L487.1,972.7 L488.5,973.4 L490.2,973.6 L492.1,973.1 L494.1,972.2 L496.0,970.7 L497.7,968.8 L499.1,966.7 L500.2,964.3 L500.9,961.9 L501.2,959.7Z" fill="none" stroke="#e4e4e4" stroke-width="0.54"/>
<path d="M498.7,959.8 L498.5,958.1 L497.9,956.7 L497.0,955.6 L495.8,955.0 L494.4,954.9 L492.8,955.3 L491.2,956.1 L489.6,957.3 L488.2,958.9 L487.0,960.7 L486.0,962.6 L485.5,964.6 L485.3,966.5 L485.5,968.2 L486.0,969.6 L487.0,970.6 L488.2,971.2 L489.6,971.4 L491.2,971.0 L492.8,970.2 L494.4,969.0 L495.8,967.4 L497.0,965.6 L497.9,963.7 L498.5,961.7 L498.7,959.8Z" fill="#84878b" stroke="#e4e4e4" stroke-width="0.9"/>
<path d="M524.7,947.9 L524.4,945.6 L523.6,943.7 L522.4,942.3 L520.7,941.4 L518.8,941.3 L516.6,941.8 L514.4,942.9 L512.2,944.5 L510.3,946.7 L508.6,949.1 L507.4,951.8 L506.6,954.5 L506.3,957.1 L506.6,959.4 L507.4,961.3 L508.6,962.7 L510.3,963.6 L512.2,963.7 L514.4,963.2 L516.6,962.1 L518.8,960.5 L520.7,958.3 L522.4,955.9 L523.6,953.2 L524.4,950.5 L524.7,947.9Z" fill="none" stroke="#e4e4e4" stroke-width="0.9"/>
<path d="M523.6,948.5 L523.3,946.4 L522.6,944.7 L521.5,943.5 L520.1,942.8 L518.4,942.6 L516.5,943.1 L514.5,944.0 L512.6,945.5 L510.9,947.4 L509.5,949.5 L508.4,951.9 L507.7,954.3 L507.4,956.5 L507.7,958.6 L508.4,960.3 L509.5,961.5 L510.9,962.2 L512.6,962.4 L514.5,961.9 L516.5,961.0 L518.4,959.5 L520.1,957.6 L521.5,955.5 L522.6,953.1 L523.3,950.7 L523.6,948.5Z" fill="none" stroke="#e4e4e4" stroke-width="0.54"/>
<path d="M521.1,948.6 L520.9,946.9 L520.3,945.5 L519.4,944.4 L518.2,943.8 L516.8,943.7 L515.2,944.1 L513.6,944.9 L512.0,946.1 L510.6,947.7 L509.4,949.5 L508.4,951.4 L507.9,953.4 L507.7,955.3 L507.9,957.0 L508.4,958.4 L509.4,959.4 L510.6,960.0 L512.0,960.2 L513.6,959.8 L515.2,959.0 L516.8,957.8 L518.2,956.2 L519.4,954.4 L520.3,952.5 L520.9,950.5 L521.1,948.6Z" fill="#84878b" stroke="#e4e4e4" stroke-width="0.9"/>
<path d="M547.1,936.7 L546.8,934.4 L546.0,932.5 L544.8,931.1 L543.1,930.2 L541.2,930.1 L539.0,930.6 L536.8,931.7 L534.6,933.3 L532.7,935.5 L531.0,937.9 L529.8,940.6 L529.0,943.3 L528.7,945.9 L529.0,948.2 L529.8,950.1 L531.0,951.5 L532.7,952.4 L534.6,952.5 L536.8,952.0 L539.0,950.9 L541.2,949.3 L543.1,947.1 L544.8,944.7 L546.0,942.0 L546.8,939.3 L547.1,936.7Z" fill="none" stroke="#e4e4e4" stroke-width="0.9"/>
<path d="M546.0,937.3 L545.7,935.2 L545.0,933.5 L543.9,932.3 L542.5,931.6 L540.8,931.4 L538.9,931.9 L536.9,932.8 L535.0,934.3 L533.3,936.2 L531.9,938.3 L530.8,940.7 L530.1,943.1 L529.8,945.3 L530.1,947.4 L530.8,949.1 L531.9,950.3 L533.3,951.0 L535.0,951.2 L536.9,950.7 L538.9,949.8 L540.8,948.3 L542.5,946.4 L543.9,944.3 L545.0,941.9 L545.7,939.5 L546.0,937.3Z" fill="none" stroke="#e4e4e4" stroke-width="0.54"/>
<path d="M543.5,937.4 L543.3,935.7 L542.7,934.3 L541.8,933.2 L540.6,932.6 L539.2,932.5 L537.6,932.9 L536.0,933.7 L534.4,934.9 L533.0,936.5 L531.8,938.3 L530.8,940.2 L530.3,942.2 L530.1,944.1 L530.3,945.8 L530.8,947.2 L531.8,948.2 L533.0,948.8 L534.4,949.0 L536.0,948.6 L537.6,947.8 L539.2,946.6 L540.6,945.0 L541.8,943.2 L542.7,941.3 L543.3,939.3 L543.5,937.4Z" fill="#84878b" stroke="#e4e4e4" stroke-width="0.9"/>
<path d="M558.1,923.7 L562.5,921.5 L562.5,926.5 L567.0,924.2 L567.0,929.2 L562.5,931.5 L562.5,936.5 L558.1,938.7 L558.1,933.7 L553.6,936.0 L553.6,931.0 L558.1,928.7Z" fill="#5b8fd8" stroke="#e4e4e4" stroke-width="0.9"/>
<path d="M478.3,961.6 L481.9,966.8 L485.5,958.0" fill="none" stroke="#e4e4e4" stroke-width="0.72"/>
<path d="M479.7,959.9 L484.1,957.7" fill="none" stroke="#e4e4e4" stroke-width="0.72"/>
<path d="M478.3,980.6 L481.9,971.8 L485.5,977.0" fill="none" stroke="#e4e4e4" stroke-width="0.72"/>
<path d="M479.7,980.9 L484.1,978.7" fill="none" stroke="#e4e4e4" stroke-width="0.72"/>
<path d="M500.7,950.4 L504.3,955.6 L507.9,946.8" fill="none" stroke="#e4e4e4" stroke-width="0.72"/>
<path d="M502.1,948.7 L506.5,946.5" fill="none" stroke="#e4e4e4" stroke-width="0.72"/>
<path d="M500.7,969.4 L504.3,960.6 L507.9,965.8" fill="none" stroke="#e4e4e4" stroke-width="0.72"/>
<path d="M502.1,969.7 L506.5,967.5" fill="none" stroke="#e4e4e4" stroke-width="0.72"/>
<path d="M523.1,939.2 L526.7,944.4 L530.3,935.6" fill="none" stroke="#e4e4e4" stroke-width="0.72"/>
<path d="M524.5,937.5 L528.9,935.3" fill="none" stroke="#e4e4e4" stroke-width="0.72"/>
<path d="M523.1,958.2 L526.7,949.4 L530.3,954.6" fill="none" stroke="#e4e4e4" stroke-width="0.72"/>
<path d="M524.5,958.5 L528.9,956.3" fill="none" stroke="#e4e4e4" stroke-width="0.72"/>
<path d="M545.5,928.0 L549.1,933.2 L552.7,924.4" fill="none" stroke="#e4e4e4" stroke-width="0.72"/>
<path d="M546.9,926.3 L551.3,924.1" fill="none" stroke="#e4e4e4" stroke-width="0.72"/>
<path d="M545.5,947.0 L549.1,938.2 L552.7,943.4" fill="none" stroke="#e4e4e4" stroke-width="0.72"/>
<path d="M546.9,947.3 L551.3,945.1" fill="none" stroke="#e4e4e4" stroke-width="0.72"/>
<path d="M508.6,956.0 L508.8,954.0 L509.4,952.0 L510.3,950.0 L511.6,948.1 L513.0,946.5 L514.7,945.2 L516.3,944.4 L518.0,944.0 L519.4,944.1 L520.7,944.8 L544.2,956.5 L545.2,957.6 L545.8,959.0 L546.0,960.8 L545.8,962.8 L545.2,964.8 L544.2,966.8 L543.0,968.7 L541.5,970.3 L539.9,971.5 L538.2,972.4 L536.6,972.8 L535.1,972.6 L533.8,972.0 L510.3,960.2 L509.4,959.2 L508.8,957.7Z" fill="#e60012" stroke="#e60012" stroke-width="3.2"/>
<path d="M509.0,953.0 L513.0,946.5 L518.0,944.0 L541.5,955.8 L545.5,958.3 L545.5,963.8 L541.5,970.3 L536.6,972.8 L513.0,961.0 L509.0,958.5Z" fill="#a3a6a9" stroke="#222" stroke-width="1"/><path d="M536.6,958.2 L513.0,946.5" fill="none" stroke="#222" stroke-width="0.9"/><path d="M541.5,955.8 L518.0,944.0" fill="none" stroke="#222" stroke-width="0.9"/><path d="M532.5,970.3 L509.0,958.5" fill="none" stroke="#222" stroke-width="0.9"/><path d="M532.5,964.8 L509.0,953.0" fill="none" stroke="#222" stroke-width="0.9"/><path d="M536.6,962.7 L513.0,951.0" fill="none" stroke="#222" stroke-width="0.9"/><path d="M536.6,958.2 L541.5,955.8 L541.5,960.3 L545.5,958.3 L545.5,963.8 L541.5,965.8 L541.5,970.3 L536.6,972.8 L536.6,968.2 L532.5,970.3 L532.5,964.8 L536.6,962.7Z" fill="#a3a6a9" stroke="#222" stroke-width="0.9"/>
<path d="M238.0,1068.9 L238.2,1066.4 L239.0,1063.8 L240.2,1061.3 L241.7,1058.9 L243.6,1056.9 L245.7,1055.3 L247.8,1054.3 L249.8,1053.8 L251.7,1054.0 L253.2,1054.8 L255.2,1055.8 L275.0,1067.0 L276.0,1068.2 L276.7,1069.8 L276.9,1071.8 L276.7,1074.0 L276.0,1076.3 L275.0,1078.6 L273.6,1080.7 L271.9,1082.5 L270.1,1083.9 L268.1,1084.9 L266.3,1085.3 L264.6,1085.1 L243.8,1076.0 L240.2,1074.2 L239.0,1072.9 L238.2,1071.1Z" fill="#e60012" stroke="#e60012" stroke-width="3.2"/>
<path d="M238.0,1068.9 L238.2,1066.4 L239.0,1063.8 L240.2,1061.3 L241.7,1058.9 L243.6,1056.9 L245.7,1055.3 L247.8,1054.3 L249.8,1053.8 L251.7,1054.0 L253.2,1054.8 L255.2,1055.8 L256.4,1057.1 L257.2,1058.9 L257.4,1061.1 L257.2,1063.6 L256.4,1066.2 L255.2,1068.7 L253.7,1071.1 L251.8,1073.1 L249.8,1074.7 L247.7,1075.7 L245.6,1076.2 L243.8,1076.0 L240.2,1074.2 L239.0,1072.9 L238.2,1071.1Z" fill="#0b1016" stroke="#f2f2f2" stroke-width="0.9"/>
<path d="M257.5,1061.1 L257.2,1058.9 L256.5,1057.1 L255.3,1055.8 L253.7,1055.0 L251.8,1054.8 L249.8,1055.3 L247.7,1056.3 L245.6,1057.9 L243.8,1060.0 L242.2,1062.3 L241.0,1064.8 L240.2,1067.4 L240.0,1069.9 L240.2,1072.1 L241.0,1073.9 L242.2,1075.3 L243.8,1076.0 L245.6,1076.2 L247.7,1075.7 L249.8,1074.7 L251.8,1073.1 L253.7,1071.1 L255.3,1068.7 L256.5,1066.2 L257.2,1063.6 L257.5,1061.1Z" fill="#0b1016" stroke="#f2f2f2" stroke-width="0.9"/>
<path d="M241.8,1069.0 L242.0,1067.0 L242.6,1065.0 L243.5,1063.0 L244.8,1061.1 L246.2,1059.5 L247.9,1058.2 L249.6,1057.4 L251.2,1057.0 L252.7,1057.2 L253.9,1057.8 L271.6,1066.6 L272.6,1067.7 L273.1,1069.1 L273.4,1070.9 L273.1,1072.8 L272.6,1074.9 L271.6,1076.9 L270.4,1078.8 L268.9,1080.4 L267.2,1081.6 L265.6,1082.5 L263.9,1082.8 L262.5,1082.7 L261.2,1082.1 L243.5,1073.2 L242.6,1072.2 L242.0,1070.7Z" fill="#0b1016" stroke="#f2f2f2" stroke-width="0.9"/>
<path d="M273.4,1070.9 L273.2,1069.1 L272.6,1067.7 L271.6,1066.6 L270.4,1066.0 L268.9,1065.9 L267.2,1066.2 L265.6,1067.1 L263.9,1068.3 L262.5,1069.9 L261.2,1071.8 L260.3,1073.8 L259.7,1075.9 L259.5,1077.8 L259.7,1079.6 L260.3,1081.0 L261.2,1082.1 L262.5,1082.7 L263.9,1082.8 L265.6,1082.5 L267.2,1081.6 L268.9,1080.4 L270.4,1078.8 L271.6,1076.9 L272.6,1074.9 L273.2,1072.8 L273.4,1070.9Z" fill="#0b1016" stroke="#f2f2f2" stroke-width="0.9"/>
<path d="M258.6,1078.3 L258.8,1076.1 L259.5,1073.8 L260.5,1071.5 L262.0,1069.4 L263.6,1067.5 L265.5,1066.1 L267.4,1065.2 L269.2,1064.8 L270.9,1064.9 L272.3,1065.6 L275.0,1067.0 L276.0,1068.2 L276.7,1069.8 L276.9,1071.8 L276.7,1074.0 L276.0,1076.3 L275.0,1078.6 L273.6,1080.7 L271.9,1082.5 L270.1,1083.9 L268.1,1084.9 L266.3,1085.3 L264.6,1085.1 L263.2,1084.5 L260.5,1083.1 L259.5,1081.9 L258.8,1080.3Z" fill="#0b1016" stroke="#f2f2f2" stroke-width="0.9"/>
<path d="M276.9,1071.8 L276.7,1069.8 L276.0,1068.2 L275.0,1067.0 L273.6,1066.3 L271.9,1066.1 L270.0,1066.5 L268.2,1067.5 L266.3,1068.9 L264.6,1070.7 L263.2,1072.8 L262.2,1075.1 L261.5,1077.4 L261.3,1079.6 L261.5,1081.6 L262.2,1083.2 L263.2,1084.4 L264.6,1085.1 L266.3,1085.3 L268.2,1084.9 L270.0,1083.9 L271.9,1082.5 L273.6,1080.7 L275.0,1078.6 L276.0,1076.3 L276.7,1074.0 L276.9,1071.8Z" fill="#0b1016" stroke="#f2f2f2" stroke-width="0.9"/><path d="M274.3,1073.1 L274.1,1071.8 L273.7,1070.7 L273.0,1070.0 L272.0,1069.5 L270.9,1069.4 L269.7,1069.7 L268.5,1070.3 L267.3,1071.2 L266.2,1072.4 L265.2,1073.8 L264.5,1075.3 L264.1,1076.8 L263.9,1078.3 L264.1,1079.6 L264.5,1080.7 L265.2,1081.4 L266.2,1081.9 L267.3,1082.0 L268.5,1081.7 L269.7,1081.1 L270.9,1080.2 L272.0,1079.0 L273.0,1077.6 L273.7,1076.1 L274.1,1074.6 L274.3,1073.1Z" fill="#0b1016" stroke="#f2f2f2" stroke-width="0.9"/><path d="M255.6,1062.5 L264.3,1066.9" fill="none" stroke="#f2f2f2" stroke-width="1.1"/><path d="M251.6,1066.9 L260.4,1071.3" fill="none" stroke="#f2f2f2" stroke-width="1.1"/><path d="M249.9,1072.5 L258.6,1076.8" fill="none" stroke="#f2f2f2" stroke-width="1.1"/>
<path d="M260.4,1057.7 L260.6,1055.2 L261.4,1052.6 L262.6,1050.1 L264.1,1047.7 L266.0,1045.7 L268.1,1044.1 L270.1,1043.1 L272.2,1042.6 L274.1,1042.8 L275.6,1043.5 L277.6,1044.6 L297.4,1055.8 L298.4,1057.0 L299.1,1058.6 L299.3,1060.6 L299.1,1062.8 L298.4,1065.1 L297.4,1067.4 L295.9,1069.5 L294.3,1071.3 L292.4,1072.7 L290.6,1073.7 L288.7,1074.1 L287.1,1073.9 L266.1,1064.8 L262.6,1063.0 L261.4,1061.7 L260.6,1059.9Z" fill="#e60012" stroke="#e60012" stroke-width="3.2"/>
<path d="M260.4,1057.7 L260.6,1055.2 L261.4,1052.6 L262.6,1050.1 L264.1,1047.7 L266.0,1045.7 L268.1,1044.1 L270.1,1043.1 L272.2,1042.6 L274.1,1042.8 L275.6,1043.5 L277.6,1044.6 L278.9,1045.9 L279.6,1047.7 L279.9,1049.9 L279.6,1052.4 L278.9,1055.0 L277.6,1057.5 L276.1,1059.9 L274.2,1061.9 L272.2,1063.5 L270.1,1064.5 L268.0,1065.0 L266.1,1064.8 L262.6,1063.0 L261.4,1061.7 L260.6,1059.9Z" fill="#0b1016" stroke="#f2f2f2" stroke-width="0.9"/>
<path d="M279.9,1049.9 L279.6,1047.7 L278.9,1045.9 L277.7,1044.6 L276.1,1043.8 L274.2,1043.6 L272.2,1044.1 L270.1,1045.1 L268.0,1046.7 L266.2,1048.8 L264.6,1051.1 L263.4,1053.6 L262.6,1056.2 L262.4,1058.7 L262.6,1060.9 L263.4,1062.7 L264.6,1064.1 L266.2,1064.8 L268.0,1065.0 L270.1,1064.5 L272.2,1063.5 L274.2,1061.9 L276.1,1059.9 L277.7,1057.5 L278.9,1055.0 L279.6,1052.4 L279.9,1049.9Z" fill="#0b1016" stroke="#f2f2f2" stroke-width="0.9"/>
<path d="M264.2,1057.8 L264.4,1055.8 L265.0,1053.8 L265.9,1051.8 L267.2,1049.9 L268.6,1048.3 L270.3,1047.0 L271.9,1046.2 L273.6,1045.8 L275.1,1046.0 L276.3,1046.6 L294.0,1055.4 L295.0,1056.5 L295.6,1057.9 L295.8,1059.7 L295.6,1061.6 L295.0,1063.7 L294.0,1065.7 L292.8,1067.6 L291.3,1069.2 L289.6,1070.4 L288.0,1071.3 L286.4,1071.7 L284.9,1071.5 L283.6,1070.9 L265.9,1062.0 L265.0,1061.0 L264.4,1059.5Z" fill="#0b1016" stroke="#f2f2f2" stroke-width="0.9"/>
<path d="M295.8,1059.7 L295.6,1057.9 L295.0,1056.5 L294.0,1055.4 L292.8,1054.8 L291.3,1054.7 L289.6,1055.0 L288.0,1055.9 L286.3,1057.1 L284.9,1058.7 L283.6,1060.6 L282.7,1062.6 L282.1,1064.7 L281.9,1066.6 L282.1,1068.4 L282.7,1069.8 L283.6,1070.9 L284.9,1071.5 L286.3,1071.6 L288.0,1071.3 L289.6,1070.4 L291.3,1069.2 L292.8,1067.6 L294.0,1065.7 L295.0,1063.7 L295.6,1061.6 L295.8,1059.7Z" fill="#0b1016" stroke="#f2f2f2" stroke-width="0.9"/>
<path d="M281.0,1067.1 L281.2,1064.9 L281.9,1062.5 L282.9,1060.3 L284.4,1058.2 L286.0,1056.3 L287.9,1054.9 L289.8,1054.0 L291.6,1053.6 L293.3,1053.7 L294.7,1054.4 L297.4,1055.8 L298.4,1057.0 L299.1,1058.6 L299.3,1060.6 L299.1,1062.8 L298.4,1065.1 L297.4,1067.4 L295.9,1069.5 L294.3,1071.3 L292.4,1072.7 L290.6,1073.7 L288.7,1074.1 L287.1,1073.9 L285.6,1073.2 L282.9,1071.9 L281.9,1070.7 L281.2,1069.1Z" fill="#0b1016" stroke="#f2f2f2" stroke-width="0.9"/>
<path d="M299.3,1060.6 L299.1,1058.6 L298.4,1057.0 L297.4,1055.8 L296.0,1055.1 L294.3,1054.9 L292.4,1055.3 L290.6,1056.3 L288.7,1057.7 L287.0,1059.5 L285.6,1061.6 L284.6,1063.9 L283.9,1066.2 L283.7,1068.4 L283.9,1070.4 L284.6,1072.0 L285.6,1073.2 L287.0,1073.9 L288.7,1074.1 L290.6,1073.7 L292.4,1072.7 L294.3,1071.3 L296.0,1069.5 L297.4,1067.4 L298.4,1065.1 L299.1,1062.8 L299.3,1060.6Z" fill="#0b1016" stroke="#f2f2f2" stroke-width="0.9"/><path d="M296.7,1061.9 L296.5,1060.6 L296.1,1059.5 L295.4,1058.8 L294.4,1058.3 L293.3,1058.2 L292.1,1058.5 L290.9,1059.1 L289.7,1060.0 L288.6,1061.2 L287.6,1062.6 L286.9,1064.1 L286.5,1065.6 L286.3,1067.1 L286.5,1068.4 L286.9,1069.5 L287.6,1070.2 L288.6,1070.7 L289.7,1070.8 L290.9,1070.5 L292.1,1069.9 L293.3,1069.0 L294.4,1067.8 L295.4,1066.4 L296.1,1064.9 L296.5,1063.4 L296.7,1061.9Z" fill="#0b1016" stroke="#f2f2f2" stroke-width="0.9"/><path d="M278.0,1051.3 L286.7,1055.7" fill="none" stroke="#f2f2f2" stroke-width="1.1"/><path d="M274.0,1055.7 L282.8,1060.1" fill="none" stroke="#f2f2f2" stroke-width="1.1"/><path d="M272.3,1061.3 L281.0,1065.6" fill="none" stroke="#f2f2f2" stroke-width="1.1"/>
<path d="M573.5,903.6 L573.7,901.1 L574.5,898.5 L575.7,896.0 L577.2,893.6 L579.1,891.6 L581.1,890.0 L583.2,889.0 L585.3,888.5 L587.2,888.7 L588.7,889.5 L590.8,890.5 L610.5,901.6 L611.5,902.9 L612.2,904.5 L612.4,906.5 L612.2,908.7 L611.5,911.0 L610.5,913.3 L609.0,915.4 L607.4,917.2 L605.5,918.6 L603.6,919.6 L601.8,920.0 L600.1,919.8 L579.2,910.7 L575.7,909.0 L574.5,907.6 L573.7,905.8Z" fill="#e60012" stroke="#e60012" stroke-width="3.2"/>
<path d="M573.5,903.6 L573.7,901.1 L574.5,898.5 L575.7,896.0 L577.2,893.6 L579.1,891.6 L581.1,890.0 L583.2,889.0 L585.3,888.5 L587.2,888.7 L588.7,889.5 L590.8,890.5 L592.0,891.8 L592.7,893.6 L593.0,895.8 L592.7,898.3 L592.0,900.9 L590.8,903.4 L589.2,905.8 L587.3,907.8 L585.3,909.4 L583.2,910.4 L581.1,910.9 L579.2,910.7 L575.7,909.0 L574.5,907.6 L573.7,905.8Z" fill="#0b1016" stroke="#f2f2f2" stroke-width="0.9"/>
<path d="M593.0,895.8 L592.7,893.6 L592.0,891.8 L590.8,890.5 L589.2,889.7 L587.3,889.5 L585.3,890.0 L583.2,891.0 L581.1,892.6 L579.3,894.7 L577.7,897.0 L576.5,899.5 L575.7,902.1 L575.5,904.6 L575.7,906.8 L576.5,908.6 L577.7,910.0 L579.3,910.7 L581.1,910.9 L583.2,910.4 L585.3,909.4 L587.3,907.8 L589.2,905.8 L590.8,903.4 L592.0,900.9 L592.7,898.3 L593.0,895.8Z" fill="#0b1016" stroke="#f2f2f2" stroke-width="0.9"/>
<path d="M577.3,903.7 L577.5,901.7 L578.1,899.7 L579.0,897.7 L580.3,895.8 L581.8,894.2 L583.4,892.9 L585.0,892.1 L586.7,891.7 L588.2,891.9 L589.4,892.5 L607.1,901.3 L608.1,902.4 L608.6,903.8 L608.9,905.6 L608.6,907.5 L608.1,909.6 L607.1,911.6 L605.9,913.5 L604.4,915.1 L602.8,916.3 L601.1,917.2 L599.5,917.5 L598.0,917.4 L596.7,916.8 L579.0,908.0 L578.1,906.9 L577.5,905.4Z" fill="#0b1016" stroke="#f2f2f2" stroke-width="0.9"/>
<path d="M608.9,905.6 L608.7,903.8 L608.1,902.4 L607.1,901.3 L605.9,900.7 L604.4,900.6 L602.7,900.9 L601.1,901.8 L599.4,903.0 L598.0,904.6 L596.7,906.5 L595.8,908.5 L595.2,910.6 L595.0,912.5 L595.2,914.3 L595.8,915.7 L596.7,916.8 L598.0,917.4 L599.4,917.5 L601.1,917.2 L602.7,916.3 L604.4,915.1 L605.9,913.5 L607.1,911.6 L608.1,909.6 L608.7,907.5 L608.9,905.6Z" fill="#0b1016" stroke="#f2f2f2" stroke-width="0.9"/>
<path d="M594.1,913.0 L594.3,910.8 L595.0,908.5 L596.0,906.2 L597.5,904.1 L599.1,902.2 L601.0,900.8 L602.9,899.9 L604.7,899.5 L606.4,899.6 L607.8,900.3 L610.5,901.6 L611.5,902.9 L612.2,904.5 L612.4,906.5 L612.2,908.7 L611.5,911.0 L610.5,913.3 L609.0,915.4 L607.4,917.2 L605.5,918.6 L603.6,919.6 L601.8,920.0 L600.1,919.8 L598.7,919.1 L596.0,917.8 L595.0,916.6 L594.3,915.0Z" fill="#0b1016" stroke="#f2f2f2" stroke-width="0.9"/>
<path d="M612.4,906.5 L612.2,904.5 L611.5,902.9 L610.5,901.7 L609.1,901.0 L607.4,900.8 L605.5,901.2 L603.7,902.2 L601.8,903.6 L600.1,905.4 L598.7,907.5 L597.7,909.8 L597.0,912.1 L596.8,914.3 L597.0,916.3 L597.7,917.9 L598.7,919.1 L600.1,919.8 L601.8,920.0 L603.7,919.6 L605.5,918.6 L607.4,917.2 L609.1,915.4 L610.5,913.3 L611.5,911.0 L612.2,908.7 L612.4,906.5Z" fill="#0b1016" stroke="#f2f2f2" stroke-width="0.9"/><path d="M609.8,907.8 L609.6,906.5 L609.2,905.4 L608.5,904.7 L607.5,904.2 L606.4,904.1 L605.2,904.4 L604.0,905.0 L602.8,905.9 L601.7,907.1 L600.7,908.5 L600.0,910.0 L599.6,911.5 L599.4,913.0 L599.6,914.3 L600.0,915.4 L600.7,916.1 L601.7,916.6 L602.8,916.7 L604.0,916.4 L605.2,915.8 L606.4,914.9 L607.5,913.7 L608.5,912.3 L609.2,910.8 L609.6,909.3 L609.8,907.8Z" fill="#0b1016" stroke="#f2f2f2" stroke-width="0.9"/><path d="M591.1,897.2 L599.8,901.6" fill="none" stroke="#f2f2f2" stroke-width="1.1"/><path d="M587.1,901.6 L595.9,906.0" fill="none" stroke="#f2f2f2" stroke-width="1.1"/><path d="M585.4,907.2 L594.1,911.5" fill="none" stroke="#f2f2f2" stroke-width="1.1"/>
<path d="M707.9,836.4 L708.1,833.9 L708.9,831.3 L710.1,828.8 L711.6,826.4 L713.5,824.4 L715.5,822.8 L717.6,821.8 L719.7,821.3 L721.6,821.5 L723.1,822.2 L725.1,823.3 L744.9,834.5 L745.9,835.7 L746.6,837.3 L746.8,839.3 L746.6,841.5 L745.9,843.8 L744.9,846.1 L743.5,848.2 L741.8,850.0 L740.0,851.4 L738.0,852.4 L736.2,852.8 L734.5,852.6 L713.6,843.5 L710.1,841.8 L708.9,840.4 L708.1,838.6Z" fill="#e60012" stroke="#e60012" stroke-width="3.2"/>
<path d="M707.9,836.4 L708.1,833.9 L708.9,831.3 L710.1,828.8 L711.6,826.4 L713.5,824.4 L715.5,822.8 L717.6,821.8 L719.7,821.3 L721.6,821.5 L723.1,822.2 L725.1,823.3 L726.4,824.6 L727.1,826.4 L727.4,828.6 L727.1,831.1 L726.4,833.7 L725.1,836.2 L723.6,838.6 L721.7,840.6 L719.7,842.2 L717.6,843.2 L715.5,843.7 L713.6,843.5 L710.1,841.8 L708.9,840.4 L708.1,838.6Z" fill="#0b1016" stroke="#f2f2f2" stroke-width="0.9"/>
<path d="M727.4,828.6 L727.1,826.4 L726.4,824.6 L725.2,823.3 L723.6,822.5 L721.7,822.3 L719.7,822.8 L717.6,823.8 L715.5,825.4 L713.7,827.5 L712.1,829.8 L710.9,832.3 L710.1,834.9 L709.9,837.4 L710.1,839.6 L710.9,841.4 L712.1,842.8 L713.7,843.5 L715.5,843.7 L717.6,843.2 L719.7,842.2 L721.7,840.6 L723.6,838.6 L725.2,836.2 L726.4,833.7 L727.1,831.1 L727.4,828.6Z" fill="#0b1016" stroke="#f2f2f2" stroke-width="0.9"/>
<path d="M711.7,836.5 L711.9,834.5 L712.5,832.5 L713.4,830.5 L714.7,828.6 L716.1,827.0 L717.8,825.7 L719.5,824.9 L721.1,824.5 L722.6,824.6 L723.8,825.3 L741.5,834.1 L742.5,835.2 L743.0,836.6 L743.3,838.4 L743.0,840.3 L742.5,842.4 L741.5,844.4 L740.3,846.3 L738.8,847.9 L737.1,849.1 L735.5,850.0 L733.9,850.4 L732.4,850.2 L731.1,849.6 L713.4,840.8 L712.5,839.7 L711.9,838.2Z" fill="#0b1016" stroke="#f2f2f2" stroke-width="0.9"/>
<path d="M743.3,838.4 L743.1,836.6 L742.5,835.2 L741.5,834.1 L740.3,833.5 L738.8,833.4 L737.1,833.7 L735.5,834.6 L733.8,835.8 L732.4,837.4 L731.1,839.3 L730.2,841.3 L729.6,843.4 L729.4,845.3 L729.6,847.1 L730.2,848.5 L731.1,849.6 L732.4,850.2 L733.8,850.3 L735.5,850.0 L737.1,849.1 L738.8,847.9 L740.3,846.3 L741.5,844.4 L742.5,842.4 L743.1,840.3 L743.3,838.4Z" fill="#0b1016" stroke="#f2f2f2" stroke-width="0.9"/>
<path d="M728.5,845.8 L728.7,843.6 L729.4,841.2 L730.4,839.0 L731.9,836.9 L733.5,835.0 L735.4,833.6 L737.3,832.7 L739.1,832.3 L740.8,832.4 L742.2,833.1 L744.9,834.5 L745.9,835.7 L746.6,837.3 L746.8,839.3 L746.6,841.5 L745.9,843.8 L744.9,846.1 L743.5,848.2 L741.8,850.0 L740.0,851.4 L738.0,852.4 L736.2,852.8 L734.5,852.6 L733.1,852.0 L730.4,850.6 L729.4,849.4 L728.7,847.8Z" fill="#0b1016" stroke="#f2f2f2" stroke-width="0.9"/>
<path d="M746.8,839.3 L746.6,837.3 L745.9,835.7 L744.9,834.5 L743.5,833.8 L741.8,833.6 L739.9,834.0 L738.1,835.0 L736.2,836.4 L734.5,838.2 L733.1,840.3 L732.1,842.6 L731.4,844.9 L731.2,847.1 L731.4,849.1 L732.1,850.7 L733.1,851.9 L734.5,852.6 L736.2,852.8 L738.1,852.4 L739.9,851.4 L741.8,850.0 L743.5,848.2 L744.9,846.1 L745.9,843.8 L746.6,841.5 L746.8,839.3Z" fill="#0b1016" stroke="#f2f2f2" stroke-width="0.9"/><path d="M744.2,840.6 L744.0,839.3 L743.6,838.2 L742.9,837.5 L741.9,837.0 L740.8,836.9 L739.6,837.2 L738.4,837.8 L737.2,838.7 L736.1,839.9 L735.1,841.3 L734.4,842.8 L734.0,844.3 L733.8,845.8 L734.0,847.1 L734.4,848.2 L735.1,848.9 L736.1,849.4 L737.2,849.5 L738.4,849.2 L739.6,848.6 L740.8,847.7 L741.9,846.5 L742.9,845.1 L743.6,843.6 L744.0,842.1 L744.2,840.6Z" fill="#0b1016" stroke="#f2f2f2" stroke-width="0.9"/><path d="M725.5,830.0 L734.2,834.4" fill="none" stroke="#f2f2f2" stroke-width="1.1"/><path d="M721.5,834.4 L730.3,838.8" fill="none" stroke="#f2f2f2" stroke-width="1.1"/><path d="M719.8,840.0 L728.5,844.3" fill="none" stroke="#f2f2f2" stroke-width="1.1"/>
<path d="M617.2,882.3 L617.5,879.5 L618.5,877.1 L620.0,875.4 L684.2,843.3 L686.2,842.3 L688.6,842.1 L691.2,842.7 L693.9,844.1 L696.5,846.1 L698.9,848.7 L701.0,851.7 L702.5,855.0 L703.5,858.2 L703.8,861.4 L703.5,864.2 L702.5,866.6 L701.0,868.3 L636.8,900.4 L634.8,901.4 L632.4,901.6 L629.8,901.0 L627.0,899.7 L624.4,897.6 L622.0,895.0 L620.0,892.0 L618.5,888.8 L617.5,885.5Z" fill="#e60012" stroke="#e60012" stroke-width="3.2"/><path d="M615.0,880.7 L615.2,878.2 L616.0,875.6 L617.2,873.0 L618.8,870.5 L620.7,868.5 L622.8,866.9 L625.0,865.8 L627.1,865.3 L629.0,865.5 L630.6,866.3 L644.5,873.2 L645.7,874.6 L646.5,876.5 L646.8,878.7 L646.5,881.2 L645.7,883.9 L644.5,886.5 L642.9,888.9 L641.0,891.0 L638.9,892.6 L636.7,893.7 L634.6,894.1 L632.7,894.0 L631.1,893.2 L617.2,886.2 L616.0,884.9 L615.2,883.0Z" fill="#e60012" stroke="#e60012" stroke-width="3.2"/><path d="M637.4,869.5 L637.6,867.0 L638.4,864.4 L639.6,861.8 L641.2,859.4 L643.1,857.3 L645.2,855.6 L647.4,854.6 L649.5,854.1 L651.4,854.3 L653.0,855.1 L666.9,862.0 L668.1,863.4 L668.9,865.2 L669.2,867.5 L668.9,870.0 L668.1,872.7 L666.9,875.3 L665.3,877.7 L663.4,879.8 L661.3,881.4 L659.1,882.5 L657.0,883.0 L655.1,882.8 L653.5,882.0 L639.6,875.0 L638.4,873.7 L637.6,871.8Z" fill="#e60012" stroke="#e60012" stroke-width="3.2"/><path d="M659.8,858.3 L660.0,855.8 L660.8,853.2 L662.0,850.6 L663.6,848.1 L665.5,846.1 L667.6,844.5 L669.8,843.4 L671.9,842.9 L673.8,843.1 L675.4,843.9 L689.3,850.8 L690.5,852.2 L691.3,854.0 L691.6,856.3 L691.3,858.8 L690.5,861.5 L689.3,864.1 L687.7,866.5 L685.8,868.6 L683.7,870.2 L681.5,871.3 L679.4,871.8 L677.5,871.6 L675.9,870.8 L662.0,863.9 L660.8,862.5 L660.0,860.6Z" fill="#e60012" stroke="#e60012" stroke-width="3.2"/>
<path d="M615.0,880.7 L615.2,878.2 L616.0,875.6 L617.2,873.0 L618.8,870.5 L620.7,868.5 L622.8,866.9 L625.0,865.8 L627.1,865.3 L629.0,865.5 L630.6,866.3 L644.5,873.2 L645.7,874.6 L646.5,876.5 L646.8,878.7 L646.5,881.2 L645.7,883.9 L644.5,886.5 L642.9,888.9 L641.0,891.0 L638.9,892.6 L636.7,893.7 L634.6,894.1 L632.7,894.0 L631.1,893.2 L617.2,886.2 L616.0,884.9 L615.2,883.0Z" fill="#fff" stroke="#111" stroke-width="1"/><path d="M646.8,878.7 L646.5,876.4 L645.7,874.6 L644.5,873.2 L642.9,872.4 L641.0,872.2 L638.9,872.7 L636.7,873.8 L634.6,875.4 L632.7,877.5 L631.1,879.9 L629.9,882.5 L629.1,885.1 L628.8,887.7 L629.1,889.9 L629.9,891.8 L631.1,893.2 L632.7,894.0 L634.6,894.2 L636.7,893.7 L638.9,892.6 L641.0,891.0 L642.9,888.9 L644.5,886.5 L645.7,883.9 L646.5,881.2 L646.8,878.7Z" fill="#fff" stroke="#111" stroke-width="1"/>
<path d="M637.4,869.5 L637.6,867.0 L638.4,864.4 L639.6,861.8 L641.2,859.4 L643.1,857.3 L645.2,855.6 L647.4,854.6 L649.5,854.1 L651.4,854.3 L653.0,855.1 L666.9,862.0 L668.1,863.4 L668.9,865.2 L669.2,867.5 L668.9,870.0 L668.1,872.7 L666.9,875.3 L665.3,877.7 L663.4,879.8 L661.3,881.4 L659.1,882.5 L657.0,883.0 L655.1,882.8 L653.5,882.0 L639.6,875.0 L638.4,873.7 L637.6,871.8Z" fill="#fff" stroke="#111" stroke-width="1"/><path d="M669.2,867.5 L668.9,865.2 L668.1,863.4 L666.9,862.0 L665.3,861.2 L663.4,861.0 L661.3,861.5 L659.1,862.6 L657.0,864.2 L655.1,866.3 L653.5,868.7 L652.3,871.3 L651.5,873.9 L651.2,876.5 L651.5,878.7 L652.3,880.6 L653.5,882.0 L655.1,882.8 L657.0,883.0 L659.1,882.5 L661.3,881.4 L663.4,879.8 L665.3,877.7 L666.9,875.3 L668.1,872.7 L668.9,870.0 L669.2,867.5Z" fill="#fff" stroke="#111" stroke-width="1"/>
<path d="M659.8,858.3 L660.0,855.8 L660.8,853.2 L662.0,850.6 L663.6,848.1 L665.5,846.1 L667.6,844.5 L669.8,843.4 L671.9,842.9 L673.8,843.1 L675.4,843.9 L689.3,850.8 L690.5,852.2 L691.3,854.0 L691.6,856.3 L691.3,858.8 L690.5,861.5 L689.3,864.1 L687.7,866.5 L685.8,868.6 L683.7,870.2 L681.5,871.3 L679.4,871.8 L677.5,871.6 L675.9,870.8 L662.0,863.9 L660.8,862.5 L660.0,860.6Z" fill="#fff" stroke="#111" stroke-width="1"/><path d="M691.6,856.3 L691.3,854.0 L690.5,852.2 L689.3,850.8 L687.7,850.0 L685.8,849.8 L683.7,850.3 L681.5,851.4 L679.4,853.0 L677.5,855.1 L675.9,857.5 L674.7,860.1 L673.9,862.7 L673.6,865.3 L673.9,867.5 L674.7,869.4 L675.9,870.8 L677.5,871.6 L679.4,871.8 L681.5,871.3 L683.7,870.2 L685.8,868.6 L687.7,866.5 L689.3,864.1 L690.5,861.5 L691.3,858.8 L691.6,856.3Z" fill="#fff" stroke="#111" stroke-width="1"/>
<path d="M660.0,860.9 L660.3,858.1 L661.3,855.7 L662.8,854.0 L684.2,843.3 L686.2,842.3 L688.6,842.1 L691.2,842.7 L693.9,844.1 L696.5,846.1 L698.9,848.7 L701.0,851.7 L702.5,855.0 L703.5,858.2 L703.8,861.4 L703.5,864.2 L702.5,866.6 L701.0,868.3 L679.6,879.0 L677.5,880.0 L675.2,880.2 L672.5,879.6 L669.8,878.3 L667.2,876.2 L664.8,873.6 L662.8,870.6 L661.3,867.4 L660.3,864.1Z" fill="#fff" stroke="#111" stroke-width="1"/><path d="M682.4,872.1 L682.1,868.9 L681.1,865.6 L679.6,862.4 L677.5,859.4 L675.2,856.8 L672.5,854.8 L669.8,853.4 L667.2,852.8 L664.8,853.0 L662.8,854.0 L661.3,855.7 L660.3,858.1 L660.0,860.9 L660.3,864.1 L661.3,867.4 L662.8,870.6 L664.8,873.6 L667.2,876.2 L669.8,878.3 L672.5,879.6 L675.2,880.2 L677.5,880.0 L679.6,879.0 L681.1,877.3 L682.1,874.9 L682.4,872.1Z" fill="#fff" stroke="#111" stroke-width="1"/>
<path d="M638.6,871.6 L638.9,868.8 L639.9,866.4 L641.4,864.7 L662.8,854.0 L664.8,853.0 L667.2,852.8 L669.8,853.4 L672.5,854.8 L675.2,856.8 L677.5,859.4 L679.6,862.4 L681.1,865.6 L682.1,869.0 L682.4,872.1 L682.1,874.9 L681.1,877.3 L679.6,879.0 L658.2,889.7 L656.1,890.7 L653.8,890.9 L651.1,890.3 L648.4,889.0 L645.8,886.9 L643.4,884.3 L641.4,881.3 L639.9,878.1 L638.9,874.8Z" fill="#fff" stroke="#111" stroke-width="1"/><path d="M661.0,882.8 L660.7,879.6 L659.7,876.3 L658.2,873.1 L656.2,870.1 L653.8,867.5 L651.1,865.4 L648.4,864.1 L645.8,863.5 L643.4,863.7 L641.4,864.7 L639.9,866.4 L638.9,868.8 L638.6,871.6 L638.9,874.8 L639.9,878.1 L641.4,881.3 L643.4,884.3 L645.8,886.9 L648.4,889.0 L651.1,890.3 L653.8,890.9 L656.2,890.7 L658.2,889.7 L659.7,888.0 L660.7,885.6 L661.0,882.8Z" fill="#fff" stroke="#111" stroke-width="1"/>
<path d="M617.2,882.3 L617.5,879.5 L618.5,877.1 L620.0,875.4 L641.4,864.7 L643.4,863.7 L645.8,863.5 L648.4,864.1 L651.1,865.5 L653.8,867.5 L656.1,870.1 L658.2,873.1 L659.7,876.3 L660.7,879.6 L661.0,882.8 L660.7,885.6 L659.7,888.0 L658.2,889.7 L636.8,900.4 L634.8,901.4 L632.4,901.6 L629.8,901.0 L627.0,899.7 L624.4,897.6 L622.0,895.0 L620.0,892.0 L618.5,888.8 L617.5,885.5Z" fill="#fff" stroke="#111" stroke-width="1"/><path d="M639.6,893.5 L639.3,890.3 L638.3,887.0 L636.8,883.8 L634.8,880.8 L632.4,878.2 L629.8,876.1 L627.0,874.8 L624.4,874.2 L622.0,874.4 L620.0,875.4 L618.5,877.1 L617.5,879.5 L617.2,882.3 L617.5,885.5 L618.5,888.8 L620.0,892.0 L622.0,895.0 L624.4,897.6 L627.0,899.7 L629.8,901.0 L632.4,901.6 L634.8,901.4 L636.8,900.4 L638.3,898.7 L639.3,896.3 L639.6,893.5Z" fill="#fff" stroke="#111" stroke-width="1"/>
<path d="M637.4,892.4 L637.1,889.9 L636.3,887.2 L635.1,884.6 L633.5,882.2 L631.6,880.1 L629.5,878.5 L627.3,877.4 L625.2,876.9 L623.3,877.1 L621.7,877.9 L620.5,879.3 L619.7,881.2 L619.4,883.4 L619.7,885.9 L620.5,888.6 L621.7,891.2 L623.3,893.6 L625.2,895.7 L627.3,897.3 L629.5,898.4 L631.6,898.9 L633.5,898.7 L635.1,897.9 L636.3,896.5 L637.1,894.6 L637.4,892.4Z" fill="#fff" stroke="#111" stroke-width="1"/>
<path d="M636.9,891.0 L636.7,889.0 L636.1,886.8 L635.1,884.6 L633.7,882.6 L632.1,880.9 L630.4,879.6 L628.6,878.7 L626.9,878.3 L625.3,878.4 L624.0,879.1 L623.0,880.2 L622.3,881.8 L622.1,883.6 L622.3,885.7 L623.0,887.9 L624.0,890.1 L625.3,892.0 L626.9,893.8 L628.6,895.1 L630.4,896.0 L632.1,896.4 L633.7,896.2 L635.1,895.6 L636.1,894.5 L636.7,892.9 L636.9,891.0Z" fill="#1e4fa6" stroke="#081c45" stroke-width="1"/>
<path d="M634.0,889.6 L633.9,888.3 L633.5,887.0 L632.9,885.7 L632.1,884.5 L631.1,883.5 L630.1,882.6 L629.0,882.1 L627.9,881.9 L627.0,881.9 L626.2,882.3 L625.6,883.0 L625.2,884.0 L625.0,885.1 L625.2,886.4 L625.6,887.7 L626.2,889.0 L627.0,890.2 L627.9,891.2 L629.0,892.0 L630.1,892.6 L631.1,892.8 L632.1,892.7 L632.9,892.3 L633.5,891.7 L633.9,890.7 L634.0,889.6Z" fill="#2a5fbd" stroke="#081c45" stroke-width="0.8"/>
<path d="M857.7,850 V889.5 H676" fill="none" stroke="#000" stroke-width="3.1"/>
<path d="M662,889.5 L681,882.8 L677.5,889.5 L681,896.2Z" fill="#000" stroke="#000" stroke-width="0.5"/>
<line x1="618.6" y1="917.5" x2="641.0" y2="928.7" stroke="#fff" stroke-width="4.8"/><line x1="618.6" y1="917.5" x2="641.0" y2="928.7" stroke="#e60012" stroke-width="2.6"/>
<path d="M605.2,910.8 L629.3,913.9 L623.3,919.9 L622.2,928.2Z" fill="#e60012" stroke="#fff" stroke-width="1"/>
<path d="M621.3,938.3 L621.6,936.5 L622.6,934.8 L624.5,933.3 L627.0,932.0 L648.7,921.3 L651.1,920.7 L653.4,920.9 L655.3,921.9 L677.7,933.0 L679.1,934.7 L680.0,936.9 L680.3,939.5 L680.0,942.5 L679.1,945.6 L677.7,948.7 L675.8,951.5 L673.5,953.9 L671.1,955.9 L647.9,967.5 L645.4,968.8 L642.3,969.7 L638.9,970.2 L635.3,970.4 L631.8,970.0 L628.5,969.3 L625.7,968.2 L623.5,966.8 L622.0,965.1 L621.3,963.4Z" fill="#e60012" stroke="#e60012" stroke-width="3.2"/><path d="M621.3,938.3 L621.6,936.5 L622.6,934.8 L624.5,933.3 L627.0,932.0 L648.7,921.3 L651.1,920.7 L653.4,920.9 L655.3,921.9 L677.7,933.0 L679.1,934.7 L680.0,936.9 L680.3,939.5 L680.0,942.5 L679.1,945.6 L677.7,948.7 L675.8,951.5 L673.5,953.9 L671.1,955.9 L647.9,967.5 L645.4,968.8 L642.3,969.7 L638.9,970.2 L635.3,970.4 L631.8,970.0 L628.5,969.3 L625.7,968.2 L623.5,966.8 L622.0,965.1 L621.3,963.4Z" fill="#fff" stroke="#111" stroke-width="1"/><path d="M636.9,938.9 L637.2,935.9 L638.1,932.8 L639.5,929.7 L641.4,926.9 L643.7,924.5 L646.1,922.5 L648.7,921.3 L651.1,920.7 L653.4,920.9 L655.3,921.9 L677.7,933.0 L679.1,934.7 L680.0,936.9 L680.3,939.5 L680.0,942.5 L679.1,945.6 L677.7,948.7 L675.8,951.5 L673.5,953.9 L671.1,955.9 L668.5,957.1 L666.1,957.7 L663.8,957.5 L661.9,956.5 L639.5,945.4 L638.1,943.7 L637.2,941.5Z" fill="#fff" stroke="#111" stroke-width="1"/><path d="M680.3,939.5 L680.0,936.9 L679.1,934.7 L677.7,933.1 L675.8,932.1 L673.5,931.9 L671.1,932.5 L668.5,933.8 L666.1,935.7 L663.8,938.1 L661.9,940.9 L660.5,944.0 L659.6,947.1 L659.3,950.1 L659.6,952.7 L660.5,954.9 L661.9,956.5 L663.8,957.5 L666.1,957.7 L668.5,957.1 L671.1,955.8 L673.5,953.9 L675.8,951.5 L677.7,948.7 L679.1,945.6 L680.0,942.5 L680.3,939.5Z" fill="#fff" stroke="#111" stroke-width="1"/><path d="M677.9,940.8 L677.6,938.7 L676.9,937.0 L675.8,935.8 L674.4,935.1 L672.7,934.9 L670.8,935.4 L668.8,936.3 L666.9,937.8 L665.2,939.7 L663.8,941.8 L662.7,944.2 L662.0,946.6 L661.7,948.8 L662.0,950.9 L662.7,952.6 L663.8,953.8 L665.2,954.5 L666.9,954.7 L668.8,954.2 L670.8,953.3 L672.7,951.8 L674.4,949.9 L675.8,947.8 L676.9,945.4 L677.6,943.0 L677.9,940.8Z" fill="#fff" stroke="#111" stroke-width="1"/><path d="M674.5,940.2 L674.3,938.5 L673.7,937.0 L672.8,935.9 L671.5,935.3 L670.0,935.2 L668.4,935.6 L666.7,936.4 L665.1,937.7 L663.6,939.3 L662.4,941.1 L661.4,943.1 L660.8,945.2 L660.6,947.2 L660.8,948.9 L661.4,950.4 L662.4,951.4 L663.6,952.0 L665.1,952.2 L666.7,951.8 L668.4,951.0 L670.0,949.7 L671.5,948.1 L672.8,946.2 L673.7,944.2 L674.3,942.2 L674.5,940.2Z" fill="#fff" stroke="#111" stroke-width="0.7"/><path d="M621.3,938.3 L621.6,936.5 L622.6,934.8 L624.5,933.3 L627.0,932.0 L630.1,931.1 L633.5,930.6 L637.1,930.5 L640.6,930.8 L643.9,931.5 L646.7,932.6 L648.9,934.0 L650.4,935.7 L651.1,937.4 L651.1,962.5 L650.8,964.3 L649.8,966.0 L647.9,967.5 L645.4,968.8 L642.3,969.7 L638.9,970.2 L635.3,970.4 L631.8,970.0 L628.5,969.3 L625.7,968.2 L623.5,966.8 L622.0,965.1 L621.3,963.4Z" fill="#fff" stroke="#111" stroke-width="1"/><path d="M646.7,932.6 L648.9,934.0 L650.4,935.7 L651.1,937.4 L650.8,939.2 L649.8,940.9 L647.9,942.5 L645.4,943.7 L642.3,944.7 L638.9,945.2 L635.3,945.3 L631.8,945.0 L628.5,944.2 L625.7,943.1 L623.5,941.7 L622.0,940.1 L621.3,938.3 L621.6,936.5 L622.6,934.8 L624.5,933.3 L627.0,932.0 L630.1,931.1 L633.5,930.6 L637.1,930.4 L640.6,930.8 L643.9,931.5 L646.7,932.6Z" fill="#fff" stroke="#111" stroke-width="1"/><path d="M644.5,933.7 L646.2,934.8 L647.4,936.1 L647.9,937.5 L647.7,938.9 L646.9,940.3 L645.4,941.5 L643.4,942.5 L641.0,943.2 L638.3,943.6 L635.5,943.7 L632.7,943.5 L630.1,942.9 L627.9,942.0 L626.2,940.9 L625.0,939.6 L624.5,938.2 L624.7,936.8 L625.5,935.5 L627.0,934.3 L629.0,933.3 L631.4,932.5 L634.1,932.1 L636.9,932.0 L639.7,932.3 L642.3,932.9 L644.5,933.7Z" fill="#fff" stroke="#111" stroke-width="0.8"/><path d="M640.2,941.9 L644.3,939.9 L640.2,937.9 L644.3,935.9 L640.2,933.8 L636.2,935.9 L632.2,933.8 L628.1,935.9 L632.2,937.9 L628.1,939.9 L632.2,941.9 L636.2,939.9Z" fill="#fff" stroke="#111" stroke-width="0.9"/>
<line x1="667.8" y1="942.6" x2="694.2" y2="955.8" stroke="#fff" stroke-width="4.8"/><line x1="667.8" y1="942.6" x2="694.2" y2="955.8" stroke="#e60012" stroke-width="2.6"/>
<line x1="799.8" y1="834.6" x2="826.0" y2="821.5" stroke="#fff" stroke-width="4.8"/><line x1="799.8" y1="834.6" x2="826.0" y2="821.5" stroke="#e60012" stroke-width="2.6"/>
<path d="M790.3,799.1 L794.6,792.1 L799.9,789.5 L829.1,804.1 L833.5,806.8 L833.5,812.7 L829.1,819.7 L823.9,822.3 L794.6,807.7 L790.3,805.0Z" fill="#fff" stroke="#111" stroke-width="1.15"/><path d="M823.9,806.7 L794.6,792.1" fill="none" stroke="#111" stroke-width="1.03"/><path d="M829.1,804.1 L799.9,789.5" fill="none" stroke="#111" stroke-width="1.03"/><path d="M819.5,819.6 L790.3,805.0" fill="none" stroke="#111" stroke-width="1.03"/><path d="M819.5,813.7 L790.3,799.1" fill="none" stroke="#111" stroke-width="1.03"/><path d="M823.9,811.6 L794.6,796.9" fill="none" stroke="#111" stroke-width="1.03"/><path d="M823.9,806.7 L829.1,804.1 L829.1,808.9 L833.5,806.8 L833.5,812.7 L829.1,814.8 L829.1,819.7 L823.9,822.3 L823.9,817.5 L819.5,819.6 L819.5,813.7 L823.9,811.6Z" fill="#fff" stroke="#111" stroke-width="1.03"/><path d="M810.4,817.2 L810.8,814.3 L811.7,812.0 L813.3,810.2 L837.3,798.2 L839.3,797.2 L841.7,797.0 L844.3,797.6 L847.1,799.0 L849.7,801.0 L852.1,803.6 L854.1,806.7 L855.7,809.9 L856.6,813.3 L857.0,816.4 L856.6,819.3 L855.7,821.6 L854.1,823.4 L830.1,835.4 L828.1,836.4 L825.7,836.6 L823.1,836.0 L820.3,834.6 L817.7,832.6 L815.3,830.0 L813.3,826.9 L811.7,823.7 L810.8,820.3Z" fill="#fff" stroke="#111" stroke-width="1.15"/><path d="M833.0,828.4 L832.7,825.3 L831.7,821.9 L830.1,818.7 L828.1,815.6 L825.7,813.0 L823.1,811.0 L820.3,809.6 L817.7,809.0 L815.3,809.2 L813.3,810.2 L811.7,811.9 L810.7,814.3 L810.4,817.2 L810.7,820.3 L811.7,823.7 L813.3,826.9 L815.3,830.0 L817.7,832.6 L820.3,834.6 L823.1,836.0 L825.7,836.6 L828.1,836.4 L830.1,835.4 L831.7,833.7 L832.7,831.3 L833.0,828.4Z" fill="#fff" stroke="#111" stroke-width="1.15"/><path d="M830.3,827.1 L830.1,824.7 L829.4,822.1 L828.2,819.6 L826.6,817.3 L824.8,815.3 L822.7,813.7 L820.7,812.7 L818.6,812.2 L816.8,812.4 L815.2,813.2 L814.0,814.5 L813.3,816.3 L813.1,818.5 L813.3,820.9 L814.0,823.5 L815.2,826.0 L816.8,828.3 L818.6,830.3 L820.7,831.9 L822.7,832.9 L824.8,833.4 L826.6,833.2 L828.2,832.4 L829.4,831.1 L830.1,829.3 L830.3,827.1Z" fill="#fff" stroke="#111" stroke-width="1.15"/><path d="M831.5,825.3 L831.3,823.2 L830.7,821.0 L829.7,818.9 L828.3,816.9 L826.7,815.1 L825.0,813.8 L823.2,812.9 L821.5,812.5 L819.9,812.6 L818.5,813.3 L817.5,814.4 L816.9,816.0 L816.7,817.9 L816.9,820.0 L817.5,822.2 L818.5,824.3 L819.9,826.3 L821.5,828.1 L823.2,829.4 L825.0,830.3 L826.7,830.7 L828.3,830.6 L829.7,829.9 L830.7,828.8 L831.3,827.2 L831.5,825.3Z" fill="#fff" stroke="#111" stroke-width="0.805"/>
<line x1="799.8" y1="834.6" x2="825.5" y2="821.8" stroke="#fff" stroke-width="4.8"/><line x1="799.8" y1="834.6" x2="825.5" y2="821.8" stroke="#e60012" stroke-width="2.6"/>
<line x1="853.0" y1="808.0" x2="884.0" y2="792.5" stroke="#fff" stroke-width="4.8"/><line x1="853.0" y1="808.0" x2="884.0" y2="792.5" stroke="#e60012" stroke-width="2.6"/>
<path d="M845.7,775.6 L845.9,773.2 L846.7,770.8 L847.8,768.3 L849.3,766.1 L851.1,764.1 L853.1,762.6 L855.1,761.6 L857.1,761.1 L858.9,761.3 L860.4,762.0 L863.3,763.5 L864.4,764.8 L865.1,766.5 L865.4,768.6 L865.1,771.0 L864.4,773.5 L863.3,775.9 L861.8,778.2 L860.0,780.1 L858.0,781.7 L856.0,782.7 L854.0,783.1 L852.2,783.0 L850.7,782.2 L847.8,780.8 L846.7,779.5 L845.9,777.7Z" fill="#fff" stroke="#111" stroke-width="1.15"/><path d="M865.4,768.6 L865.1,766.5 L864.4,764.8 L863.3,763.5 L861.8,762.7 L860.0,762.6 L858.0,763.0 L856.0,764.0 L854.0,765.5 L852.2,767.5 L850.7,769.8 L849.5,772.2 L848.8,774.7 L848.6,777.0 L848.8,779.2 L849.5,780.9 L850.7,782.2 L852.2,783.0 L854.0,783.1 L856.0,782.7 L858.0,781.7 L860.0,780.1 L861.8,778.2 L863.3,775.9 L864.4,773.5 L865.1,771.0 L865.4,768.6Z" fill="#fff" stroke="#111" stroke-width="1.15"/><path d="M849.5,776.6 L849.8,774.5 L850.4,772.3 L851.4,770.1 L852.8,768.1 L854.3,766.4 L856.1,765.0 L857.9,764.1 L859.6,763.7 L861.2,763.9 L862.5,764.5 L888.5,777.5 L889.5,778.6 L890.1,780.2 L890.3,782.1 L890.1,784.2 L889.5,786.4 L888.5,788.5 L887.1,790.5 L885.5,792.3 L883.8,793.6 L882.0,794.5 L880.3,794.9 L878.7,794.8 L877.3,794.1 L851.4,781.1 L850.4,780.0 L849.8,778.4Z" fill="#fff" stroke="#111" stroke-width="1.15"/><path d="M890.3,782.1 L890.1,780.2 L889.5,778.6 L888.5,777.5 L887.1,776.8 L885.5,776.7 L883.8,777.1 L882.0,778.0 L880.3,779.3 L878.7,781.1 L877.3,783.1 L876.3,785.2 L875.7,787.4 L875.5,789.5 L875.7,791.4 L876.3,793.0 L877.3,794.1 L878.7,794.8 L880.3,794.9 L882.0,794.5 L883.8,793.6 L885.5,792.3 L887.1,790.5 L888.5,788.5 L889.5,786.4 L890.1,784.2 L890.3,782.1Z" fill="#fff" stroke="#111" stroke-width="1.15"/><path d="M856.6,767.0 L866.2,771.8" fill="none" stroke="#111" stroke-width="1.15"/><path d="M852.3,773.3 L861.9,778.1" fill="none" stroke="#111" stroke-width="1.15"/><path d="M866.8,789.8 L867.1,786.9 L868.1,784.5 L869.7,782.8 L893.7,770.8 L895.7,769.8 L898.1,769.6 L900.7,770.2 L903.5,771.6 L906.1,773.6 L908.5,776.2 L910.5,779.3 L912.1,782.5 L913.0,785.9 L913.4,789.0 L913.0,791.9 L912.1,794.2 L910.5,796.0 L886.5,808.0 L884.5,809.0 L882.1,809.2 L879.5,808.6 L876.7,807.2 L874.1,805.2 L871.7,802.6 L869.7,799.5 L868.1,796.3 L867.1,792.9Z" fill="#fff" stroke="#111" stroke-width="1.15"/><path d="M889.4,801.0 L889.1,797.9 L888.1,794.5 L886.5,791.3 L884.5,788.2 L882.1,785.6 L879.5,783.6 L876.7,782.2 L874.1,781.6 L871.7,781.8 L869.7,782.8 L868.1,784.5 L867.1,786.9 L866.8,789.8 L867.1,792.9 L868.1,796.3 L869.7,799.5 L871.7,802.6 L874.1,805.2 L876.7,807.2 L879.5,808.6 L882.1,809.2 L884.5,809.0 L886.5,808.0 L888.1,806.3 L889.1,803.9 L889.4,801.0Z" fill="#fff" stroke="#111" stroke-width="1.15"/><path d="M886.7,799.7 L886.5,797.3 L885.8,794.7 L884.6,792.2 L883.0,789.9 L881.2,787.9 L879.1,786.3 L877.1,785.3 L875.0,784.8 L873.2,785.0 L871.6,785.8 L870.4,787.1 L869.7,788.9 L869.5,791.1 L869.7,793.5 L870.4,796.1 L871.6,798.6 L873.2,800.9 L875.0,802.9 L877.1,804.5 L879.1,805.5 L881.2,806.0 L883.0,805.8 L884.6,805.0 L885.8,803.7 L886.5,801.9 L886.7,799.7Z" fill="#fff" stroke="#111" stroke-width="1.15"/><path d="M887.9,797.9 L887.7,795.8 L887.1,793.6 L886.1,791.5 L884.7,789.5 L883.1,787.7 L881.4,786.4 L879.6,785.5 L877.9,785.1 L876.3,785.2 L874.9,785.9 L873.9,787.0 L873.3,788.6 L873.1,790.5 L873.3,792.6 L873.9,794.8 L874.9,796.9 L876.3,798.9 L877.9,800.7 L879.6,802.0 L881.4,802.9 L883.1,803.3 L884.7,803.2 L886.1,802.5 L887.1,801.4 L887.7,799.8 L887.9,797.9Z" fill="#fff" stroke="#111" stroke-width="0.805"/>
<line x1="872.0" y1="798.5" x2="883.5" y2="792.8" stroke="#fff" stroke-width="4.8"/><line x1="872.0" y1="798.5" x2="883.5" y2="792.8" stroke="#e60012" stroke-width="2.6"/>
<line x1="909.5" y1="779.8" x2="922.2" y2="773.4" stroke="#fff" stroke-width="4.8"/><line x1="909.5" y1="779.8" x2="922.2" y2="773.4" stroke="#e60012" stroke-width="2.6"/>
<path d="M995.9,728.0 L996.1,726.1 L996.8,724.6 L997.8,723.5 L1000.6,722.0 L1002.0,721.4 L1003.5,721.3 L1005.2,721.6 L1007.0,722.5 L1008.7,723.9 L1010.2,725.5 L1011.6,727.5 L1012.6,729.6 L1013.2,731.8 L1013.4,733.9 L1013.2,735.7 L1012.6,737.2 L1011.6,738.4 L1008.7,739.8 L1007.4,740.4 L1005.8,740.6 L1004.1,740.2 L1002.3,739.3 L1000.6,738.0 L999.1,736.3 L997.8,734.3 L996.8,732.2 L996.1,730.0Z" fill="#1b4aa0" stroke="#06153a" stroke-width="1"/>
<path d="M1010.5,735.3 L1010.3,733.2 L1009.7,731.1 L1008.7,729.0 L1007.4,727.0 L1005.8,725.3 L1004.1,724.0 L1002.3,723.1 L1000.6,722.7 L999.1,722.8 L997.7,723.5 L996.7,724.6 L996.1,726.1 L995.9,728.0 L996.1,730.0 L996.7,732.2 L997.7,734.3 L999.1,736.3 L1000.6,738.0 L1002.3,739.3 L1004.1,740.2 L1005.8,740.6 L1007.4,740.4 L1008.7,739.8 L1009.7,738.7 L1010.3,737.1 L1010.5,735.3Z" fill="#1b4aa0" stroke="#06153a" stroke-width="1"/>
<path d="M977.5,738.0 L977.7,736.4 L978.3,735.0 L979.2,734.0 L998.4,724.4 L999.5,723.9 L1000.9,723.7 L1002.4,724.1 L1004.0,724.9 L1005.5,726.0 L1006.9,727.5 L1008.1,729.3 L1009.0,731.1 L1009.5,733.0 L1009.7,734.9 L1009.5,736.5 L1009.0,737.9 L1008.1,738.9 L988.9,748.5 L987.7,749.0 L986.3,749.1 L984.8,748.8 L983.2,748.0 L981.7,746.9 L980.3,745.4 L979.2,743.6 L978.3,741.7 L977.7,739.8Z" fill="#1b4aa0" stroke="#06153a" stroke-width="1"/>
<path d="M990.5,744.5 L990.3,742.7 L989.8,740.7 L988.9,738.9 L987.7,737.1 L986.3,735.6 L984.8,734.4 L983.2,733.7 L981.7,733.3 L980.3,733.4 L979.2,734.0 L978.3,735.0 L977.7,736.4 L977.5,738.0 L977.7,739.8 L978.3,741.7 L979.2,743.6 L980.3,745.4 L981.7,746.9 L983.2,748.0 L984.8,748.8 L986.3,749.2 L987.7,749.0 L988.9,748.5 L989.8,747.5 L990.3,746.1 L990.5,744.5Z" fill="#1b4aa0" stroke="#06153a" stroke-width="1"/>
<path d="M971.6,738.9 L971.9,736.7 L972.6,734.9 L973.8,733.6 L977.6,731.7 L979.2,730.9 L981.0,730.8 L983.0,731.2 L985.0,732.2 L987.1,733.8 L988.9,735.8 L990.4,738.1 L991.6,740.6 L992.3,743.1 L992.6,745.5 L992.3,747.7 L991.6,749.5 L990.4,750.8 L986.6,752.7 L985.0,753.5 L983.2,753.6 L981.2,753.2 L979.1,752.1 L977.1,750.6 L975.3,748.6 L973.8,746.3 L972.6,743.8 L971.9,741.3Z" fill="#1b4aa0" stroke="#06153a" stroke-width="1"/>
<path d="M988.7,747.4 L988.5,745.0 L987.8,742.5 L986.6,740.0 L985.0,737.7 L983.2,735.7 L981.2,734.2 L979.1,733.1 L977.1,732.7 L975.3,732.9 L973.8,733.6 L972.6,734.9 L971.9,736.7 L971.6,738.9 L971.9,741.3 L972.6,743.8 L973.8,746.3 L975.3,748.6 L977.1,750.6 L979.1,752.1 L981.2,753.2 L983.2,753.6 L985.0,753.5 L986.6,752.7 L987.8,751.4 L988.5,749.6 L988.7,747.4Z" fill="#1b4aa0" stroke="#06153a" stroke-width="1"/>
<path d="M930.5,761.5 L930.7,759.9 L931.2,758.5 L932.1,757.5 L975.3,735.9 L976.5,735.4 L977.9,735.2 L979.4,735.6 L981.0,736.4 L982.5,737.5 L983.9,739.0 L985.0,740.8 L985.9,742.7 L986.5,744.6 L986.6,746.4 L986.5,748.0 L985.9,749.4 L985.0,750.4 L941.8,772.0 L940.7,772.5 L939.3,772.7 L937.8,772.3 L936.2,771.5 L934.7,770.4 L933.3,768.9 L932.1,767.1 L931.2,765.3 L930.7,763.4Z" fill="#1b4aa0" stroke="#06153a" stroke-width="1"/>
<path d="M943.5,768.0 L943.3,766.2 L942.7,764.3 L941.8,762.4 L940.7,760.6 L939.3,759.1 L937.8,758.0 L936.2,757.2 L934.7,756.8 L933.3,757.0 L932.1,757.5 L931.2,758.5 L930.7,759.9 L930.5,761.5 L930.7,763.3 L931.2,765.3 L932.1,767.1 L933.3,768.9 L934.7,770.4 L936.2,771.6 L937.8,772.3 L939.3,772.7 L940.7,772.6 L941.8,772.0 L942.7,771.0 L943.3,769.6 L943.5,768.0Z" fill="#1b4aa0" stroke="#06153a" stroke-width="1"/>
<path d="M926.8,762.5 L927.0,760.7 L927.6,759.2 L928.6,758.0 L931.5,756.6 L932.8,756.0 L934.4,755.8 L936.1,756.2 L937.9,757.1 L939.6,758.4 L941.1,760.1 L942.5,762.1 L943.5,764.2 L944.1,766.4 L944.3,768.4 L944.1,770.3 L943.5,771.8 L942.5,772.9 L939.6,774.4 L938.2,775.0 L936.7,775.1 L935.0,774.8 L933.2,773.9 L931.5,772.5 L930.0,770.9 L928.6,768.9 L927.6,766.8 L927.0,764.6Z" fill="#1b4aa0" stroke="#06153a" stroke-width="1"/>
<path d="M941.4,769.9 L941.2,767.8 L940.6,765.6 L939.6,763.5 L938.3,761.6 L936.7,759.9 L935.0,758.5 L933.2,757.6 L931.5,757.3 L929.9,757.4 L928.6,758.0 L927.6,759.2 L927.0,760.7 L926.8,762.5 L927.0,764.6 L927.6,766.8 L928.6,768.9 L929.9,770.8 L931.5,772.5 L933.2,773.9 L935.0,774.8 L936.7,775.1 L938.3,775.0 L939.6,774.4 L940.6,773.2 L941.2,771.7 L941.4,769.9Z" fill="#1b4aa0" stroke="#06153a" stroke-width="1"/><path d="M938.9,768.6 L938.8,767.2 L938.4,765.8 L937.7,764.4 L936.8,763.1 L935.8,762.0 L934.7,761.2 L933.5,760.6 L932.4,760.3 L931.4,760.4 L930.5,760.8 L929.8,761.6 L929.4,762.6 L929.3,763.8 L929.4,765.2 L929.8,766.6 L930.5,768.0 L931.4,769.3 L932.4,770.4 L933.5,771.2 L934.7,771.8 L935.8,772.1 L936.8,772.0 L937.7,771.6 L938.4,770.8 L938.8,769.8 L938.9,768.6Z" fill="#1b4aa0" stroke="#06153a" stroke-width="1"/><path d="M1007.6,734.3 L999.2,738.5" fill="none" stroke="#06153a" stroke-width="1"/><path d="M1004.8,728.3 L996.4,732.5" fill="none" stroke="#06153a" stroke-width="1"/><path d="M982.4,746.9 L969.2,753.5" fill="none" stroke="#06153a" stroke-width="1"/><path d="M979.6,740.9 L966.4,747.5" fill="none" stroke="#06153a" stroke-width="1"/><path d="M962.0,757.1 L946.4,764.9" fill="none" stroke="#06153a" stroke-width="1"/><path d="M959.2,751.1 L943.6,758.9" fill="none" stroke="#06153a" stroke-width="1"/>
<path d="M936.6,766.2 L919.6,783.6 L918.5,775.3 L912.5,769.3Z" fill="#e60012" stroke="#fff" stroke-width="1"/>
<line x1="1022.3" y1="723.4" x2="1047.5" y2="710.8" stroke="#fff" stroke-width="4.8"/><line x1="1022.3" y1="723.4" x2="1047.5" y2="710.8" stroke="#e60012" stroke-width="2.6"/>
<path d="M1007.9,730.6 L1024.9,713.2 L1026.0,721.5 L1032.0,727.5Z" fill="#e60012" stroke="#fff" stroke-width="1"/>
<path d="M1010.8,690.3 L1015.1,683.3 L1020.4,680.7 L1049.6,695.3 L1054.0,698.0 L1054.0,703.9 L1049.6,710.9 L1044.4,713.5 L1015.1,698.9 L1010.8,696.2Z" fill="#fff" stroke="#111" stroke-width="1.15"/><path d="M1044.4,697.9 L1015.1,683.3" fill="none" stroke="#111" stroke-width="1.03"/><path d="M1049.6,695.3 L1020.4,680.7" fill="none" stroke="#111" stroke-width="1.03"/><path d="M1040.0,710.8 L1010.8,696.2" fill="none" stroke="#111" stroke-width="1.03"/><path d="M1040.0,704.9 L1010.8,690.3" fill="none" stroke="#111" stroke-width="1.03"/><path d="M1044.4,702.8 L1015.1,688.1" fill="none" stroke="#111" stroke-width="1.03"/><path d="M1044.4,697.9 L1049.6,695.3 L1049.6,700.1 L1054.0,698.0 L1054.0,703.9 L1049.6,706.0 L1049.6,710.9 L1044.4,713.5 L1044.4,708.7 L1040.0,710.8 L1040.0,704.9 L1044.4,702.8Z" fill="#fff" stroke="#111" stroke-width="1.03"/><path d="M1030.9,708.4 L1031.2,705.5 L1032.2,703.1 L1033.8,701.4 L1057.8,689.4 L1059.8,688.4 L1062.2,688.2 L1064.8,688.8 L1067.6,690.2 L1070.2,692.2 L1072.6,694.8 L1074.6,697.9 L1076.2,701.1 L1077.2,704.5 L1077.5,707.6 L1077.2,710.5 L1076.2,712.9 L1074.6,714.6 L1050.6,726.6 L1048.6,727.6 L1046.2,727.8 L1043.6,727.2 L1040.8,725.8 L1038.2,723.8 L1035.8,721.2 L1033.8,718.1 L1032.2,714.9 L1031.2,711.5Z" fill="#fff" stroke="#111" stroke-width="1.15"/><path d="M1053.5,719.6 L1053.2,716.5 L1052.2,713.1 L1050.6,709.9 L1048.6,706.8 L1046.2,704.2 L1043.6,702.2 L1040.8,700.8 L1038.2,700.2 L1035.8,700.4 L1033.8,701.4 L1032.2,703.1 L1031.2,705.5 L1030.9,708.4 L1031.2,711.5 L1032.2,714.9 L1033.8,718.1 L1035.8,721.2 L1038.2,723.8 L1040.8,725.8 L1043.6,727.2 L1046.2,727.8 L1048.6,727.6 L1050.6,726.6 L1052.2,724.9 L1053.2,722.5 L1053.5,719.6Z" fill="#fff" stroke="#111" stroke-width="1.15"/><path d="M1050.8,718.3 L1050.6,715.9 L1049.9,713.3 L1048.7,710.8 L1047.1,708.5 L1045.3,706.5 L1043.2,704.9 L1041.2,703.9 L1039.1,703.4 L1037.3,703.6 L1035.7,704.4 L1034.5,705.7 L1033.8,707.5 L1033.6,709.7 L1033.8,712.1 L1034.5,714.7 L1035.7,717.2 L1037.3,719.5 L1039.1,721.5 L1041.2,723.1 L1043.2,724.1 L1045.3,724.6 L1047.1,724.4 L1048.7,723.6 L1049.9,722.3 L1050.6,720.5 L1050.8,718.3Z" fill="#fff" stroke="#111" stroke-width="1.15"/><path d="M1052.0,716.5 L1051.8,714.4 L1051.2,712.2 L1050.2,710.1 L1048.8,708.1 L1047.2,706.3 L1045.5,705.0 L1043.7,704.1 L1042.0,703.7 L1040.4,703.8 L1039.0,704.5 L1038.0,705.6 L1037.4,707.2 L1037.2,709.1 L1037.4,711.2 L1038.0,713.4 L1039.0,715.5 L1040.4,717.5 L1042.0,719.3 L1043.7,720.6 L1045.5,721.5 L1047.2,721.9 L1048.8,721.8 L1050.2,721.1 L1051.2,720.0 L1051.8,718.4 L1052.0,716.5Z" fill="#fff" stroke="#111" stroke-width="0.805"/>
<line x1="1036.0" y1="716.5" x2="1047.5" y2="710.8" stroke="#fff" stroke-width="4.8"/><line x1="1036.0" y1="716.5" x2="1047.5" y2="710.8" stroke="#e60012" stroke-width="2.6"/>
<line x1="1075.0" y1="697.0" x2="1096.6" y2="686.2" stroke="#fff" stroke-width="4.8"/><line x1="1075.0" y1="697.0" x2="1096.6" y2="686.2" stroke="#e60012" stroke-width="2.6"/>
<g transform="translate(310,153.6) scale(1.36,1)">
<clipPath id="t7"><path d="M-6.00,-68.00h49.82v58.86h-49.82zM14.39,-9.74H26.61V3.30H14.39z"/></clipPath><text x="0.00" y="0" clip-path="url(#t7)" font-family='"Liberation Sans", sans-serif' font-size="68" font-weight="bold" fill="#231815" style="font-kerning:none" stroke="#231815" stroke-width="2.6" stroke-linejoin="round">1</text>
</g>
</svg></body></html>
